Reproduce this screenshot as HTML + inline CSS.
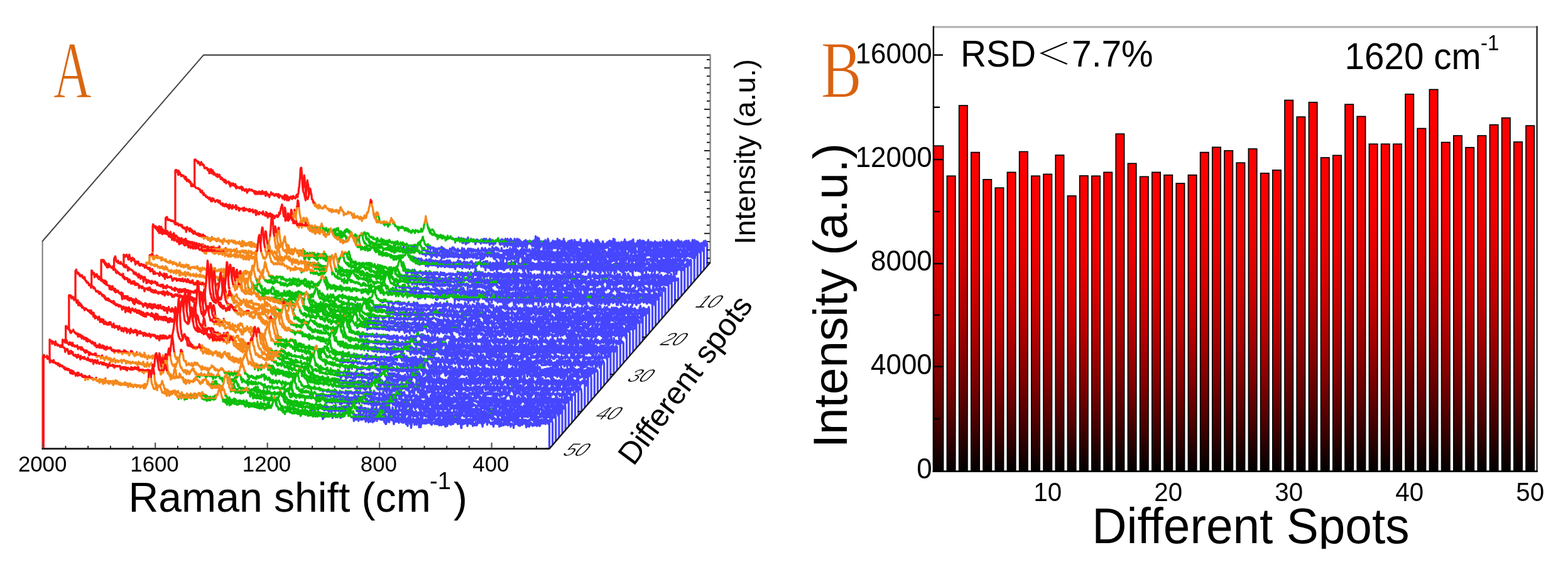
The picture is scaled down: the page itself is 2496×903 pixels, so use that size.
<!DOCTYPE html>
<html><head><meta charset="utf-8"><title>SERS waterfall and bar chart</title>
<style>html,body{margin:0;padding:0;background:#fff;overflow:hidden}svg{display:block}text{font-family:"Liberation Sans",Arial,sans-serif;fill:#000}</style>
</head><body>
<svg width="2496" height="903" viewBox="0 0 2496 903">
<rect width="2496" height="903" fill="#fff"/>
<line x1="67.6" y1="383.8" x2="67.6" y2="714.5" stroke="#7a7a7a" stroke-width="2"/><line x1="67.3" y1="384.5" x2="324" y2="87.6" stroke="#444" stroke-width="2"/><line x1="323.4" y1="87.6" x2="1131" y2="87.6" stroke="#444" stroke-width="2.2"/><line x1="1130.6" y1="86.6" x2="1130.6" y2="418" stroke="#8a8a8a" stroke-width="2.4"/>
<defs><linearGradient id="zg" gradientUnits="userSpaceOnUse" x1="0" y1="0" x2="0" y2="-330.0"><stop offset="0.0000" stop-color="#4646ff"/><stop offset="0.1515" stop-color="#4646ff"/><stop offset="0.1515" stop-color="#0cbf0c"/><stop offset="0.2424" stop-color="#0cbf0c"/><stop offset="0.2424" stop-color="#f5891c"/><stop offset="0.3394" stop-color="#f5891c"/><stop offset="0.3394" stop-color="#ff1414"/><stop offset="1.0000" stop-color="#ff1414"/></linearGradient></defs><g fill="#fff" stroke="url(#zg)" stroke-width="3.3" stroke-linejoin="round" vector-effect="non-scaling-stroke"><path transform="translate(319.97,424.22) scale(0.6692,1.0)" vector-effect="non-scaling-stroke" d="M0 0V-137l1 1 1-3 1 2 1-3 1 4 1 0 1 0 1 1 1 2 1-1 1 2 1-1 1 2 1-5 1 5 1-2 1 2 1-2 1 2 1 2 1-3 1-1 1 2 1 2 1 2 1 0 1-4 1 3 1 2 1-3 1 1 1 1 1 1 1 0 1 1 1 3 1-5 1 3 1 0 1 0 1-1 1 5 1-3 1 4 1-1 1-5 1 3 1 2 1 0 1-2 1 3 1-1 1 1 1 1 1-1 1 0 1-1 1 4 1-4 1 8 1-5 1 0 1 4 1-2 1-1 1 6 1-4 1-1 1 2 1-1 1 3 1 0 1 0 1 1 1 0 1-3 1 2 1 2 1 0 1-4 1 3 1-4 1 4 1 0 1-2 1 2 1 0 1 1 1-2 1 3 1-3 1 6 1-3 1 0 1-2 1 4 1-2 1 1 1 0 1 1 1-3 1 4 1 0 1 2 1 2 1-1 1-4 1 1 1 4 1-2 1 0 1 0 1-1 1 2 1-5 1 4 1 0 1 0 1 2 1 2 1-3 1 0 1-1 1 1 1 3 1-4 1 0 1 0 1 2 1-2 1 5 1 1 1 1 1-3 1-1 1 1 1-1 1 3 1-4 1 2 1-2 1 4 1-3 1-3 1 3 1-1 1 1 1 0 1 1 1-1 1 4 1-5 1-2 1 2 1 4 1-2 1 1 1 1 1-2 1 0 1 2 1-2 1 0 1 3 1-3 1-1 1 3 1-1 1 0 1 0 1 2 1-2 1 0 1 0 1 0 1 2 1-1 1-1 1 0 1 3 1 2 1-4 1 2 1-1 1-3 1 3 1 1 1-1 1-1 1 3 1-1 1 1 1-2 1 0 1 2 1 0 1 0 1 1 1 0 1 0 1 0 1 2 1-4 1 1 1 1 1 1 1-3 1 3 1 0 1 0 1 0 1-4 1 3 1 0 1-2 1 2 1 1 1 0 1-3 1 2 1 0 1 3 1-4 1 0 1 0 1 1 1 1 1 2 1-2 1-1 1 2 1 0 1-1 1-1 1-1 1 4 1-1 1-3 1 1 1-1 1-3 1 0 1 0 1-1 1 0 1-2 1 0 1-6 1-5 1-6 1-7 1-8 1-5 1 5 1 2 1 10 1 8 1 5 1 4 1 4 1 1 1 0 1 4 1 3 1-3 1-2 1 6 1-2 1-1 1 0 1 3 1 0 1-6 1 4 1-1 1-1 1 2 1 1 1 4 1-3 1 4 1-1 1 4 1-2 1 3 1-2 1 0 1-1 1 1 1 3 1-6 1 2 1 0 1 3 1 0 1 0 1 2 1 2 1-4 1 2 1 0 1-3 1 2 1 1 1-2 1 2 1-1 1 0 1-1 1 0 1 1 1 1 1-1 1 0 1 3 1 1 1 0 1-5 1 1 1 4 1-5 1 5 1-1 1 0 1-2 1 6 1-3 1 0 1 3 1-2 1 0 1-2 1 1 1-1 1 1 1 1 1-1 1 1 1-1 1 2 1 0 1-2 1 1 1-4 1 1 1 0 1-4 1 4 1-1 1 3 1-5 1 5 1 0 1 3 1-1 1 1 1 1 1-3 1 4 1 0 1-1 1-1 1 2 1-1 1 1 1-2 1-1 1 3 1-4 1 5 1-8 1 4 1 2 1 0 1 1 1 1 1 3 1-2 1 1 1-2 1 6 1-3 1-1 1 0 1 3 1-3 1 2 1 0 1-3 1 4 1-1 1-1 1 0 1 1 1-1 1 1 1 0 1-1 1 1 1 0 1 1 1-1 1 0 1-1 1 1 1-1 1-2 1 1 1 0 1-2 1 0 1-3 1-1 1 0 1-3 1 2 1-6 1-4 1 0 1 0 1 2 1 3 1 3 1 3 1 4 1 1 1 2 1 1 1-3 1 5 1 0 1 1 1 0 1-2 1 1 1 3 1 1 1-2 1 2 1 0 1 3 1-3 1 2 1 0 1 1 1-1 1-1 1 0 1 2 1-1 1 1 1 0 1 0 1 1 1 0 1-2 1 0 1 4 1-4 1-1 1 2 1 2 1-4 1 1 1-2 1 1 1-2 1 1 1-1 1 0 1 1 1 2 1-3 1 4 1 1 1 1 1 2 1-2 1 0 1 0 1 2 1 1 1-1 1-1 1 1 1-2 1 2 1 0 1-1 1 1 1 1 1 1 1-1 1 0 1 2 1-2 1 0 1 2 1 0 1 0 1-1 1-3 1 7 1-3 1 0 1-1 1 4 1-4 1 2 1 0 1-2 1 2 1-2 1 1 1 1 1-2 1 3 1-4 1 0 1 2 1 3 1-3 1 0 1 0 1 2 1-4 1 1 1 4 1-1 1 3 1-5 1-1 1-1 1 3 1 0 1-1 1 1 1-3 1 2 1 1 1-1 1 4 1-6 1-1 1 0 1-3 1-1 1 0 1 0 1-1 1 1 1 0 1 2 1 0 1 5 1-2 1 3 1-1 1 3 1 5 1-6 1 2 1 1 1-3 1 1 1 2 1 0 1-3 1 3 1-1 1 3 1-3 1 3 1-2 1 4 1-4 1-1 1 4 1-1 1-2 1 1 1 1 1-1 1 1 1-1 1 2 1-1 1 0 1 0 1 1 1-1 1 0 1 1 1 4 1-7 1 3 1 2 1-2 1 1 1-1 1-1 1 1 1 1 1 0 1 1 1-1 1-1 1 1 1 1 1-2 1 1 1-2 1-2 1 4 1-1 1 0 1 2 1 0 1-4 1 2 1-1 1 4 1-3 1-1 1 0 1 7 1-5 1 0 1-1 1 4 1-2 1-2 1 1 1 0 1-4 1 4 1 3 1-2 1 1 1 1 1-2 1-3 1 3 1 0 1 1 1-1 1-1 1 1 1-1 1 0 1 2 1-1 1 0 1 1 1-2 1-1 1 4 1-2 1-1 1 2 1 0 1 0 1-1 1 0 1 1 1 2 1-4 1-1 1 4 1-1 1 0 1-3 1-1 1 6 1-3 1 1 1-1 1-3 1 5 1 0 1-2 1 0 1-1 1 1 1 2 1-1 1-4 1 3 1 3 1-4 1 3 1-2 1 6 1-7 1 4 1-2 1 0 1 0 1 2 1 0 1-1 1 3 1-2 1 0 1-2 1 1 1-1 1 1 1 4 1-4 1-2 1 2 1-1 1-1 1 1 1-2 1-1 1 3 1-2 1 2 1 1 1-2 1 0 1-3 1 5 1-2 1 1 1 3 1-7 1 4 1 3 1-5 1 5 1 1 1-3 1-5 1 9 1-8 1 3 1 4 1-4 1 0 1 0 1-1 1 1 1-4 1 6 1-4 1 2 1-1 1-1 1-2 1 6 1 0 1-5 1 0 1 5 1-4 1 4 1 0 1-2 1 2 1 0 1 0 1 0 1 2 1 2 1-6 1 2 1-1 1-1 1 3 1 0 1 0 1-1 1-2 1 2 1 0 1-2 1 3 1 1 1-4 1 0 1 2 1-2 1 6 1-5 1 0 1 1 1 0 1-2 1 0 1 2 1-4 1 4 1-10 1 8 1 0 1 1 1-7 1 7 1-1 1-5 1 1 1 11 1-6 1 0 1-1 1 2 1 0 1 7 1-2 1-6 1 5 1-2 1-1 1 3 1 2 1-10 1 4 1 2 1-3 1 9 1-7 1-7 1 2 1 3 1 4 1-2 1 5 1-4 1 5 1-4 1-3 1 4 1-1 1-6 1 4 1 0 1 3 1-6 1 1 1 1 1-1 1 4 1-2 1-2 1-5 1 3 1 1 1 1 1 8 1-11 1 8 1-1 1-4 1-1 1 0 1 2 1 2 1 4 1-8 1-4 1 8 1-4 1 3 1 1 1-1 1 8 1-8 1 2 1-3 1 1 1-3 1 0 1 4 1 0 1-5 1 4 1 4 1 1 1-10 1 5 1 6 1-5 1-1 1 1 1-6 1 0 1 8 1 0 1-3 1-2 1 1 1 0 1 1 1 2 1-4 1 10 1-9 1 3 1-1 1-7 1 6 1 5 1-4 1-1 1 5 1-3 1 5 1-7 1 0 1 0 1 1 1-2 1 3 1-6 1-1 1 6 1 0 1-3 1 4 1-2 1 2 1-2 1 2 1-1 1-4 1 9 1-7 1 2 1 1 1 0 1 4 1-3 1-2 1 4 1-5 1-5 1 0 1 3 1 1 1 4 1-8 1 8 1-5 1 0 1 3 1 0 1 2 1-2 1 1 1 2 1 0 1-5 1-2 1 7 1 5 1-6 1 1 1-1 1-2 1 0 1 0 1 2 1-4 1 3 1-1 1 0 1-4 1 5 1-3 1 2 1-4 1 3 1 0 1-3 1 1 1 5 1-2 1-8 1 12 1-5 1-6 1 13 1-5 1 0 1 3 1-4 1 0 1 1 1 3 1-6 1 0 1 2 1 3 1-3 1-1 1 1 1-3 1 3 1-1 1 4 1-4 1-2 1 1 1 3 1-8 1 5 1 2 1-1 1-2 1 4 1-2 1-1 1 2 1-3 1 3 1 1 1 0 1-5 1 5 1-2 1 1 1-5 1 0 1 11 1-13 1 6 1 5 1-4 1 5 1-5 1 2 1-1 1 0 1-2 1-1 1-3 1 5 1-1 1 8 1-7 1-6 1 8 1-6 1 2 1 2 1-3 1 2 1-4 1 7 1-2 1-4 1 2 1 3 1-3 1 2 1-1 1-1 1-1 1 7 1-5 1-5 1 6 1-1 1 5 1-6 1 2 1-3 1 2 1-1 1 7 1-6 1 4 1-1 1-1 1-2 1 0 1-3 1 12 1-6 1-1 1-3 1 2 1 0 1-2 1 1 1 2 1 3 1-4 1-3 1 2 1 5 1-4 1 0 1-1 1 0 1-5 1 6 1 0 1-1 1-2 1 2 1 1 1-1 1 2 1-6 1 7 1 1 1-5 1 3 1-4 1 3 1 0 1 4 1-6 1 6 1-10 1 3 1 5 1 1 1-6 1 3 1 3 1-3 1 1 1-1 1-1 1-3 1 2 1 4 1-2 1 0 1-6 1 10 1-4 1-4 1 5 1 0 1-1 1 1 1-5 1 8 1-2 1 2 1-5 1 3 1-5 1 0 1-1 1 6 1 7 1-8 1-6 1 4 1 6 1-5 1-3 1-2 1 4 1-1 1 0 1 3 1 3 1-5 1 4 1-2 1-7 1 6 1 0 1-5 1 6 1-7 1 2 1 5 1 0 1 2 1-7 1 6 1 6 1-11 1 3 1 0 1-1 1 7 1-2 1-4 1 5 1-5 1-1 1 0 1 0 1 5 1-3 1-5 1 6 1-3 1 5 1-9 1 7 1-2 1 0 1 0V0"/><path transform="translate(314.85,430.15) scale(0.6692,1.0)" vector-effect="non-scaling-stroke" d="M0 0V-149l1-2 1-2 1 3 1-1 1 5 1-5 1 1 1 1 1 2 1-1 1 2 1-1 1 1 1 1 1 1 1 5 1-3 1-2 1 3 1 1 1-1 1 0 1 0 1-2 1 1 1-2 1 3 1 2 1 2 1-4 1 4 1-1 1 2 1-2 1 3 1-1 1 1 1-2 1 2 1 0 1 1 1 1 1-2 1 1 1 0 1-2 1 4 1 1 1-1 1 1 1 0 1 0 1 1 1-2 1 1 1 2 1-1 1 0 1 2 1 1 1-1 1 2 1 3 1-1 1-1 1 1 1 1 1 0 1 2 1 1 1 1 1-3 1 2 1-1 1-2 1 3 1-1 1 1 1-2 1 5 1-2 1-3 1 3 1-2 1 4 1 2 1-5 1 2 1 1 1-3 1 5 1-5 1 4 1 1 1 0 1-1 1 1 1-2 1 5 1 0 1-2 1-1 1-1 1 2 1 0 1-1 1 5 1-2 1-5 1 4 1-3 1 4 1 1 1 3 1-3 1 0 1 0 1 0 1 0 1 1 1 3 1-3 1-4 1 8 1-5 1 1 1-1 1 2 1-1 1 0 1-2 1 3 1 2 1 0 1-5 1 3 1 1 1-2 1-1 1 2 1 1 1-1 1 1 1 3 1-7 1 4 1 1 1-3 1-2 1 2 1 3 1 0 1-1 1 0 1-1 1-2 1 2 1 3 1-1 1 2 1-1 1 2 1 0 1 0 1-1 1-1 1-1 1 3 1-1 1-2 1 0 1 0 1 1 1 0 1 0 1-1 1 4 1-2 1-1 1 2 1-1 1 1 1-1 1-1 1 1 1 1 1 1 1-1 1 0 1 1 1-2 1 1 1-3 1 3 1-2 1 2 1 0 1-1 1 4 1-2 1 0 1 3 1-4 1 1 1-2 1 3 1 0 1-3 1 3 1-2 1 2 1 0 1 1 1 0 1-1 1 2 1-3 1-2 1 6 1 1 1 2 1-8 1 6 1-3 1 1 1 1 1-1 1-1 1 5 1-6 1 2 1 1 1 0 1-2 1 1 1 0 1 0 1-1 1-2 1 2 1-2 1 0 1 0 1-1 1-2 1-1 1-3 1-2 1-5 1-10 1-6 1-11 1-7 1 4 1 10 1 6 1 9 1 7 1 2 1 6 1 5 1 1 1 0 1 0 1 0 1 3 1 3 1-4 1 0 1-1 1-3 1-3 1-4 1 0 1 4 1-3 1 1 1 0 1 9 1 0 1 2 1 2 1 1 1 1 1 1 1 2 1-2 1 0 1 0 1 0 1-2 1 4 1-2 1 3 1-1 1 0 1 2 1 0 1 0 1 2 1-2 1 2 1-1 1-2 1-4 1-1 1 4 1 0 1-3 1 0 1 1 1 0 1 1 1 2 1 1 1 1 1 0 1-1 1-1 1 0 1 3 1 3 1-1 1-1 1 2 1 0 1 3 1-2 1 0 1 2 1-2 1 1 1-3 1 2 1 0 1-2 1 2 1 3 1-2 1-1 1 2 1 0 1-2 1 1 1 0 1-1 1 0 1 3 1-2 1 0 1-2 1 6 1-2 1 1 1-1 1 0 1 4 1-4 1 0 1 2 1-3 1 2 1-1 1 3 1-3 1 0 1-3 1 0 1 1 1 3 1-3 1 1 1-3 1 4 1 1 1 1 1 0 1 3 1-3 1 1 1 1 1 0 1 1 1 2 1-1 1 2 1 0 1-2 1-2 1 3 1-1 1-4 1 3 1-1 1 2 1 0 1 0 1 0 1 1 1 0 1 0 1 2 1-2 1-2 1 1 1 2 1-3 1 4 1-7 1 2 1 0 1-1 1-3 1 5 1-2 1-7 1-2 1-2 1-2 1 4 1-5 1 5 1 5 1 0 1 3 1 1 1 1 1-2 1 7 1-5 1 5 1 2 1 0 1 0 1-2 1 2 1 4 1-3 1 1 1-2 1 5 1-4 1-1 1 7 1-4 1 1 1-1 1 2 1-4 1 4 1-2 1 1 1 1 1 0 1-3 1 6 1-3 1 0 1 0 1 0 1 2 1-3 1 0 1 0 1 0 1 0 1 4 1-5 1 0 1 1 1-3 1 5 1-2 1 1 1 0 1 0 1 4 1-4 1 3 1 0 1-3 1 3 1 0 1 4 1-3 1 1 1 0 1 0 1-4 1 3 1 0 1 3 1 0 1-2 1 3 1-5 1 4 1 0 1 0 1 1 1 0 1-1 1 0 1 1 1 1 1-2 1 3 1-2 1 0 1-2 1 3 1-1 1-2 1 2 1-2 1 1 1 4 1-3 1-1 1 1 1 0 1-4 1 4 1 0 1-1 1 2 1 4 1-4 1 0 1-3 1 3 1 2 1-5 1 4 1 1 1-1 1 0 1 2 1-4 1 0 1-3 1 5 1-5 1 0 1 0 1-2 1-2 1-1 1 0 1-4 1 4 1 0 1 3 1-1 1 4 1 2 1-3 1 5 1-1 1 3 1-2 1 1 1 0 1 2 1 1 1-1 1-2 1 4 1 3 1-2 1-3 1 7 1-2 1 0 1-4 1 2 1-1 1 0 1 1 1-1 1 1 1 0 1 1 1 4 1-5 1 2 1 0 1-3 1 2 1 2 1-3 1 1 1 3 1-2 1-1 1 0 1-4 1 3 1 1 1-2 1 5 1-2 1-3 1 2 1 1 1-1 1-1 1 1 1 4 1 0 1-3 1 4 1-2 1-3 1 1 1 2 1-4 1 3 1-3 1 2 1 0 1 1 1-1 1 2 1 0 1-3 1 3 1-1 1-1 1 2 1 0 1-3 1 3 1 0 1-3 1 3 1-1 1-2 1 2 1-4 1 2 1 0 1 3 1 0 1-2 1-1 1 3 1 0 1 0 1 1 1-2 1 0 1 0 1 3 1-1 1 0 1-1 1 0 1-4 1 4 1 1 1-3 1-2 1 2 1 1 1 1 1 0 1 0 1-2 1 0 1 2 1-2 1 2 1 0 1 1 1 0 1 0 1-3 1 2 1-1 1 0 1 0 1 2 1-2 1 3 1-2 1 4 1-7 1 1 1 4 1-3 1-1 1 5 1-3 1 0 1-1 1-1 1 1 1 2 1-1 1 0 1 5 1-3 1-1 1 1 1 0 1-2 1-3 1 4 1 0 1-1 1 0 1 0 1 6 1-8 1 4 1-1 1-2 1 0 1-2 1 2 1-5 1 3 1-1 1 2 1 3 1 4 1-6 1 1 1 0 1 1 1 1 1-1 1 1 1-4 1 5 1-7 1 3 1 3 1-2 1 1 1 0 1-1 1-1 1 4 1-5 1 8 1 2 1-7 1 1 1 0 1 0 1 0 1-3 1 0 1 4 1 0 1-2 1 3 1-2 1-1 1 8 1-9 1 1 1 1 1 1 1-2 1 1 1-3 1 2 1 1 1-3 1 2 1 3 1-2 1-1 1-4 1 5 1 0 1-7 1 7 1-3 1 5 1-2 1 1 1-5 1 3 1 2 1 1 1-3 1 3 1-4 1-1 1 1 1 1 1-2 1 2 1-5 1 7 1-5 1 3 1-1 1-1 1 5 1-4 1-3 1 5 1-1 1 3 1 1 1-3 1-1 1 4 1 2 1-3 1-1 1 1 1-6 1 3 1-2 1 3 1-1 1-4 1 10 1-6 1 2 1-4 1 4 1-3 1 3 1-1 1 0 1-3 1 1 1 3 1-1 1 3 1 2 1-5 1-2 1 2 1 1 1 0 1 0 1 0 1 1 1-4 1 3 1-4 1 1 1 1 1-1 1-3 1 0 1 6 1 1 1-2 1-4 1 5 1 7 1-1 1-5 1-2 1-1 1 4 1-1 1 0 1 4 1 4 1-8 1 0 1-3 1 6 1-5 1 4 1-2 1 0 1 3 1-7 1 0 1-1 1 14 1-9 1 0 1-3 1 5 1 1 1-5 1 4 1 3 1-1 1-4 1 0 1-1 1 0 1 9 1-12 1 2 1-2 1 3 1 2 1 1 1-6 1 4 1 0 1-1 1 0 1 0 1 1 1 0 1-1 1 2 1 1 1-5 1 2 1 1 1 3 1 3 1-9 1-1 1 6 1-2 1 8 1-7 1-1 1 2 1-3 1-2 1 7 1-3 1 2 1 1 1-1 1-1 1-4 1 2 1 9 1-3 1-10 1 5 1-1 1 2 1-3 1 2 1-1 1 2 1-3 1 3 1 1 1-3 1-2 1 4 1 0 1 1 1-3 1-1 1 4 1-3 1 1 1 3 1-4 1 2 1 1 1-8 1 10 1-3 1-1 1 1 1 6 1-10 1 5 1-2 1-4 1-2 1 2 1 4 1-2 1-2 1 3 1-8 1 9 1-4 1 3 1 0 1 2 1-8 1 8 1-6 1 7 1-2 1 1 1-8 1 9 1-6 1 4 1-6 1 4 1 3 1-2 1 3 1-2 1 6 1-7 1 1 1 2 1 6 1-12 1 7 1-2 1 5 1-5 1 0 1-1 1 1 1 1 1-4 1 3 1 0 1-1 1 1 1-3 1 6 1-4 1 0 1 1 1-4 1 4 1-1 1 0 1-3 1 4 1-4 1-3 1 7 1 1 1-4 1 3 1 1 1 3 1-5 1-4 1 2 1 2 1 1 1-7 1 5 1-4 1 4 1-1 1-1 1 4 1-2 1 3 1-8 1-2 1 6 1 3 1 1 1-2 1 0 1 2 1 2 1-4 1-1 1 6 1-3 1 0 1-1 1-1 1 1 1-3 1 4 1 0 1-3 1-1 1 0 1 5 1-1 1-2 1-6 1 6 1-1 1 2 1-7 1 9 1-3 1 0 1-2 1 0 1 3 1 1 1-8 1 6 1 1 1 2 1-5 1-1 1 2 1 1 1-1 1-5 1 6 1-2 1-1 1 2 1 1 1 2 1-3 1-1 1-3 1 8 1 0 1-3 1-2 1 6 1-4 1 2 1-8 1 7 1 3 1-6 1 3 1-1 1 3 1-3 1 3 1-2 1-1 1 1 1-1 1-3 1 2 1 7 1-12 1 8 1-2 1-1 1 0 1 1 1 0 1-1 1 1 1 1 1-1 1 1 1 1 1-2 1 1 1 0 1-2 1-1 1 2 1 2 1-6 1 8 1-6 1 3 1 0 1-3 1 2 1-5 1 3 1 6 1-3 1-2 1 6 1-5 1-6 1 8 1 1 1-1 1-1 1 1 1-1 1-2 1 2 1 0 1 3 1 1 1-9 1 6 1-6 1 6 1-2 1-1 1 5 1 0 1-4 1 2 1-2 1 1 1 0 1 0 1 1 1-1 1 0 1-1 1 6 1-11 1 6 1-5 1 12 1-3 1-2V0"/><path transform="translate(309.72,436.07) scale(0.6692,1.0)" vector-effect="non-scaling-stroke" d="M0 0V-182l1 2 1-2 1 1 1 0 1 1 1 1 1 0 1 3 1-3 1 1 1 1 1 1 1 3 1-4 1 1 1-2 1 4 1-1 1 0 1 2 1-1 1 1 1 4 1 1 1-1 1 0 1 0 1 1 1-1 1 1 1 3 1-1 1-1 1 1 1 6 1-5 1 3 1-2 1-3 1 7 1-3 1 1 1-3 1 2 1 5 1-2 1-1 1 3 1-1 1 2 1 1 1 0 1 1 1-4 1 5 1-1 1 0 1 0 1-3 1 3 1 0 1 4 1-2 1 2 1-2 1 2 1 2 1-2 1 2 1 0 1 3 1-4 1 2 1-1 1 5 1-3 1 1 1 0 1 0 1 0 1-1 1 4 1-3 1 4 1 3 1-3 1 0 1-2 1 1 1 2 1-1 1-2 1 3 1 0 1-1 1 3 1-4 1 5 1 2 1-4 1 3 1-1 1 0 1 1 1-1 1 0 1 2 1-2 1 0 1 2 1-3 1 2 1 4 1-5 1 2 1 2 1-1 1 1 1 2 1-2 1 1 1 0 1-2 1 3 1 3 1-3 1-1 1 1 1-2 1-1 1 1 1 1 1-1 1 0 1 1 1-1 1 2 1-1 1 1 1 0 1 0 1 3 1-3 1 5 1-3 1 0 1-1 1 4 1-3 1 0 1 3 1-3 1-1 1 3 1-3 1 4 1-2 1 0 1 2 1-4 1-1 1 1 1 4 1-3 1 1 1 1 1-2 1 3 1 3 1-7 1 3 1-1 1 1 1 3 1-2 1 2 1 1 1 2 1-4 1 0 1 0 1-4 1 2 1 1 1 1 1-2 1 0 1 2 1 1 1 1 1-1 1 0 1-2 1 2 1 0 1-2 1 2 1 2 1-1 1-3 1 6 1-2 1-1 1-1 1 1 1 0 1 1 1 0 1 3 1-3 1 3 1-4 1 4 1 2 1-8 1 6 1-2 1 3 1-6 1 8 1-5 1-1 1 2 1 4 1-1 1-1 1-3 1 1 1-2 1 2 1 0 1 2 1-1 1-4 1 0 1 3 1-1 1 0 1 2 1 0 1-2 1-3 1-1 1 3 1 1 1-5 1-1 1-9 1-1 1-9 1-6 1-14 1-2 1 0 1 9 1 9 1 12 1 6 1 3 1 1 1 2 1 4 1 2 1 4 1-5 1 2 1 0 1-1 1 2 1-2 1-2 1-3 1-1 1-6 1-3 1 3 1 5 1 1 1 8 1 1 1 0 1 3 1 3 1-1 1 1 1 4 1-1 1-2 1 1 1 4 1-2 1-1 1 2 1 3 1-3 1-3 1 2 1 3 1-3 1 2 1 1 1 0 1 1 1-1 1 0 1 1 1-3 1 0 1 1 1-3 1 3 1-2 1 2 1 1 1 1 1 0 1 1 1-1 1 3 1 0 1 1 1-3 1 0 1 3 1 0 1 2 1-5 1 3 1-2 1 3 1 0 1-1 1-1 1 0 1 2 1 0 1-3 1 3 1-2 1 1 1-1 1 4 1 1 1-2 1-3 1-1 1-4 1 0 1 5 1-2 1 2 1 0 1 2 1 0 1 6 1-4 1 1 1 1 1-1 1 0 1 1 1 0 1-1 1-1 1-2 1 2 1 1 1-2 1 0 1 0 1 0 1 1 1 0 1 4 1-2 1 1 1 5 1-3 1-4 1 4 1 3 1-3 1 0 1 2 1-1 1 1 1-1 1-1 1 2 1 1 1 1 1-2 1 3 1-3 1-1 1 1 1 0 1 6 1-5 1 1 1-1 1 1 1 0 1-5 1 1 1 3 1-4 1 4 1-3 1-5 1-1 1 1 1-2 1-2 1-5 1-1 1-4 1-2 1-5 1 2 1 0 1 8 1 1 1 3 1 5 1 5 1 2 1 3 1 0 1 0 1 3 1 0 1 4 1-4 1 4 1-3 1 1 1 2 1-1 1 1 1-1 1 1 1 1 1 0 1-1 1-1 1 0 1 2 1-1 1 3 1-5 1 7 1-5 1 1 1 2 1-2 1-2 1 5 1-2 1 5 1-6 1 3 1-3 1 3 1-4 1-3 1 1 1-5 1 3 1 2 1-2 1 6 1-1 1-2 1 1 1 4 1 2 1-1 1 1 1 1 1 0 1 1 1 2 1-3 1 6 1-5 1 1 1-1 1 0 1 1 1-1 1 1 1-2 1 2 1-2 1 1 1 1 1 1 1 0 1 3 1-4 1 0 1 0 1 4 1 0 1-3 1 0 1 4 1 1 1-3 1 1 1 2 1 0 1-1 1 3 1-3 1 2 1-3 1-1 1 1 1 0 1 1 1 1 1 2 1-1 1-4 1 1 1 1 1 0 1 0 1-1 1 3 1-2 1 0 1 1 1 0 1 0 1-1 1-4 1 3 1 2 1-1 1-3 1 0 1-2 1-5 1-2 1-4 1-2 1-6 1 5 1 5 1 0 1 5 1 2 1 3 1 1 1 2 1 2 1 2 1-4 1 5 1 0 1 0 1 2 1 0 1 0 1 0 1 0 1 0 1-1 1 0 1 2 1 1 1-1 1 1 1-2 1 7 1-5 1 1 1 1 1-3 1 3 1-2 1 0 1-2 1 5 1 0 1 1 1-2 1-3 1 2 1 2 1 0 1-2 1 1 1 5 1-5 1 2 1-1 1 2 1-6 1 4 1 0 1 1 1-1 1-1 1-1 1-1 1 4 1 0 1 0 1 1 1-2 1 2 1 0 1 0 1 0 1 1 1 4 1-6 1 3 1-3 1 3 1 0 1-1 1-2 1 3 1 0 1 0 1 2 1-2 1-3 1 0 1 4 1-4 1 7 1-5 1 5 1-4 1 1 1 0 1-3 1 3 1 5 1-3 1-3 1 3 1 1 1-1 1-5 1 4 1 1 1-2 1 0 1 0 1-3 1 3 1 0 1-3 1 3 1 1 1-2 1-2 1 3 1 1 1 0 1 4 1-3 1-3 1 2 1-2 1 1 1 1 1-1 1 1 1-1 1 1 1 1 1-2 1 4 1-7 1 1 1 2 1 2 1 0 1 0 1 0 1 1 1-2 1-1 1 2 1-1 1 2 1-2 1-2 1 3 1-3 1 3 1 0 1 1 1 3 1-1 1-4 1 3 1-3 1 3 1-3 1-3 1 3 1 5 1-5 1 1 1-2 1 4 1-1 1-5 1 1 1-1 1 2 1-1 1-4 1 2 1 4 1-1 1 5 1-3 1 4 1-4 1-1 1-1 1 3 1 2 1-5 1 0 1-1 1 10 1-5 1 0 1 0 1 2 1-5 1 3 1 5 1-4 1-1 1 2 1-3 1 3 1-1 1 1 1 1 1-5 1 4 1-2 1-2 1 4 1 6 1-7 1 2 1-4 1 5 1-3 1 7 1-5 1 1 1-5 1 3 1-1 1 4 1-2 1-4 1 3 1-2 1 2 1 2 1-5 1 5 1 1 1-3 1 4 1-5 1 0 1 2 1 0 1-1 1 4 1 0 1-4 1 7 1-6 1-2 1-2 1 0 1 1 1-4 1-1 1 2 1 1 1 3 1-3 1 3 1 3 1-3 1 1 1 1 1 1 1-1 1 0 1 1 1 5 1-2 1-8 1 6 1-1 1 4 1-4 1 0 1-1 1-4 1 6 1 0 1 1 1-2 1-1 1-7 1 5 1 0 1 0 1 10 1-6 1-1 1 5 1-2 1-4 1 1 1 4 1 1 1-5 1 2 1 1 1-2 1 0 1-6 1 10 1-6 1 2 1 0 1-2 1 7 1-4 1 1 1-4 1 1 1 3 1 0 1-3 1 3 1 0 1-5 1 5 1 0 1 0 1 5 1-5 1-2 1 1 1-2 1 4 1-1 1 1 1 1 1 1 1-1 1 0 1-2 1 1 1-2 1 0 1 2 1-1 1 1 1 1 1-2 1 0 1-5 1 3 1 7 1-5 1 4 1-5 1-2 1 2 1 5 1-3 1 2 1-3 1-1 1 0 1 2 1-1 1 3 1-7 1 0 1 11 1-7 1 0 1 3 1 4 1 2 1-9 1 10 1-7 1-3 1 7 1-6 1 2 1 0 1-1 1 1 1-4 1 2 1 1 1 3 1-3 1-7 1 3 1 7 1-3 1-1 1 0 1 3 1-1 1-2 1-1 1 0 1 0 1 1 1 8 1-6 1-1 1 1 1-1 1 0 1 0 1 7 1-11 1-2 1 5 1 2 1-1 1-4 1 3 1 0 1 0 1-5 1 6 1 4 1-4 1-4 1 7 1 1 1 1 1-1 1-2 1-4 1 1 1-1 1 1 1 1 1-3 1 4 1-1 1-1 1-1 1-1 1 1 1-1 1 1 1-2 1-2 1 3 1-1 1 2 1 0 1 1 1 3 1-1 1 1 1-2 1-1 1-1 1 3 1-1 1 2 1-4 1 1 1 1 1 1 1-7 1 6 1-6 1 7 1 1 1-3 1-3 1 6 1-5 1 3 1-4 1-1 1 5 1-5 1 7 1-2 1 0 1 1 1-1 1-2 1 5 1-3 1 0 1 2 1-3 1 2 1-2 1 1 1-1 1-3 1 0 1 4 1 2 1 0 1-4 1 1 1 0 1-1 1 2 1-3 1 2 1 0 1-2 1 2 1-1 1-3 1 4 1-2 1 2 1-1 1-4 1-3 1 1 1 3 1 0 1 0 1 3 1 2 1 7 1-9 1 0 1 0 1 2 1-1 1 0 1 1 1-1 1 3 1-2 1 0 1 0 1 2 1 1 1-3 1 4 1-6 1 5 1-4 1 2 1-4 1 5 1 1 1-3 1-1 1 3 1-1 1-1 1 2 1 0 1-1 1 1 1 2 1-7 1 7 1-9 1 4 1 2 1-3 1 7 1-5 1 2 1 0 1-4 1 9 1-9 1 7 1-5 1 3 1-1 1-4 1 2 1 5 1-2 1-1 1-2 1 9 1-10 1 0 1-3 1 7 1 0 1-4 1 2 1 2 1 5 1-5 1-3 1-1 1 3 1-5 1 4 1 0 1 0 1 0 1 1 1-3 1 2 1 2 1-2 1-4 1 3 1 5 1-3 1 0 1 7 1-13 1 2 1 7 1-4 1 1 1 1 1-1 1 4 1-6 1 2 1-2 1-1 1 2 1 1 1 2 1-3 1 0 1-1 1 4 1 3 1-9 1 3 1 5 1-5 1 5 1-5 1 1 1-1 1 4 1-7 1-1 1-2 1 4 1 3 1-7 1 5 1-1 1 1 1 2 1-4 1 2 1 3 1-1 1 2 1-2 1-6 1 6 1 1 1-3 1 6 1-1 1-5 1 4 1-4 1-1 1 2 1 4 1-2 1-2 1-5V0"/><path transform="translate(304.60,442.00) scale(0.6692,1.0)" vector-effect="non-scaling-stroke" d="M0 0V-127l1 2 1 1 1-1 1-1 1 0 1-3 1 2 1 1 1 2 1 1 1-1 1 2 1-2 1 1 1 3 1-3 1 4 1-1 1-4 1 3 1-1 1 0 1 3 1-1 1 2 1 2 1 0 1 0 1-2 1 0 1 0 1 2 1-1 1 2 1 0 1-1 1 2 1-4 1 5 1 1 1-3 1 0 1 4 1-1 1 0 1 2 1-2 1-1 1 0 1 2 1-1 1 1 1-1 1 2 1-5 1 6 1-2 1 0 1-1 1 3 1-1 1 2 1 2 1-1 1 0 1 1 1-1 1 2 1 0 1 1 1 0 1 5 1-4 1-1 1 0 1 1 1-1 1 1 1 1 1 1 1-2 1-1 1 2 1 2 1-2 1 1 1-2 1 6 1-5 1 1 1-2 1 1 1 5 1-5 1 1 1 2 1 1 1-1 1 0 1 0 1 4 1-2 1-2 1 0 1 0 1 0 1 1 1-2 1 2 1 2 1-2 1 0 1 1 1-4 1 5 1 1 1-3 1 3 1-1 1 0 1 1 1-1 1 2 1-2 1 3 1-2 1-3 1 3 1-2 1 2 1 2 1-1 1-2 1 3 1-3 1 1 1-3 1 3 1 0 1 0 1 0 1-3 1 3 1-1 1 1 1 3 1-2 1 0 1 0 1 1 1 0 1 0 1 3 1-2 1-1 1 0 1-2 1 2 1 0 1 0 1 1 1 3 1-4 1 0 1 1 1-1 1 0 1 0 1 5 1-7 1 3 1 1 1-1 1 2 1-1 1-2 1 1 1-3 1 5 1-1 1 0 1 4 1-4 1 1 1 0 1 1 1-1 1 0 1-2 1 0 1-2 1 0 1 3 1 1 1-1 1 3 1-3 1 1 1-1 1 0 1 3 1-4 1 5 1-3 1 2 1 2 1-3 1 1 1 1 1-3 1 2 1-4 1 3 1 1 1 2 1-4 1 4 1-3 1 1 1 0 1 3 1-2 1 4 1-5 1 0 1 2 1-2 1 1 1-2 1 3 1-1 1-1 1-4 1 2 1 2 1-2 1 2 1 1 1-4 1 5 1-4 1-3 1 6 1-5 1 0 1 3 1-5 1-2 1-4 1-5 1-7 1-3 1-8 1 1 1 4 1 7 1 5 1 6 1 2 1 4 1 3 1 5 1-3 1 1 1 3 1-1 1-2 1 2 1 1 1-2 1 0 1 3 1-3 1-8 1 5 1-3 1 7 1-2 1 3 1 1 1 3 1-1 1-1 1 1 1 2 1-2 1-1 1 2 1 1 1 4 1-2 1-2 1 2 1-5 1 4 1 1 1-1 1 2 1-4 1 3 1-1 1 2 1-1 1-2 1 1 1 2 1-4 1-1 1 0 1-4 1 4 1 0 1 6 1-3 1 2 1 0 1-1 1 4 1-2 1 1 1-4 1 3 1 2 1 0 1 3 1-2 1-4 1 1 1 1 1 2 1 0 1-1 1 0 1 6 1-3 1-2 1 2 1-5 1 6 1-7 1 5 1 0 1-2 1-1 1-3 1 3 1-2 1-1 1-1 1 4 1 1 1 4 1-3 1 1 1 1 1-3 1 3 1 1 1 0 1 3 1-5 1 1 1 0 1 0 1-4 1 3 1 0 1-2 1-3 1 1 1-1 1 4 1-3 1 2 1 3 1-1 1-2 1 3 1 1 1 0 1 0 1 1 1 4 1-1 1 1 1-1 1 2 1-2 1-2 1-1 1 7 1-4 1 2 1-3 1 5 1-1 1-1 1 4 1-5 1 2 1-2 1-2 1 3 1 0 1-4 1 4 1-3 1 1 1 5 1-4 1-1 1 3 1-5 1-1 1 1 1-2 1 0 1-1 1 1 1 0 1 0 1 2 1 2 1 1 1 0 1 1 1-1 1 0 1 0 1 1 1 2 1 0 1-2 1 3 1-1 1 1 1 0 1 0 1 0 1 1 1 4 1-7 1 1 1 3 1-1 1 3 1-2 1 0 1 0 1 2 1 0 1-5 1 2 1 3 1-3 1 0 1 3 1-3 1 2 1 0 1 1 1-1 1 0 1 0 1 2 1-3 1 2 1 0 1-1 1 2 1-4 1 2 1 0 1 2 1 0 1 1 1 0 1-1 1-1 1 2 1-1 1 3 1-1 1 3 1-6 1 5 1-2 1-1 1 2 1-5 1 1 1 4 1 1 1-2 1 0 1 0 1 0 1-2 1 2 1 2 1-2 1 2 1-4 1 4 1 5 1-7 1 3 1-2 1 1 1 0 1 0 1-2 1 1 1 1 1 1 1 0 1 1 1-1 1 0 1 0 1 0 1 0 1 1 1 0 1-1 1 2 1-1 1 0 1-2 1 2 1 2 1-4 1 2 1-2 1 2 1 0 1-1 1 2 1-6 1 5 1-4 1 1 1-1 1 1 1-5 1 1 1-2 1 0 1-2 1-3 1-1 1 6 1 0 1 2 1 3 1 1 1 1 1 1 1-1 1 2 1 0 1 2 1-5 1 7 1-4 1 1 1 1 1-3 1 7 1-3 1 0 1-1 1 1 1-1 1 0 1 6 1-5 1 1 1-1 1 1 1 1 1 4 1-4 1-1 1 1 1 0 1-1 1 1 1-2 1 2 1 0 1 0 1-2 1 2 1-4 1 9 1-8 1 4 1-3 1 6 1-5 1 2 1-1 1 1 1 1 1 1 1 0 1-2 1 1 1 3 1-2 1 0 1 0 1-2 1-2 1 1 1 0 1 2 1-3 1 0 1-2 1 3 1 0 1-3 1 5 1-3 1 1 1 0 1 2 1 2 1-1 1-2 1 1 1-3 1 5 1-3 1 1 1 1 1 0 1-1 1 0 1 1 1 0 1-5 1 4 1-1 1 0 1 1 1-3 1 3 1 1 1 2 1-2 1 2 1-3 1 0 1 4 1-7 1 2 1 1 1-3 1 3 1 1 1-2 1-2 1 6 1-3 1 1 1-3 1 4 1-4 1 3 1-2 1 0 1 0 1 3 1-3 1 2 1 0 1 0 1 0 1-4 1 2 1 2 1-1 1 3 1-2 1-1 1 0 1 0 1-4 1 0 1 3 1 1 1-1 1 2 1-3 1 3 1-5 1 10 1-7 1 2 1-2 1 1 1-1 1 1 1 0 1-3 1 6 1-6 1 3 1-1 1 0 1 1 1-1 1-5 1 5 1-3 1 8 1-6 1-1 1 0 1 2 1-4 1 0 1 3 1 2 1-4 1 1 1 0 1 1 1 3 1-1 1 1 1 0 1 0 1-1 1-4 1 5 1 0 1-1 1 0 1 1 1-1 1 0 1 0 1 3 1-3 1 2 1-3 1 2 1-2 1 0 1 4 1 1 1-5 1 6 1-9 1 3 1 1 1-1 1 4 1-4 1-2 1 10 1-10 1 5 1-1 1-4 1 3 1 3 1-7 1 11 1-6 1 1 1-3 1 10 1-6 1-1 1 4 1-4 1-2 1-1 1 6 1-3 1-5 1 9 1-5 1 2 1-5 1 3 1-3 1 7 1-6 1 1 1 3 1-3 1-2 1 1 1 1 1 2 1-1 1 1 1-4 1 1 1 3 1 0 1 2 1-2 1 3 1-8 1 6 1 7 1-6 1-6 1 6 1-1 1-7 1 4 1 3 1 2 1-2 1 0 1-4 1 3 1-4 1-2 1 3 1 4 1 1 1-1 1-1 1-1 1 0 1 3 1-2 1 2 1-3 1 10 1-11 1 1 1 4 1-1 1 0 1-1 1-4 1-2 1 5 1 4 1-9 1 0 1 9 1-5 1 1 1 0 1-1 1 9 1-6 1 0 1-2 1 4 1-1 1 1 1 2 1-5 1 2 1-1 1 1 1-3 1 4 1-5 1 1 1 3 1-1 1 0 1-1 1-1 1 8 1-5 1-4 1 5 1-6 1 4 1 5 1-7 1 3 1-7 1 2 1 1 1 0 1 7 1 2 1-6 1 0 1 0 1-1 1-1 1-1 1-2 1 3 1-2 1 7 1 3 1-6 1-4 1 4 1 3 1 0 1-1 1-5 1 4 1-4 1-2 1 4 1-3 1 6 1 0 1 0 1 6 1-12 1 7 1-3 1 2 1-2 1 0 1-1 1 3 1-1 1 2 1-2 1-4 1-3 1 13 1-10 1 1 1 6 1-2 1-5 1 5 1-5 1 3 1-6 1 6 1 4 1-4 1 1 1 4 1-7 1-1 1-3 1 5 1 0 1 3 1-8 1 4 1 0 1 0 1-1 1 4 1 2 1-9 1 12 1-5 1-1 1 6 1-4 1-4 1 2 1 0 1 7 1-6 1 2 1-3 1 0 1 0 1 0 1-3 1 2 1-4 1 4 1 2 1-2 1-3 1 4 1-3 1 2 1 2 1 1 1 1 1-3 1-2 1 2 1-6 1 13 1-10 1 5 1-8 1 9 1-7 1 4 1 1 1 4 1-3 1-1 1-5 1-2 1 10 1-4 1 6 1-3 1-4 1 0 1-3 1 0 1 6 1-3 1-1 1 0 1 2 1 0 1 0 1 1 1-1 1-3 1 4 1 0 1 0 1-3 1 4 1-1 1-2 1 1 1-3 1 3 1 3 1-3 1 2 1-2 1 0 1 0 1-3 1-1 1 1 1 0 1-2 1 0 1 6 1-6 1 5 1-2 1-3 1 4 1-9 1 2 1 13 1-8 1-3 1 4 1 0 1 0 1 1 1 0 1 0 1-5 1 9 1-2 1 6 1-3 1-2 1-5 1 4 1-2 1 1 1-6 1 8 1-1 1 0 1 1 1 2 1-3 1 1 1 5 1-9 1 4 1 7 1-9 1 1 1-1 1 1 1 2 1-3 1 1 1-4 1 4 1 1 1 0 1-1 1 0 1-1 1 1 1-7 1 8 1-6 1 5 1-1 1-5 1 4 1-3 1 4 1 2 1-2 1 0 1 6 1-2 1-8 1 3 1-1 1 5 1-9 1 7 1 1 1-2 1 0 1 4 1-7 1 0 1 5 1-3 1-2 1 3 1 0 1 2 1-2 1 1 1-3 1 5 1 3 1-9 1 6 1-3 1-1 1 2 1-5 1 5 1 1 1 2 1-8 1 6 1-5 1 4 1-5 1 8 1-6 1-4 1 5 1 4 1-9 1 5 1 4 1-8 1 10 1-1 1 5 1-8 1 1 1 3 1-4 1-3 1 6 1-4 1 2 1-2 1 1 1 0 1 7 1-8 1 1 1-2 1 4 1-8 1 13 1-5 1-3 1 4 1-2 1-1 1-2 1-2 1 4 1-1 1 7 1-10 1 3 1-3 1 6 1-2 1-1 1 8 1-9 1 1 1-1 1 4 1-4 1 2V0"/><path transform="translate(299.47,447.92) scale(0.6692,1.0)" vector-effect="non-scaling-stroke" d="M0 0V-128l1-1 1 0 1 2 1-3 1 1 1 3 1-1 1 0 1-2 1 3 1 1 1 3 1-3 1 0 1 0 1 1 1-1 1 1 1 1 1 1 1 4 1-4 1 2 1-3 1 3 1 0 1-2 1 2 1-3 1 3 1-2 1 5 1 1 1 3 1-6 1 2 1-1 1 1 1-3 1 2 1 2 1 1 1 0 1 0 1 0 1-1 1 0 1 0 1 3 1 0 1-1 1 0 1 0 1 0 1 3 1 2 1-2 1 1 1 2 1-3 1 1 1 0 1-1 1 2 1-2 1 2 1 1 1 0 1 1 1 1 1-1 1 1 1 1 1-1 1 1 1 2 1-3 1 2 1-2 1 0 1 4 1-1 1-1 1 2 1-2 1 1 1-2 1 4 1-2 1 1 1 0 1-3 1 4 1 0 1-2 1 3 1-2 1-2 1 1 1 2 1 5 1-8 1 4 1 1 1 2 1-1 1 2 1-3 1 0 1 1 1-2 1 4 1-2 1-1 1 0 1 1 1 1 1 2 1-1 1-2 1 0 1 1 1-2 1 2 1-1 1-1 1 4 1 0 1-6 1 5 1-1 1 1 1-2 1 7 1-4 1-1 1 2 1-1 1-2 1 5 1-2 1-2 1 1 1-1 1 1 1 1 1-1 1-2 1 2 1 0 1-1 1 1 1 1 1-1 1-2 1 6 1-5 1 2 1-1 1 2 1-2 1-1 1 5 1-6 1 6 1 3 1-6 1 1 1 4 1-4 1 1 1-4 1 0 1 2 1 2 1-2 1 1 1 2 1-2 1 2 1-1 1 2 1-1 1-1 1-1 1 0 1 3 1-2 1 1 1 0 1 0 1-1 1-2 1 5 1-1 1-2 1 1 1 1 1-2 1 6 1-7 1 3 1-2 1 0 1 0 1 1 1 0 1 4 1-3 1-1 1 1 1-1 1 1 1 0 1-1 1 2 1 0 1 3 1-3 1 0 1 1 1 0 1 0 1 1 1-2 1 3 1-2 1 2 1-3 1 1 1-1 1 2 1-1 1-1 1 1 1-1 1 3 1-2 1 2 1-3 1 1 1-2 1 0 1 3 1-4 1-2 1-2 1 3 1-2 1-6 1-5 1-1 1-8 1 4 1 8 1-1 1 5 1 4 1 1 1 2 1 1 1 2 1 1 1 2 1 0 1-2 1 0 1 1 1-4 1 1 1 0 1-4 1-4 1-4 1 0 1 0 1 6 1 0 1 0 1 4 1 2 1 1 1 4 1 0 1 1 1 1 1-1 1 1 1 0 1 1 1-3 1 3 1 0 1 0 1-1 1 3 1-1 1-4 1 3 1-1 1 2 1-4 1 4 1-2 1-1 1 2 1-1 1-1 1 1 1 0 1-4 1 3 1 3 1-1 1 2 1-2 1 3 1 4 1-4 1-3 1 3 1-2 1 6 1-1 1-2 1 2 1 2 1-1 1 0 1-1 1 0 1 0 1 0 1 0 1-2 1 4 1-1 1-4 1 2 1 2 1-1 1 1 1 0 1-1 1 1 1 1 1-3 1-2 1 3 1 2 1-2 1-1 1 1 1 3 1-4 1 3 1 0 1 0 1 2 1-2 1 0 1 1 1 1 1-4 1 3 1 1 1 1 1-2 1-1 1-1 1 0 1 2 1-2 1 3 1-1 1 5 1 0 1-3 1 0 1 3 1 1 1 1 1-1 1-3 1 4 1 0 1-3 1 3 1-1 1-2 1 0 1-2 1 6 1-3 1 0 1 1 1-1 1 2 1-1 1 2 1 0 1-3 1 1 1 0 1 1 1-1 1-3 1 3 1 3 1-3 1-3 1 1 1-2 1 1 1-3 1-1 1-3 1-1 1-1 1 0 1 2 1 2 1 6 1-3 1 5 1-1 1 0 1-1 1 3 1 3 1-4 1 7 1 1 1-4 1-1 1 2 1-2 1 2 1 3 1-2 1-1 1 1 1 0 1 1 1 1 1-3 1 3 1 0 1 1 1-1 1-1 1 1 1 1 1-2 1 5 1-5 1 2 1 0 1 0 1-3 1 0 1-2 1 2 1 1 1 1 1-1 1 0 1-4 1 5 1-3 1 0 1 0 1 3 1 1 1-4 1 4 1-1 1 4 1-1 1-1 1-1 1 3 1-2 1 1 1 2 1 2 1-2 1-2 1-2 1 2 1 2 1-2 1 3 1-1 1-1 1 1 1 0 1 0 1-2 1 2 1 2 1-2 1 0 1 0 1-3 1 4 1-1 1 0 1 1 1 1 1 0 1 2 1 0 1-1 1 0 1 1 1-2 1 2 1-6 1 4 1 4 1-5 1 0 1-2 1 4 1 0 1-1 1 0 1 0 1-3 1 0 1 8 1-4 1-3 1 7 1-4 1-2 1 4 1-3 1-2 1 1 1 5 1-3 1-3 1 3 1-7 1 0 1-2 1-3 1 0 1 0 1 4 1 1 1 1 1 2 1 1 1 2 1-2 1 4 1-1 1-1 1-2 1 4 1-1 1 1 1 0 1 2 1-2 1 4 1-6 1 4 1 0 1 2 1-2 1 2 1-2 1 1 1 2 1-2 1 1 1 0 1-1 1 0 1 0 1 0 1-1 1-1 1 1 1 4 1-4 1-1 1 3 1-3 1 4 1 2 1-3 1 1 1 0 1-2 1-4 1 3 1-3 1 4 1 0 1 4 1-2 1-3 1 1 1 1 1-2 1 2 1 1 1-2 1 1 1 3 1-3 1 2 1-2 1 0 1-1 1 4 1-2 1 1 1-3 1 4 1-4 1-2 1 4 1 0 1-1 1-1 1 4 1-3 1 2 1 0 1-2 1 3 1 0 1-2 1 0 1 2 1-2 1 1 1 3 1-2 1 0 1 0 1 0 1 0 1-3 1 2 1 1 1-4 1 2 1-2 1 3 1 0 1 0 1-4 1 5 1-4 1 4 1-2 1 1 1-1 1 2 1-4 1 4 1 2 1-3 1 3 1-3 1 0 1 2 1 1 1-1 1-2 1 0 1-1 1 3 1 1 1-3 1-1 1 1 1 1 1 0 1-1 1-2 1 3 1-2 1 0 1-3 1 5 1 0 1 3 1-2 1-3 1 2 1-4 1 4 1-2 1 2 1-2 1 2 1 1 1 0 1-1 1 2 1-5 1 0 1 1 1 7 1-9 1 1 1-1 1 2 1 1 1 0 1-1 1 1 1 3 1-10 1 4 1-1 1 4 1-4 1 1 1 6 1-3 1-2 1 5 1 1 1-2 1 0 1-4 1 0 1 2 1 1 1-2 1 2 1 4 1-2 1-2 1 0 1 1 1-1 1 1 1-1 1 3 1-8 1 3 1 3 1-6 1 5 1 0 1 0 1-1 1-4 1 3 1 3 1 3 1-8 1 3 1 1 1 0 1-4 1 9 1-2 1-2 1-6 1 5 1 1 1 1 1 1 1 5 1-5 1 0 1-2 1 1 1-7 1 2 1 3 1 3 1-2 1 5 1-7 1 1 1-5 1 5 1-4 1 3 1-2 1 1 1-3 1 4 1 0 1 2 1-4 1-1 1 2 1-2 1 2 1 1 1 0 1 5 1-5 1 2 1 2 1 0 1-1 1-3 1 2 1 0 1-1 1-5 1 7 1-1 1 1 1-1 1 0 1-3 1-4 1 6 1-4 1 6 1-3 1-3 1 6 1-9 1 7 1 0 1-5 1 1 1 7 1-2 1-1 1 2 1-5 1 7 1-8 1 6 1-1 1 0 1 2 1-1 1 1 1-3 1 3 1 2 1-6 1 4 1-6 1 5 1-1 1-1 1 2 1-5 1 2 1-1 1 3 1 3 1-1 1 1 1-3 1-5 1 5 1 1 1 3 1-3 1 1 1-1 1 0 1-5 1 5 1-3 1 8 1-5 1-2 1 2 1 4 1-3 1-2 1-4 1 6 1 2 1-5 1 1 1 2 1-1 1 0 1-2 1-1 1 3 1-5 1 5 1-1 1 1 1 2 1-1 1 0 1-2 1 0 1-3 1 4 1-3 1 4 1-2 1 4 1-7 1 3 1-1 1 1 1 1 1 1 1-4 1 3 1 3 1 0 1-3 1 0 1 1 1 0 1-4 1 1 1 4 1-5 1 7 1-7 1 0 1 6 1-9 1 3 1 5 1-3 1 1 1 2 1-1 1 0 1-2 1 0 1-5 1 7 1-1 1 1 1 0 1-2 1-1 1 1 1 4 1-2 1-2 1-1 1-1 1 3 1-1 1 6 1-5 1 1 1-1 1 0 1 3 1 1 1-5 1 0 1-5 1 6 1 4 1-1 1-10 1 5 1 3 1-1 1 1 1-3 1 0 1-3 1 3 1 1 1-4 1 4 1-2 1 4 1-1 1-1 1 1 1-3 1 3 1-4 1 4 1 0 1 1 1 1 1-1 1-4 1 2 1-1 1 2 1 2 1-4 1 2 1-3 1 7 1-4 1-1 1-4 1 6 1-8 1 6 1 3 1 5 1-12 1 4 1-1 1 2 1 3 1-4 1-1 1 2 1-6 1 3 1 9 1-6 1-5 1 2 1 0 1 4 1-5 1 2 1 1 1-2 1 3 1-5 1 7 1-2 1-3 1 2 1-3 1 1 1 2 1 1 1 0 1 0 1 1 1 6 1-7 1-2 1 0 1 1 1 0 1 1 1 2 1-1 1-3 1-4 1 4 1 2 1-1 1 3 1 1 1 0 1-4 1-1 1 3 1-7 1 8 1-3 1-1 1 7 1-5 1-1 1-1 1 0 1 0 1 5 1 0 1-7 1 6 1-2 1-3 1 8 1-8 1 2 1 2 1 1 1-2 1-2 1 4 1-1 1-1 1-3 1 2 1 0 1-6 1 6 1-3 1 2 1 0 1 1 1-1 1-2 1 5 1-1 1 0 1-4 1 4 1-1 1 0 1-5 1 13 1-6 1-5 1 3 1 1 1-6 1 8 1 4 1-11 1 2 1 2 1 2 1-3 1 4 1-3 1 3 1-2 1 7 1-8 1 0 1-6 1 7 1-2 1 3 1-1 1 0 1-7 1 9 1-3 1-2 1-3 1 4 1 4 1-7 1 4 1 1 1-4 1 11 1-9 1 0 1 0 1 3 1-5 1 5 1-1 1-4 1-1 1 5 1-1 1-3 1 3 1 1 1 0 1-1 1-1 1 3 1 1 1-4 1 3 1 0 1 0 1 0 1 1 1-3 1 2 1-3 1 4 1-2 1-6 1 5 1-3 1 5 1-4 1 6 1-9 1 0 1 4 1 3 1-3 1-1 1 2 1-2 1 3 1-3 1 4 1-2 1 0 1 2 1-1 1-4 1 7 1-4 1 0 1 4 1 1 1-4V0"/><path transform="translate(294.34,453.84) scale(0.6692,1.0)" vector-effect="non-scaling-stroke" d="M0 0V-122l1-3 1 3 1-2 1 2 1-1 1 2 1 1 1-1 1 2 1-2 1 0 1-1 1 6 1-3 1-4 1 4 1 3 1-4 1 4 1-3 1 2 1-2 1 2 1 0 1 2 1-4 1 5 1-2 1 1 1 2 1 0 1 2 1-3 1 3 1-3 1 0 1 3 1 0 1-1 1 0 1 4 1-5 1 1 1 1 1-1 1-1 1 5 1-4 1 2 1 1 1 3 1-5 1 3 1 1 1 1 1-3 1 4 1-2 1 1 1 0 1 0 1 3 1-1 1 2 1-2 1 2 1-4 1 2 1 2 1 1 1 0 1-1 1-2 1 0 1 0 1 4 1-2 1 1 1 0 1 0 1 2 1 0 1 0 1 0 1-2 1 3 1 3 1-4 1-3 1 4 1 1 1-3 1 2 1 1 1 0 1-1 1 1 1 0 1 1 1-2 1-1 1 4 1 2 1-2 1-4 1 1 1 1 1-4 1 1 1 4 1 0 1 0 1 0 1-1 1 0 1 3 1-2 1 4 1-1 1-1 1 2 1-2 1 3 1-4 1 1 1 1 1-1 1 1 1-2 1 2 1 0 1-2 1 0 1 0 1 4 1 1 1-6 1-1 1 5 1-1 1 0 1 1 1 2 1-1 1-5 1 3 1 1 1 1 1-2 1-1 1 3 1-2 1 5 1-2 1-2 1 3 1-2 1 0 1 4 1-5 1 0 1 0 1 1 1 1 1-1 1 0 1 0 1 0 1 1 1-2 1 2 1 0 1 0 1-4 1 3 1 3 1-1 1-2 1-2 1 3 1 0 1 5 1-3 1-3 1 3 1-1 1 0 1 0 1-1 1 1 1 1 1-1 1 0 1 3 1-6 1 3 1-3 1 2 1 5 1-1 1-4 1 2 1-3 1-1 1 3 1 0 1 1 1-2 1 1 1 3 1-3 1 2 1 2 1-2 1-1 1 1 1 1 1-1 1 1 1 1 1 2 1-3 1 1 1 0 1 0 1-1 1 3 1-2 1-2 1-1 1 1 1 1 1 0 1 0 1-3 1 4 1-2 1 3 1-4 1 4 1-2 1-1 1-1 1 0 1-3 1-3 1 1 1 2 1-5 1-8 1-4 1-7 1-5 1 2 1 6 1 7 1 8 1 3 1 4 1 0 1-2 1 6 1-1 1 0 1-2 1-1 1 3 1 0 1-1 1-1 1-3 1-3 1 0 1-5 1-1 1 2 1 2 1 3 1 3 1 3 1 2 1 1 1 5 1-3 1 0 1 2 1 0 1 1 1-1 1 2 1 0 1 0 1 1 1 1 1-4 1 2 1 2 1 0 1-2 1 1 1 1 1-2 1 2 1-2 1 3 1-5 1 3 1-2 1 3 1-1 1 1 1 0 1 1 1-1 1 1 1 0 1 2 1 0 1 1 1-1 1 0 1 1 1 0 1 1 1-1 1 0 1-1 1-1 1 5 1-4 1 2 1-1 1-1 1 0 1 0 1 0 1 2 1 0 1 1 1-1 1-1 1 0 1 0 1 1 1 2 1-3 1-2 1 0 1 6 1-4 1 0 1 0 1 0 1 5 1-6 1 3 1-4 1 3 1 2 1-4 1 4 1 2 1-1 1-1 1-1 1 1 1-4 1 3 1-5 1 3 1-1 1 2 1 0 1 1 1 0 1 0 1 0 1 1 1 2 1 1 1-1 1-2 1 2 1 2 1-2 1-1 1 1 1 0 1 1 1 0 1 0 1-1 1 1 1 2 1-4 1 0 1 4 1-3 1 1 1 1 1 0 1 1 1-2 1 1 1-1 1-3 1 4 1 0 1-2 1 1 1-1 1-1 1-4 1 0 1-3 1-3 1 0 1-1 1 0 1-3 1 3 1 1 1 3 1 4 1 1 1 2 1 2 1 1 1-1 1 1 1 1 1 2 1 0 1 0 1 0 1 1 1-1 1 1 1 0 1 0 1 1 1 0 1 3 1-1 1-3 1 3 1 0 1-1 1-2 1-2 1 3 1 1 1 2 1-2 1 3 1-2 1-1 1 0 1-3 1 4 1 0 1-1 1 1 1 0 1-4 1 4 1-3 1 2 1-1 1 1 1 2 1 3 1-3 1 1 1 0 1-1 1 1 1 1 1-3 1 1 1 0 1 2 1-4 1 4 1 0 1 1 1-2 1 0 1-2 1 5 1 1 1-4 1 3 1 0 1 1 1-2 1 2 1 2 1-6 1 5 1-2 1 1 1-3 1 1 1-2 1 3 1-1 1-1 1 0 1 3 1-1 1 0 1 1 1-2 1 1 1-1 1 1 1 1 1 2 1-1 1-2 1-2 1 4 1-3 1 2 1 0 1-2 1 2 1 1 1 0 1-1 1 0 1 0 1 2 1-2 1-1 1 2 1 1 1-2 1 0 1 1 1-1 1-1 1-2 1 5 1-4 1 3 1-2 1-2 1 2 1-1 1-1 1 2 1 0 1 1 1 1 1-3 1 4 1 1 1-1 1 0 1 0 1-3 1 4 1 1 1-1 1 1 1-1 1 1 1 0 1-1 1 0 1 4 1-4 1 0 1 1 1 0 1 0 1-1 1 0 1 0 1 2 1 0 1-1 1 2 1 3 1-2 1 1 1-3 1 1 1-4 1 2 1 0 1 1 1 2 1 0 1-3 1 0 1 5 1-3 1 0 1-1 1 1 1 0 1 0 1-1 1 0 1 2 1 0 1-2 1 6 1-5 1 4 1-2 1-3 1 3 1 2 1-1 1-5 1 4 1-1 1-2 1 0 1 3 1 1 1-4 1 3 1-1 1 1 1-1 1-2 1-1 1 4 1-2 1 2 1-1 1-1 1 2 1-1 1 2 1-1 1-1 1 0 1 1 1 0 1-2 1 2 1-1 1 1 1-1 1 3 1 0 1-1 1-3 1 2 1-1 1-4 1 5 1 1 1 0 1-1 1-2 1 5 1-3 1 4 1-7 1 4 1-1 1 1 1-1 1-1 1 3 1-1 1-1 1-1 1-1 1 1 1 2 1-1 1-1 1 1 1 0 1-4 1 5 1-2 1 3 1-4 1 3 1-3 1 2 1-1 1 1 1 3 1-2 1-4 1 6 1-2 1 0 1 0 1 1 1 0 1 0 1 0 1 3 1-5 1-2 1 4 1 2 1-3 1 2 1-3 1 2 1-2 1-1 1-1 1 0 1-1 1-2 1 4 1 1 1-1 1-3 1-2 1-1 1 4 1-1 1 4 1-3 1-2 1 4 1-1 1 1 1 0 1 3 1-2 1 4 1-3 1 3 1-8 1 5 1 0 1-3 1 3 1 0 1-3 1 3 1 1 1-2 1 2 1 2 1-3 1 1 1-5 1 5 1-3 1 7 1 2 1-5 1-3 1 2 1-1 1 1 1 1 1 0 1 0 1 4 1-6 1 2 1-5 1 4 1 3 1-2 1 1 1-3 1 3 1-2 1 1 1 0 1-3 1 2 1 1 1 1 1-1 1 1 1-3 1 0 1 1 1-1 1 0 1 1 1 2 1-3 1 7 1-7 1 1 1-4 1 0 1 2 1 0 1-1 1 2 1 2 1 2 1-6 1 7 1-1 1-4 1 6 1-2 1-2 1 2 1 3 1-7 1 4 1-6 1 8 1-3 1-2 1 4 1-3 1 0 1-1 1-4 1 4 1-4 1 5 1-2 1 1 1-2 1 2 1-3 1 6 1-1 1-1 1 0 1 1 1-3 1 3 1-5 1 0 1 10 1-6 1-2 1 7 1-6 1 1 1 0 1 1 1-3 1 3 1 1 1-1 1-6 1 6 1 2 1-2 1-2 1 1 1 0 1-1 1 4 1-1 1-4 1 4 1-1 1-2 1 2 1-3 1 12 1-9 1 1 1 0 1 1 1-1 1-3 1 2 1 2 1-3 1-1 1 3 1 2 1-4 1 1 1-1 1 9 1-4 1-9 1 6 1 1 1 4 1-5 1 1 1 2 1-3 1 3 1-7 1 6 1-5 1 4 1 1 1-3 1 1 1 3 1-5 1 1 1 0 1 1 1-3 1 1 1 5 1-7 1 2 1 2 1 4 1 0 1-2 1-1 1-2 1 2 1-3 1 1 1 1 1 0 1 1 1-1 1 1 1-1 1-1 1 0 1 1 1-2 1 2 1-5 1 7 1-3 1 1 1-1 1 4 1-3 1 2 1-3 1-1 1 0 1-2 1 5 1-2 1-4 1 6 1 0 1-1 1 7 1-9 1 3 1-2 1 4 1-2 1-1 1-1 1 1 1-1 1-3 1 5 1-1 1-3 1 4 1-1 1 0 1-6 1 6 1-1 1 7 1-5 1-2 1 3 1-4 1-3 1 3 1 0 1 3 1 1 1-7 1 4 1-4 1 3 1-3 1 11 1-9 1 0 1 1 1 3 1 0 1-6 1 5 1-2 1-5 1 8 1 3 1 2 1-6 1-3 1 1 1 1 1 9 1-7 1 1 1 0 1 1 1 3 1-6 1 1 1 0 1 0 1-3 1 3 1 2 1-2 1 1 1-1 1-1 1 1 1-2 1 3 1-6 1 1 1 3 1-2 1 4 1-1 1-5 1 4 1-2 1-1 1 1 1 2 1 0 1 4 1-7 1 2 1 5 1-7 1 4 1-4 1 5 1 4 1-10 1 0 1 3 1-4 1 7 1-2 1-9 1 2 1 3 1 2 1-1 1 9 1-7 1-3 1 5 1 1 1-2 1-2 1 2 1-3 1-1 1 6 1-1 1-3 1 3 1-2 1 3 1-3 1 0 1 1 1-2 1 3 1-1 1-2 1 1 1 1 1 6 1-4 1-1 1-2 1-2 1-2 1 6 1-6 1 7 1 1 1-6 1 7 1-3 1-2 1 1 1-2 1 3 1 0 1 0 1-2 1 1 1 0 1-1 1 1 1-1 1 1 1-2 1 4 1 0 1 0 1-4 1 3 1-5 1 5 1-5 1 3 1-1 1 4 1-7 1 7 1-2 1 1 1 1 1 3 1 2 1 2 1-8 1 0 1 4 1 2 1 1 1-7 1-2 1-2 1 4 1-2 1 3 1 4 1-6 1 2 1-1 1 3 1-4 1-2 1 2 1 4 1-2 1 1 1-9 1 7 1 3 1-5 1 4 1 2 1-4 1 5 1-6 1 0 1 1 1-2 1-1 1 3 1 1 1-2 1 1 1 1 1-6 1 7 1-1 1 0 1-3 1 1 1-3 1 5 1-4 1 2 1 4 1-2 1-4 1 3 1 2 1 1 1-2 1-1 1 3 1 0 1-6 1 4 1-2 1-2 1 2 1 0 1 1 1-1 1 2 1-3 1 1 1 4 1 5 1-8 1 0 1 0 1-1 1 1V0"/><path transform="translate(289.22,459.77) scale(0.6692,1.0)" vector-effect="non-scaling-stroke" d="M0 0V-132l1-3 1 0 1 4 1 2 1-1 1 0 1-1 1 1 1 0 1 0 1 1 1 3 1-3 1 1 1 0 1 3 1-1 1 1 1 0 1-4 1 3 1 0 1 0 1 5 1-3 1 0 1 0 1 3 1-1 1 0 1 1 1 0 1 1 1 2 1 1 1-2 1 0 1-3 1 2 1 2 1-2 1 0 1-1 1 2 1 1 1 0 1 4 1-3 1 4 1-3 1 1 1 1 1 1 1-1 1 2 1-1 1-1 1 5 1-6 1 1 1 3 1-2 1 1 1 1 1 1 1 0 1 2 1-2 1 1 1-3 1 3 1 6 1-4 1 3 1-2 1-1 1 1 1-1 1 1 1-2 1 3 1 1 1 0 1 0 1 1 1-1 1 0 1 4 1-4 1 2 1-1 1 1 1 1 1-2 1 3 1 0 1-3 1 2 1-2 1 2 1-1 1-1 1 4 1 2 1-4 1-3 1 4 1 0 1-1 1 5 1-4 1 0 1-1 1 2 1 0 1 3 1-2 1 2 1-1 1 2 1-2 1 1 1 0 1 3 1-8 1 4 1 1 1-2 1 0 1 1 1 1 1-1 1 1 1-2 1 2 1-3 1 3 1 1 1-3 1 5 1-7 1 0 1 4 1 0 1 1 1-1 1-1 1 2 1-1 1 1 1-1 1-1 1 1 1 0 1 1 1-1 1 0 1-1 1-1 1 3 1 2 1 2 1-2 1-2 1 2 1-3 1 4 1-4 1 2 1 1 1-1 1-2 1 5 1-3 1 2 1-5 1 4 1 0 1 0 1-1 1-2 1 4 1-1 1-1 1 0 1 1 1-1 1-1 1 5 1-3 1 1 1-3 1 7 1-4 1 0 1 2 1-1 1 0 1 1 1-3 1 2 1 0 1-2 1 0 1 3 1-2 1 2 1-4 1 1 1 3 1 2 1-3 1 1 1-1 1 1 1-3 1 4 1-2 1 4 1-5 1 3 1 1 1-2 1 2 1-2 1 0 1 2 1 1 1-3 1 1 1 0 1-3 1 5 1-2 1 3 1-4 1-1 1 2 1 0 1-2 1 1 1-1 1 1 1-2 1-1 1 0 1-2 1-2 1-4 1-6 1 0 1-10 1-3 1 1 1 6 1 5 1 5 1 7 1 1 1 2 1 4 1-1 1 1 1 4 1-3 1 5 1-5 1 2 1 4 1-3 1-1 1-3 1-1 1 0 1-2 1 1 1 0 1 4 1 3 1-1 1 0 1 2 1-1 1 4 1-4 1 2 1-1 1 2 1 0 1 0 1 2 1 3 1-3 1 1 1 0 1 0 1 1 1-4 1 2 1 1 1-3 1 6 1-7 1 1 1 1 1-3 1 3 1 0 1 0 1-3 1 2 1 1 1-1 1 0 1 3 1 1 1 0 1 1 1-2 1 2 1 1 1 4 1-7 1 3 1-3 1 1 1 2 1 1 1-1 1 3 1 0 1 1 1-4 1 0 1 1 1-3 1 5 1-3 1 0 1 1 1 0 1 2 1-1 1 0 1-5 1 2 1-2 1 2 1 3 1-3 1 1 1 0 1 1 1 0 1 3 1-4 1 3 1-2 1 0 1 2 1 1 1-2 1 0 1 1 1 1 1-6 1 2 1-1 1 1 1-2 1-1 1 4 1-3 1 5 1 1 1-2 1 4 1-3 1 4 1 1 1-2 1 5 1-2 1-2 1 0 1 2 1-2 1 4 1-3 1 2 1-2 1 4 1-2 1 2 1 0 1-1 1-1 1 0 1 1 1-1 1-4 1 7 1-3 1-2 1 1 1 0 1 1 1-1 1-5 1 3 1 0 1-3 1 0 1-1 1 0 1-2 1-4 1 0 1-5 1 4 1 1 1 1 1 5 1 0 1 3 1 3 1 1 1 3 1-2 1 0 1 3 1-1 1 2 1-3 1 5 1 2 1-5 1 2 1-2 1 3 1-2 1 2 1-1 1 1 1-1 1 4 1-5 1 1 1 0 1 3 1-3 1 1 1 0 1 0 1-1 1 0 1 2 1-4 1 4 1 0 1-2 1 3 1-3 1 1 1-4 1 6 1-3 1-3 1 2 1 2 1-1 1 1 1 1 1 2 1 3 1-6 1 2 1-3 1 4 1 1 1 2 1-3 1-1 1-1 1 3 1 0 1 1 1-4 1 3 1 1 1-2 1 2 1 1 1-1 1 0 1 1 1 1 1-1 1 3 1 1 1-3 1-1 1 3 1-3 1 2 1-1 1-1 1 0 1 1 1 1 1 1 1-2 1 0 1 0 1 0 1 2 1-4 1 2 1 0 1 5 1-4 1 0 1 3 1-1 1 0 1-2 1-1 1 2 1 1 1-2 1 1 1-1 1 1 1 2 1-1 1 1 1-1 1 3 1-4 1 1 1 1 1-2 1 1 1 2 1-5 1 0 1 1 1-1 1 0 1 0 1 3 1-3 1 2 1 0 1 2 1 0 1-2 1 4 1-1 1-1 1 0 1-1 1 3 1 3 1-6 1 3 1 0 1 1 1-1 1-3 1 3 1-1 1 2 1-1 1 2 1 0 1-1 1 0 1-1 1 3 1-1 1-4 1 4 1 3 1-5 1 6 1-4 1-1 1-3 1 1 1 0 1 2 1-3 1 4 1-1 1 0 1 0 1-1 1 3 1-2 1 0 1 3 1-2 1-2 1 6 1-5 1 0 1 1 1 1 1-2 1 1 1 0 1 2 1-3 1-1 1 0 1-1 1 6 1-4 1 3 1 1 1-3 1-1 1 4 1-1 1-1 1-2 1 2 1 3 1-4 1-2 1 4 1-2 1-2 1 3 1-1 1 1 1-3 1 3 1 1 1-1 1 1 1 1 1 4 1-3 1-1 1-2 1 1 1 0 1 0 1 0 1 0 1-1 1 0 1 0 1 0 1-3 1 0 1 1 1 3 1-1 1 3 1-5 1 3 1 3 1-1 1-2 1 0 1 0 1 0 1-2 1 0 1 0 1 2 1 0 1-1 1 3 1-3 1 0 1 0 1 2 1-1 1 1 1-1 1 0 1 0 1-2 1 2 1-1 1-2 1 2 1 3 1-1 1 3 1-3 1 0 1 0 1 0 1 1 1-3 1 1 1 5 1-5 1 0 1 1 1-2 1 2 1-2 1 1 1-3 1 4 1 4 1-2 1-3 1 2 1-1 1 2 1-5 1 3 1 0 1-3 1 1 1 0 1-2 1 1 1 8 1-9 1 5 1-2 1 2 1 0 1-1 1 6 1-8 1 3 1-1 1 2 1 1 1 3 1-6 1 0 1-1 1 1 1 0 1 0 1 2 1-1 1-2 1-4 1 6 1 0 1-3 1 3 1 4 1-3 1-2 1 3 1-3 1-5 1 5 1 1 1-2 1 1 1-2 1 10 1-9 1 4 1-1 1-2 1 0 1 3 1-4 1 2 1-2 1 2 1 0 1-1 1-1 1 0 1 2 1-2 1 2 1-3 1 2 1-4 1 3 1 5 1-5 1 1 1 0 1 1 1-3 1-2 1 2 1-1 1 0 1-3 1-3 1 6 1 1 1 3 1-1 1 0 1 0 1 3 1-2 1 4 1-3 1-2 1-3 1 6 1-3 1 3 1-6 1 6 1 4 1-11 1 6 1 1 1-2 1-3 1 3 1-1 1-1 1 7 1-11 1 3 1 1 1 1 1-6 1 11 1 4 1-8 1-1 1 4 1-5 1 2 1 1 1-2 1 1 1 2 1-2 1 5 1-4 1-2 1 4 1-3 1-1 1 5 1-4 1 4 1-5 1-1 1 9 1-8 1-2 1 8 1-5 1 1 1 2 1-5 1 4 1-4 1-1 1 5 1-5 1 0 1 11 1-11 1 3 1 8 1-8 1-3 1 0 1 0 1 3 1 4 1-3 1 1 1-2 1 2 1-2 1 2 1-1 1 0 1-2 1 8 1-6 1 1 1-2 1-1 1 0 1 4 1 0 1-5 1 4 1-3 1 9 1-8 1 2 1-2 1 5 1-7 1 2 1 0 1 1 1-2 1 2 1-1 1 1 1 7 1-7 1-3 1 2 1 4 1 3 1-4 1-3 1 2 1 0 1-4 1 11 1-10 1 3 1-3 1 3 1-1 1 3 1-2 1-2 1 1 1 3 1-3 1-6 1 6 1 2 1-2 1 0 1 0 1-2 1-2 1 6 1-1 1 2 1-9 1 0 1 4 1 1 1 3 1-1 1 1 1-2 1 2 1 4 1-2 1-4 1 2 1 2 1-5 1-1 1-3 1 4 1-3 1 4 1 0 1 1 1 1 1 6 1-9 1 2 1-2 1-4 1 3 1 1 1 0 1-4 1 5 1-2 1-1 1 0 1 1 1-2 1 1 1-2 1-3 1 11 1-7 1 2 1 0 1 1 1-2 1 3 1 0 1 0 1-6 1 6 1 0 1 0 1-6 1 9 1-3 1 0 1-3 1 4 1-2 1 2 1-1 1 4 1-3 1-1 1 1 1-1 1 0 1 1 1-1 1-2 1 1 1-5 1 8 1-5 1 6 1-2 1 6 1-7 1 8 1-4 1-5 1 0 1 5 1-4 1 1 1-4 1 2 1 1 1-6 1 7 1-1 1-2 1 0 1 7 1 2 1-6 1-8 1 11 1 2 1-11 1 6 1-2 1-4 1 3 1 4 1-5 1-1 1 4 1-1 1 0 1 7 1-9 1 5 1-1 1-2 1-1 1 5 1-10 1 6 1 3 1 0 1-2 1 3 1-1 1-8 1 2 1 3 1-1 1 5 1-2 1 6 1-8 1 8 1-4 1-9 1 10 1-10 1 6 1 0 1 3 1-3 1 0 1-2 1-5 1 7 1 5 1-12 1 6 1 1 1-3 1 1 1 1 1 3 1-6 1 4 1-2 1 3 1-1 1-2 1 0 1-5 1 6 1 0 1 1 1 1 1-5 1 4 1 5 1-5 1 1 1 1 1-3 1-2 1-1 1 0 1-3 1 8 1-3 1 1 1-1 1 0 1 6 1-3 1 0 1 3 1-3 1-1 1 1 1 1 1-4 1 6 1-3 1-3 1 2 1-1 1 4 1-8 1 5 1-3 1 3 1-3 1 8 1-4 1-7 1 10 1-7 1 3 1 0 1 1 1 0 1-7 1 6 1 3 1-5 1 3 1-2 1-2 1 3 1 3 1-5 1-3 1 3 1-3 1 5 1 2 1-1 1-3 1-3 1 6 1-4 1 1 1 3 1-4 1 2 1 3 1-3 1 2 1-2 1-5 1 7 1-2 1 0 1 3 1-3 1 2 1-5 1 1 1 3 1 2 1 1 1-1 1-2 1-1 1 4 1-5 1 2 1-6 1 6V0"/><path transform="translate(284.09,465.69) scale(0.6692,1.0)" vector-effect="non-scaling-stroke" d="M0 0V-144l1 2 1 0 1 1 1-1 1 2 1 3 1 0 1-3 1 2 1-2 1 2 1-1 1 2 1 2 1-4 1 3 1 0 1-1 1 3 1-3 1 6 1-4 1 0 1 1 1 2 1 1 1-2 1 0 1 0 1-2 1 3 1-2 1-1 1 4 1 0 1 3 1-5 1 4 1 0 1 0 1-1 1 3 1-1 1 0 1 1 1 1 1-2 1 3 1-2 1 0 1 3 1 1 1 1 1 0 1-2 1 2 1 1 1-1 1 2 1 0 1-3 1-1 1 3 1 1 1 2 1 0 1-1 1 1 1 2 1-1 1-1 1 2 1-1 1 2 1 4 1-3 1 1 1-1 1-4 1 4 1 0 1 2 1-3 1 1 1 2 1-1 1-1 1-2 1 1 1 2 1 1 1 1 1 5 1-4 1-2 1 2 1-1 1-3 1 3 1 1 1 1 1-4 1 4 1-1 1 0 1 1 1 1 1-4 1 3 1 1 1 2 1-2 1 3 1-1 1 0 1 0 1-2 1 3 1 0 1 1 1-4 1 4 1-5 1 0 1 3 1-2 1 6 1-5 1 1 1 0 1-4 1 5 1 0 1-1 1 2 1-4 1 4 1-1 1-1 1-1 1 1 1 0 1 2 1 0 1-1 1 2 1-1 1 0 1 0 1 2 1 0 1-1 1-1 1-3 1 5 1 3 1-4 1 0 1 0 1 1 1-3 1 3 1 0 1 0 1-4 1 4 1 0 1 3 1-2 1-2 1 0 1-2 1 5 1 2 1-2 1 2 1-5 1 3 1-2 1 2 1 1 1-1 1-1 1-3 1 3 1-1 1 2 1-2 1 1 1-2 1 1 1 1 1 0 1-1 1 2 1 3 1-2 1-4 1 3 1 1 1-2 1 3 1 0 1 0 1-1 1 1 1 0 1 0 1 1 1-1 1 0 1 2 1-2 1-2 1 2 1 3 1-2 1 1 1-1 1 1 1-3 1 1 1 1 1 1 1 1 1-2 1 1 1-3 1 1 1 3 1-5 1 1 1 5 1-2 1 1 1-1 1-2 1 2 1 2 1-3 1 1 1-3 1 1 1-2 1 1 1-2 1-4 1-3 1-3 1-5 1-4 1-10 1-5 1 3 1 4 1 10 1 5 1 7 1 0 1 4 1-1 1 5 1-1 1 2 1 4 1-2 1-1 1-1 1 3 1-4 1-2 1 0 1-3 1-3 1-3 1 2 1 0 1 4 1 5 1-1 1 6 1 6 1-5 1 1 1-1 1 4 1 3 1-4 1 1 1 1 1-1 1 1 1 0 1-2 1 1 1 4 1 1 1-3 1 6 1-4 1-3 1 2 1-1 1-1 1 3 1-3 1-1 1 4 1-8 1 4 1-1 1 1 1 1 1-2 1 5 1-2 1 0 1 4 1 4 1-3 1 2 1 0 1-4 1 5 1-2 1 1 1 0 1-2 1-2 1 1 1 4 1-4 1 0 1 3 1 0 1 0 1-1 1-3 1 4 1 0 1 0 1 0 1 1 1-2 1 1 1 0 1-2 1 0 1 3 1-1 1 0 1 0 1 3 1 0 1-2 1 0 1 3 1-1 1-1 1 1 1-1 1 2 1-1 1 0 1-3 1 2 1-3 1 0 1 1 1-2 1 2 1 0 1-2 1 1 1 3 1 1 1 1 1 1 1 0 1 2 1-2 1 3 1-3 1 0 1 3 1-1 1-1 1 2 1-4 1 4 1 0 1 0 1 1 1 1 1-4 1 1 1 1 1-3 1 2 1 1 1 4 1-7 1 2 1 1 1 0 1 0 1-1 1 0 1 1 1 1 1-3 1 1 1-3 1-3 1-1 1-1 1-3 1-1 1-1 1-2 1 1 1 6 1 1 1 4 1 2 1 2 1 2 1 1 1-3 1 3 1 2 1-4 1 3 1 0 1 1 1 1 1 2 1 0 1-1 1 0 1 1 1-2 1 3 1 0 1 2 1-6 1 3 1 0 1 0 1 3 1-4 1-1 1 4 1 0 1-2 1 1 1 1 1-5 1 2 1 1 1 0 1-1 1 1 1-1 1 0 1-2 1 2 1-2 1 3 1-2 1 4 1-1 1-1 1 2 1 1 1 0 1 2 1-1 1-3 1 4 1-2 1 1 1 1 1-1 1 3 1-1 1 0 1 1 1 0 1 0 1-4 1 4 1-2 1 1 1 0 1 1 1 0 1 2 1-3 1 2 1-1 1-1 1 2 1 1 1-2 1 4 1-4 1 2 1-1 1 1 1-3 1 2 1 3 1-3 1 1 1 2 1-3 1 4 1-1 1 0 1-1 1-3 1 6 1-6 1 5 1-1 1-1 1-1 1 4 1-2 1 1 1 2 1-6 1 4 1-1 1 0 1 2 1-1 1 0 1-2 1 0 1 0 1 1 1 0 1-1 1-1 1-1 1-1 1-1 1-2 1 0 1 1 1 5 1-1 1 3 1-3 1 2 1 5 1-5 1 1 1 3 1-4 1 5 1-4 1-2 1 5 1-1 1 1 1 0 1-1 1 0 1 2 1-2 1 3 1-2 1 2 1-2 1 2 1-1 1 2 1 1 1-2 1 2 1-1 1-1 1-1 1 2 1 3 1-3 1 0 1 0 1 0 1-1 1 0 1 0 1-2 1 0 1 2 1 1 1 4 1-4 1 0 1-1 1 2 1-2 1 1 1 1 1 1 1-2 1 2 1 0 1 0 1 0 1 3 1-2 1-3 1 1 1 0 1 0 1 0 1-1 1-1 1 4 1-2 1 4 1-4 1-2 1 1 1-1 1 1 1 3 1 0 1-3 1-2 1 4 1-4 1 2 1 2 1-1 1-2 1 0 1 1 1-3 1 3 1-2 1 3 1 0 1 1 1 0 1 0 1 1 1-4 1 2 1-3 1 5 1-2 1 1 1-3 1 7 1-5 1 0 1 3 1-3 1 1 1 0 1 3 1-5 1 2 1-3 1 4 1-4 1-1 1 4 1-2 1 2 1 1 1-3 1 1 1-2 1 2 1-4 1 4 1 0 1-1 1-3 1 5 1 0 1-2 1 2 1 1 1-2 1 1 1 2 1-2 1 0 1 2 1-1 1 0 1 1 1-2 1 4 1-4 1 0 1-3 1 5 1 0 1-2 1-4 1 3 1-2 1 7 1-6 1 1 1-4 1 6 1 1 1-7 1 1 1 3 1-3 1 0 1 1 1 1 1 4 1-5 1 0 1 1 1-1 1 2 1 2 1-5 1 7 1-2 1 1 1-2 1 0 1 0 1 1 1-1 1 3 1-2 1-1 1 0 1 1 1 3 1-5 1 1 1-4 1 6 1-2 1 6 1-6 1 5 1-5 1 1 1-1 1 1 1 0 1 3 1-2 1-3 1-3 1 6 1-1 1 1 1 0 1-3 1 0 1 2 1-2 1 9 1-10 1 7 1 3 1-3 1-2 1-2 1 5 1-8 1 4 1-6 1 5 1 2 1 0 1-4 1 2 1 4 1-3 1 2 1-4 1-2 1 3 1 6 1-11 1 2 1 8 1-5 1 0 1-7 1 13 1-11 1 5 1 1 1 1 1-2 1 2 1 0 1-3 1 3 1-3 1 3 1-2 1 9 1-8 1 0 1-2 1 2 1-1 1 3 1-4 1 0 1 2 1-1 1 2 1 0 1-1 1 0 1 3 1-6 1 2 1 4 1-7 1 4 1 0 1-3 1 7 1 0 1-10 1 9 1-3 1-6 1 7 1-5 1 7 1-6 1 11 1-8 1-4 1 2 1 1 1 2 1-2 1 0 1 3 1-3 1-1 1 1 1 3 1-1 1 1 1-1 1 0 1-3 1 1 1 3 1-4 1 1 1 2 1-1 1 3 1-1 1 0 1-3 1 4 1-1 1-2 1 1 1 2 1-2 1-6 1 7 1-3 1 0 1 5 1-3 1 1 1-3 1 1 1 1 1-3 1 7 1-1 1-2 1-2 1 0 1-2 1 5 1 2 1-3 1-2 1 2 1-2 1 1 1 1 1-1 1 1 1-3 1 0 1 4 1 1 1-5 1 0 1 0 1 4 1 2 1-4 1-5 1 5 1-1 1 7 1-5 1 1 1 1 1-2 1 0 1-2 1 0 1 1 1 0 1 2 1-2 1-4 1 0 1 0 1 1 1 3 1 0 1 2 1-3 1 1 1 1 1 4 1-2 1-3 1 0 1-1 1 4 1-4 1-2 1 10 1-13 1 11 1-6 1 1 1 1 1-1 1 5 1-7 1 8 1-12 1-1 1 4 1 5 1-4 1-1 1 3 1 0 1-3 1 9 1-6 1-3 1 1 1-3 1 2 1 5 1-7 1 6 1-3 1 0 1-1 1 0 1 3 1-5 1 6 1-4 1 10 1-11 1 1 1 4 1-2 1 1 1-4 1 5 1 3 1-3 1 1 1 0 1-3 1 3 1 2 1-1 1-5 1 3 1 1 1-1 1 3 1-3 1 1 1 0 1-6 1 5 1-1 1 2 1 1 1-1 1 1 1-2 1-1 1 2 1-2 1 1 1-2 1 1 1-3 1 3 1 6 1-4 1-1 1-3 1 0 1 4 1-5 1 4 1-2 1 0 1 1 1 0 1 0 1-1 1-1 1 2 1-2 1 3 1 5 1-6 1 2 1-3 1 3 1-3 1 3 1-3 1 0 1-1 1 7 1-5 1-2 1 2 1 0 1-2 1 0 1 2 1-3 1 2 1-5 1 5 1-5 1 5 1 2 1 8 1-10 1 2 1-3 1 0 1 1 1 2 1-1 1 0 1 1 1 0 1-6 1 14 1-11 1 5 1 0 1-4 1 9 1-8 1 2 1-4 1 2 1 2 1-2 1-1 1-1 1 10 1-12 1 2 1 4 1-2 1 0 1 0 1 3 1-7 1 3 1 1 1-4 1 5 1 0 1-1 1 1 1 1 1-1 1 1 1-2 1 2 1-1 1 0 1 2 1-2 1-3 1 2 1 1 1 3 1-3 1 0 1 0 1-1 1-5 1 5 1 3 1-4 1 2 1-3 1 1 1 3 1-3 1 2 1-1 1 6 1-3 1-4 1 9 1-8 1-3 1 1 1 5 1 0 1-2 1 4 1-5 1 0 1 0 1-2 1 3 1 7 1-5 1-5 1 5 1 1 1-4 1 0 1-3 1 2 1-1 1-1 1 12 1-13 1 6 1 2 1-7 1 5 1 2 1-4 1-2 1 4 1-4 1-3 1 6 1 1 1 0 1 1 1-2 1 1 1 0 1-1 1 1 1-4 1-2 1 5 1 2 1-2 1-2 1-5 1 5 1 6 1-4 1 4 1-4 1 0 1 0 1 1 1 3 1-6 1 2V0"/><path transform="translate(278.97,471.62) scale(0.6692,1.0)" vector-effect="non-scaling-stroke" d="M0 0V-200l1-1 1 3 1-3 1 3 1-1 1 1 1 5 1-7 1 6 1-2 1-1 1 3 1 0 1 3 1-1 1-1 1 1 1 1 1-1 1 0 1 2 1 2 1 1 1 1 1-4 1 2 1 4 1 1 1-3 1 2 1 1 1-2 1 3 1 1 1-2 1 1 1 2 1 5 1-3 1-1 1 2 1 2 1-1 1-1 1 2 1 0 1 0 1 2 1 0 1 1 1 0 1 0 1 0 1 1 1-1 1 1 1 1 1 1 1-1 1 4 1-1 1 2 1 0 1-3 1 4 1 0 1 3 1-3 1 3 1 0 1 1 1-1 1 3 1-1 1 1 1 1 1-1 1 2 1 0 1 0 1 2 1-3 1 2 1-1 1 5 1-3 1 1 1 2 1-5 1 3 1-2 1 2 1 1 1 0 1 2 1-2 1 0 1 0 1-1 1 2 1-2 1 2 1 2 1-1 1 0 1-2 1 4 1 1 1 1 1-1 1 0 1-1 1 4 1-1 1-2 1 2 1 2 1-1 1-2 1 1 1-2 1 4 1-2 1 3 1-3 1 2 1 3 1 1 1-7 1 3 1-2 1 4 1-1 1 0 1 3 1-3 1-3 1 4 1 0 1 0 1-1 1 1 1-1 1-3 1 7 1-5 1 2 1 0 1 1 1-1 1 3 1 2 1-4 1 2 1-1 1 0 1 0 1 0 1-1 1 0 1 2 1 2 1-2 1-3 1 5 1-3 1 1 1-1 1 0 1 2 1-1 1 0 1 0 1 0 1 3 1-1 1-3 1 4 1 0 1-2 1 1 1 0 1 0 1-2 1 5 1-1 1 0 1 0 1-1 1-2 1 3 1 5 1-4 1-3 1 3 1 2 1 0 1 0 1 1 1-4 1 1 1 0 1 0 1 1 1-1 1 0 1 1 1 2 1-5 1 4 1 0 1 1 1 1 1 1 1 0 1-6 1 6 1-1 1-3 1 7 1-6 1 1 1-1 1 2 1 2 1-5 1 3 1 2 1 0 1-1 1 0 1-1 1 2 1 1 1-2 1 4 1-2 1-1 1 0 1 0 1-2 1 1 1 2 1 0 1-2 1 0 1-5 1 3 1-1 1-4 1-4 1-3 1-1 1-3 1 3 1 5 1 6 1 5 1-1 1 1 1 0 1 7 1-2 1-3 1-1 1 5 1-2 1 0 1 3 1-3 1 1 1-1 1-2 1-1 1-3 1 3 1 2 1 3 1-2 1 3 1 4 1-5 1 5 1 0 1-1 1-2 1 0 1 0 1 5 1 0 1 3 1-4 1 0 1 6 1-4 1-2 1 3 1-1 1 1 1-3 1 6 1-3 1-2 1 1 1 0 1 1 1-1 1-1 1 3 1-6 1 5 1 0 1 1 1-2 1 2 1 3 1 1 1 1 1 0 1 2 1-5 1 4 1 1 1 1 1-1 1 2 1-3 1-1 1 0 1 3 1 2 1-2 1 4 1-5 1 3 1 0 1-3 1 0 1 0 1 2 1 1 1 1 1-5 1 6 1-5 1 0 1 0 1-1 1 3 1-2 1 3 1-3 1 7 1-5 1 3 1-1 1 5 1 1 1-2 1-2 1 0 1-1 1 1 1-1 1 0 1 1 1-4 1-1 1-3 1-2 1 3 1 2 1 2 1 0 1 3 1 0 1 2 1 1 1 1 1 0 1 1 1-1 1 2 1-1 1 1 1 2 1 0 1-4 1 4 1 0 1-1 1 2 1 3 1-1 1 0 1-3 1 1 1 3 1 2 1-3 1 1 1-1 1 1 1 0 1-1 1 1 1-3 1 1 1-1 1 2 1-6 1 4 1-2 1-2 1-1 1-3 1 2 1-4 1-3 1 2 1 2 1 5 1 1 1-2 1 6 1 1 1 1 1-2 1 5 1 2 1-1 1 0 1 2 1 2 1-1 1-2 1 3 1-2 1-3 1 2 1 3 1 4 1-1 1-4 1 1 1 3 1-2 1 2 1 0 1-1 1-3 1 6 1-3 1-2 1 2 1-2 1 3 1 3 1-3 1 0 1-1 1 3 1 0 1-1 1-1 1-1 1-2 1 1 1-2 1 1 1 1 1 1 1-1 1 4 1 1 1 0 1 2 1 0 1-4 1 3 1-2 1 1 1 1 1 1 1 4 1-3 1-3 1 6 1-2 1 2 1-2 1 0 1 4 1-2 1-3 1 4 1-1 1 0 1 1 1 0 1 1 1-1 1 1 1-3 1 3 1-2 1 1 1-1 1-1 1 2 1 2 1-1 1 3 1-5 1 2 1 2 1-1 1 2 1 3 1-2 1 2 1-3 1-2 1 4 1 0 1 1 1-2 1-4 1 0 1 3 1 1 1-3 1 6 1-4 1 0 1-4 1 4 1-4 1 4 1-4 1 3 1 0 1-2 1-1 1 0 1 0 1 0 1-6 1-5 1 5 1-1 1 2 1 3 1 2 1 0 1 3 1 0 1 0 1 1 1 3 1 0 1 1 1-1 1 1 1 0 1 2 1 0 1-3 1 1 1 2 1-1 1 4 1-2 1 0 1 0 1 0 1 3 1-2 1 1 1-5 1 7 1-2 1 0 1 1 1-1 1 1 1-2 1 1 1-1 1-2 1 4 1-2 1 1 1 0 1 0 1 4 1-5 1 2 1-3 1 1 1 6 1-2 1-1 1-2 1 3 1-2 1 1 1 0 1 0 1 1 1-3 1 1 1-2 1 4 1-1 1 0 1-2 1 3 1 0 1 0 1-4 1 5 1-1 1 1 1 2 1-4 1 2 1 0 1-2 1 1 1-2 1 4 1-3 1 3 1-3 1 2 1-3 1 3 1-2 1 2 1 2 1-3 1 2 1-2 1 0 1 1 1 1 1-2 1-1 1 0 1 2 1 2 1-3 1 2 1 0 1 1 1-2 1-3 1 4 1 1 1-1 1 1 1 0 1-1 1 0 1 4 1-8 1 0 1 2 1 2 1-1 1-2 1 2 1-3 1 3 1 2 1 0 1 0 1-5 1 4 1-1 1 0 1 4 1-3 1-3 1 3 1 0 1-1 1 2 1-2 1 1 1-2 1 4 1 0 1-2 1 0 1-3 1 0 1 0 1 7 1-5 1 0 1 0 1 2 1-1 1 0 1 2 1-3 1 2 1 0 1-2 1 1 1-2 1 7 1-10 1 3 1 1 1-1 1-3 1-2 1 3 1-2 1 0 1-1 1 0 1 3 1 2 1 2 1-4 1 3 1-2 1 0 1 1 1 3 1-6 1 5 1-5 1 11 1-7 1-1 1 0 1 2 1-5 1 7 1-2 1 2 1-3 1 1 1 0 1 5 1 1 1-1 1-6 1 2 1 4 1 1 1-5 1 3 1-3 1 3 1-5 1 4 1-2 1 2 1 6 1-5 1-3 1 2 1-2 1 3 1-2 1 1 1-2 1-2 1 5 1 0 1 0 1-2 1 0 1 2 1 1 1 1 1-1 1-4 1 0 1 2 1-2 1 1 1 0 1-3 1 3 1-1 1-6 1-1 1 4 1 0 1 7 1-7 1 2 1-1 1 2 1-7 1 8 1-2 1 7 1-5 1-6 1 6 1 3 1-4 1-2 1 8 1-6 1 5 1-5 1 1 1-1 1-3 1 4 1-1 1 2 1 0 1-5 1 5 1-5 1 3 1 6 1-7 1-1 1 9 1-12 1 7 1 0 1-2 1 2 1 0 1-6 1 10 1-4 1 9 1-10 1 1 1 2 1 0 1-1 1-4 1 6 1-2 1-1 1 1 1 1 1-2 1 1 1-1 1 1 1-2 1 0 1 2 1-3 1 3 1 1 1-1 1-2 1 2 1-2 1 3 1-1 1 0 1 0 1 0 1 3 1 4 1-3 1 0 1-4 1 0 1-1 1-4 1 5 1 1 1-1 1 0 1 5 1-6 1 3 1-1 1-1 1-3 1 5 1-2 1-2 1-2 1 4 1-1 1 8 1-7 1 2 1-2 1 0 1 2 1-4 1 1 1 6 1-8 1 2 1-1 1 4 1-1 1-1 1-2 1 4 1-2 1 2 1-1 1 0 1 0 1-3 1 0 1 8 1-1 1 0 1-2 1-1 1 0 1 0 1-1 1-1 1 1 1 3 1-4 1 1 1 8 1-10 1 4 1-2 1 0 1 4 1-1 1-1 1-6 1 0 1 1 1 4 1-1 1 0 1 5 1-2 1-3 1 3 1-3 1 0 1 6 1-8 1 2 1 0 1-1 1-2 1 5 1 0 1-3 1-2 1 5 1-2 1 5 1 3 1-13 1 3 1 1 1 5 1-6 1 0 1 2 1-3 1-4 1 7 1 4 1-5 1-2 1-3 1 0 1 2 1 2 1 2 1 0 1 1 1-2 1 5 1-6 1 1 1-1 1 1 1 0 1 2 1-5 1 2 1 4 1-1 1 2 1-5 1 2 1 1 1-3 1 4 1-8 1 1 1 9 1-5 1 1 1 1 1 0 1-6 1 10 1-8 1 4 1-1 1 0 1-2 1 4 1-1 1 2 1-3 1 5 1-12 1 6 1 1 1-5 1 2 1 5 1 2 1-5 1 2 1-3 1 2 1 1 1-1 1 5 1-3 1 0 1-4 1 3 1-4 1-2 1 4 1 2 1 6 1-14 1 8 1-5 1 8 1-11 1 3 1-2 1 1 1 3 1 2 1-5 1 2 1 1 1 4 1-8 1 4 1 2 1 4 1-5 1-5 1 4 1 8 1-8 1-1 1 4 1-4 1-4 1 6 1 3 1-2 1-5 1 4 1 1 1-1 1-2 1 2 1 4 1-2 1 0 1-3 1 2 1 4 1 3 1-7 1-1 1 0 1 1 1 0 1 1 1 1 1-2 1-1 1 2 1-5 1 3 1 3 1-3 1 2 1 1 1 1 1-1 1 0 1-8 1 11 1-4 1-1 1 5 1-3 1-1 1 0 1-2 1 1 1 0 1 1 1 4 1-6 1 1 1 0 1 0 1-4 1 3 1 1 1 2 1 0 1-3 1-1 1 1 1-1 1 6 1-1 1-4 1-1 1 3 1-7 1 6 1 5 1-6 1-5 1 0 1 0 1 6 1-3 1 4 1-4 1 3 1 0 1 5 1-5 1-1 1 3 1-2 1 1 1 1 1-1 1 1 1-3 1 0 1 1 1 3 1-3 1 2 1-3 1-2 1 7 1-4 1 0 1 5 1-10 1 8 1 0 1 2 1-4 1-2 1 1 1 0 1 2 1-4 1 4 1-1 1-2 1 7 1-4 1-2 1 1 1 1 1-9 1 14 1-7 1 1 1 0 1-6 1 5 1-1 1 0 1-3 1 0 1 5 1-2 1 4V0"/><path transform="translate(273.84,477.54) scale(0.6692,1.0)" vector-effect="non-scaling-stroke" d="M0 0V-120l1 3 1-2 1 1 1 3 1-4 1 1 1 5 1-4 1-2 1 3 1 0 1 1 1 2 1 0 1-2 1 1 1-3 1 1 1 2 1 1 1-1 1 6 1-7 1-1 1 4 1 0 1 0 1 5 1-5 1 2 1 4 1-4 1-3 1 3 1 1 1 0 1-1 1 3 1-4 1 5 1 1 1 2 1-5 1 1 1 1 1 1 1 2 1-1 1 0 1-1 1 0 1 1 1 0 1 1 1-1 1 2 1-3 1 2 1 0 1-1 1 4 1-4 1 1 1 2 1 1 1-2 1 4 1-3 1 1 1 3 1 3 1-3 1-3 1 2 1-3 1 5 1-5 1 0 1 4 1 2 1-4 1 2 1-1 1 3 1 2 1-2 1-3 1 7 1-6 1 3 1-1 1 0 1-1 1 1 1 0 1-1 1 1 1-1 1 2 1-3 1 0 1 2 1 4 1-3 1-1 1 3 1-2 1 1 1 1 1-2 1 1 1-1 1 4 1-5 1 3 1-1 1 2 1 1 1 1 1-2 1 0 1-1 1 0 1-2 1 2 1 1 1 1 1 3 1-4 1 2 1-5 1 3 1 4 1-3 1 2 1 2 1-4 1-3 1 5 1-6 1 4 1 1 1-4 1 4 1 1 1-4 1 0 1 2 1 0 1 1 1-1 1 2 1 0 1 1 1-1 1-1 1 2 1 1 1 0 1-2 1 2 1-2 1-1 1 3 1-3 1 3 1 0 1-2 1-2 1 4 1-2 1 1 1 1 1-1 1 0 1 0 1-2 1 2 1-1 1 4 1-6 1 4 1-1 1 2 1-1 1-1 1-1 1 0 1 1 1 1 1-1 1 1 1 2 1-3 1 0 1 3 1 2 1-4 1-1 1 4 1-2 1-1 1 1 1-1 1 4 1-4 1 2 1-2 1 6 1-6 1 1 1 0 1 3 1-4 1 1 1 4 1-5 1 4 1-1 1 0 1-2 1 0 1 3 1-3 1 3 1-2 1 3 1-2 1 2 1-3 1 1 1 0 1-3 1 2 1 2 1-1 1-1 1 1 1 2 1-2 1 0 1 0 1 0 1 0 1-4 1 0 1-2 1-3 1-4 1-3 1-8 1-3 1-4 1-1 1 6 1 7 1 5 1 4 1 1 1 4 1 0 1 4 1-2 1 2 1 3 1-2 1 0 1 0 1-1 1 2 1-1 1 1 1-2 1-4 1 1 1 0 1 0 1 3 1 2 1 2 1 0 1 1 1 4 1 2 1-8 1 7 1-4 1 1 1-1 1 2 1 0 1 1 1-1 1-2 1 3 1-3 1 3 1-1 1-2 1 1 1 2 1 0 1-2 1-2 1 2 1-2 1 2 1-1 1 1 1-1 1 1 1-4 1 2 1 1 1 4 1-3 1 3 1 2 1 0 1 2 1-2 1-3 1 3 1 0 1 2 1-2 1-1 1-2 1 4 1 0 1-4 1 5 1-2 1 0 1-3 1 3 1-1 1-1 1 1 1 1 1 2 1-2 1 0 1 1 1 1 1-1 1-3 1 1 1 1 1 2 1-3 1 8 1-3 1-3 1 3 1 1 1 0 1 0 1 0 1 0 1 4 1-2 1-1 1-1 1 0 1-2 1 2 1 1 1-3 1 1 1 0 1 3 1-1 1-2 1 2 1 5 1-4 1 0 1-1 1 3 1-1 1-2 1 1 1 1 1 1 1 0 1 2 1-1 1-1 1 0 1-1 1 1 1 0 1 2 1-1 1-3 1 4 1 1 1 1 1 2 1-3 1 0 1 0 1-2 1 0 1-1 1 0 1 2 1-4 1 0 1-1 1 0 1 1 1-6 1 1 1-1 1-3 1-1 1 2 1-2 1-2 1 5 1 0 1 6 1 0 1 3 1-2 1 5 1 3 1-4 1 1 1 2 1-3 1 4 1 0 1-1 1-3 1 4 1-1 1 4 1-4 1 1 1 0 1 0 1 5 1-4 1 1 1 0 1-3 1 3 1-2 1 0 1 1 1 1 1 2 1-4 1 5 1-3 1-3 1 1 1 0 1 0 1-2 1 1 1 1 1-1 1 2 1-3 1 0 1 1 1-1 1 7 1-1 1-2 1-3 1 2 1 2 1 2 1-2 1 0 1 0 1-3 1 3 1 1 1-1 1 2 1 0 1 0 1 0 1-4 1 4 1-1 1 2 1-4 1 5 1-1 1-2 1 3 1 0 1 3 1-2 1 0 1-1 1 1 1 1 1-1 1 0 1-2 1 2 1 0 1-1 1 1 1 0 1 2 1-2 1-2 1-1 1 2 1 4 1-4 1 2 1-1 1 1 1 0 1 2 1-1 1 0 1-1 1 2 1 1 1-4 1 1 1 1 1 2 1 0 1-3 1 2 1-4 1 3 1-2 1 1 1-1 1 0 1 2 1-5 1-3 1 0 1 0 1-2 1-3 1 3 1 2 1 1 1 5 1-1 1 1 1 2 1 0 1-1 1 2 1-2 1 2 1-2 1 3 1 0 1 0 1 5 1-7 1 2 1 0 1 2 1 0 1-2 1-1 1 2 1-2 1-2 1 5 1 1 1-3 1 3 1-1 1 2 1-3 1 1 1 1 1-2 1 1 1 0 1 0 1-2 1 3 1-1 1 1 1-1 1 0 1-1 1 1 1 0 1 2 1 1 1-5 1 2 1-3 1 4 1 1 1-2 1 2 1-1 1 4 1-5 1 3 1-1 1 0 1 0 1-3 1 1 1 2 1 0 1-1 1 1 1 0 1-3 1 2 1 1 1 1 1-1 1 0 1 0 1 0 1 1 1 0 1-1 1 0 1 1 1-1 1 3 1-3 1-3 1 1 1 1 1 5 1-3 1 2 1 0 1-1 1 1 1-5 1 3 1 0 1 1 1 3 1-1 1-4 1 0 1 1 1-1 1 1 1-1 1 0 1 1 1 5 1-5 1-2 1 3 1 0 1-1 1 2 1-2 1 1 1-1 1-1 1 0 1 3 1-3 1 1 1 0 1 3 1-4 1 1 1-1 1 1 1 2 1-2 1 3 1 0 1-3 1-2 1 2 1-2 1 5 1 0 1-2 1 0 1 0 1 0 1 0 1-2 1 2 1 0 1 2 1-3 1 0 1 2 1-1 1 2 1 1 1-1 1 4 1-9 1-2 1 6 1-4 1 1 1-1 1 1 1 0 1 0 1-1 1-3 1 3 1 0 1-7 1 6 1 2 1-1 1-2 1 0 1 0 1 0 1-1 1 5 1 1 1-5 1 1 1 3 1 2 1 0 1-6 1 4 1 0 1 3 1 0 1-2 1-3 1 1 1 3 1 3 1-4 1 0 1-3 1 3 1 2 1-2 1 0 1 2 1-5 1 6 1 4 1-6 1-3 1 2 1 1 1 0 1 0 1-2 1-3 1 4 1 4 1-5 1 1 1 1 1-1 1 8 1-7 1 0 1-5 1 1 1 4 1-2 1 1 1 0 1 2 1-2 1 7 1 1 1-4 1 0 1 6 1-11 1 2 1 0 1-1 1-2 1 6 1-3 1 0 1 0 1-1 1 1 1-5 1 8 1-1 1-5 1 5 1-1 1 0 1-2 1-2 1 3 1 2 1-4 1 4 1 3 1 1 1-8 1 3 1 1 1 3 1-10 1 4 1 0 1 2 1 1 1-1 1-1 1 0 1 4 1-6 1 3 1 0 1 0 1 0 1-5 1 7 1-3 1 0 1-5 1 5 1 2 1-1 1-4 1 8 1-6 1 2 1 5 1-8 1 4 1-1 1-1 1 1 1-3 1-3 1 2 1 4 1-1 1 2 1-1 1 0 1 0 1 2 1-6 1 3 1 1 1 1 1 2 1-3 1 1 1-4 1 7 1-1 1-3 1 2 1 0 1-6 1 7 1 1 1-2 1-1 1 0 1-1 1 4 1 0 1-6 1 3 1 4 1-4 1-2 1 4 1-1 1-3 1 4 1-3 1 2 1-1 1 0 1 4 1-5 1-1 1 4 1 2 1-4 1 0 1 0 1-3 1 8 1-5 1-2 1 0 1 1 1 3 1 0 1-1 1-1 1 5 1 1 1-8 1 4 1-2 1-3 1 8 1-3 1-4 1 5 1-6 1 3 1 1 1-2 1 3 1-4 1-3 1 5 1 0 1 2 1 1 1-2 1 1 1-1 1 1 1-3 1 1 1 2 1 2 1-4 1-6 1 0 1-1 1 7 1-4 1 7 1 5 1-4 1 4 1-4 1-3 1-2 1 1 1 1 1 5 1-5 1 0 1-1 1 1 1 1 1 0 1-1 1 2 1-8 1 10 1-5 1 2 1 0 1-1 1 1 1-3 1 1 1 0 1 1 1-1 1-1 1 3 1 0 1 0 1-1 1 0 1 0 1-2 1 1 1 0 1 1 1-6 1 12 1-6 1 0 1-7 1 7 1 0 1-2 1 2 1 2 1-1 1-1 1 0 1 0 1 2 1-8 1 7 1 0 1-1 1-2 1 0 1 2 1-2 1 2 1 1 1-1 1 1 1-3 1 2 1 0 1 1 1-2 1 2 1 0 1 7 1-5 1-2 1 0 1-1 1-1 1 2 1 1 1-3 1-1 1-2 1 4 1 5 1-4 1-2 1 1 1 3 1-8 1 2 1 4 1 2 1-4 1 2 1-2 1-1 1 2 1 0 1-2 1 0 1 8 1-7 1 2 1-5 1 3 1-3 1 4 1 3 1-7 1 0 1 3 1 3 1 2 1-5 1 0 1 2 1-1 1 5 1-3 1-8 1 6 1 1 1-7 1 6 1 5 1-6 1 1 1 1 1-2 1 2 1-3 1-5 1 11 1-6 1-1 1 1 1 1 1 2 1-1 1 3 1 2 1-6 1 4 1 2 1-3 1 6 1-8 1 0 1 0 1 4 1-4 1-1 1 2 1 0 1 0 1 1 1-1 1-1 1 5 1-4 1 2 1-2 1-3 1 3 1-1 1 1 1-6 1 2 1 7 1-3 1-1 1-2 1 3 1 1 1 1 1-5 1 3 1 0 1 0 1-7 1 5 1 3 1 0 1 1 1-7 1 4 1-1 1-2 1 8 1-2 1-2 1-2 1 2 1 1 1 3 1-4 1 2 1-8 1 2 1 4 1 3 1-3 1-7 1 6 1 1 1 0 1 2 1 0 1-2 1-6 1 1 1 2 1 3 1-2 1 3 1-1 1 1 1-1 1 4 1-8 1-1 1 6 1-1 1 2 1-3 1-5 1 2 1 9 1-9 1 5 1 2 1-2 1-1 1 1 1-2 1 5 1-5 1 1 1-3 1 2 1 5 1-11 1 8 1-2 1 1 1 0 1 3 1-1 1-1 1-1 1 0V0"/><path transform="translate(268.71,483.46) scale(0.6692,1.0)" vector-effect="non-scaling-stroke" d="M0 0V-128l1 0 1 0 1-1 1 1 1 1 1 1 1 0 1-2 1 3 1 0 1 0 1 0 1-4 1 4 1-1 1-1 1 2 1 0 1 3 1-1 1 2 1 1 1-2 1-1 1 4 1 2 1-5 1 2 1 2 1-4 1 2 1-1 1-1 1 5 1 0 1-4 1 4 1-1 1 0 1 2 1 0 1 3 1-2 1 0 1 5 1-6 1 3 1-1 1 3 1-2 1 2 1-2 1 1 1-3 1 4 1-1 1-3 1 4 1-2 1-2 1 6 1-2 1 1 1 0 1-1 1 0 1 2 1 0 1-3 1 5 1 0 1-1 1 1 1 0 1-1 1-2 1 4 1 1 1-1 1-1 1-1 1-1 1 3 1 0 1 0 1 5 1-5 1 0 1 2 1-1 1 1 1-2 1 2 1 0 1 2 1-2 1 1 1 1 1-1 1 1 1-1 1 1 1-1 1 1 1-1 1 1 1-2 1 1 1 5 1-3 1 2 1-4 1 5 1-3 1 0 1 2 1-5 1 4 1 1 1 0 1-1 1 0 1 0 1 3 1-1 1-1 1 2 1 0 1-2 1 1 1-2 1-3 1 6 1-3 1 5 1-2 1 1 1 0 1-1 1-2 1 0 1-1 1-1 1 3 1-2 1 1 1 0 1 1 1 1 1-4 1 4 1 2 1-2 1-1 1 0 1 1 1-3 1 3 1-1 1 1 1 0 1 0 1-1 1 3 1-2 1 2 1-1 1-3 1 4 1-2 1 1 1 1 1 0 1-3 1-2 1 3 1 2 1-4 1 4 1 0 1-1 1 6 1-5 1 1 1-1 1 1 1 1 1-2 1 0 1 1 1 0 1-4 1 5 1-2 1 1 1-4 1 0 1 3 1 1 1 0 1 2 1-2 1-1 1 0 1 2 1 1 1-1 1 3 1-3 1 0 1 5 1-6 1 2 1-1 1 0 1-2 1-2 1 3 1 1 1-1 1 0 1 2 1-3 1 5 1 2 1-3 1-2 1-3 1 4 1 2 1-3 1-2 1 6 1-3 1 1 1 0 1 1 1 0 1-2 1 3 1-3 1 0 1-1 1-3 1 0 1-1 1-1 1-3 1-2 1-5 1-7 1-4 1-4 1 2 1 5 1 5 1 7 1 2 1 4 1 3 1 0 1 0 1 3 1 0 1 0 1 1 1-1 1-1 1 1 1 2 1-4 1-3 1-2 1-3 1-3 1-2 1 6 1 4 1 2 1 4 1 2 1 0 1 2 1-1 1 3 1 0 1 1 1 1 1 0 1-2 1 2 1-2 1 1 1 1 1-2 1 3 1-4 1 3 1-1 1-2 1 3 1 0 1 3 1-3 1 3 1-2 1-2 1 0 1 1 1 1 1 0 1-2 1 2 1 1 1 4 1-4 1 0 1-2 1-1 1 5 1 2 1-2 1 1 1 1 1-3 1 3 1-2 1 2 1 0 1 0 1-1 1 0 1-1 1 1 1-1 1 2 1-2 1 1 1-3 1 3 1 1 1-1 1 1 1-1 1 1 1-4 1 2 1 3 1 0 1-1 1 0 1 1 1-2 1 4 1-2 1 1 1-3 1 2 1-2 1 1 1 3 1-1 1 0 1 1 1-4 1 0 1-1 1 4 1-8 1 1 1 3 1 0 1 0 1 2 1 2 1 0 1 0 1 3 1-1 1-1 1 4 1 0 1-2 1-3 1 4 1 4 1 1 1-5 1-3 1 4 1-2 1 0 1 2 1-1 1 0 1 0 1 1 1-2 1 1 1 0 1 1 1 1 1 2 1-4 1 0 1 0 1 0 1 1 1-1 1 3 1-2 1-1 1-1 1-4 1 0 1-2 1-2 1-1 1-1 1 2 1-1 1 0 1 2 1 3 1 3 1-2 1 4 1 1 1-3 1 3 1-1 1 3 1 5 1-3 1 0 1 1 1 0 1-1 1 1 1 0 1 2 1-1 1 0 1 4 1-4 1 3 1-3 1 1 1-1 1 0 1 1 1 1 1-3 1 5 1-3 1 0 1 2 1-1 1-2 1 0 1 4 1-5 1 3 1-1 1 2 1-2 1 0 1 0 1 0 1-1 1 3 1-1 1 0 1-2 1 3 1 1 1-3 1 4 1-1 1 1 1 0 1-2 1 3 1-3 1 1 1-1 1 1 1 2 1-1 1 1 1-1 1 0 1 4 1-3 1 0 1 0 1 0 1 4 1-4 1-1 1 2 1-2 1-2 1 7 1-6 1 4 1-1 1-3 1 6 1 3 1-5 1 0 1-3 1 1 1 1 1 0 1-1 1 2 1 0 1 0 1 2 1-1 1 2 1-2 1 0 1 2 1-1 1 1 1-5 1 6 1 1 1-3 1-1 1-1 1 2 1 1 1-2 1-2 1 1 1 0 1-1 1-2 1 5 1-5 1-2 1-2 1-3 1-1 1-4 1 1 1-1 1 2 1 4 1 5 1-4 1 6 1 0 1 6 1 0 1-4 1-2 1 5 1 0 1 4 1 1 1-2 1-4 1 4 1 1 1-2 1 1 1-3 1 1 1 0 1 2 1-1 1 0 1 4 1-4 1-3 1 4 1-2 1 3 1 2 1-3 1 0 1 1 1 1 1 2 1-3 1 3 1-2 1-2 1 0 1 0 1 1 1 0 1-3 1 2 1 2 1-2 1 2 1-1 1 4 1-3 1 0 1 0 1 0 1 1 1-3 1 2 1 2 1-3 1-1 1 4 1-1 1 3 1-5 1 0 1-3 1 5 1 1 1-4 1 4 1-2 1 3 1-3 1 3 1 0 1-1 1-3 1 2 1-1 1 2 1-4 1 0 1 3 1-1 1-2 1 3 1 1 1-1 1 4 1-2 1-1 1 0 1 1 1-2 1 0 1 0 1-2 1 4 1-4 1 2 1 2 1-1 1-1 1 1 1 2 1-2 1 0 1-1 1 1 1-1 1 0 1-1 1 1 1 1 1-2 1 3 1-1 1 1 1 1 1-2 1 0 1-2 1 2 1-1 1 2 1 0 1-1 1-1 1 2 1 1 1-1 1-1 1-5 1 4 1-1 1-2 1 1 1 4 1 0 1-2 1-2 1 4 1-5 1 6 1 2 1-7 1 4 1 2 1-5 1 3 1-2 1-2 1 4 1 0 1-2 1 2 1-4 1-1 1 8 1-6 1 3 1-1 1 1 1-3 1 2 1 0 1-1 1 1 1-2 1 6 1-4 1 0 1 0 1 0 1 0 1 1 1-1 1 1 1-6 1 3 1 8 1-2 1-3 1-1 1-4 1 2 1 9 1-4 1-7 1 5 1 0 1 0 1 0 1 3 1-5 1 2 1 0 1 1 1 1 1-1 1-1 1 2 1-3 1 3 1-5 1 1 1-2 1 4 1 0 1 1 1 5 1-6 1 1 1 1 1-2 1-2 1 5 1 1 1-3 1 2 1-6 1 2 1 5 1-1 1-2 1 0 1-4 1 0 1 11 1-12 1 8 1-1 1-4 1 1 1 3 1-7 1 5 1 0 1 3 1-6 1 0 1 3 1 0 1 4 1-7 1 5 1-5 1 5 1-2 1-4 1 7 1-1 1-2 1-1 1 7 1-6 1 1 1 1 1-1 1-2 1 0 1 3 1 0 1-3 1-4 1 6 1-5 1 4 1 2 1-7 1 7 1-5 1-1 1 4 1 6 1-10 1 3 1 2 1-2 1-3 1 3 1 1 1-2 1 2 1 1 1-3 1 3 1-1 1 2 1-3 1-2 1 4 1-3 1-3 1 5 1 1 1 0 1 4 1-4 1 0 1 1 1-1 1 1 1-3 1 2 1-2 1 5 1-6 1 5 1 0 1-3 1-1 1 2 1 1 1 1 1 2 1-2 1 1 1-2 1-2 1 1 1 2 1-2 1-3 1 3 1 2 1-3 1 3 1-5 1 2 1 4 1 1 1-2 1-6 1-1 1 6 1 2 1-2 1-2 1 2 1 5 1-4 1-6 1 10 1-3 1-4 1 1 1-3 1 7 1-3 1 0 1 0 1 3 1-3 1-4 1 5 1-5 1 4 1-1 1 0 1-1 1-1 1 3 1 2 1-1 1 1 1 4 1-12 1 5 1 3 1-1 1 2 1-7 1 0 1 6 1-5 1 7 1-4 1 2 1-5 1 7 1-3 1-2 1 4 1-4 1 0 1-2 1-3 1 9 1-1 1-1 1-1 1-1 1-1 1-1 1 6 1-1 1-6 1 5 1-1 1-1 1 4 1-3 1 1 1-1 1-6 1 7 1-4 1 3 1 8 1-5 1-3 1-1 1-2 1 4 1-1 1-5 1 8 1-4 1-1 1 2 1-4 1 2 1 2 1-3 1 0 1 5 1-2 1 2 1 0 1-4 1 2 1 2 1-3 1 4 1-1 1-3 1 2 1 3 1-2 1-2 1 1 1-2 1 0 1 2 1-7 1 7 1 0 1 3 1-4 1 0 1-1 1 0 1 0 1-3 1 4 1-6 1 5 1 4 1-2 1-2 1 3 1-5 1 1 1 2 1 2 1-2 1-2 1 1 1 3 1-8 1 6 1-3 1 1 1-1 1 4 1 4 1-8 1 2 1 2 1 0 1-1 1-5 1 7 1-7 1 5 1-3 1 4 1-3 1 1 1-3 1-3 1 5 1-2 1 3 1 1 1-4 1 3 1-1 1-1 1 4 1 0 1-3 1 1 1 4 1-4 1-1 1 2 1 4 1-2 1-3 1 4 1-8 1 2 1 6 1 0 1-7 1 3 1-4 1 5 1 1 1 1 1 1 1-3 1-1 1 0 1 2 1-2 1 0 1 2 1 3 1-10 1 6 1 0 1 5 1-5 1 1 1 1 1-2 1-3 1 0 1 7 1 0 1-2 1-2 1 4 1-1 1-1 1-2 1-4 1 4 1 0 1 1 1-1 1 0 1 2 1-1 1-1 1 2 1 0 1 3 1-2 1-2 1-2 1 3 1-1 1-1 1 1 1-2 1 4 1 0 1-9 1 6 1 7 1-7 1-3 1 1 1-2 1 5 1 3 1-7 1-2 1 9 1-2 1-1 1 0 1-4 1 4 1 5 1-8 1 2 1-2 1 2 1-5 1 6 1 0 1-5 1 7 1-2 1-6 1 0 1 4 1 1 1-1 1-1 1 3 1 0 1 0 1 2 1-1 1-2 1 7 1-9 1 4 1-1 1 2 1-4 1 0 1 4 1-2 1 0 1 0 1 6 1-8 1 1 1 0 1 2 1-1 1 0 1 2 1-1 1-6 1 6 1-1 1 1 1-1 1 1 1-4 1 6 1-2 1-7 1 6 1-1 1 2 1 4 1 0 1-7 1-5 1 7 1-1V0"/><path transform="translate(263.59,489.39) scale(0.6692,1.0)" vector-effect="non-scaling-stroke" d="M0 0V-142l1-1 1 2 1-3 1 1 1 4 1 0 1-1 1 1 1-1 1 1 1 1 1-1 1 1 1 1 1-1 1 1 1-1 1 1 1 0 1 0 1 3 1 0 1 2 1-3 1 1 1 2 1-1 1-1 1 2 1-1 1 3 1-1 1 0 1 0 1-1 1 2 1 1 1-2 1 0 1 4 1 0 1 1 1-1 1 1 1 1 1-2 1 1 1 2 1 4 1-5 1-3 1 1 1 2 1 1 1-1 1 1 1 3 1-5 1 1 1 1 1 0 1 4 1-3 1 4 1-2 1 4 1-2 1 0 1-2 1 1 1 3 1-1 1 2 1 0 1 0 1 1 1 0 1-2 1 2 1 2 1-4 1 3 1-2 1 1 1 3 1 0 1-2 1 1 1-3 1 3 1 4 1-2 1-3 1 1 1 2 1 0 1 1 1-1 1 2 1-2 1 4 1-1 1-1 1-1 1 1 1 4 1-1 1-4 1 3 1-5 1 3 1-1 1 2 1-1 1-1 1 1 1 1 1 1 1-1 1 0 1 3 1 0 1-1 1-1 1 0 1-3 1 4 1 0 1 1 1-1 1-1 1 1 1 2 1-2 1 1 1 4 1-7 1 1 1-2 1 3 1 1 1-1 1 0 1 1 1 0 1 1 1-1 1 0 1 2 1 2 1-4 1 0 1 0 1 0 1 0 1 0 1 0 1 0 1 1 1-1 1 2 1-3 1 1 1 1 1 2 1 0 1 1 1-1 1 0 1 0 1 0 1 0 1-1 1 2 1 0 1 0 1 0 1-1 1 3 1 2 1-6 1 1 1 3 1 2 1-5 1-1 1 4 1-4 1 1 1 1 1 3 1-2 1-2 1 0 1 3 1-2 1-2 1 3 1 0 1 2 1-2 1 3 1-4 1 2 1 3 1-2 1-2 1-1 1-1 1 2 1 4 1-3 1 0 1 0 1 1 1 3 1-5 1 1 1 0 1 0 1 2 1-2 1-2 1 3 1-1 1 1 1-1 1-1 1 2 1-1 1 1 1-2 1 3 1 0 1-1 1 1 1 1 1-2 1 0 1-1 1-2 1 3 1 2 1-6 1 1 1-4 1-2 1-4 1-6 1-7 1-11 1-8 1-5 1 2 1 8 1 9 1 12 1 0 1 6 1 6 1 3 1 7 1 1 1-2 1-1 1 3 1-6 1 2 1 2 1 2 1-5 1 4 1-2 1-4 1 3 1 0 1-3 1 5 1 3 1 2 1 1 1 0 1 0 1-1 1 3 1-1 1-3 1 8 1-7 1 3 1-1 1 2 1-2 1 1 1 2 1-2 1 1 1 2 1-2 1 0 1 2 1 1 1-6 1 5 1-2 1-2 1-1 1-4 1 2 1 1 1 1 1 1 1 3 1-5 1 3 1 1 1 6 1-5 1 3 1 0 1-4 1 4 1-1 1 2 1 0 1-2 1-1 1 3 1 0 1 6 1 0 1-5 1 3 1-5 1 1 1 0 1-1 1 2 1 1 1 3 1-5 1 6 1-8 1 4 1 0 1 0 1-2 1-2 1 0 1 3 1 1 1-1 1 2 1-1 1 2 1-2 1 1 1 2 1 1 1-1 1 2 1-2 1-1 1-3 1 1 1 0 1-1 1-3 1 6 1-7 1 1 1 1 1 2 1 0 1 4 1-3 1 2 1-3 1 4 1 2 1 1 1-4 1 3 1 1 1-2 1 3 1 0 1 1 1-1 1-2 1 3 1 1 1-4 1 1 1 2 1 0 1 2 1-1 1 0 1 0 1-2 1 3 1-4 1 2 1-3 1 1 1 0 1 4 1-6 1 1 1 2 1 1 1-3 1-3 1 0 1-2 1-2 1-2 1-1 1-4 1 6 1 3 1 1 1-1 1 6 1 1 1 1 1 0 1 2 1-1 1 1 1 2 1 0 1-3 1 5 1 1 1-3 1 0 1 3 1 0 1-2 1 5 1-3 1 1 1-3 1 3 1 0 1 0 1 0 1-2 1 5 1-2 1-1 1 2 1-1 1 1 1 0 1 1 1-3 1 3 1-3 1 2 1-1 1 1 1-1 1-2 1 1 1-2 1 0 1-2 1 4 1-3 1 2 1 3 1 1 1 1 1-2 1-2 1 2 1 1 1 0 1-2 1 2 1 1 1 2 1-4 1 1 1 5 1-5 1 2 1 1 1 1 1 0 1 0 1-1 1 3 1-2 1 1 1 1 1-1 1 3 1-3 1-2 1 4 1 0 1-2 1-4 1 3 1 1 1 2 1 2 1-7 1 3 1 2 1-2 1 1 1 1 1-2 1 0 1 0 1-2 1 6 1-2 1-1 1 1 1-1 1 1 1 0 1 3 1-5 1-1 1 3 1 0 1-3 1 2 1 0 1-1 1 1 1 0 1-2 1 0 1 0 1-1 1 1 1 1 1-4 1 4 1-8 1 6 1-4 1 2 1 0 1 0 1 3 1 3 1-2 1 4 1 4 1-2 1-2 1 0 1 1 1 3 1-2 1 1 1-1 1-1 1 1 1 3 1-4 1 2 1-2 1 2 1-2 1-1 1 2 1 2 1 1 1-2 1 0 1-1 1 2 1-1 1 1 1-2 1-2 1 7 1-5 1 2 1 4 1-3 1-3 1 1 1 3 1-5 1 0 1 2 1 1 1 1 1 0 1 5 1-5 1-4 1 3 1 1 1 3 1-5 1 4 1-2 1 1 1 0 1 1 1-1 1 0 1-1 1 0 1 0 1 5 1-6 1 1 1 2 1-5 1 5 1-3 1 4 1-1 1-3 1 2 1-2 1 1 1 0 1-1 1-1 1 1 1 2 1 0 1-2 1 2 1-1 1-2 1 3 1 0 1 1 1-2 1 1 1 3 1-2 1 0 1-2 1 2 1 2 1-5 1 4 1-2 1 1 1 0 1 1 1-2 1 0 1 0 1 1 1 2 1-1 1 0 1-1 1-4 1 5 1-2 1 2 1-1 1-1 1 0 1 0 1-2 1 3 1 2 1-5 1 4 1 0 1-3 1 2 1 0 1-1 1 1 1 0 1-1 1 1 1 0 1 0 1 2 1-6 1 6 1-6 1 3 1 2 1 2 1-3 1-1 1-2 1 4 1 0 1 2 1-2 1-2 1 1 1-2 1-2 1 4 1 6 1-5 1 0 1 0 1 0 1 1 1-2 1 2 1-2 1 0 1-2 1 1 1 1 1-3 1-4 1 1 1-3 1 5 1 2 1 1 1 3 1-5 1 3 1 0 1 1 1 1 1-2 1 2 1 2 1-5 1 2 1 3 1-2 1 4 1-8 1 3 1-1 1 1 1 2 1-2 1 1 1-5 1 8 1-3 1-1 1 0 1 0 1-1 1 4 1-6 1 4 1 1 1 3 1-4 1 0 1 0 1-2 1 1 1 2 1 0 1 3 1-3 1 1 1 0 1 1 1-1 1 4 1-4 1-3 1 1 1 0 1-1 1 0 1 0 1-3 1 4 1 0 1-3 1 6 1-9 1 1 1 4 1-1 1 0 1 1 1 4 1-4 1 1 1-1 1 4 1-3 1-4 1 2 1 2 1 6 1-5 1 3 1-5 1 0 1 0 1 3 1 2 1-6 1 6 1-5 1 3 1 3 1-5 1-1 1-2 1 2 1-1 1 1 1 2 1-4 1 2 1 3 1-3 1 6 1-6 1-5 1 7 1-3 1 3 1 3 1-3 1 0 1-4 1 5 1-1 1 0 1-4 1 6 1-4 1 4 1 1 1-2 1-3 1 2 1-1 1 5 1-1 1-9 1 4 1 2 1 0 1-4 1 3 1 5 1-5 1 1 1 1 1 0 1 0 1 5 1-7 1-2 1 4 1 0 1-5 1 6 1 7 1-6 1 0 1-2 1 1 1-4 1 9 1-11 1 6 1-1 1 0 1 4 1-4 1 2 1 1 1 0 1-1 1-4 1 1 1 1 1 2 1-2 1 0 1 1 1 0 1 0 1-4 1 1 1 2 1-3 1 2 1-3 1 5 1-1 1-3 1 5 1-1 1-3 1 3 1 3 1-4 1 1 1 3 1-2 1-2 1-3 1 4 1 4 1-2 1 0 1-1 1-4 1 0 1 3 1-7 1 5 1-1 1-4 1 1 1 7 1-3 1-2 1 3 1 0 1-1 1 4 1-4 1 2 1 6 1-7 1-2 1 3 1 1 1 4 1-4 1 1 1 3 1-7 1 2 1 0 1 0 1 2 1 1 1-7 1 4 1 4 1-6 1 2 1-2 1 1 1 0 1 1 1 1 1 2 1 0 1-4 1-4 1 3 1 2 1-1 1 5 1-7 1 8 1-5 1-7 1 6 1 0 1-3 1 1 1 2 1-2 1 1 1-1 1 6 1-6 1 4 1-1 1 0 1-3 1-3 1 4 1-1 1 1 1 1 1-4 1 2 1 3 1-3 1 6 1-4 1 3 1-1 1-1 1 3 1-3 1 4 1-6 1 2 1 1 1 2 1-4 1 1 1 4 1-8 1 6 1 4 1-5 1-2 1-3 1 0 1 4 1 1 1 5 1-6 1-2 1 1 1 0 1 3 1 0 1-1 1-1 1 1 1-6 1 6 1 2 1-4 1 8 1-2 1-5 1-2 1 1 1 2 1-1 1 1 1 3 1-4 1-1 1 1 1 0 1-2 1 5 1 2 1-7 1 0 1-4 1 2 1 4 1-4 1 2 1 0 1 3 1-1 1-4 1 6 1 3 1-2 1-4 1 1 1-1 1 2 1 2 1-1 1-8 1 4 1 1 1-5 1 5 1 4 1-3 1-2 1-1 1 1 1-1 1 3 1 2 1-2 1-1 1-1 1 6 1-2 1-6 1 2 1 3 1 3 1-5 1 0 1 4 1-9 1 7 1-2 1 1 1 4 1-2 1-3 1-2 1-1 1 4 1 0 1 1 1 6 1-10 1 5 1-2 1-1 1-1 1-4 1 7 1 0 1 0 1-3 1 1 1-3 1 6 1-3 1 1 1 6 1-4 1-2 1 4 1-5 1 2 1 6 1-12 1-1 1 7 1-1 1-1 1-2 1 5 1-3 1 1 1 0 1 1 1-1 1 2 1-4 1 1 1 0 1-1 1 1 1 1 1 1 1 0 1 0 1-1 1-1 1-3 1 3 1-4 1 1 1 2 1-2 1 4 1 0 1-1 1-4 1 9 1-4 1 0 1 6 1-7 1 4 1-4 1 5 1-3 1-5 1 3 1 2 1 1 1 0 1-6 1 3 1 3 1-3 1 3 1-1 1-3 1-2 1-2 1 1 1 4 1 0 1-2 1 1 1 6 1-5 1 0 1 0 1 1 1 2 1-6 1 2 1 4 1-7 1 5V0"/><path transform="translate(258.46,495.31) scale(0.6692,1.0)" vector-effect="non-scaling-stroke" d="M0 0V-122l1 4 1-4 1 0 1 3 1-1 1 0 1 1 1-2 1 5 1-4 1 1 1 0 1-2 1 2 1 1 1-2 1 2 1 2 1-1 1 2 1 0 1-2 1 2 1-1 1 4 1-3 1 3 1-1 1-1 1 5 1-4 1 4 1-4 1 6 1-4 1-1 1 1 1 0 1-1 1 0 1 1 1 3 1-3 1 2 1-3 1 4 1-3 1 3 1-2 1 1 1 0 1 5 1-4 1 2 1 0 1 0 1-3 1 0 1 7 1-4 1 0 1 0 1 6 1-4 1 0 1 2 1 2 1-2 1 3 1-2 1 2 1-2 1 3 1-5 1 3 1-1 1 2 1 3 1-5 1 1 1-3 1 4 1-2 1 3 1-1 1 2 1-4 1 3 1 0 1 0 1-1 1 1 1 1 1-1 1 3 1-2 1 0 1 1 1-3 1 2 1-3 1 4 1 0 1-3 1 0 1 2 1 1 1-1 1-1 1 1 1 0 1 0 1 2 1 1 1 2 1-6 1 6 1-4 1 2 1-3 1 4 1-4 1 5 1 0 1-2 1 1 1 0 1-1 1-1 1 1 1-2 1 7 1-6 1 3 1-1 1 1 1-1 1-1 1 4 1-3 1 1 1 1 1-3 1 1 1 3 1-2 1 1 1-1 1 3 1-6 1 2 1 2 1 0 1-2 1 3 1-3 1 1 1 1 1 5 1-8 1 4 1 1 1-1 1 3 1-3 1-1 1 2 1-1 1-1 1 0 1 1 1-1 1 2 1 0 1 0 1 0 1 0 1 2 1-3 1 1 1 3 1-5 1 2 1 2 1-2 1 0 1-1 1-1 1 2 1-1 1-2 1 0 1 3 1-2 1 1 1 1 1 1 1 0 1 1 1 0 1 2 1-1 1-2 1 2 1-3 1 0 1-1 1 0 1 2 1 2 1-2 1 0 1-1 1 0 1-2 1 6 1-6 1 5 1 1 1 0 1-3 1 1 1 3 1-2 1-4 1 4 1 1 1 0 1 0 1-1 1-1 1 0 1 2 1-2 1 0 1 2 1-1 1 0 1-2 1 5 1-3 1-1 1-3 1 0 1 2 1-2 1 1 1 0 1-4 1-2 1-4 1-5 1-1 1-1 1 3 1 4 1 5 1 1 1 3 1 0 1 2 1 0 1 4 1-3 1 1 1 1 1-3 1 0 1 0 1-4 1 1 1 0 1-4 1-6 1-2 1 2 1 4 1 2 1 4 1 3 1 1 1 1 1 3 1-1 1-2 1 9 1-8 1 5 1-1 1-1 1 3 1-2 1 2 1-1 1-1 1-1 1 4 1 1 1-2 1 1 1 1 1-2 1-2 1 1 1-2 1 2 1 0 1 1 1-3 1 0 1-1 1 3 1 1 1 0 1 6 1-5 1 1 1 2 1-2 1 4 1-5 1 4 1 0 1 0 1 3 1-3 1 1 1-2 1 4 1 0 1-3 1-2 1 4 1 2 1-4 1 0 1-3 1 3 1-1 1 1 1 0 1-1 1 1 1 0 1-1 1 0 1-3 1 2 1 1 1 0 1-1 1-1 1 5 1-4 1 3 1 2 1-3 1-2 1 5 1-4 1 3 1 0 1 0 1-1 1 1 1 1 1-4 1 1 1-1 1 2 1-4 1 3 1 1 1 1 1-2 1 4 1-3 1 4 1 0 1-1 1-1 1-1 1 4 1-2 1 0 1 2 1-4 1 7 1-5 1 1 1 1 1-4 1 7 1-1 1-2 1 0 1 1 1-3 1 4 1-2 1 1 1 0 1 0 1 1 1 1 1-1 1 5 1-6 1 1 1 1 1 1 1-6 1 4 1-1 1-2 1-1 1-1 1 4 1-4 1 0 1 4 1-1 1-1 1 1 1 1 1-1 1 3 1 1 1-2 1 5 1-5 1 2 1 4 1-5 1 1 1 1 1 4 1-7 1 1 1 2 1 2 1-4 1 2 1-1 1 3 1-3 1 2 1 0 1-2 1 4 1-2 1-1 1 3 1-5 1 2 1-2 1 2 1 1 1 1 1 0 1 2 1-1 1 0 1-1 1 0 1-1 1 0 1 3 1-6 1 5 1-2 1 0 1-1 1 2 1-3 1 4 1 0 1-3 1 3 1-1 1 5 1-2 1 0 1 1 1-2 1-2 1 2 1-2 1 3 1-1 1 0 1 0 1 1 1 0 1 1 1 2 1-3 1 2 1-2 1 2 1 1 1-1 1 0 1 1 1-2 1 1 1 0 1 0 1 1 1-1 1-2 1 3 1-2 1 6 1-6 1 1 1 0 1 1 1-2 1 2 1 0 1 0 1 2 1-3 1 0 1 0 1-2 1 4 1-2 1 1 1 3 1-4 1 3 1-3 1-1 1 0 1 2 1-3 1 7 1-7 1 2 1-2 1 1 1-2 1 1 1-1 1-3 1-3 1-3 1-1 1 3 1 0 1 0 1 7 1-2 1 3 1 0 1 0 1 3 1 0 1 0 1-2 1 3 1 0 1 2 1 4 1-5 1 0 1-1 1 1 1 1 1 0 1 0 1 4 1-6 1 3 1 2 1-1 1-4 1 3 1 0 1 1 1 0 1-3 1 1 1 2 1-1 1 0 1 5 1-5 1 1 1-3 1 3 1 0 1-1 1-1 1-1 1 6 1-6 1 5 1-3 1 2 1-2 1 1 1-1 1 0 1 6 1-3 1 0 1-2 1 0 1-4 1 1 1 3 1-1 1 0 1 2 1 1 1-2 1 1 1-1 1 0 1-1 1 5 1-2 1-2 1 3 1 0 1-1 1 1 1-2 1 4 1-2 1 0 1-3 1 2 1-1 1 0 1 2 1 1 1 0 1-4 1 2 1-1 1 2 1 3 1-5 1 0 1 0 1 3 1-3 1 1 1 1 1-1 1-1 1 3 1 2 1-7 1 2 1-1 1 2 1 2 1-5 1 1 1 4 1-2 1 0 1 5 1-4 1 0 1 2 1-2 1 0 1 1 1 0 1-2 1 0 1 3 1-1 1-5 1 2 1 3 1-2 1 2 1 0 1-1 1 1 1-2 1 1 1 0 1 1 1 0 1-1 1-1 1 2 1-1 1 0 1-2 1-2 1 3 1 5 1-7 1 4 1-2 1 2 1 1 1-1 1 5 1-5 1 0 1 1 1-3 1 1 1-1 1 0 1 0 1-1 1-4 1 5 1-4 1 3 1-2 1 1 1-3 1 3 1 1 1 0 1 0 1 2 1 1 1-1 1 0 1-3 1 3 1 1 1-2 1 2 1 3 1-1 1-5 1 5 1 1 1 0 1-3 1-1 1 4 1-2 1-2 1 0 1 7 1-7 1 1 1-1 1 1 1 0 1-1 1-1 1 2 1 1 1-4 1 2 1-1 1 2 1-5 1 7 1-2 1 3 1-3 1 1 1-1 1 2 1-1 1-2 1 3 1-3 1 8 1-10 1 4 1-6 1 6 1 1 1-3 1 2 1 1 1-1 1-3 1 5 1 1 1 3 1-7 1 2 1 0 1-3 1 7 1-9 1 3 1-2 1-1 1 4 1-2 1 1 1 2 1-3 1 2 1 3 1-2 1 1 1-2 1-1 1-1 1-3 1 4 1 5 1-2 1-3 1 4 1-6 1 5 1-4 1 2 1 0 1 3 1-4 1 1 1-1 1 2 1-1 1-2 1 0 1 1 1 5 1-10 1 6 1 1 1 0 1-1 1-2 1 9 1-7 1 1 1 1 1 0 1 4 1-9 1 3 1-1 1 5 1-6 1 2 1-4 1 1 1-1 1 5 1-3 1 4 1-6 1 5 1 1 1-2 1-1 1 0 1 0 1 1 1 2 1-2 1 2 1-1 1 2 1-5 1-1 1 3 1 2 1-3 1-4 1 5 1-1 1-1 1 6 1-4 1 5 1-4 1-4 1 5 1-1 1 3 1 1 1 0 1 3 1-4 1-4 1 6 1-5 1 0 1 3 1-2 1-4 1 4 1-2 1 0 1 0 1 2 1 1 1 1 1-1 1 2 1-3 1-4 1 3 1-4 1 4 1 6 1-5 1-4 1 2 1 3 1-8 1 6 1 1 1 1 1 2 1-6 1 3 1-1 1 1 1 5 1-7 1 1 1 0 1-4 1 6 1 0 1 2 1-7 1 7 1-7 1 0 1 5 1-3 1 0 1 5 1-6 1 4 1 6 1-9 1 6 1-4 1-2 1 2 1 7 1-6 1-4 1 2 1-2 1 3 1-7 1 6 1 0 1 0 1-1 1 0 1 2 1 2 1-5 1 4 1 0 1 5 1 0 1-3 1-2 1 1 1-5 1 2 1-6 1 10 1-5 1-6 1 3 1 3 1-4 1-2 1 8 1-3 1 7 1-4 1-2 1 7 1-8 1 0 1 2 1 3 1-4 1-2 1 3 1 5 1-1 1-5 1 0 1 2 1-1 1-1 1-5 1 4 1 0 1 1 1 0 1 1 1-5 1 8 1-4 1 1 1 7 1-10 1 3 1-2 1 1 1 4 1-2 1-4 1-1 1 5 1 2 1-3 1 0 1-2 1 2 1 6 1-5 1-3 1 5 1 1 1-5 1 4 1-1 1-4 1 6 1-6 1 4 1-6 1 1 1 4 1-3 1 2 1 2 1-5 1 2 1 7 1-4 1-1 1-8 1 3 1 2 1-4 1 3 1-1 1-4 1 4 1 4 1-2 1 0 1 8 1-5 1 1 1-2 1 8 1-5 1-3 1 0 1 2 1-2 1 2 1 0 1-2 1 5 1-3 1 1 1-1 1 1 1-3 1 8 1-7 1 1 1 1 1-3 1-4 1 0 1 5 1-3 1 1 1-1 1 3 1-6 1 4 1-2 1 3 1 0 1 0 1 2 1 2 1-6 1 6 1-2 1 6 1-8 1 0 1 3 1-2 1 0 1-2 1 4 1-5 1 2 1-2 1 10 1-13 1 8 1-5 1 3 1-2 1-2 1 3 1-5 1 3 1 0 1 0 1 9 1-6 1-6 1 4 1 1 1 1 1 4 1-4 1-3 1 3 1 3 1-7 1 12 1-5 1-5 1 1 1 3 1-2 1 1 1 4 1-8 1 0 1 2 1 1 1 0 1 0 1 0 1-6 1 3 1 3 1-3 1 5 1-2 1 2 1-3 1 2 1-3 1-2 1-1 1 5 1-3 1 4 1 0 1-6 1 2 1 4 1-2 1 4 1-4 1 2 1 4 1-4 1-1 1 2 1-8 1 9 1-7 1 10 1 2 1-7 1 1 1-5 1 1 1 4 1-3 1 2 1-4 1 4 1-2 1-3 1 4 1 2 1-3 1 0 1 1 1 2 1-3 1-4 1-1 1 8V0"/><path transform="translate(253.34,501.24) scale(0.6692,1.0)" vector-effect="non-scaling-stroke" d="M0 0V-141l1 3 1 1 1 0 1 1 1-4 1 3 1 2 1-1 1 0 1 3 1-1 1 0 1 1 1 0 1-1 1 3 1-3 1 6 1 0 1-5 1 4 1 1 1-2 1 0 1 3 1 2 1-7 1 4 1 0 1 0 1 1 1 0 1 2 1-1 1-4 1 6 1-1 1 0 1 2 1-2 1-1 1 7 1-1 1-1 1-2 1 3 1-2 1 0 1 1 1 1 1 1 1 1 1-1 1 0 1-1 1 3 1-2 1 0 1 1 1-2 1 1 1 3 1-1 1-1 1 2 1-1 1 3 1-2 1-1 1 0 1 2 1 1 1-1 1 0 1 2 1 2 1-1 1-1 1-3 1 3 1 1 1-1 1-1 1 2 1 0 1 0 1 1 1-3 1 2 1 2 1 0 1-1 1-1 1 5 1-3 1-1 1 0 1 2 1 0 1-2 1 4 1 2 1-4 1 0 1-3 1 3 1 0 1 1 1 0 1 0 1 0 1 0 1 2 1 0 1-1 1 2 1-2 1-1 1 4 1-4 1 3 1 0 1 2 1-5 1 3 1 0 1 0 1 1 1-1 1-4 1 4 1 1 1-1 1 1 1 0 1 0 1 3 1-5 1 1 1 0 1 2 1-4 1 3 1 1 1 3 1-3 1 0 1 1 1 1 1 0 1-1 1 0 1 0 1 1 1-4 1 4 1-2 1 0 1 2 1 0 1-3 1 2 1 3 1-1 1-3 1 3 1-1 1-2 1 4 1 1 1-3 1 0 1-1 1 6 1-4 1-2 1 1 1-3 1 0 1 1 1 2 1 3 1-1 1-3 1 2 1-1 1 1 1 0 1 0 1 0 1-1 1 3 1-3 1 1 1 0 1-2 1 2 1 5 1-5 1 1 1-2 1 1 1 0 1 0 1 2 1-1 1-3 1 3 1 0 1 5 1-4 1 0 1-4 1 7 1-3 1 1 1-1 1 1 1 0 1-1 1 0 1 3 1 1 1-2 1-1 1-1 1 1 1 1 1-1 1 5 1-4 1-2 1 0 1 0 1 0 1 1 1 0 1 0 1 0 1-2 1 3 1-2 1 3 1-4 1 2 1-6 1-2 1-3 1-6 1-6 1-6 1-3 1-4 1 1 1 5 1 7 1 4 1 7 1 5 1 0 1 4 1 4 1-2 1 0 1 3 1 1 1-1 1 5 1-5 1-4 1 2 1 0 1-2 1 0 1-2 1 2 1 1 1 2 1 0 1 4 1-2 1 6 1-3 1-1 1 6 1-5 1 3 1-1 1 2 1-1 1 0 1-1 1-1 1 3 1-1 1 0 1 2 1-2 1-1 1 1 1 2 1-2 1-1 1 0 1-1 1 0 1-3 1 2 1-2 1 1 1 1 1 2 1 0 1 2 1 0 1 0 1 2 1-2 1-2 1 5 1-3 1 2 1 0 1 0 1-3 1 5 1-1 1-3 1 0 1 4 1-1 1 0 1 0 1 1 1 1 1 2 1-2 1-2 1 2 1-2 1 2 1-2 1 1 1-1 1 0 1 1 1-2 1 0 1 0 1 2 1 2 1-2 1 1 1 2 1-4 1 5 1-1 1 1 1 1 1-2 1-1 1 0 1 3 1-5 1 0 1 3 1 0 1-3 1 0 1 0 1 4 1-3 1 1 1 5 1-2 1 0 1 0 1-1 1-1 1 4 1 0 1-1 1-1 1 1 1 1 1 0 1-1 1 0 1 1 1 0 1 2 1 0 1 0 1-1 1 2 1-2 1 1 1 0 1 0 1-2 1 3 1-2 1-1 1 1 1-1 1-1 1 0 1 0 1 0 1-3 1 1 1-1 1-1 1-1 1-5 1-1 1-4 1-2 1-3 1 0 1 4 1 1 1 4 1 1 1 4 1 3 1 5 1 1 1-3 1 3 1 1 1 5 1-3 1-4 1 1 1 5 1-3 1 2 1 1 1 2 1-2 1-1 1 1 1 1 1-1 1 2 1-2 1 2 1-1 1 0 1 0 1-1 1 2 1 1 1-5 1 4 1 2 1 0 1-3 1-1 1 3 1-3 1 1 1-2 1 1 1-5 1 2 1 4 1-5 1 1 1 1 1 4 1-4 1 2 1 2 1 0 1 2 1-1 1-1 1 5 1-2 1 1 1-2 1 1 1-1 1 2 1 1 1-2 1-1 1 1 1 1 1 0 1 1 1 5 1 0 1-8 1 4 1-1 1 2 1-1 1 0 1 0 1 2 1-2 1-1 1 1 1 0 1 0 1 0 1-2 1 2 1 1 1-2 1-1 1 2 1 2 1 3 1-3 1 0 1 0 1 1 1-2 1 2 1-1 1-1 1 2 1 3 1-4 1 0 1 1 1 2 1-5 1 5 1-2 1 2 1-2 1 1 1-3 1 3 1 0 1-1 1 1 1 0 1-1 1-1 1-4 1 2 1-2 1-2 1 6 1-3 1 1 1 1 1-1 1 4 1-3 1 4 1-1 1 5 1-5 1 0 1 1 1 0 1 4 1-5 1 3 1 1 1 4 1-6 1 3 1-1 1 0 1 1 1-3 1 1 1 0 1 1 1-1 1 1 1-1 1 1 1 0 1 0 1 1 1-3 1 3 1 0 1-2 1 3 1-4 1 2 1 4 1-2 1-2 1 2 1-1 1 0 1 0 1 0 1 1 1 0 1 3 1-3 1 1 1-2 1-1 1 3 1 1 1 0 1-2 1 1 1 0 1-1 1 4 1-7 1 1 1 0 1 0 1 2 1 3 1-2 1 1 1-4 1 2 1 1 1 2 1-1 1 2 1-3 1-1 1 1 1-3 1 3 1 3 1-5 1 5 1-3 1 0 1 0 1 1 1-1 1 2 1-1 1 0 1-1 1-1 1 3 1-2 1-1 1 0 1 4 1 3 1-3 1-1 1 4 1-5 1 2 1 0 1-3 1 4 1 0 1-2 1 2 1-2 1 1 1 0 1-2 1 4 1-2 1 0 1 0 1-3 1 4 1-1 1-2 1 3 1-1 1-4 1 3 1 2 1-1 1 0 1-1 1-1 1 1 1 1 1 1 1-3 1 0 1 3 1 2 1-6 1 3 1-1 1 2 1-1 1 1 1 2 1 2 1-1 1-3 1-1 1-2 1 2 1 2 1 1 1-1 1 4 1-6 1 1 1 1 1-6 1 6 1-2 1 2 1-4 1-1 1 2 1 2 1-1 1-2 1 2 1-4 1-2 1 5 1 0 1-1 1 3 1-2 1-1 1 0 1-1 1 1 1 9 1-8 1 0 1 4 1-3 1 3 1-2 1 2 1-1 1-3 1 1 1 2 1 0 1-5 1 11 1-6 1-2 1 6 1 0 1-9 1-1 1 0 1 8 1-2 1 0 1-1 1-5 1 7 1-1 1-1 1-1 1 3 1-6 1 1 1 3 1 3 1-2 1-2 1 3 1 2 1 0 1-3 1-1 1 6 1-3 1 0 1 0 1-3 1 1 1 5 1 0 1-5 1-1 1-1 1 4 1-5 1-4 1 6 1 0 1-2 1 2 1-7 1 6 1-6 1 2 1-2 1 4 1 2 1-6 1 7 1 2 1-3 1 4 1 0 1-1 1 2 1-2 1-1 1 3 1 0 1-3 1 6 1-7 1 6 1-8 1 5 1-4 1 2 1 3 1 0 1-4 1 3 1-1 1 2 1-6 1 4 1 5 1-1 1 4 1-5 1-7 1 7 1 0 1 2 1-3 1 0 1 1 1-1 1 3 1-6 1 4 1-4 1-1 1 2 1 9 1-10 1 1 1 0 1 4 1-5 1 4 1 3 1-1 1-1 1-3 1 10 1-6 1 0 1-7 1 7 1-2 1-1 1 1 1-6 1 5 1 4 1-5 1 0 1 3 1-1 1-7 1 10 1-4 1 1 1-7 1 5 1 4 1-2 1-4 1 4 1 2 1-4 1 1 1 4 1-2 1-3 1 2 1-6 1 4 1 4 1-2 1 3 1-1 1-1 1-5 1 8 1-5 1 1 1 6 1-7 1 5 1-6 1 3 1 2 1-3 1 2 1 0 1-1 1 2 1-1 1-7 1 8 1-2 1-1 1 3 1-1 1-1 1-1 1 0 1 0 1 5 1-9 1 5 1 0 1-5 1 3 1 5 1-3 1-7 1 6 1-1 1 3 1-3 1-1 1 0 1 3 1 0 1-1 1-2 1 3 1-6 1 1 1 5 1 2 1 5 1-7 1-4 1 5 1 2 1 5 1-8 1 1 1 2 1-4 1 1 1 0 1-6 1 4 1 3 1-2 1 3 1-5 1 9 1-1 1-3 1-6 1-1 1 5 1 0 1-1 1 1 1-1 1 0 1 0 1 2 1-8 1 6 1 1 1 0 1 0 1-7 1 8 1-2 1 0 1 0 1 5 1-4 1 0 1 7 1-8 1 1 1 0 1 4 1-9 1 2 1 3 1-1 1 0 1 0 1 6 1-9 1 4 1-1 1-4 1 5 1-2 1-4 1 9 1-4 1-3 1 4 1 0 1 1 1-7 1 7 1 4 1-4 1-7 1 6 1-2 1 1 1 2 1-1 1 0 1-1 1-1 1 1 1 1 1-2 1 1 1 8 1-5 1-2 1-6 1 6 1 1 1 0 1 4 1-5 1-1 1 0 1 5 1-4 1 1 1-1 1 0 1-2 1 3 1 1 1-3 1 6 1-8 1 2 1-4 1 7 1-3 1 1 1-2 1 0 1 3 1-3 1-3 1-2 1 5 1-5 1 0 1 5 1 0 1-4 1 4 1 2 1-1 1 4 1-4 1 2 1 2 1-5 1 2 1-1 1-1 1 0 1 0 1 3 1-2 1 0 1 5 1-6 1 1 1 5 1-4 1 1 1-2 1-2 1 3 1 0 1-3 1 2 1 2 1-1 1-1 1 2 1-3 1 3 1-2 1-3 1 6 1-4 1 3 1 1 1-6 1 6 1-3 1 5 1-5 1 0 1-2 1-3 1 9 1-4 1 3 1 2 1-5 1 1 1-2 1-1 1 7 1-4 1 1 1 0 1 1 1 3 1-1 1-1 1-1 1 0 1 1 1-1 1-4 1 2 1 0 1 0 1 1 1-2 1-1 1 5 1-3 1 0 1 1 1 7 1-5 1-2 1-5 1 4 1-1 1 0 1-1 1 2 1-2 1 4 1-1 1 2 1 4 1-13 1 5 1 1 1 4 1-3 1 0 1 1 1 0 1-1 1-6 1 0 1 12 1 0 1-7 1 1 1-1 1-1 1-4 1 3 1 3 1 0 1-2 1 1 1 8 1-3 1-7 1 3 1-4 1 4 1 0 1-2 1 0 1 1 1 2 1-6 1 4 1 2 1 1 1-5V0"/><path transform="translate(248.21,507.16) scale(0.6692,1.0)" vector-effect="non-scaling-stroke" d="M0 0V-145l1-1 1 2 1-1 1 0 1 1 1 0 1-1 1 4 1-1 1-3 1 1 1 4 1 1 1-3 1 1 1 2 1 0 1 0 1 1 1-1 1 0 1 0 1-2 1 6 1 1 1-4 1 2 1 1 1 0 1 1 1 2 1-1 1 0 1 0 1 0 1 0 1 5 1-4 1-2 1 0 1 4 1-4 1 3 1-2 1 5 1-4 1 1 1 1 1 0 1 0 1 1 1 1 1 3 1-2 1 2 1-2 1 2 1-2 1 5 1-4 1-2 1 2 1 3 1-1 1 0 1 0 1 2 1-4 1 3 1 2 1-6 1 5 1-2 1 1 1 4 1-1 1-1 1-1 1 3 1-3 1 3 1-2 1-1 1 1 1 2 1-1 1 5 1-2 1-3 1 5 1-6 1 5 1-2 1 0 1 2 1 0 1-4 1 4 1 2 1-2 1-1 1 2 1-4 1 3 1 0 1 0 1 0 1-2 1 3 1 4 1-3 1 0 1 0 1 0 1 0 1 2 1-4 1 3 1 1 1 0 1 1 1-3 1-1 1 2 1 0 1 1 1 0 1 1 1 2 1-3 1-1 1 0 1-1 1 2 1 1 1-2 1 2 1-1 1 1 1-1 1 0 1 1 1-1 1 1 1-1 1 0 1 3 1-3 1-1 1 3 1-5 1 5 1 0 1 1 1-1 1 1 1 0 1-1 1 1 1 0 1-1 1 3 1-2 1-1 1 5 1-7 1 1 1 2 1 0 1 3 1 0 1-4 1 2 1 0 1-2 1 2 1 0 1 5 1-7 1 2 1 1 1 0 1-1 1-1 1 1 1 1 1 0 1 1 1-1 1 0 1 0 1-4 1 5 1-1 1 2 1-1 1 0 1 0 1-1 1 3 1-2 1 1 1-1 1-1 1-1 1 1 1-1 1 3 1-3 1 3 1-3 1 4 1-1 1 1 1 1 1-1 1-1 1 2 1 2 1-3 1-1 1 0 1-1 1-1 1 3 1-2 1-1 1 4 1-1 1 1 1-2 1 1 1 0 1 1 1-2 1 2 1-3 1-2 1 3 1-1 1 1 1-3 1 1 1 3 1-3 1-4 1-2 1-2 1-5 1-5 1-10 1-7 1-3 1 1 1 9 1 2 1 12 1 3 1 4 1 3 1 4 1 1 1 2 1 4 1-3 1 1 1 0 1 1 1-2 1 2 1-1 1-2 1 0 1-1 1 0 1-3 1 5 1 2 1 1 1 1 1 0 1 3 1-1 1 3 1-1 1 0 1-1 1 2 1-1 1 5 1-4 1-4 1 2 1 1 1 1 1 3 1-3 1 0 1 1 1 1 1-5 1 2 1 3 1 0 1-2 1 0 1-5 1 0 1 2 1-2 1 3 1 1 1 0 1-2 1 2 1-1 1 4 1 0 1-2 1 1 1 2 1 1 1-1 1 5 1-4 1-2 1 0 1 3 1 0 1 0 1 0 1-2 1 3 1-4 1 2 1 1 1 0 1 0 1 3 1-3 1 2 1-1 1-1 1 0 1-3 1 1 1 4 1-3 1 0 1 2 1-1 1 0 1-3 1 6 1 4 1 0 1-3 1 2 1 2 1 0 1-3 1 2 1 1 1-2 1-1 1 0 1 0 1-1 1 1 1-4 1 4 1 1 1 1 1-1 1 1 1 1 1 0 1 2 1-1 1-2 1-1 1 4 1 0 1-4 1 4 1-2 1 2 1 0 1 3 1 0 1-2 1 0 1 0 1 1 1-3 1 3 1 0 1 0 1 2 1 1 1-2 1-5 1 0 1 7 1-3 1-4 1 2 1 3 1-3 1 0 1-3 1-2 1-3 1-1 1-2 1-3 1-3 1-3 1-2 1 5 1-1 1 1 1 7 1 2 1 3 1 4 1-2 1 7 1-4 1 4 1 0 1-1 1 6 1-4 1-3 1 0 1 3 1 3 1 2 1-2 1 4 1-3 1-1 1 3 1-3 1 0 1 2 1 1 1-1 1 0 1 0 1-1 1 2 1 1 1-3 1 2 1 3 1 0 1-3 1-3 1 5 1-3 1-3 1 1 1 0 1-3 1-1 1 1 1 1 1 0 1 1 1 2 1 0 1 2 1 1 1-3 1 1 1 5 1 0 1-1 1-3 1 6 1-1 1-2 1 1 1 0 1 0 1 1 1-1 1 1 1-1 1 0 1 2 1-1 1-3 1 4 1 0 1 1 1-3 1 3 1 1 1-1 1 2 1-1 1 4 1-3 1-3 1-1 1 4 1 1 1-1 1-3 1 2 1 1 1 0 1 2 1-1 1 0 1 4 1-4 1 0 1 1 1-1 1 2 1-1 1 0 1-2 1 1 1 1 1 0 1 0 1 0 1 0 1-1 1 2 1-1 1 3 1-3 1 2 1-2 1-4 1 1 1 3 1-5 1-1 1-4 1 0 1-3 1-5 1 2 1 1 1 1 1 3 1 3 1 2 1-1 1 5 1 1 1 2 1-1 1 1 1 1 1 0 1-1 1 1 1 2 1-4 1 3 1 1 1 0 1 5 1-4 1-2 1 1 1 1 1 0 1 0 1 0 1 3 1-1 1 0 1-1 1 1 1-1 1 1 1 3 1-6 1-1 1 1 1 7 1-5 1-3 1 9 1-5 1 0 1 1 1 0 1-1 1 0 1 1 1-4 1 3 1 2 1-3 1 4 1-1 1 4 1-4 1 1 1 0 1 2 1-3 1 1 1-4 1 2 1 2 1 1 1-1 1 2 1-6 1 4 1-1 1 1 1-2 1 2 1 0 1 0 1 0 1 1 1-1 1 3 1-3 1 1 1 0 1 0 1-1 1-1 1 1 1 1 1 0 1-2 1 2 1-3 1 3 1 0 1-3 1 3 1-4 1 4 1 1 1-2 1 2 1 1 1-2 1 0 1-1 1 1 1 0 1 1 1-1 1 0 1 1 1 0 1 1 1-5 1 4 1-1 1 5 1-6 1 2 1 4 1 0 1-4 1 1 1 2 1-2 1 0 1 0 1-4 1 0 1 3 1 4 1-5 1 1 1 3 1 0 1-2 1-1 1 2 1-1 1 0 1 5 1-9 1 4 1 0 1 0 1-1 1-2 1 0 1 4 1-1 1 0 1-3 1 1 1-1 1 3 1-5 1 7 1-3 1 2 1-1 1-3 1-2 1 5 1 0 1 0 1-2 1 3 1-2 1-1 1 1 1 1 1-2 1-1 1 2 1-5 1 4 1 5 1-4 1-1 1-3 1 3 1 0 1 5 1-1 1-1 1 0 1 3 1-3 1 0 1 2 1-2 1 0 1 2 1-2 1 2 1-5 1 1 1 7 1-6 1 0 1 5 1-4 1 1 1-6 1 12 1-7 1 1 1 1 1-4 1 6 1-2 1 1 1-5 1 5 1-3 1 0 1-1 1 2 1-3 1 4 1 4 1-2 1-2 1-1 1 7 1-9 1 2 1 0 1 0 1 0 1 4 1-3 1 2 1 0 1-1 1-3 1-1 1 3 1 1 1-6 1 3 1 0 1 0 1-2 1 1 1-2 1-3 1 7 1-2 1 0 1-1 1 4 1-1 1 1 1-2 1 2 1-1 1 0 1-1 1 1 1 1 1 0 1 0 1 2 1-6 1 6 1-2 1 1 1 3 1-6 1 2 1 0 1-3 1 9 1-6 1-2 1 3 1-1 1-5 1 6 1-3 1 8 1-11 1 5 1 1 1 0 1 1 1 5 1-5 1-2 1 1 1 0 1 0 1 1 1-1 1 1 1-2 1 1 1 7 1-8 1 1 1 0 1 5 1-4 1 3 1 0 1 1 1 4 1-11 1 3 1-3 1 3 1-1 1 4 1-3 1 1 1-3 1-1 1-1 1 8 1-5 1 0 1 7 1-9 1 4 1-7 1 8 1-2 1-1 1 2 1 0 1-2 1 1 1-3 1 1 1 5 1-4 1-1 1-1 1 2 1 3 1 2 1-7 1 1 1 2 1-3 1 7 1-8 1 4 1 0 1-5 1 2 1 6 1-5 1 4 1-3 1 1 1 0 1 0 1-2 1 3 1-4 1 8 1-2 1-4 1 1 1-3 1 3 1 3 1-2 1 7 1-13 1 1 1 11 1-6 1 1 1-1 1 1 1-4 1 4 1 1 1-8 1 8 1-3 1 1 1-1 1 1 1-2 1 5 1-8 1 6 1-5 1 11 1-7 1 0 1 3 1-5 1 0 1 0 1 1 1 0 1 0 1 1 1-1 1-2 1 0 1 7 1-6 1 2 1-1 1 1 1 1 1-7 1 0 1 5 1 3 1 3 1-6 1 0 1 4 1-3 1-2 1-5 1 3 1 1 1 5 1-7 1 3 1 0 1 0 1-1 1-1 1 10 1-2 1-5 1-2 1 6 1-4 1 1 1-5 1 4 1 4 1-8 1 2 1 6 1-4 1 1 1 0 1 0 1 0 1-1 1-5 1 2 1 5 1 0 1-3 1 3 1 0 1-1 1 5 1-6 1 4 1-2 1 1 1-1 1 1 1-1 1-1 1-3 1 5 1-5 1-3 1 3 1 4 1-1 1 0 1-1 1 1 1 2 1-1 1 1 1-2 1-2 1 1 1 4 1-2 1-2 1 1 1 0 1-1 1 0 1 3 1-3 1 3 1-1 1 0 1 0 1-1 1 2 1-9 1 4 1-6 1 7 1-1 1-4 1 7 1-1 1 0 1 3 1-3 1 1 1 0 1-1 1 6 1-9 1 5 1-2 1 1 1 0 1 0 1 0 1 0 1 3 1-4 1 5 1 0 1-1 1-1 1-5 1 8 1-9 1 9 1-3 1 0 1-1 1 0 1 2 1-2 1 1 1 1 1 0 1 0 1 3 1-3 1 1 1-2 1 1 1-4 1 0 1-4 1 3 1 2 1-4 1 2 1 0 1 9 1-8 1 3 1 0 1-4 1 3 1 0 1-3 1 4 1-2 1 6 1 1 1-3 1-1 1 7 1-11 1 2 1 0 1 3 1-4 1 0 1 2 1 2 1-9 1 3 1 6 1-3 1 0 1-1 1 0 1-1 1 3 1-1 1 2 1-2 1-2 1 4 1-2 1 4 1-2 1-2 1 5 1-5 1 2 1 0 1-3 1 2 1 0 1-3 1 1 1 8 1-7 1 1 1-1 1 3 1-1 1 1 1-5 1 3 1-1 1 1 1-1 1 2 1-3 1 4 1-2 1 0 1 1 1-1 1 5 1-7 1 0 1 8 1-6 1 1 1 4 1-7 1 6 1-4 1-6 1 5 1-1 1 1 1-3 1 1 1 2 1-1 1 0 1 4 1-3 1-4 1 1 1 4 1-5 1 3 1-1 1 2 1-5V0"/><path transform="translate(243.08,513.08) scale(0.6692,1.0)" vector-effect="non-scaling-stroke" d="M0 0V-153l1-3 1 1 1 2 1 1 1 1 1 1 1-3 1 4 1 1 1-1 1 1 1 3 1-2 1-1 1 6 1-4 1 0 1 4 1-6 1 3 1 2 1 2 1 1 1-7 1 4 1-1 1-1 1 4 1 0 1 0 1 0 1-3 1 3 1 1 1 0 1 0 1 1 1 2 1 1 1-1 1 0 1 1 1 1 1-4 1 0 1 8 1-2 1-1 1 0 1-1 1 5 1-1 1-1 1 0 1 0 1 2 1 1 1 1 1-2 1-2 1 3 1 2 1 3 1-4 1 0 1 3 1-2 1 1 1 0 1 0 1-2 1 2 1 1 1 1 1 1 1 1 1-2 1-1 1 2 1 0 1-4 1 4 1 1 1 0 1 3 1-3 1 2 1 0 1-2 1 4 1-2 1 1 1-2 1 2 1-2 1 4 1-2 1-2 1 1 1-2 1 5 1 0 1-1 1-1 1-1 1 2 1-1 1 1 1-2 1 4 1 0 1 1 1 0 1-1 1 0 1-3 1 4 1 2 1-2 1 0 1 0 1 3 1 2 1-1 1-4 1 3 1 3 1-4 1-3 1 3 1-2 1-2 1 3 1 1 1-2 1 2 1-1 1 1 1-3 1 0 1 4 1 1 1-3 1 4 1 0 1 1 1-6 1 1 1 5 1-2 1 0 1-2 1 0 1 3 1 0 1-1 1 3 1-5 1 4 1-1 1 1 1-3 1 2 1-2 1 3 1 2 1-3 1-3 1 3 1-1 1 1 1 5 1-4 1 0 1 0 1 2 1 1 1-2 1 2 1 2 1-4 1 2 1 0 1-3 1 5 1-3 1 0 1 2 1-2 1 0 1 0 1 1 1 1 1-3 1-1 1 3 1 3 1-3 1 0 1-4 1 5 1-1 1 3 1-2 1-1 1-1 1 0 1-2 1 6 1-1 1-2 1 3 1-1 1-3 1 0 1 7 1-4 1 0 1-1 1 3 1 2 1-5 1-1 1 6 1-4 1-1 1-2 1 3 1 5 1-4 1-3 1 2 1 2 1-2 1-3 1 5 1 1 1-3 1 0 1 0 1 0 1 4 1-5 1-1 1-2 1 3 1-5 1-3 1-2 1-7 1-8 1-5 1-3 1-1 1 11 1 2 1 8 1 6 1 2 1 1 1 3 1 1 1 3 1-2 1 3 1 0 1 0 1 0 1-2 1 0 1-5 1 1 1-1 1-4 1 0 1-2 1 3 1 3 1 5 1 1 1 2 1 4 1-1 1 2 1-1 1 1 1 2 1 1 1-1 1 0 1-1 1 0 1 2 1-2 1 1 1 0 1 1 1-1 1 0 1 0 1-1 1 2 1 0 1-1 1 0 1 1 1 1 1-4 1 2 1 1 1-1 1 1 1 1 1 2 1-1 1 0 1 0 1 0 1 1 1 2 1 2 1-3 1 2 1-2 1 2 1-1 1 1 1 4 1-2 1-2 1 1 1 0 1 0 1 2 1-2 1-1 1 0 1 3 1-6 1 5 1-3 1 3 1-1 1-1 1 1 1 0 1-1 1 1 1 0 1 2 1-2 1-1 1 1 1 6 1-6 1 4 1 0 1-1 1-1 1 2 1-2 1-3 1 0 1 3 1-4 1 2 1 3 1-2 1-1 1 0 1 1 1-1 1 1 1 0 1 1 1 5 1-3 1-1 1-2 1 5 1 0 1 2 1-5 1 4 1 0 1 1 1 0 1-2 1 2 1-4 1 3 1 0 1 1 1 2 1-2 1 0 1 2 1-3 1 2 1-4 1 3 1 1 1-2 1 1 1-4 1 4 1-1 1 1 1-2 1 0 1-2 1-2 1 2 1-6 1-2 1-1 1-7 1-1 1-6 1 3 1 0 1 6 1 4 1 4 1 0 1 5 1 6 1-5 1 3 1 1 1 0 1 0 1 4 1-1 1 2 1 0 1 1 1-1 1-2 1 2 1 3 1-1 1 0 1-1 1 2 1 0 1 0 1 0 1 0 1 4 1-2 1 0 1 0 1-1 1 6 1-8 1 4 1 1 1 0 1 2 1-3 1-1 1 5 1-8 1 2 1 1 1-1 1 1 1-1 1 1 1 3 1 0 1-3 1 3 1-2 1 2 1 0 1-1 1 2 1-1 1 0 1 2 1-2 1 0 1 1 1-1 1 2 1 0 1 1 1-2 1 2 1-1 1 2 1 0 1 2 1-2 1 0 1 2 1-1 1-3 1 2 1-3 1 4 1-1 1 2 1-3 1 3 1-1 1 1 1 0 1-1 1 0 1 1 1-1 1 6 1-4 1-2 1-1 1 7 1-7 1 5 1-3 1 1 1 0 1 0 1 0 1 0 1 1 1 1 1-1 1 0 1 0 1 0 1 0 1-1 1 1 1 4 1-4 1-2 1 1 1 1 1-1 1-2 1 3 1 0 1-3 1 1 1-1 1 0 1 0 1 0 1 1 1-3 1 3 1 3 1 2 1-2 1-3 1 1 1 4 1 1 1 2 1 1 1 1 1-3 1-2 1 1 1 1 1 0 1-2 1-2 1 6 1-5 1 2 1 2 1-1 1 0 1-1 1 2 1 2 1-3 1-1 1 1 1 1 1 0 1 0 1 4 1-5 1 2 1-1 1 2 1 1 1-3 1 1 1-2 1 4 1-3 1 1 1 0 1-4 1 4 1 1 1-2 1 1 1 0 1 1 1-1 1 0 1 0 1 2 1-1 1-1 1-1 1 0 1 6 1-4 1 0 1 1 1 3 1-4 1 2 1-1 1-2 1-2 1 8 1-3 1-2 1 1 1 0 1 0 1 0 1 0 1 4 1-4 1-3 1 6 1-4 1 4 1 0 1-1 1-1 1-3 1 2 1 2 1-1 1 0 1 0 1 0 1 5 1-5 1 2 1 0 1-2 1 0 1 0 1 1 1-1 1 0 1 0 1 4 1-4 1 0 1-1 1 2 1-1 1 1 1-1 1 1 1 1 1-1 1-1 1 0 1 1 1-2 1 0 1 0 1 1 1 1 1 1 1-1 1 0 1-2 1 6 1-3 1 0 1-6 1 3 1 7 1-4 1-2 1 1 1-1 1 1 1-1 1 4 1-2 1-1 1 0 1-2 1 1 1 3 1-2 1-2 1 1 1 6 1 0 1-5 1-2 1 3 1 1 1-2 1-1 1-1 1 3 1 1 1-6 1-1 1 3 1 2 1-2 1-2 1 5 1-4 1-2 1-2 1 2 1 2 1-2 1 4 1-1 1 0 1 0 1 4 1-1 1-4 1 3 1 0 1-4 1 4 1-2 1 3 1-1 1 2 1 0 1-1 1-4 1 3 1 1 1 1 1-3 1 4 1-2 1-2 1 4 1-4 1 2 1 1 1 2 1-1 1-7 1 10 1-6 1 1 1 2 1 0 1 0 1-1 1-2 1 1 1 1 1 1 1-3 1 1 1 1 1 1 1 1 1 2 1-4 1 1 1-5 1 7 1 5 1-9 1 0 1 2 1-3 1 5 1-5 1 4 1 2 1-5 1-2 1 1 1 1 1-5 1 6 1 1 1-2 1-6 1 1 1 6 1 1 1-1 1 2 1 0 1-5 1 9 1-7 1 3 1 0 1-1 1 0 1-2 1 2 1-2 1 7 1-10 1 7 1-7 1 5 1-1 1 2 1 2 1-4 1-1 1 6 1-11 1 14 1-9 1 0 1-3 1 7 1 7 1-6 1 1 1-4 1 0 1 6 1-6 1-1 1 6 1-5 1 1 1-1 1-3 1-3 1 7 1 2 1-2 1 3 1-3 1 7 1-10 1 4 1 2 1-3 1 1 1-1 1 0 1 0 1-1 1 0 1 2 1-5 1 9 1-7 1 4 1-2 1-2 1 2 1 0 1 3 1-1 1-6 1 10 1-8 1-1 1 7 1-8 1 13 1-3 1-5 1 0 1-2 1-3 1 9 1-5 1 1 1-2 1 1 1 2 1-3 1 4 1-1 1-5 1 6 1-2 1 5 1-8 1 3 1 0 1 7 1-6 1 1 1-3 1 3 1-1 1 4 1-3 1 0 1 0 1-4 1 9 1-8 1 2 1-3 1-2 1 3 1 0 1-3 1 12 1-5 1 2 1-4 1-2 1 3 1-1 1-3 1 2 1 0 1 2 1-5 1 8 1 1 1-7 1-2 1 4 1-6 1 3 1-1 1 1 1 1 1 5 1-2 1 0 1-1 1 0 1-4 1 7 1-9 1 6 1-6 1 7 1-2 1 0 1 1 1-2 1 0 1 2 1 4 1-3 1-3 1 5 1-4 1 0 1 0 1 0 1 0 1 0 1-1 1-5 1 2 1 11 1-4 1-7 1 2 1 5 1-3 1-2 1 1 1-2 1 0 1-4 1 5 1 2 1 0 1-3 1 1 1-5 1 6 1 5 1-6 1 4 1-3 1-1 1 7 1 0 1-11 1 4 1 0 1 2 1 0 1-2 1 5 1-5 1 1 1 2 1 5 1-7 1 4 1-8 1 8 1-2 1-6 1 11 1-9 1-1 1 8 1-4 1-2 1 1 1 6 1-4 1-1 1-4 1 8 1-9 1 9 1 4 1-6 1 1 1-3 1-2 1 4 1-3 1 7 1 2 1-8 1 4 1-3 1 1 1 0 1 1 1-8 1 6 1 0 1-2 1 0 1 0 1 2 1 0 1 0 1 3 1-8 1 7 1-9 1 4 1 0 1 2 1 3 1-5 1 3 1-4 1 4 1 0 1 1 1 1 1-8 1 8 1 1 1-3 1-2 1-3 1-1 1 7 1-2 1 0 1-2 1 2 1-1 1-1 1 2 1 1 1-4 1 3 1-5 1 0 1 7 1-4 1 12 1-9 1-6 1 6 1 2 1 0 1-2 1 4 1 4 1-8 1 0 1-1 1 1 1 1 1-6 1 8 1-2 1 2 1-10 1 6 1 0 1 2 1-1 1-3 1 1 1 4 1-4 1 6 1 1 1 3 1-8 1-3 1-1 1 7 1-3 1-4 1 6 1 0 1-6 1 3 1-1 1-2 1 7 1-4 1 4 1-3 1-1 1 3 1-1 1-1 1 2 1 0 1-5 1 0 1 3 1-4 1 6 1-7 1 6 1-2 1-5 1 8 1 4 1-8 1-6 1 4 1 4 1-2 1-5 1 4 1 2 1-2 1 2 1-2 1 2 1 3 1 1 1 4 1-6 1-3 1 3 1-2 1 3 1 0 1-3 1-5 1 4 1 0 1 4 1-1 1-7 1 7 1-7 1 9 1-2 1-1 1 2 1 2 1-5 1 3 1-1 1 3 1-5 1 7 1-4 1-2 1-1 1 1 1-2 1 1 1 4 1-3 1-3 1 2 1 1V0"/><path transform="translate(237.96,519.01) scale(0.6692,1.0)" vector-effect="non-scaling-stroke" d="M0 0V-112l1-1 1 1 1 0 1 1 1 0 1-4 1 2 1 3 1 4 1-3 1 3 1-5 1 2 1 0 1 0 1-1 1-2 1 4 1-1 1-2 1 3 1 0 1-1 1 0 1 1 1 0 1-1 1 5 1-3 1-2 1 4 1 0 1 0 1-1 1 0 1 2 1 0 1 1 1-3 1 4 1 0 1 0 1 0 1 1 1-1 1 0 1 1 1 1 1-4 1 1 1 2 1-1 1 0 1 1 1 3 1-1 1 0 1-3 1 3 1 0 1 0 1 1 1-2 1 1 1 1 1 3 1-2 1 0 1-1 1 1 1 1 1-5 1 3 1 1 1 3 1-1 1-2 1 0 1 2 1-1 1 3 1-4 1 3 1 0 1-1 1 1 1-3 1-1 1 3 1-1 1 2 1 3 1-6 1 4 1 1 1 0 1 2 1-3 1 0 1 0 1-1 1 1 1 0 1 0 1-1 1 2 1-2 1 2 1 0 1-1 1 0 1 1 1-3 1 0 1 5 1-1 1 0 1-1 1 2 1 3 1-5 1 6 1-4 1 2 1-3 1-2 1 3 1-2 1 2 1-1 1-1 1 2 1-1 1 2 1 0 1-1 1 2 1-2 1-2 1 2 1 0 1 5 1-2 1 0 1-3 1 0 1 0 1 2 1-2 1 4 1-3 1-3 1 8 1-5 1-3 1 0 1 3 1 1 1 1 1 0 1 0 1-1 1-1 1 1 1 0 1-2 1 3 1-1 1 0 1-1 1-2 1 2 1 2 1-2 1 4 1 0 1-6 1 1 1 2 1 6 1-6 1 1 1 1 1-1 1 0 1-1 1 0 1-1 1 3 1-2 1 3 1 1 1-1 1 1 1-1 1 0 1 2 1 1 1-4 1 0 1 1 1-1 1 2 1 0 1-2 1 4 1-4 1 2 1-1 1 0 1 0 1 1 1 0 1 1 1 0 1-1 1 1 1-4 1 5 1-1 1 0 1 0 1-1 1 3 1-6 1 3 1-1 1 1 1-4 1 6 1-2 1-3 1 3 1-1 1-1 1 1 1 1 1 3 1-2 1-2 1-2 1 1 1 0 1 0 1-2 1-2 1 1 1-5 1 0 1-4 1-8 1 3 1-7 1-1 1 6 1 5 1 6 1 6 1-2 1 0 1 3 1 1 1 0 1 2 1-1 1 1 1 0 1 3 1-8 1 6 1-4 1-4 1-2 1-6 1-3 1 4 1-1 1 6 1 1 1 5 1-1 1 2 1 1 1 5 1-1 1 2 1 0 1 1 1-2 1 5 1-1 1-4 1 3 1-2 1 2 1 3 1-1 1-2 1 4 1-3 1 0 1-3 1 0 1 2 1 1 1-2 1 0 1 0 1 0 1 0 1-1 1 2 1 2 1 1 1-2 1-2 1 0 1 2 1 2 1-1 1 0 1 2 1 0 1 1 1 0 1-2 1 3 1-2 1 0 1 0 1-1 1 2 1-1 1-2 1 1 1 1 1 1 1 0 1 2 1-4 1 2 1-4 1 1 1 3 1 2 1-3 1-2 1 2 1 0 1-1 1 1 1 3 1-4 1 3 1-4 1 3 1 1 1-1 1 1 1 2 1-3 1 0 1 3 1-2 1 4 1-3 1-3 1 0 1 1 1-3 1 3 1-2 1 4 1-1 1 1 1 2 1-2 1 1 1-2 1 4 1 0 1-1 1 1 1-1 1-3 1 2 1 1 1-2 1 1 1 2 1 2 1 0 1 0 1 1 1-2 1 2 1-1 1 0 1-2 1-1 1 4 1-2 1-3 1 4 1-4 1 2 1 1 1-1 1-1 1-1 1 1 1-2 1 1 1 0 1-2 1-3 1 0 1-2 1-2 1 1 1 2 1 2 1 5 1-2 1 3 1 0 1 1 1 0 1 1 1 3 1-3 1 1 1 1 1 3 1-1 1 0 1-4 1 5 1-2 1-3 1 4 1-1 1 2 1-1 1 3 1-1 1 0 1-2 1 3 1-2 1 0 1 3 1-7 1 8 1-8 1 3 1 2 1-1 1-2 1 4 1-1 1 0 1-1 1 1 1 2 1-3 1-1 1 0 1 2 1-1 1 0 1-1 1 4 1-3 1 0 1-1 1 3 1-1 1 3 1-1 1 1 1 0 1-1 1 0 1-2 1 1 1 1 1 2 1-5 1 4 1 0 1 1 1-4 1 4 1 0 1 1 1-1 1 0 1 1 1-3 1 2 1 0 1 2 1-2 1 5 1-5 1 1 1 2 1-3 1 3 1-2 1 0 1 0 1 0 1 1 1-1 1 2 1-5 1 0 1 0 1 6 1 1 1-4 1-1 1 2 1-1 1 0 1 2 1-1 1 1 1-2 1 1 1 2 1-3 1 5 1-4 1 0 1-2 1 2 1-1 1 1 1 0 1-3 1 0 1 4 1-5 1-1 1-1 1-2 1-1 1 2 1 0 1 1 1 3 1 1 1 2 1-1 1 0 1 3 1-1 1 1 1 0 1 1 1 0 1 2 1-2 1-1 1 1 1 1 1 0 1 1 1-3 1 0 1 3 1-2 1 1 1 6 1-3 1-1 1 1 1 2 1-3 1 3 1-3 1-2 1 2 1-1 1 2 1-1 1 1 1 0 1-2 1 5 1-6 1 2 1 0 1-1 1 2 1 4 1-4 1 0 1 0 1-2 1 2 1 3 1-2 1 3 1-4 1 0 1 0 1 0 1-3 1 1 1 2 1-1 1 2 1 0 1-1 1 1 1 0 1-2 1 2 1 1 1-2 1 0 1 2 1-1 1 1 1-2 1 2 1-1 1 1 1 2 1-2 1-1 1 6 1-5 1 1 1-1 1-2 1 2 1 0 1 0 1-1 1 1 1-2 1 1 1-2 1 2 1 6 1-5 1-1 1 0 1 1 1-1 1 3 1 0 1-2 1-1 1 2 1 0 1-1 1 1 1 1 1-2 1 0 1 2 1 1 1-3 1 2 1-5 1 3 1 1 1 0 1 4 1-5 1 1 1 2 1-5 1 3 1 0 1 0 1 0 1-2 1-1 1 5 1-3 1 2 1-3 1 2 1 1 1-1 1 1 1-3 1 5 1-3 1 0 1 1 1-1 1 0 1 0 1 2 1-6 1 1 1 2 1-1 1 1 1 2 1 0 1-2 1 1 1-4 1 5 1-1 1-2 1 2 1-1 1-1 1 5 1-3 1-3 1-1 1 1 1-4 1 4 1-3 1 4 1-2 1 2 1-2 1 5 1-1 1 1 1 4 1-7 1-2 1 5 1 2 1-7 1 7 1 2 1-3 1 0 1-5 1 0 1 1 1 1 1 2 1-1 1 1 1 3 1-5 1 2 1 1 1 1 1-4 1 2 1 1 1-1 1 2 1-3 1 6 1-3 1-1 1 0 1-2 1 3 1-1 1 3 1-2 1-1 1 0 1 2 1-6 1 5 1 0 1-5 1 2 1 1 1 1 1 3 1-5 1-2 1 1 1 0 1 0 1-1 1 1 1-4 1 3 1 5 1-5 1 3 1-7 1 6 1 1 1-8 1 6 1 0 1-1 1 1 1 5 1-7 1 8 1-1 1 1 1-5 1 1 1 1 1 1 1-1 1 0 1 2 1-3 1 2 1-1 1 1 1-2 1-4 1 6 1-2 1-2 1 0 1 4 1 2 1 5 1-8 1-2 1 2 1 0 1-1 1-1 1 5 1-1 1-1 1 1 1 0 1 6 1-8 1 3 1-3 1 3 1 1 1 1 1-1 1-4 1 0 1 0 1-1 1 0 1 0 1 1 1-2 1 1 1 0 1-1 1 3 1-2 1 1 1 6 1-4 1-2 1-4 1 8 1-1 1-4 1 3 1 2 1-5 1 2 1 1 1-1 1 1 1 0 1 1 1-1 1-1 1-5 1 6 1-3 1 11 1-13 1 7 1-3 1 1 1 2 1 2 1-1 1-3 1 1 1-1 1-3 1-1 1 4 1-2 1 10 1-7 1 2 1-1 1-1 1 0 1 0 1 2 1-9 1 5 1 0 1-3 1 5 1 4 1-5 1 1 1-3 1 2 1-4 1 3 1-1 1 2 1-2 1 2 1 2 1-4 1 0 1 2 1-1 1 4 1-8 1 7 1-2 1 1 1-3 1 8 1-5 1-3 1-1 1 7 1-5 1 3 1-2 1-2 1-3 1 6 1 0 1-1 1 5 1-4 1 2 1 4 1-9 1 3 1-6 1 3 1 7 1-5 1 0 1 2 1-2 1-2 1 3 1-5 1 3 1 1 1 4 1-4 1-2 1 0 1 3 1-1 1 1 1 0 1-7 1 2 1 8 1-4 1-2 1-3 1 8 1-5 1 7 1-10 1 10 1-6 1-2 1 3 1-3 1 3 1-7 1 7 1 0 1-1 1 2 1-3 1 0 1-4 1 6 1 0 1 2 1 4 1-5 1 0 1-3 1 3 1-2 1-2 1 3 1-3 1 9 1-5 1 0 1-2 1 3 1-6 1 5 1-3 1 5 1-3 1-1 1 0 1 1 1 1 1 6 1-3 1-3 1-2 1 3 1-4 1 1 1 1 1-3 1 9 1-10 1 4 1 2 1-1 1 0 1-1 1 1 1-1 1 0 1 1 1-2 1 2 1-3 1 10 1-8 1 1 1-3 1 0 1-3 1-1 1 1 1 5 1-2 1 1 1 0 1-4 1 4 1 3 1-2 1 1 1 2 1-2 1 3 1-2 1 0 1 6 1-4 1-4 1 3 1-3 1 0 1 2 1-7 1 5 1-1 1 1 1-6 1 8 1 1 1-5 1 1 1-1 1-3 1 6 1 2 1-2 1 1 1-5 1-2 1 0 1 4 1 1 1-5 1 0 1 5 1 1 1 0 1 0 1 5 1-5 1 0 1-1 1-4 1 6 1-2 1 1 1 8 1-7 1 0 1 3 1-2 1-1 1 1 1 1 1 2 1-6 1 1 1-1 1 4 1-1 1-2 1 3 1 1 1 0 1-4 1-1 1 3 1-8 1 4 1 0 1-2 1 1 1 7 1-5 1 1 1 1 1-1 1 8 1-6 1-2 1 1 1-1 1-5 1 6 1 0 1 0 1 1 1-1 1-1 1 1 1-1 1 1 1-3 1 7 1-6 1-2 1 0 1-2 1 5 1-1 1 0 1 0 1 3 1-2 1-4 1 6 1-4 1 3 1-2 1-1 1 3 1-1 1 5 1-3 1-1 1-1 1 1 1 7 1-9 1 4 1 2 1-5 1 8 1-9 1-5 1 2 1 1 1 4 1-6 1 5 1 1 1 1 1-3 1 0 1 3 1-2 1 7 1-6 1 1 1-8 1 9 1-1 1 3 1-9 1 1V0"/><path transform="translate(232.83,524.93) scale(0.6692,1.0)" vector-effect="non-scaling-stroke" d="M0 0V-107l1 1 1 1 1 0 1-2 1 2 1 0 1-1 1 1 1 1 1 0 1 1 1-3 1 3 1-1 1 1 1 0 1 0 1 0 1 2 1 0 1-3 1 3 1-2 1 1 1-1 1 0 1 2 1 2 1-1 1 0 1 0 1 2 1-2 1 1 1 1 1-2 1 1 1 1 1-3 1 4 1-1 1 2 1-3 1 3 1-2 1-3 1 5 1-1 1-2 1 1 1 2 1 2 1 1 1-1 1 1 1-1 1 1 1 2 1-1 1-3 1 2 1 0 1 1 1-1 1 3 1-2 1-2 1 1 1 1 1 1 1 2 1-6 1 2 1 1 1 1 1-2 1-1 1 2 1 6 1-8 1 8 1-4 1 0 1-1 1 1 1 0 1 3 1-1 1 0 1-1 1-2 1-1 1 7 1 0 1-5 1 1 1-2 1 2 1-2 1 4 1-3 1 3 1-2 1 0 1 4 1-3 1 1 1 0 1 0 1 0 1 1 1-3 1 4 1-1 1-1 1 1 1 1 1 1 1-5 1 4 1 0 1-1 1 0 1 0 1-1 1 3 1-2 1-2 1 4 1-3 1 1 1 2 1-2 1 0 1 2 1-2 1 1 1 0 1 3 1-2 1-1 1 2 1 1 1-2 1 0 1 0 1-1 1 0 1-2 1 2 1 2 1-2 1 1 1 1 1 1 1-2 1 0 1 1 1-1 1 0 1-2 1 3 1 0 1-2 1 1 1 1 1-1 1 1 1-1 1 1 1 4 1-4 1 0 1 2 1-1 1 0 1 0 1 0 1-2 1 1 1-1 1 2 1 0 1-5 1 3 1-1 1 7 1-8 1 5 1 0 1-1 1 1 1-1 1 0 1-1 1 0 1 1 1 0 1 1 1 1 1-2 1 1 1 0 1-1 1 3 1-5 1 1 1 2 1 0 1 2 1-4 1 4 1-1 1-4 1 3 1 0 1 0 1 0 1 1 1 0 1 0 1 4 1-4 1-1 1-3 1 4 1 0 1 0 1-2 1 6 1-5 1 2 1 0 1 2 1-4 1 4 1-2 1 0 1-2 1 0 1 1 1 0 1 1 1 0 1-4 1 2 1-6 1 1 1-4 1 3 1-8 1-6 1-1 1 0 1 5 1 3 1 3 1 2 1 4 1 2 1 1 1 3 1-2 1 5 1-2 1-1 1 0 1 1 1-3 1-4 1 4 1-4 1-1 1-3 1-3 1 4 1 1 1 5 1-2 1 3 1 1 1 0 1 2 1-1 1 2 1-2 1 2 1-1 1 3 1-1 1 0 1-3 1 4 1-4 1 4 1 0 1 0 1-3 1 2 1 2 1 1 1 0 1-4 1 3 1 0 1-1 1-4 1 1 1 0 1 2 1-3 1 2 1 2 1 0 1 0 1 0 1 1 1-1 1-1 1 5 1 0 1 0 1-3 1 2 1 1 1-3 1 2 1 2 1 0 1-1 1-3 1 1 1 1 1 1 1 2 1-2 1 1 1-2 1 0 1-2 1 3 1-4 1 3 1 0 1 1 1-1 1-4 1 4 1-4 1 2 1 1 1 0 1 1 1 0 1-1 1 1 1-3 1 3 1 3 1-2 1-1 1 0 1 0 1 2 1-6 1 3 1 1 1-4 1 3 1-3 1 1 1 0 1 2 1 0 1-2 1 3 1 2 1-1 1 1 1-3 1 4 1 1 1-2 1 1 1-4 1 5 1-2 1 1 1 4 1-6 1 3 1 0 1-1 1 1 1-1 1 1 1 1 1-3 1 0 1 1 1 0 1-4 1 1 1 3 1-3 1 2 1-1 1 1 1-4 1 3 1-5 1 2 1-1 1-2 1-3 1 1 1-6 1 0 1 0 1-1 1 2 1 1 1 3 1 4 1 1 1-2 1 6 1 0 1-2 1 7 1 2 1-4 1 0 1-2 1 3 1-2 1 1 1 1 1 2 1-1 1 0 1 1 1-2 1 1 1 0 1 0 1 0 1 1 1-2 1 6 1-8 1 3 1-3 1 5 1-3 1-1 1 3 1 1 1-2 1-1 1 3 1-2 1-1 1 2 1 4 1-5 1 1 1 1 1-2 1 2 1-2 1 0 1 2 1-2 1 1 1 3 1-2 1 1 1-1 1 0 1 1 1-1 1 0 1-1 1 2 1 2 1-2 1 1 1 1 1 0 1-5 1 1 1 1 1-1 1 0 1 2 1 0 1-1 1 0 1 3 1-1 1 0 1 0 1-2 1 1 1 1 1-1 1 0 1 0 1 0 1 1 1 4 1-2 1-4 1 3 1 2 1-5 1 1 1 2 1 1 1-1 1-4 1 3 1 1 1 3 1-1 1-4 1 7 1-7 1 1 1 3 1-1 1-1 1 1 1-5 1 5 1 0 1-2 1 1 1 0 1 2 1-2 1-1 1-3 1 3 1-3 1-2 1 0 1 1 1 1 1-2 1-1 1 5 1 1 1 0 1 0 1 4 1-2 1-2 1-1 1 5 1-2 1-3 1 3 1 5 1-4 1 1 1 0 1 0 1 0 1-1 1-2 1 4 1 0 1 2 1-4 1 4 1-2 1 0 1 1 1 0 1-3 1-1 1 5 1-3 1 2 1-2 1 1 1 0 1-1 1 1 1-2 1 2 1 4 1-4 1 0 1-2 1 1 1 2 1 3 1-5 1 2 1-1 1-1 1 1 1 1 1-3 1 5 1-2 1 1 1 3 1-3 1 1 1-1 1 0 1-1 1-3 1 2 1-2 1 3 1 5 1-5 1 0 1 0 1-1 1 4 1 0 1-1 1 0 1-1 1 0 1-1 1 2 1-1 1 1 1 0 1 0 1 2 1-2 1 0 1 2 1-1 1-1 1-1 1 4 1-3 1 5 1-4 1-2 1 5 1-3 1 3 1-5 1 3 1 1 1 0 1-1 1-1 1-2 1 3 1-3 1 0 1 6 1-3 1 1 1-3 1-1 1 1 1 1 1 1 1-1 1 1 1 0 1 0 1-4 1 4 1 1 1 0 1-1 1-2 1 1 1 3 1-1 1-1 1 0 1 0 1 0 1 1 1 3 1-6 1 7 1-5 1-1 1 4 1-2 1 0 1 0 1-1 1 1 1 0 1 1 1-2 1 2 1 0 1-5 1 3 1-3 1 6 1-7 1 7 1-3 1 2 1 0 1-2 1 2 1-2 1-2 1-1 1 2 1 2 1-3 1 1 1-2 1 0 1 1 1 1 1 0 1 1 1-1 1-3 1 5 1-1 1 1 1 7 1-6 1 0 1-5 1 6 1-3 1 2 1 3 1-8 1 1 1 8 1-2 1-4 1 2 1 1 1-3 1 4 1-1 1-2 1 3 1-6 1 0 1 3 1 4 1-2 1 2 1-5 1-1 1 6 1-1 1-1 1-3 1 10 1-8 1-1 1 0 1 2 1 3 1-1 1-2 1-3 1 1 1 4 1 0 1-5 1 4 1 4 1-5 1-2 1 3 1 0 1-3 1 3 1 1 1-1 1-1 1 3 1-6 1-3 1 6 1-7 1 2 1 1 1 1 1-3 1 1 1 5 1-4 1 4 1-4 1 4 1-1 1 2 1-1 1-1 1 5 1-3 1 1 1-1 1 0 1 5 1-5 1 0 1-2 1 2 1 1 1-2 1 1 1 5 1-9 1 0 1 4 1-8 1 3 1 3 1 1 1 3 1 0 1 0 1-1 1-1 1 3 1 2 1-1 1-8 1 7 1 0 1-1 1 2 1-4 1 0 1-3 1 7 1-4 1 5 1 2 1-6 1-3 1 0 1 11 1 0 1-4 1-5 1 6 1-1 1-6 1 6 1 1 1-9 1 5 1 1 1 1 1-5 1 4 1-1 1-3 1 3 1-1 1 0 1 1 1 3 1 5 1-7 1 1 1 5 1-6 1 0 1-1 1 3 1 0 1-1 1 0 1 3 1-10 1 5 1-1 1 3 1 1 1-2 1 1 1-5 1 6 1-1 1 0 1 1 1 5 1-10 1-2 1 10 1-7 1 1 1-1 1 6 1-11 1 7 1-4 1 6 1-2 1 4 1-3 1-1 1 1 1-4 1 5 1 2 1-5 1 6 1-3 1-2 1 0 1-2 1-3 1 0 1 5 1-2 1 2 1-2 1-3 1 2 1 10 1-8 1 1 1-1 1 1 1-2 1 0 1 0 1 3 1 6 1-4 1-1 1-1 1 1 1 3 1-4 1-7 1 0 1 3 1 3 1 0 1 2 1-2 1 1 1-3 1 2 1 1 1-1 1 4 1-6 1 3 1-2 1-1 1 1 1 2 1-1 1 1 1-5 1 12 1-14 1 0 1 7 1-2 1-1 1 3 1 0 1-4 1 0 1 1 1 1 1-1 1 4 1-4 1-1 1 3 1 1 1 7 1-11 1 2 1 6 1-7 1-4 1 4 1 5 1-4 1-4 1 6 1 2 1-9 1 7 1-3 1-1 1 7 1-4 1 1 1-3 1 2 1-2 1 3 1-1 1 3 1 5 1-3 1-4 1 2 1 3 1-6 1 1 1 0 1 0 1-1 1 3 1-5 1 1 1 2 1-3 1 0 1 6 1-3 1 1 1-3 1 0 1 6 1-3 1-2 1 6 1-4 1-4 1 0 1 2 1 4 1-7 1 3 1-2 1 7 1-8 1 0 1-5 1 4 1-3 1 7 1-5 1 4 1-7 1 11 1-3 1-3 1 2 1 5 1 0 1 0 1-4 1 5 1 1 1-2 1-6 1 4 1-4 1 2 1-1 1 9 1-10 1 2 1 3 1-1 1-1 1-5 1 7 1 1 1-1 1 1 1-3 1-4 1-3 1 7 1-4 1 2 1 5 1-3 1 4 1-5 1-1 1 3 1 1 1-7 1 6 1 4 1-6 1 6 1-4 1-5 1 5 1-1 1-1 1-6 1 5 1-1 1 5 1-3 1 2 1-1 1-5 1 5 1-1 1-1 1 1 1 6 1-6 1 0 1 6 1-5 1-6 1 2 1 3 1 2 1-5 1 9 1-5 1-1 1 1 1-2 1-2 1 2 1 2 1 1 1 1 1-2 1-3 1 3 1 1 1-2 1 2 1 2 1-4 1 0 1 1 1 1 1-3 1 1 1 2 1-2 1-4 1 0 1 11 1-6 1 2 1 0 1-3 1 0 1 2 1-2 1 0 1 5 1 1 1-6 1-2 1 4 1 1 1-4 1 3 1 1 1 0 1-5 1-2 1 5 1-7 1 3 1 2 1 0 1 1 1 2 1-2 1 1 1-2 1 2 1-3 1 2 1 3 1 1 1-3 1 1 1-4 1 1 1 2 1 1 1-1 1 0 1 2 1-4 1-2 1 3 1 8V0"/><path transform="translate(227.71,530.86) scale(0.6692,1.0)" vector-effect="non-scaling-stroke" d="M0 0V-101l1-3 1 5 1-3 1 5 1-5 1 0 1 5 1-3 1 3 1-2 1 0 1 2 1-3 1 3 1 1 1-3 1-1 1 4 1 1 1 0 1 0 1-3 1 2 1 1 1-1 1 2 1 1 1-2 1 1 1-1 1 2 1 0 1-1 1 2 1-1 1 1 1-1 1 2 1-2 1 1 1 0 1 2 1-2 1 1 1 2 1 3 1-7 1 3 1 1 1-1 1 1 1 0 1-1 1 2 1-1 1-1 1 3 1 0 1-1 1-2 1 4 1 0 1-4 1 2 1 3 1-5 1 2 1 0 1 6 1-5 1 3 1-1 1 1 1-4 1 5 1-4 1 2 1 3 1-1 1-1 1-1 1-1 1 1 1 2 1-4 1 4 1-3 1 4 1-4 1 0 1 4 1-2 1 3 1-1 1-1 1 0 1 3 1-1 1 0 1 2 1-4 1 3 1-1 1 0 1 1 1 2 1-2 1 0 1 0 1 1 1-1 1 0 1-3 1 3 1 0 1 3 1-5 1 5 1-3 1 0 1 3 1-2 1-2 1 0 1 2 1 1 1 0 1-3 1 3 1-1 1-4 1 4 1 0 1 0 1 0 1-3 1 3 1 0 1-1 1 0 1 1 1 1 1-3 1 1 1 4 1-1 1 1 1-2 1-2 1 3 1 0 1 1 1 1 1 3 1-5 1 1 1 1 1-2 1 0 1 5 1-3 1-1 1 0 1 1 1-3 1 2 1 1 1-3 1 2 1-1 1-2 1 2 1 1 1-1 1 0 1 2 1-3 1-2 1 3 1 0 1 1 1 2 1-6 1 2 1 3 1-1 1-1 1 0 1-2 1 0 1 3 1 0 1-2 1 3 1 0 1 0 1 0 1 3 1 0 1-2 1-1 1 3 1-1 1-1 1 1 1 0 1-1 1 1 1 0 1 0 1 0 1-2 1 2 1 3 1-6 1 2 1-1 1 3 1-2 1 0 1 0 1 0 1 1 1-2 1 0 1 5 1-1 1-3 1 1 1-3 1 3 1-1 1 2 1 0 1 0 1-1 1 0 1 0 1-1 1 0 1 1 1 2 1-3 1-5 1 4 1-6 1 2 1 3 1-4 1-6 1-2 1-5 1 1 1-1 1 1 1 4 1 6 1 0 1 3 1-2 1 5 1-3 1 7 1-4 1 5 1-4 1-1 1 4 1-1 1-1 1 0 1-5 1 1 1-6 1 2 1 0 1 0 1 5 1 2 1 1 1 2 1-4 1 8 1-3 1 3 1-1 1 1 1-2 1 1 1-3 1 4 1 1 1-2 1 4 1-1 1-2 1 0 1 3 1-4 1 2 1-1 1 0 1 0 1-2 1 3 1-5 1-1 1-1 1 1 1 0 1 2 1 2 1 5 1-1 1-2 1 3 1-4 1 2 1 1 1 1 1-2 1-1 1 4 1 0 1 0 1 1 1 3 1-5 1 1 1 3 1-4 1 2 1-2 1 0 1 1 1-5 1 2 1 1 1 5 1-4 1 2 1-2 1-3 1 3 1 1 1 1 1-3 1-3 1 5 1-4 1 1 1 1 1 3 1-3 1 1 1-1 1 3 1-1 1 0 1 1 1 1 1-4 1 0 1 2 1 1 1-1 1-3 1 4 1-4 1-1 1 2 1 0 1 0 1-1 1 3 1 3 1-5 1 2 1 1 1-1 1 1 1 0 1-2 1 2 1 1 1 0 1-1 1 1 1-2 1 3 1 1 1-2 1-1 1 0 1 1 1 2 1 2 1-2 1-1 1-2 1 3 1-1 1-1 1-1 1 4 1-3 1 0 1-1 1 2 1 0 1-2 1 0 1 0 1 0 1 3 1-1 1-4 1-2 1 0 1-2 1 5 1 0 1 1 1 1 1-2 1-1 1 1 1 3 1-2 1 2 1 1 1 1 1-1 1 1 1-1 1 0 1 2 1-1 1-4 1 4 1 4 1-5 1 1 1 1 1-2 1-3 1 6 1-1 1-4 1 2 1 2 1-5 1 1 1 3 1 2 1 2 1-3 1 0 1 2 1 1 1-4 1 1 1-1 1-2 1 3 1-3 1-1 1 2 1-1 1 2 1-2 1 2 1-3 1 6 1-7 1 5 1 0 1-2 1 2 1-3 1 3 1 1 1-3 1 3 1-2 1 3 1-2 1 2 1 4 1-8 1 2 1 3 1-2 1 1 1 0 1-3 1 4 1-1 1-2 1 3 1 1 1-1 1-1 1-2 1 7 1-6 1 2 1-4 1 4 1-1 1 2 1-2 1 1 1 0 1 1 1 0 1-1 1 0 1 0 1 1 1-1 1 0 1-3 1 4 1 0 1 4 1-3 1-3 1 0 1 2 1 4 1-2 1-2 1-1 1 2 1-3 1 1 1 0 1-3 1 1 1 0 1-1 1 0 1-1 1-1 1-2 1-3 1-1 1-2 1-2 1 0 1 0 1 8 1 0 1 1 1 4 1 0 1 1 1 1 1-1 1 2 1 0 1 0 1 2 1-2 1 0 1 0 1 0 1 4 1-1 1-1 1 1 1-4 1 1 1 2 1 0 1-3 1 3 1 0 1 1 1 0 1-1 1 1 1 5 1-5 1 0 1-1 1 1 1 1 1 0 1-2 1 1 1 1 1 3 1-2 1 1 1 0 1 0 1-2 1-1 1 1 1-1 1 1 1-1 1 3 1-3 1-1 1 1 1 1 1 4 1 0 1-5 1 3 1-1 1 1 1 2 1-3 1-1 1 1 1 1 1-1 1-1 1 2 1 0 1 0 1 0 1 3 1 1 1-4 1-1 1-1 1-1 1 4 1 1 1-1 1 1 1 1 1-3 1 2 1-1 1 2 1-3 1 0 1-3 1 8 1-4 1-2 1 1 1-1 1 3 1 1 1-5 1 1 1 5 1-3 1 1 1 2 1-1 1 2 1-3 1 0 1 1 1-1 1 0 1 3 1-1 1-2 1 1 1 1 1-2 1 1 1 2 1-4 1 1 1 2 1-2 1 0 1 1 1 0 1 1 1 3 1-2 1-2 1 0 1 1 1-2 1-1 1 1 1 1 1-1 1 4 1-4 1 0 1 1 1-5 1 4 1 3 1-5 1-1 1 3 1 2 1-1 1 1 1-4 1 2 1 1 1-5 1 6 1-2 1 0 1 1 1 1 1-3 1 2 1-2 1-2 1 4 1 2 1-5 1 4 1-4 1 4 1-8 1 3 1 1 1 0 1 2 1-1 1 1 1 3 1-5 1 2 1 0 1-1 1 4 1-2 1 4 1-2 1-2 1 0 1-4 1 4 1 5 1-4 1-2 1 2 1 1 1 0 1-4 1-1 1 6 1-2 1-3 1 1 1 0 1 5 1-6 1 2 1 1 1-1 1 1 1 3 1-1 1-1 1-3 1-4 1 7 1-5 1 5 1-4 1 3 1 5 1-5 1 2 1-1 1-2 1-1 1 2 1 1 1 7 1-5 1-3 1 0 1-3 1 2 1 2 1-3 1 1 1 5 1-4 1 4 1 2 1-4 1-8 1 2 1 1 1-3 1 3 1 5 1-6 1 5 1 0 1 3 1-3 1 1 1-6 1 6 1 2 1-5 1-3 1 6 1 0 1-1 1 4 1-6 1 1 1 1 1 1 1 1 1-2 1 0 1-2 1-2 1 2 1-4 1 4 1 3 1-1 1 1 1-4 1 3 1 0 1-3 1 11 1-6 1 2 1-1 1-1 1 1 1 2 1-6 1 2 1 3 1 3 1-6 1 0 1 0 1 1 1-3 1 1 1 6 1-6 1-1 1 2 1 0 1-2 1 3 1-5 1 5 1-1 1 1 1 2 1-5 1 4 1-3 1-3 1 5 1 4 1-3 1 2 1-4 1 2 1 0 1 1 1-1 1-1 1 1 1 0 1-3 1 3 1-1 1 0 1 2 1-2 1 2 1-1 1-5 1 5 1-4 1 5 1-1 1 0 1 7 1-8 1 1 1 2 1-4 1 2 1 4 1-4 1 0 1 1 1-1 1-1 1 4 1-3 1-2 1 5 1-3 1-1 1-3 1 5 1 4 1 3 1-5 1-5 1 1 1 5 1-2 1-2 1-1 1 4 1-2 1-2 1 0 1 1 1-1 1 2 1-6 1 6 1-4 1 5 1-4 1-2 1 0 1 1 1 5 1 0 1-1 1 0 1 4 1-6 1 2 1-2 1 4 1-6 1 2 1 1 1 4 1-4 1 0 1-1 1 5 1-5 1 2 1-4 1 5 1-5 1 5 1 0 1-2 1 1 1 1 1-1 1 0 1-5 1 0 1 1 1-3 1 7 1-1 1-1 1 5 1-4 1 3 1 4 1-7 1-5 1 5 1 4 1-5 1-3 1 4 1-1 1 0 1 3 1-5 1 2 1 0 1 3 1 0 1-1 1-2 1 2 1-3 1 2 1 2 1-3 1 1 1 1 1-1 1-2 1-1 1-1 1 4 1 0 1 1 1 4 1 1 1-8 1 6 1-3 1-1 1-3 1 9 1-8 1 2 1 3 1-3 1 0 1 1 1 0 1 0 1-1 1 1 1-1 1 1 1 2 1-1 1-2 1 2 1-3 1 4 1-6 1 7 1-2 1-1 1-1 1-1 1 1 1 0 1-1 1 3 1-5 1 5 1 0 1-1 1-1 1-1 1 0 1-3 1 3 1-3 1 1 1 3 1 0 1-5 1 3 1 1 1-1 1 2 1-2 1 1 1 3 1 0 1 1 1-5 1-1 1 1 1 6 1-4 1-3 1 1 1 3 1 1 1-3 1-4 1 13 1-7 1-1 1 5 1-6 1 3 1 0 1-2 1-5 1 6 1-5 1 5 1 4 1-4 1 5 1-5 1-1 1 0 1 1 1 2 1-6 1 5 1 4 1-5 1-3 1 2 1-3 1 5 1 0 1 0 1-2 1 3 1 0 1-2 1 8 1 0 1-6 1-5 1 2 1 1 1-2 1 4 1-5 1 6 1-4 1 0 1 2 1-4 1 4 1 1 1-4 1 3 1-1 1 0 1 0 1 1 1 4 1-5 1-2 1 3 1-3 1 0 1 1 1-5 1 6 1 2 1-1 1-3 1-2 1 3 1 2 1-3 1 6 1-10 1 2 1 3 1 3 1-4 1 4 1 0 1-3 1 1 1-5 1 8 1-6 1 6 1-2 1-2 1 3 1-3 1 2 1 2 1-5 1 2 1 2 1-1 1 0 1 1 1-1 1 0 1 1 1 2 1-2 1-5 1 6 1-9 1 4 1 3 1 0 1-1 1 1 1-3 1 7 1-8 1 4 1 4 1-5 1-1 1 2 1 1 1-2 1 6 1-7 1 2 1 5 1-10 1 4V0"/><path transform="translate(222.58,536.78) scale(0.6692,1.0)" vector-effect="non-scaling-stroke" d="M0 0V-103l1 3 1 1 1-1 1 1 1 0 1-1 1 2 1-3 1 3 1 0 1-1 1 2 1-1 1 0 1 1 1 1 1-1 1 1 1-1 1-1 1 3 1-1 1 1 1 1 1-1 1 1 1 2 1-2 1 3 1-4 1 2 1 4 1-6 1 1 1 6 1-3 1-1 1-1 1 0 1 0 1 1 1 1 1-1 1 1 1 1 1-1 1-4 1 6 1 1 1-3 1-1 1-1 1 8 1-3 1-1 1 1 1 0 1-1 1 0 1 3 1-6 1 4 1-3 1 1 1 4 1-2 1 0 1-1 1 1 1 2 1-2 1 0 1 2 1 0 1-3 1 3 1-2 1 3 1 1 1 0 1-1 1-4 1 2 1 2 1 0 1 0 1 1 1-1 1-3 1 4 1 2 1-1 1 0 1 0 1 0 1-1 1-2 1 2 1 0 1 2 1-1 1 0 1-1 1 1 1-1 1 0 1 2 1 0 1-1 1 4 1-3 1-1 1 1 1-2 1 3 1 1 1-1 1 0 1 0 1-1 1 1 1-2 1 4 1-4 1 0 1 1 1 1 1-1 1 4 1-3 1-3 1 1 1 1 1 2 1 0 1-2 1 2 1-2 1 1 1 0 1 0 1-2 1 3 1-1 1 4 1-1 1-5 1 5 1-2 1 0 1 2 1 1 1 0 1-1 1-2 1-1 1 1 1 1 1 0 1 1 1-1 1 1 1 5 1-5 1 1 1 0 1-3 1 3 1-1 1 1 1-2 1 1 1 3 1-4 1 1 1-3 1 3 1 1 1-1 1 0 1 1 1-1 1-1 1 1 1 3 1-2 1-1 1 2 1-1 1-2 1-1 1 4 1 0 1 1 1 0 1-4 1 3 1-1 1 0 1-1 1 0 1-1 1 4 1 0 1-1 1 2 1-2 1-4 1 3 1 1 1 0 1 0 1 0 1 2 1-1 1-2 1 1 1-1 1-1 1 2 1-3 1 6 1-1 1-2 1 1 1-2 1 3 1-1 1 1 1 0 1-4 1 1 1-2 1 2 1 4 1-2 1-1 1 1 1 1 1-1 1 0 1-2 1-2 1 2 1 0 1 2 1-1 1-2 1-2 1-2 1-5 1-2 1-4 1 0 1 4 1 3 1 3 1 4 1 1 1 3 1-1 1 0 1 2 1-1 1 0 1 2 1-1 1 0 1-1 1 1 1-1 1-1 1 0 1-3 1-1 1 3 1-3 1 2 1 4 1 0 1 1 1 1 1-2 1 1 1 2 1 0 1 0 1 0 1 2 1 0 1-2 1 1 1 1 1 2 1-3 1-1 1 1 1-2 1 1 1 2 1-1 1 1 1-1 1-3 1 2 1 2 1-3 1 0 1 0 1-1 1 0 1 2 1 2 1-1 1 1 1 0 1 1 1-1 1 1 1 0 1-1 1 0 1 3 1-1 1 0 1 0 1 1 1 1 1 0 1 0 1-1 1-1 1 1 1 0 1 0 1 0 1 1 1 2 1-4 1 1 1 0 1 0 1 0 1 0 1-1 1 0 1-2 1 4 1-5 1 2 1 2 1-1 1-3 1 3 1 2 1 0 1 1 1-2 1 1 1 1 1 1 1-1 1 0 1-3 1 4 1-6 1 6 1-3 1 3 1-1 1-3 1 0 1 2 1-1 1 3 1-3 1 3 1-4 1 4 1-4 1 5 1-1 1 2 1-1 1 5 1-5 1 0 1 2 1 0 1 0 1-1 1-1 1 1 1-2 1 2 1 0 1 0 1 3 1-4 1 0 1-3 1 6 1-4 1 2 1-5 1 3 1-1 1 1 1-3 1-2 1 3 1 1 1-5 1 1 1-4 1 2 1-4 1-4 1-2 1 3 1 0 1 0 1 3 1 6 1 1 1 1 1 3 1 0 1 2 1-1 1-2 1 2 1-2 1 4 1 0 1 1 1-3 1 5 1-5 1 5 1-2 1 0 1-1 1 2 1-2 1-1 1 3 1 0 1 2 1-3 1 1 1 2 1-1 1-1 1-1 1 0 1 2 1 0 1 3 1-2 1-1 1 4 1-1 1-4 1-1 1-4 1 4 1-5 1 2 1 2 1 1 1-3 1 5 1-1 1 1 1 1 1-1 1 0 1 2 1-2 1 3 1-1 1 3 1-3 1-1 1 4 1-1 1 0 1-1 1 0 1 1 1-1 1 4 1-2 1-2 1-3 1 3 1 0 1 4 1-3 1 0 1 0 1-1 1 2 1 1 1-2 1 1 1-1 1 2 1-1 1 0 1 1 1 2 1-2 1-1 1 0 1 0 1-2 1 5 1-3 1 4 1-4 1 1 1-2 1 2 1 0 1 3 1-1 1 1 1-3 1 1 1 0 1-1 1 3 1-3 1 2 1-2 1 2 1-4 1 1 1 0 1 2 1-2 1-3 1-1 1 1 1-1 1 0 1-3 1 0 1 1 1 4 1-3 1-1 1 6 1 0 1 2 1-1 1 0 1 5 1-4 1-1 1 0 1 4 1-2 1 0 1-2 1 3 1 2 1-2 1 0 1-4 1 4 1-1 1 1 1 1 1-3 1 1 1 1 1-3 1 3 1-1 1 1 1-3 1 4 1 0 1-1 1 2 1 1 1-1 1 0 1-4 1 5 1 0 1 2 1-3 1 0 1 1 1-3 1 4 1-5 1 2 1-2 1 4 1-2 1 1 1 0 1 3 1-3 1 2 1-1 1-1 1 1 1 2 1 0 1-3 1-1 1 1 1 2 1-1 1 0 1 2 1 0 1-4 1 4 1-4 1 3 1-1 1-1 1-2 1 5 1 3 1 0 1-4 1-1 1 1 1 1 1-2 1 2 1-2 1 0 1 1 1 1 1-2 1 1 1-2 1 3 1-1 1 1 1 0 1-1 1 0 1-1 1 1 1 0 1-3 1 0 1 3 1 3 1-6 1 5 1-4 1 3 1 2 1-3 1 6 1-4 1-2 1-3 1 3 1-1 1 4 1 0 1-2 1-2 1 1 1-1 1 2 1 0 1 0 1 1 1-1 1 0 1-4 1 0 1 3 1-2 1 0 1 2 1 1 1 2 1-2 1 4 1-3 1 0 1 0 1-3 1-1 1 3 1 0 1 1 1 0 1 0 1-4 1 3 1 0 1 0 1 4 1 3 1-5 1 2 1-3 1-2 1 2 1-1 1-1 1 1 1 1 1-2 1 1 1-4 1 4 1-1 1-3 1 3 1 3 1-3 1 1 1-2 1 2 1 0 1 2 1 0 1 1 1 0 1-6 1 3 1 1 1 5 1 0 1-5 1 0 1-3 1 3 1-2 1 3 1 3 1-4 1 1 1 1 1 2 1-2 1-1 1-1 1 3 1 1 1-2 1 0 1 0 1 0 1-1 1-1 1 2 1-5 1 3 1-5 1 8 1-3 1 3 1-3 1 1 1 1 1 3 1-3 1 0 1-3 1 3 1 0 1-1 1 0 1 0 1 1 1-6 1 6 1 0 1-1 1 2 1-3 1 7 1-6 1-1 1 1 1 2 1-4 1 2 1-3 1 2 1 0 1 1 1 5 1-6 1-5 1 7 1 6 1-6 1-4 1 3 1 4 1-2 1-3 1 2 1 2 1-1 1-3 1 5 1-5 1 2 1 0 1 2 1 0 1-2 1 3 1-5 1-1 1 2 1-1 1-1 1-6 1 4 1 6 1-5 1 4 1-2 1 0 1 5 1-3 1 1 1 1 1 4 1-6 1-1 1 0 1-1 1 3 1-1 1 1 1-1 1-4 1 2 1 2 1 0 1-2 1 8 1-4 1-6 1 1 1 6 1 4 1-5 1-1 1 4 1-6 1 1 1 3 1 0 1-2 1 3 1-2 1 0 1 0 1-1 1-1 1 0 1 2 1-2 1 4 1 3 1-5 1-1 1 1 1 0 1 0 1 0 1 1 1-7 1 6 1 0 1 0 1-1 1 1 1 3 1-2 1 2 1-2 1-1 1 0 1 0 1 0 1-5 1 6 1-8 1 8 1-5 1 3 1-1 1 4 1-5 1 2 1 0 1-2 1 2 1 3 1 1 1-2 1 1 1 0 1-3 1 1 1-1 1 0 1 2 1 5 1-3 1-4 1-1 1 2 1 8 1-10 1-1 1 4 1-1 1 2 1-3 1-3 1 3 1-4 1 0 1 5 1 1 1-4 1 6 1 2 1-2 1-2 1-4 1 1 1 3 1 0 1-2 1 1 1 2 1 0 1-6 1 5 1 1 1-1 1-6 1 5 1 2 1-4 1 2 1 1 1 4 1-7 1 1 1-1 1 3 1-7 1 6 1-2 1-2 1 3 1 4 1-4 1 1 1-2 1 2 1-3 1 2 1-1 1-5 1 5 1-3 1 4 1-1 1-1 1 3 1-1 1 1 1 6 1-6 1-4 1 3 1-1 1-2 1 4 1-4 1 2 1 0 1 2 1-2 1 7 1-5 1-1 1 3 1-2 1 0 1-1 1 5 1-3 1 1 1 0 1-2 1-4 1 5 1 0 1-1 1 0 1-4 1 4 1 5 1-8 1 3 1 0 1-2 1 1 1-2 1 3 1-4 1 8 1-3 1-1 1 1 1 3 1-2 1-2 1 1 1 2 1-3 1-3 1 1 1 7 1-5 1 2 1 2 1-3 1-4 1 1 1 1 1 1 1-6 1 6 1-1 1-2 1-2 1-1 1 3 1 0 1 4 1-4 1-4 1 6 1 7 1-5 1-1 1 5 1-8 1 3 1-1 1 0 1 5 1-6 1 3 1-1 1 3 1-3 1 1 1-3 1 2 1 0 1 1 1-2 1-1 1 0 1 0 1 3 1-2 1 1 1 0 1-1 1-1 1 0 1 0 1 2 1 3 1-3 1 1 1-1 1-1 1 3 1-1 1 7 1-3 1 3 1-7 1-6 1 1 1 7 1-3 1 2 1 0 1-3 1 1 1-1 1 9 1-9 1 0 1-1 1 0 1 4 1-4 1 1 1 1 1 1 1 0 1-4 1 6 1-3 1 1 1-2 1 2 1-4 1 3 1 0 1-1 1 3 1-2 1-2 1 7 1-5 1-2 1 1 1-5 1 10 1-3 1-4 1 3 1-6 1 5 1 1 1 2 1-3 1-1 1 4 1-5 1 2 1-1 1 2 1-2 1 3 1 2 1 1 1-5 1-2 1 5 1-2 1-5 1 3 1 2 1 1 1 3 1-4 1 6 1-5 1-1 1 0 1-1 1 2 1 0 1-6 1 7 1 0 1-2 1 4 1-2 1-1 1 0 1-2 1 1 1 0 1 1 1 7 1-8 1-4 1-2 1 12 1-1 1-6 1 0 1 4 1-4 1 2 1 0 1-1V0"/><path transform="translate(217.45,542.70) scale(0.6692,1.0)" vector-effect="non-scaling-stroke" d="M0 0V-100l1 4 1-7 1 5 1 0 1-3 1 5 1-2 1-1 1 3 1-2 1 2 1-2 1 2 1-1 1-2 1 3 1-2 1 2 1 4 1-4 1 0 1 0 1 0 1 1 1 0 1-2 1 0 1 2 1 0 1 2 1 2 1-2 1-1 1 0 1 2 1-1 1-2 1 2 1 0 1 0 1 5 1-2 1-2 1-1 1-2 1 6 1-3 1 5 1 0 1-4 1 1 1 4 1-5 1 4 1 0 1-2 1 1 1-5 1 2 1 2 1-1 1 4 1-2 1 0 1 1 1-1 1 1 1 0 1 0 1 1 1-2 1 5 1-1 1-4 1 3 1-1 1 1 1-2 1 1 1 1 1 0 1 0 1-1 1 2 1-1 1 3 1-5 1 3 1-1 1 1 1 2 1-1 1 1 1-1 1-1 1 0 1-2 1 3 1 0 1-1 1 0 1 0 1 1 1-2 1 2 1 0 1 1 1-2 1 1 1 2 1 3 1-2 1 0 1-2 1 2 1-2 1 3 1-2 1 0 1 0 1 2 1-2 1-2 1 1 1 2 1-2 1 0 1 2 1 0 1-3 1 1 1 3 1-4 1 2 1 1 1 0 1 1 1 0 1 0 1-4 1 5 1-2 1-1 1 2 1 2 1 0 1-4 1-2 1 5 1-2 1-1 1 2 1 1 1 0 1-1 1 0 1 1 1-1 1 1 1-2 1 5 1-4 1 1 1 0 1 4 1-4 1-1 1 0 1 0 1 5 1-3 1-2 1 0 1-1 1 4 1 1 1-2 1-1 1 0 1 1 1-2 1 3 1 3 1-5 1 2 1-1 1 0 1-2 1 5 1-3 1 3 1-1 1-5 1 5 1-2 1 4 1-4 1 5 1-3 1 0 1 0 1-1 1 1 1-2 1 2 1-1 1 1 1 2 1-2 1-1 1-2 1 3 1-3 1 3 1-2 1 1 1-3 1 3 1-1 1 2 1-2 1 2 1-4 1 2 1 4 1-2 1 0 1-4 1 8 1-4 1 4 1-7 1 5 1-3 1-2 1 1 1 0 1 0 1 0 1 1 1 0 1-4 1 2 1 0 1-2 1 0 1-2 1-1 1-3 1-7 1-3 1-5 1-6 1-1 1 9 1 4 1 4 1 3 1 9 1-5 1 5 1 1 1 2 1-1 1-1 1 1 1-2 1 4 1-2 1 1 1-1 1-4 1-1 1-3 1-5 1 4 1 2 1 2 1 3 1 2 1 2 1 3 1-1 1 0 1 1 1 1 1 1 1 0 1 2 1 0 1 2 1-2 1 0 1-1 1 1 1 1 1 1 1-5 1 3 1-3 1-2 1 5 1 0 1-5 1 4 1-1 1 2 1-2 1 4 1-2 1-1 1 4 1-3 1 2 1 1 1-2 1 3 1 2 1-5 1 0 1 2 1-4 1 4 1-1 1 0 1 1 1-4 1 3 1 4 1-7 1-1 1 2 1 3 1-1 1 0 1-1 1 1 1 0 1 0 1-1 1 2 1-2 1 1 1 3 1-4 1-1 1 3 1-2 1 3 1-2 1 1 1-1 1 1 1 1 1 1 1-2 1 1 1 0 1 0 1 1 1 4 1-8 1 1 1 1 1 3 1-4 1-2 1 0 1 3 1-6 1 1 1 1 1 3 1-2 1 2 1 0 1 2 1-3 1 1 1 4 1 0 1-1 1 1 1-1 1 4 1-2 1-2 1 3 1 4 1-5 1 1 1-3 1 1 1 1 1-3 1 2 1 4 1-2 1-1 1 0 1-1 1 4 1-6 1 7 1-3 1 0 1 0 1 0 1 0 1 0 1-1 1-1 1 2 1-1 1-4 1 4 1-3 1 0 1 1 1-2 1 1 1 2 1 0 1 2 1 0 1-1 1 2 1 0 1 1 1 0 1 4 1 0 1-5 1 1 1 0 1 2 1-2 1-4 1 6 1-2 1 1 1 1 1-2 1-3 1 4 1 2 1-2 1 2 1 0 1-4 1 1 1 1 1 0 1 1 1-1 1 3 1-1 1-1 1 0 1-5 1 4 1 0 1 1 1-1 1-2 1-1 1 3 1-3 1-2 1 2 1 1 1 6 1-6 1 1 1 0 1 7 1-4 1 0 1 2 1-2 1 2 1-2 1 3 1-3 1 3 1-5 1 0 1 3 1-1 1 2 1 1 1-1 1 3 1-3 1 0 1 1 1-1 1 2 1-1 1-1 1 1 1-1 1 1 1-1 1 0 1 1 1 0 1 0 1 1 1 0 1-1 1-1 1 2 1-3 1 3 1-1 1 1 1-2 1 1 1 1 1 3 1-1 1-5 1 1 1 2 1 0 1 1 1 0 1-4 1 3 1-2 1 4 1 1 1-3 1 1 1-3 1 1 1 0 1 4 1-3 1-3 1 1 1 1 1-2 1-2 1-1 1 0 1-4 1 3 1-5 1 0 1 1 1 10 1-5 1 3 1 1 1 0 1 1 1 2 1-3 1 4 1-4 1 0 1 5 1 0 1 0 1 0 1-1 1 4 1-4 1 4 1-3 1-2 1 2 1 1 1 1 1-2 1 0 1 0 1 0 1-1 1 2 1 0 1-2 1 1 1-1 1 1 1 5 1-4 1 2 1 1 1-1 1 0 1-3 1 5 1-1 1-5 1 3 1 3 1-3 1 0 1-2 1 1 1 1 1-3 1 6 1-6 1 3 1 2 1-4 1 0 1 2 1 2 1 0 1-1 1 0 1 0 1 3 1-2 1 0 1 0 1 0 1 1 1-4 1 3 1-1 1 0 1-1 1 3 1-1 1 0 1 1 1-1 1 0 1 0 1 1 1-1 1-1 1 0 1 2 1 0 1 0 1-4 1 5 1 1 1-3 1 1 1 1 1-2 1-2 1 3 1 1 1-1 1 0 1-2 1 1 1-1 1-1 1-2 1 3 1 1 1 0 1-1 1 2 1-1 1-1 1 0 1 3 1-1 1 0 1 0 1-3 1 4 1 4 1-4 1-1 1 0 1 1 1-3 1 0 1-1 1 0 1 4 1-1 1 0 1-1 1 5 1 0 1-1 1-2 1-1 1 0 1-1 1 0 1 2 1 0 1-2 1 3 1-3 1 3 1-3 1-3 1 3 1 0 1-3 1 4 1-2 1 2 1-2 1 2 1 1 1 0 1-3 1 1 1-1 1 3 1 1 1-1 1-2 1 1 1-3 1 5 1-7 1 2 1 0 1 0 1 2 1-2 1 4 1-2 1-2 1 6 1-1 1 0 1 0 1-1 1-1 1 2 1-5 1 5 1-1 1 3 1-2 1 2 1-3 1 1 1 3 1-5 1 4 1 3 1-5 1 0 1 1 1 0 1-2 1-1 1 3 1 5 1-1 1-5 1-2 1-1 1 1 1 2 1 0 1-1 1 1 1 1 1 1 1 0 1 0 1 1 1 1 1-5 1-2 1 7 1-3 1 2 1-2 1-5 1 5 1-1 1-1 1-3 1 4 1 6 1-6 1 2 1 0 1 2 1-6 1-4 1 6 1-4 1-3 1 1 1 1 1-2 1 2 1 1 1 2 1-1 1-2 1 5 1-1 1 1 1 4 1-5 1 2 1-2 1 0 1 3 1 4 1 1 1-6 1 0 1 5 1-4 1-4 1 4 1 0 1-1 1 0 1 4 1-8 1 1 1 1 1 2 1-1 1-5 1 7 1 0 1-1 1 2 1 0 1 3 1-6 1 2 1 5 1-6 1 0 1 1 1-3 1 3 1 8 1-9 1 3 1-3 1-1 1 1 1-1 1-5 1 9 1-4 1 1 1 0 1 0 1 2 1 1 1 7 1-10 1 2 1-1 1 0 1-1 1 3 1 1 1 2 1-2 1-7 1 3 1 4 1 0 1 6 1-8 1 0 1 0 1-1 1 0 1-3 1 1 1 0 1 0 1 3 1 5 1-5 1 1 1 4 1-1 1-1 1 1 1-2 1-6 1 7 1 4 1-5 1 3 1-1 1 0 1-8 1 6 1 0 1-4 1 8 1-6 1 1 1-6 1 6 1 3 1-3 1 0 1-1 1 2 1 0 1-7 1 1 1 2 1 0 1 4 1-6 1 9 1-4 1 0 1 4 1-7 1 3 1 1 1 0 1-2 1 1 1-6 1 5 1-3 1 4 1 0 1 6 1-2 1-2 1-1 1-1 1-1 1 3 1-3 1 1 1 1 1 0 1 4 1-4 1 0 1 0 1 1 1 2 1-2 1 0 1-2 1 0 1 6 1-2 1 0 1-5 1 3 1 2 1-5 1 4 1-2 1-2 1-1 1-4 1 12 1-9 1 3 1 2 1-4 1-2 1 3 1 2 1-3 1 1 1 2 1-9 1 4 1 2 1-1 1-1 1-2 1 6 1-2 1 6 1-7 1 3 1 4 1-4 1 0 1 0 1 2 1-2 1 0 1 3 1-5 1 0 1 6 1-8 1 6 1-6 1 4 1 1 1-7 1 7 1-6 1 5 1 0 1-5 1 4 1 1 1-3 1 4 1 2 1 3 1-11 1 1 1 7 1-6 1 5 1-3 1 0 1 0 1 2 1-1 1-1 1 2 1-2 1 0 1 2 1 3 1-1 1 0 1-9 1 8 1-4 1 2 1 2 1-3 1 1 1-1 1 0 1 0 1 0 1 5 1-4 1 2 1-1 1-2 1 6 1-6 1-6 1 6 1 1 1-1 1 0 1 1 1-4 1 7 1-2 1-4 1 2 1 1 1 0 1-3 1 4 1 1 1-1 1-1 1-1 1 5 1-4 1-3 1 7 1-4 1-4 1 6 1-2 1 4 1-2 1-5 1 3 1 1 1 2 1 2 1 0 1-3 1 0 1-1 1 4 1-2 1 1 1-2 1-7 1 3 1-1 1 3 1 2 1 0 1 0 1-1 1 0 1-2 1 4 1-4 1 1 1-4 1 7 1-3 1 7 1-12 1 6 1-3 1 4 1-3 1 1 1-4 1 1 1-2 1 6 1 1 1 6 1-4 1-8 1 3 1 9 1-11 1 3 1 0 1 1 1-1 1 3 1-1 1 2 1-6 1 2 1 2 1-1 1-6 1 7 1-7 1 5 1-3 1 7 1-4 1 1 1 0 1 0 1-1 1 1 1 0 1 0 1-5 1-1 1 5 1-1 1 1 1 2 1-2 1 3 1-2 1 2 1-4 1 2 1 1 1-4 1 3 1 0 1 2 1-4 1-1 1 6 1-3 1 1 1-3 1 8 1-7 1 0 1 0 1 0 1 0 1-4 1 2 1 2 1 0 1 3 1-4 1 6 1-1 1-2 1-1 1-2 1 1 1 0 1 1 1 1 1-3 1 9 1-10 1-2 1 6V0"/><path transform="translate(212.33,548.63) scale(0.6692,1.0)" vector-effect="non-scaling-stroke" d="M0 0V-105l1-3 1 5 1 2 1-8 1 5 1-1 1 1 1 0 1 1 1-1 1 0 1 1 1-1 1 1 1 2 1-1 1-3 1 6 1-3 1-1 1-1 1 4 1-2 1 0 1 1 1 0 1 2 1 0 1 0 1-3 1 2 1 2 1-1 1 5 1-4 1 1 1 0 1-1 1 1 1-2 1-1 1 0 1 1 1 3 1-1 1 3 1-2 1-1 1 1 1 0 1 4 1-7 1 3 1 0 1 2 1-1 1 2 1 2 1-1 1-1 1 4 1-5 1 1 1 1 1 0 1 1 1-1 1-2 1 5 1-4 1 0 1 0 1 4 1 0 1-2 1 3 1-1 1 0 1 1 1-1 1 1 1-2 1 3 1-3 1-2 1 3 1 2 1-2 1 0 1 0 1 0 1-2 1 5 1-1 1-1 1-2 1 3 1-2 1 2 1 5 1-2 1 0 1-2 1-1 1 3 1-4 1 1 1 0 1 0 1 6 1 0 1-3 1-5 1 3 1 1 1-1 1 3 1 0 1 3 1-6 1 2 1-1 1 2 1-2 1 2 1 0 1 0 1 0 1 2 1-2 1-1 1 0 1-1 1-1 1-1 1 3 1 2 1-1 1 0 1-1 1 1 1 2 1-3 1 1 1 2 1-4 1 3 1 1 1-2 1 0 1 1 1 0 1 0 1-1 1 2 1-2 1 1 1 1 1-4 1 4 1-1 1 0 1 3 1-2 1 0 1 0 1-1 1 2 1 1 1-3 1 2 1-2 1 2 1-1 1-4 1 6 1 0 1-2 1-2 1 0 1 2 1 0 1 1 1-1 1 1 1 1 1 0 1-2 1-2 1 2 1 0 1 1 1 2 1-3 1 1 1-1 1 2 1-2 1 2 1 0 1-1 1-1 1 4 1-5 1 5 1-1 1-1 1 1 1 2 1-4 1 1 1 0 1 0 1 0 1 4 1-3 1-1 1 1 1 1 1 2 1-2 1-1 1-1 1 1 1-3 1 2 1-2 1 4 1-2 1 0 1 0 1 0 1 0 1 3 1-2 1-1 1 0 1 1 1-1 1-4 1 4 1-1 1-1 1-1 1-1 1-2 1-2 1-2 1-4 1-6 1-5 1-7 1-4 1-2 1 9 1 5 1 10 1-1 1 7 1 1 1 1 1 4 1-3 1 3 1 2 1-3 1 2 1 0 1 1 1-1 1-1 1-1 1-1 1-6 1 0 1 1 1 3 1 1 1 4 1 2 1 3 1 1 1-5 1 5 1 2 1 0 1 1 1 3 1-7 1 2 1 5 1 1 1-4 1-1 1-4 1 5 1-3 1 3 1 1 1-3 1 1 1 0 1-1 1 4 1-6 1 2 1 0 1-1 1 4 1-8 1 4 1 1 1-1 1 2 1 1 1 0 1 2 1 0 1 1 1-2 1 1 1 0 1 3 1-4 1 1 1 0 1 0 1 3 1-6 1 3 1 0 1 5 1-4 1-1 1-1 1 2 1 0 1 0 1-2 1 3 1-1 1 0 1 4 1-5 1 3 1-3 1-1 1 0 1 2 1-3 1-2 1 2 1 4 1-2 1 2 1 0 1 0 1 0 1 0 1 0 1 6 1-8 1 3 1 0 1-2 1 4 1-3 1-1 1 1 1 0 1-1 1 4 1-5 1 5 1-2 1-2 1 3 1 0 1-2 1 2 1-1 1 1 1 3 1 0 1-3 1 1 1 0 1 0 1-2 1 3 1 0 1-1 1 0 1 0 1 1 1 0 1-2 1 0 1 1 1 2 1-3 1 1 1 4 1-7 1 1 1 0 1 2 1 1 1 1 1-6 1 3 1 0 1-2 1 0 1 0 1-1 1 3 1-3 1-3 1-1 1 4 1 0 1 0 1 0 1 1 1 3 1 3 1 1 1-1 1-1 1-1 1 1 1 1 1 1 1 0 1-5 1 5 1-2 1 0 1 0 1-1 1 3 1 1 1-2 1-3 1 3 1 3 1-2 1 1 1-4 1 1 1-1 1 2 1 1 1-1 1 2 1-6 1 3 1 1 1 2 1-1 1-3 1 6 1-4 1-2 1 0 1 3 1-4 1 0 1 2 1-1 1 0 1 2 1 0 1 1 1-4 1 4 1-3 1 3 1-3 1 3 1 1 1 0 1 0 1-1 1 1 1 0 1-1 1-2 1 0 1 3 1-3 1 3 1 3 1-6 1 1 1 2 1 2 1 0 1-1 1 1 1-2 1 0 1 3 1-2 1 5 1-3 1-1 1-4 1 3 1 3 1 0 1-2 1 1 1 0 1 3 1-4 1 2 1-2 1 1 1-1 1 1 1 1 1-1 1-3 1 3 1 1 1 0 1-1 1 0 1-1 1 2 1 0 1-2 1 2 1 0 1-3 1 7 1-9 1 3 1 4 1-5 1 2 1-5 1-1 1-2 1-2 1-1 1 2 1-7 1 4 1 0 1 2 1 4 1 5 1-4 1 1 1 1 1 2 1 0 1 3 1-2 1-1 1 3 1-2 1 5 1-4 1 0 1 0 1 1 1-1 1 1 1 0 1 0 1 1 1 0 1 1 1-1 1 0 1 1 1 1 1-4 1 3 1 0 1-4 1 4 1-1 1 1 1-4 1 5 1-4 1 3 1 1 1-1 1-2 1 0 1-1 1 1 1 2 1 1 1 1 1-1 1 1 1-1 1 0 1-1 1 3 1 0 1-2 1 0 1 3 1-2 1-1 1 2 1-2 1-1 1 3 1-2 1 3 1-1 1 0 1 1 1 1 1 0 1 0 1-1 1 3 1-3 1 2 1-3 1 3 1-1 1 0 1-4 1 5 1-1 1-2 1 0 1 1 1-2 1 0 1-2 1 6 1-3 1 1 1-2 1 2 1 1 1-1 1 2 1-3 1 1 1-2 1 3 1 0 1-1 1 0 1 2 1 2 1-3 1 1 1-1 1 0 1 0 1 0 1-2 1 1 1-3 1 2 1 3 1-4 1 3 1 1 1-1 1 2 1 2 1-1 1-3 1 3 1-2 1-4 1 2 1 6 1-4 1-2 1 2 1-1 1 0 1-3 1 4 1 0 1-1 1 0 1-1 1 0 1 6 1-5 1-1 1 2 1-1 1 4 1-5 1 1 1 0 1-1 1 1 1 0 1 0 1-2 1 2 1-1 1 1 1 1 1-4 1-2 1 0 1 3 1-3 1 4 1-3 1 5 1-8 1 3 1 3 1-2 1 5 1-5 1 6 1-5 1 1 1 0 1 1 1-3 1 2 1 2 1-2 1 2 1 1 1-1 1 1 1-1 1-2 1 3 1 1 1-2 1-2 1 4 1-1 1 0 1 0 1 0 1 0 1-2 1 2 1-1 1-1 1 1 1 2 1-1 1 7 1-6 1-1 1-3 1 5 1-3 1 2 1 0 1 0 1-2 1-3 1 5 1 0 1-2 1 3 1-1 1 1 1 0 1 0 1-2 1 3 1-8 1 7 1-3 1 7 1-9 1 1 1 4 1-2 1 0 1 0 1-1 1 0 1 0 1 0 1-1 1-2 1 3 1-2 1 1 1 0 1-1 1 3 1 5 1-8 1 11 1-7 1-2 1 5 1 0 1-5 1 0 1-1 1 7 1-3 1 4 1-3 1 0 1-1 1 1 1-1 1-2 1 1 1-5 1 5 1-4 1 3 1 0 1-6 1 5 1 2 1 1 1 1 1 0 1 0 1 2 1-4 1 3 1 3 1-3 1 1 1-6 1 2 1 1 1 4 1-4 1 2 1-3 1 3 1 0 1-4 1 0 1-1 1 3 1-5 1 5 1 0 1 1 1 5 1-9 1 3 1 1 1 1 1 2 1-1 1-2 1 5 1-4 1 1 1-1 1 2 1-2 1 4 1-3 1 0 1 1 1-4 1 4 1-2 1 2 1-5 1 10 1-3 1-11 1 1 1 3 1 2 1 2 1-1 1-6 1 8 1 2 1-2 1-3 1 1 1-3 1 3 1 0 1 0 1-1 1-1 1 5 1-3 1 0 1 3 1-2 1-2 1 1 1 0 1 0 1-6 1 6 1 2 1-1 1-2 1 0 1 2 1-1 1-2 1 5 1-6 1-1 1 1 1 4 1-4 1 2 1 1 1-2 1 9 1-8 1 1 1 0 1 1 1 1 1-2 1 3 1-2 1-1 1 1 1 3 1-2 1 2 1-9 1 7 1-2 1 0 1 0 1 1 1-2 1 0 1-1 1 8 1-10 1 5 1 0 1-1 1 2 1-3 1 2 1 5 1-3 1-1 1-2 1 1 1 0 1-5 1 7 1 5 1-2 1 0 1-4 1-1 1 5 1 3 1-9 1-1 1 4 1-4 1-4 1 6 1-5 1-4 1 4 1 9 1-10 1 5 1-1 1 2 1 3 1-3 1 7 1-4 1-4 1 1 1-3 1 3 1 0 1 0 1 2 1-3 1 2 1-2 1 1 1 1 1-2 1-1 1 2 1-5 1 6 1 2 1-9 1 6 1-4 1 3 1 4 1-6 1-2 1 4 1 3 1-5 1 6 1-4 1 3 1-4 1 5 1-5 1 2 1 5 1-6 1 2 1-3 1-3 1 8 1-1 1-4 1 2 1 4 1-3 1-2 1-5 1 6 1-6 1 5 1-4 1 2 1 1 1 0 1 0 1-5 1 6 1 2 1-4 1 0 1 4 1-7 1 6 1-5 1 7 1 0 1-2 1-2 1 4 1 2 1-6 1 2 1 4 1-1 1-1 1-4 1 5 1-2 1-2 1 1 1-3 1 4 1 0 1 1 1-2 1 0 1 0 1-5 1 6 1 7 1-5 1-3 1 3 1 1 1-3 1 2 1-5 1 6 1 1 1-7 1-2 1 3 1 4 1-2 1-1 1 4 1-5 1-2 1 3 1-5 1 4 1 5 1-4 1-1 1 2 1 2 1-7 1 1 1 3 1 1 1 0 1 6 1-5 1 1 1-1 1 4 1-5 1 0 1-6 1 4 1 1 1 6 1-8 1 5 1 1 1-1 1-1 1-3 1 1 1 4 1 1 1-4 1-1 1 1 1-2 1 0 1 3 1-2 1 1 1 2 1-6 1 0 1-1 1 4 1-1 1 3 1 0 1-3 1 1 1 0 1 0 1-6 1 9 1-2 1 3 1-6 1 3 1 1 1 1 1-5 1 2 1 6 1-4 1-3 1 2 1 1 1-7 1 5 1 3 1-3 1 5 1-3 1-3 1 4 1 0 1-2 1-2 1 0 1 3 1-2 1-4 1 7 1 3 1-6 1 1 1-5 1 0 1 5 1 3 1-3 1-4 1 7 1 2 1-1 1-5 1 0 1 0 1 3 1 3 1-4 1 0 1 2V0"/><path transform="translate(207.20,554.55) scale(0.6692,1.0)" vector-effect="non-scaling-stroke" d="M0 0V-120l1 2 1 0 1 1 1 2 1-4 1 1 1 2 1 1 1 0 1 1 1-2 1 2 1-2 1 1 1 1 1 1 1 1 1 0 1-4 1 2 1 1 1 2 1 0 1-1 1 2 1-3 1-1 1 1 1 2 1 3 1-3 1-2 1 3 1 1 1 0 1 0 1 1 1-1 1 0 1 1 1-3 1 2 1 2 1-1 1 1 1 3 1-3 1 2 1-1 1 3 1-2 1 2 1-3 1 5 1-2 1 1 1-2 1 1 1 2 1-2 1 1 1 1 1-2 1 2 1-1 1-1 1 0 1-2 1 5 1-1 1 0 1 0 1 3 1-1 1 2 1-2 1 1 1-2 1 0 1 6 1-2 1-4 1 7 1 1 1-5 1-3 1 3 1 2 1-1 1-3 1 2 1-1 1 5 1-6 1 3 1 0 1-2 1 1 1 5 1-3 1-1 1 0 1 6 1-1 1-5 1 2 1-1 1 2 1 1 1-1 1 2 1-2 1 1 1-4 1 5 1-1 1 0 1 0 1 1 1 2 1-2 1-2 1 4 1-2 1 0 1 0 1-1 1-1 1 1 1 2 1-4 1 4 1-2 1 2 1 1 1-1 1 0 1 2 1-2 1 0 1 2 1 2 1-4 1-1 1-1 1 2 1 0 1 3 1-1 1-2 1 0 1 0 1 1 1-2 1 0 1 1 1 1 1-2 1 1 1 2 1 4 1-6 1 0 1 1 1 0 1 2 1-1 1 1 1 1 1-3 1 3 1-3 1 0 1 4 1-4 1 1 1 0 1-4 1 5 1 0 1-1 1 1 1 0 1 1 1 3 1-5 1 4 1-4 1-3 1 5 1-1 1 4 1-3 1 0 1-3 1 6 1-3 1 2 1-1 1 0 1-2 1 1 1 1 1-1 1 1 1-1 1 3 1-3 1-2 1 0 1 2 1 2 1 1 1-3 1-1 1 2 1 0 1 4 1-2 1-2 1-2 1 4 1-1 1-1 1 0 1 5 1-6 1 1 1 1 1 1 1-1 1 0 1 0 1-3 1 3 1 0 1-2 1-1 1 1 1 0 1 1 1-4 1 2 1-2 1 2 1-1 1-5 1-3 1-4 1-3 1-8 1-9 1-4 1-1 1 6 1 9 1 7 1 8 1 1 1 0 1 6 1 2 1 3 1-2 1 1 1-3 1 3 1-1 1 3 1-4 1 0 1 1 1-3 1-3 1 2 1-2 1 2 1 2 1 1 1 3 1-2 1 4 1-1 1 1 1 5 1-3 1-2 1 3 1 1 1-2 1 0 1-2 1 4 1-2 1 2 1 3 1-2 1 0 1 0 1 1 1-4 1 2 1-1 1 2 1 1 1 0 1-1 1 0 1-1 1 0 1 0 1 2 1-1 1 1 1 4 1-5 1 0 1 3 1-1 1 1 1 0 1-1 1 1 1 1 1-1 1 1 1-4 1 3 1 6 1-7 1 2 1 0 1-1 1 1 1-1 1 1 1 2 1-1 1-1 1 0 1 1 1-2 1-2 1-2 1 4 1-1 1-2 1 4 1-4 1 2 1 0 1 1 1 0 1 1 1 0 1 1 1 0 1 1 1-4 1 2 1 1 1-1 1 1 1 0 1 2 1-3 1-1 1 3 1-4 1 2 1-2 1 1 1-2 1 3 1-1 1 2 1 1 1 1 1 0 1 1 1 2 1-4 1 2 1 1 1-2 1 3 1-1 1 0 1-1 1 2 1-1 1 0 1-1 1-1 1 2 1 1 1-5 1 4 1 3 1-1 1-5 1 0 1 5 1-3 1 0 1-1 1 2 1-5 1 2 1-5 1 3 1-2 1-1 1-3 1-3 1-4 1-1 1-2 1-2 1 2 1 0 1 3 1 4 1 3 1-1 1 5 1 2 1 1 1 1 1 2 1-1 1 7 1-4 1-2 1 2 1 1 1 0 1-1 1-1 1 1 1 2 1-1 1 0 1 1 1 2 1 3 1-5 1 3 1-1 1 0 1-1 1-1 1 1 1 1 1-4 1 2 1 4 1-2 1-4 1 3 1 0 1 0 1-2 1 6 1-6 1-1 1 0 1 0 1-4 1 3 1-2 1 4 1 3 1 0 1-1 1 6 1-6 1 3 1-4 1 3 1 4 1-4 1 0 1-1 1 2 1-3 1 5 1-3 1 2 1-1 1 2 1-2 1 1 1-3 1 3 1-3 1 3 1 2 1 0 1 2 1 0 1-5 1 1 1-1 1 2 1-3 1 3 1 2 1-4 1 2 1-1 1 4 1 1 1-5 1-1 1 1 1 3 1-1 1 0 1 1 1 4 1-4 1-3 1 2 1 1 1-1 1 0 1 0 1-1 1 2 1-4 1 2 1 2 1 0 1 1 1 1 1-1 1 0 1-1 1 0 1 2 1-3 1-2 1 3 1-1 1-4 1 0 1 1 1-1 1-1 1 3 1 0 1 1 1 2 1-1 1 0 1 1 1 1 1 1 1-1 1 1 1-1 1 1 1 2 1 0 1-4 1 3 1 4 1-1 1-3 1-4 1 8 1-3 1 3 1-4 1-1 1 0 1 3 1-3 1 5 1 0 1-4 1 2 1 4 1-3 1 1 1-3 1 1 1 1 1 1 1 2 1-4 1-1 1 1 1-1 1 1 1 1 1-1 1 0 1 3 1-3 1 3 1-3 1 3 1 0 1-2 1-1 1 2 1-1 1 0 1-1 1-2 1 1 1 1 1 1 1 5 1-8 1 5 1-1 1 1 1-1 1 1 1-2 1 0 1-1 1 3 1 0 1 1 1-1 1 3 1 0 1 0 1-3 1 0 1 2 1-2 1 2 1 0 1 0 1-2 1 3 1-1 1-2 1-2 1 3 1 1 1-1 1 0 1 0 1-1 1 5 1-6 1-2 1 5 1-4 1 4 1-1 1 0 1 1 1 1 1-2 1-3 1 3 1 0 1 1 1 0 1 0 1-1 1 0 1 1 1 1 1-2 1 0 1 0 1 1 1-2 1 7 1-4 1-2 1-3 1 5 1-1 1-3 1 2 1-1 1 0 1 2 1 2 1-2 1-3 1 2 1 2 1 0 1-2 1-2 1 2 1 2 1-3 1 1 1 0 1 2 1-1 1 1 1 0 1 1 1 0 1 0 1 0 1-4 1-1 1 7 1-2 1-1 1 4 1-6 1 1 1-1 1 1 1-2 1 1 1-2 1 0 1 0 1 1 1 0 1 1 1 1 1 1 1 0 1-2 1 1 1 1 1 0 1-1 1 3 1 2 1-3 1-1 1 1 1-1 1 4 1 3 1-6 1 4 1-4 1-4 1 4 1-1 1-1 1 3 1-2 1 0 1 5 1-3 1 3 1-8 1 5 1-1 1-1 1 1 1 3 1 1 1-2 1-1 1 6 1-5 1-4 1 3 1 0 1 1 1-2 1 4 1-1 1 0 1-3 1 1 1-1 1-4 1 9 1-7 1 4 1 0 1 0 1 0 1-3 1 3 1 1 1-1 1-1 1-5 1 6 1-1 1-4 1 3 1-3 1 1 1-4 1 2 1 3 1-4 1 7 1-2 1 1 1 4 1-5 1-4 1 8 1-8 1 3 1-1 1 7 1-4 1 5 1 0 1-1 1 4 1-2 1-4 1 7 1-7 1-1 1-2 1 2 1 0 1-4 1-1 1 3 1-1 1 0 1 2 1-3 1 6 1-1 1 2 1-3 1 4 1 0 1 3 1-5 1 1 1 0 1-7 1 5 1 1 1-5 1 5 1-7 1 9 1-4 1 1 1 7 1-7 1-6 1 8 1-2 1 0 1 1 1-3 1 4 1-5 1 5 1 7 1-5 1-2 1-2 1 4 1-2 1 0 1-1 1 0 1 0 1 0 1 0 1-5 1 2 1 4 1 0 1 2 1-3 1 1 1 2 1 0 1-2 1-3 1 1 1 0 1 2 1 3 1-6 1 3 1-1 1 5 1-3 1-3 1 4 1-2 1 2 1-3 1 3 1-3 1 0 1-2 1-1 1 6 1 1 1-6 1 2 1 3 1 5 1-6 1 1 1-1 1-2 1 2 1 0 1-3 1-4 1 6 1-4 1 4 1 3 1-2 1 1 1-2 1-2 1 3 1-2 1 2 1-1 1-1 1 8 1-9 1 1 1 3 1-4 1 3 1-1 1 5 1-1 1-4 1-4 1 7 1-3 1-1 1 1 1 2 1 1 1-4 1-5 1 9 1-5 1 2 1 3 1 1 1-1 1-2 1 8 1-6 1-1 1 0 1 2 1-4 1 0 1-1 1 3 1-4 1 7 1 1 1 2 1-7 1-7 1 6 1-1 1 5 1 4 1-8 1 1 1 0 1-4 1 2 1-2 1 0 1 0 1 5 1-5 1 5 1 1 1-5 1-1 1 1 1-2 1 4 1-2 1 0 1-3 1 7 1-2 1 7 1-4 1-3 1 0 1 0 1 4 1-4 1-2 1-2 1 9 1-5 1 0 1 0 1-2 1 6 1-5 1 1 1 2 1-4 1 3 1-3 1 4 1-4 1 2 1 4 1-2 1-3 1 8 1-1 1-7 1 5 1-3 1 0 1-5 1 6 1-7 1 12 1-9 1 9 1-3 1-3 1 2 1-3 1 1 1-2 1 1 1-4 1 4 1-5 1 5 1-5 1 6 1-6 1 5 1 6 1-8 1 1 1-4 1 10 1-6 1-1 1-2 1 4 1-2 1 1 1-4 1 7 1-4 1-1 1 2 1 2 1-1 1 1 1-2 1 2 1-2 1 0 1 1 1 2 1 0 1 1 1-4 1 4 1-1 1-4 1 7 1-4 1 1 1-1 1-1 1 4 1-4 1 1 1-1 1 3 1-3 1 2 1-5 1-1 1 2 1-1 1 4 1 3 1-5 1-4 1 3 1 0 1 0 1 6 1-3 1 1 1 6 1-8 1 0 1 3 1 1 1-2 1-2 1 1 1 0 1 0 1 0 1-1 1-3 1 0 1 7 1-2 1-4 1-2 1 0 1 9 1-3 1-1 1 3 1-4 1-2 1 2 1 2 1-4 1 11 1-7 1-7 1 4 1 1 1 1 1 3 1 1 1 2 1-7 1 0 1 3 1-2 1-1 1 1 1-1 1 2 1-5 1 3 1 1 1-2 1 5 1-2 1-3 1-4 1 5 1-1 1 2 1-6 1 8 1-4 1 7 1 3 1-10 1 2 1 0 1-2 1 2 1-2 1 0 1-1 1 3 1 2 1 2 1 2 1-1 1 4 1-10 1-2 1 4 1-7 1 6 1-1 1 3 1-1 1-1 1 1 1-5 1-2 1 9 1-4 1 0 1-3 1 11 1-9 1 3 1-1 1-2V0"/><path transform="translate(202.08,560.48) scale(0.6692,1.0)" vector-effect="non-scaling-stroke" d="M0 0V-138l1-3 1 1 1 1 1 1 1 0 1 0 1 1 1-1 1 1 1-1 1 1 1-2 1 2 1 3 1-1 1 0 1-2 1 1 1 2 1-1 1 2 1 0 1-1 1-3 1 9 1-4 1 2 1-1 1-1 1 1 1 0 1 1 1 0 1-1 1 3 1-2 1 1 1 2 1 0 1-1 1 3 1-1 1 1 1 0 1 4 1-4 1 0 1 0 1 2 1 2 1-4 1 3 1-1 1 0 1 0 1 0 1-2 1 3 1 3 1-3 1 2 1-3 1 1 1-2 1 1 1 1 1 2 1-1 1 2 1 1 1 0 1 2 1 1 1-1 1 2 1 0 1-4 1 2 1 3 1 1 1-3 1 1 1-3 1 3 1-1 1 2 1 1 1 0 1 1 1-2 1 0 1 1 1-2 1 2 1 1 1-4 1 4 1-2 1 7 1-5 1 5 1-2 1-6 1 4 1-3 1 2 1 1 1 0 1 0 1 1 1-4 1 3 1 1 1 1 1-1 1 1 1-3 1 4 1-2 1-2 1 3 1 3 1 1 1-4 1 1 1-3 1 3 1 5 1-5 1 0 1 5 1-5 1-1 1 2 1 1 1 0 1-1 1 3 1-1 1-1 1-3 1 4 1-1 1 1 1-1 1 2 1-1 1 1 1-2 1 1 1-2 1 3 1-3 1 1 1 0 1 2 1-1 1-2 1 1 1 1 1-1 1 0 1 1 1-4 1 4 1 0 1-3 1 4 1-3 1 3 1-4 1 8 1-2 1-3 1 0 1-2 1 4 1-1 1-2 1 4 1 1 1-3 1-2 1 3 1 0 1 2 1 0 1 0 1-1 1 0 1-2 1 0 1 3 1-3 1 5 1-1 1-3 1 2 1 1 1-2 1 0 1 5 1-7 1 2 1 2 1 0 1-3 1 2 1-1 1 2 1 1 1-1 1-1 1 0 1 3 1 2 1-4 1 1 1 0 1-2 1 2 1-1 1 1 1 1 1-2 1 1 1-1 1 1 1-2 1 3 1-4 1 2 1 2 1 0 1-1 1-2 1 2 1-2 1 1 1 0 1-1 1 0 1 1 1-2 1 0 1-3 1-3 1-3 1-3 1-4 1-6 1-11 1 1 1-1 1 6 1 8 1 6 1 5 1 4 1 2 1 5 1-1 1 2 1-4 1 5 1-2 1 0 1 3 1 0 1-1 1 5 1-5 1 1 1-6 1 2 1 1 1 1 1-1 1 4 1 1 1 1 1 3 1-1 1 0 1-1 1 2 1-1 1 0 1 1 1-1 1 1 1 0 1 4 1-1 1-1 1 0 1 0 1-2 1 1 1 0 1 3 1-3 1 0 1 0 1 2 1-2 1-2 1 3 1-4 1 1 1 0 1-3 1 5 1 1 1-2 1 3 1 2 1-3 1 1 1 2 1-3 1 3 1 0 1 1 1 2 1-1 1-1 1-1 1 1 1 1 1-2 1-3 1 4 1 2 1-1 1 1 1-5 1 4 1-1 1-1 1 0 1 2 1 0 1-1 1 2 1-2 1 1 1-2 1 0 1 0 1 3 1 1 1-1 1-1 1 3 1 0 1-1 1 1 1-4 1 6 1-2 1-2 1 2 1 1 1-1 1 0 1 2 1-4 1-4 1 4 1-1 1 2 1 1 1 0 1 6 1-4 1-3 1 4 1-3 1 4 1 0 1 0 1 1 1 0 1-1 1-1 1 2 1-1 1 0 1 1 1-4 1 5 1-2 1 4 1 1 1-3 1 0 1 5 1-7 1 4 1 5 1-7 1 2 1-2 1 3 1-2 1 0 1 1 1 2 1-2 1-2 1 2 1-1 1-2 1 0 1 2 1 1 1-6 1-2 1-1 1 6 1 1 1 0 1 3 1 0 1 0 1-1 1-1 1 4 1-1 1-1 1 2 1 2 1-1 1-4 1 5 1-5 1 4 1 0 1-1 1 4 1-2 1 0 1-1 1 2 1-1 1 0 1-1 1 5 1-4 1-3 1 5 1 0 1 3 1-3 1 2 1-5 1 0 1 2 1-2 1 1 1 1 1 2 1-5 1 2 1-2 1 0 1 0 1 1 1-3 1 4 1 1 1-1 1 2 1-1 1 2 1 0 1 0 1 3 1-1 1 0 1 0 1-1 1 0 1 0 1-2 1 0 1 0 1 4 1-1 1-1 1 2 1-1 1 0 1-1 1 4 1 0 1 0 1-1 1 1 1-1 1 0 1 3 1-2 1 1 1-1 1-1 1-3 1 5 1 0 1 0 1 1 1 1 1-4 1 1 1 1 1 0 1-2 1 2 1-2 1 2 1 0 1 2 1-2 1 0 1-1 1-2 1 5 1-4 1 2 1 1 1-4 1 4 1 1 1-1 1 0 1 1 1-2 1 2 1-4 1 4 1-2 1-2 1 0 1-2 1-3 1-2 1-2 1 2 1-2 1-1 1 5 1-4 1 9 1 2 1-2 1 3 1-1 1-1 1 5 1-2 1-1 1 4 1-1 1 0 1 1 1 0 1-1 1-1 1 4 1 1 1-3 1 3 1-3 1 3 1 3 1-6 1 0 1 0 1 0 1 2 1 1 1 0 1 0 1 3 1-4 1 0 1 1 1-1 1 0 1 1 1 1 1-1 1 3 1-2 1-3 1 3 1 0 1-2 1 1 1 0 1 1 1 2 1-2 1 0 1 0 1 0 1 0 1-3 1 5 1 0 1-2 1 2 1-4 1 0 1 2 1 1 1-1 1 4 1-4 1 3 1-2 1-2 1 1 1 1 1 1 1 0 1 1 1-5 1 4 1-1 1 2 1-4 1 4 1-4 1 4 1-4 1 3 1-1 1 2 1-1 1 4 1-2 1-2 1-2 1 4 1-1 1-1 1 0 1 1 1 0 1-3 1 7 1-5 1 2 1-3 1 1 1-2 1 3 1-2 1-1 1 5 1-3 1 0 1 1 1 2 1-2 1-2 1 3 1-1 1 0 1-1 1 1 1 0 1 0 1 2 1 0 1-3 1 2 1-2 1 2 1-3 1-1 1 1 1 2 1-2 1 5 1 0 1-4 1 0 1 3 1 4 1-5 1 0 1-3 1 3 1 4 1-3 1 0 1 0 1-1 1-2 1 5 1-3 1-4 1 3 1 2 1-1 1 0 1 0 1 4 1-4 1-1 1 2 1-4 1 2 1 0 1 0 1-1 1 1 1-3 1 2 1 0 1 1 1-3 1 1 1 2 1 2 1-4 1 5 1 2 1-6 1 3 1 0 1 0 1 1 1 0 1-4 1-3 1 3 1 1 1 1 1 2 1-4 1 0 1 1 1-1 1 4 1-3 1 2 1 7 1-6 1-4 1 6 1-2 1 3 1-4 1 1 1-2 1 7 1-8 1 1 1 0 1 4 1-8 1 11 1-6 1-1 1 1 1 2 1-2 1-2 1-1 1 6 1-2 1-3 1 4 1-5 1 4 1-1 1 3 1 4 1-7 1 1 1-1 1 3 1-2 1 1 1-1 1-5 1 3 1 2 1-2 1 0 1 0 1-1 1-5 1 5 1 0 1 2 1-2 1 2 1 1 1-1 1 0 1 5 1-7 1 1 1 4 1 2 1-1 1 0 1-4 1-2 1 4 1-1 1-4 1 4 1-1 1 6 1-11 1 3 1-1 1 1 1 1 1 2 1-3 1-3 1 5 1 2 1 1 1-2 1 6 1-6 1-5 1 8 1-7 1 5 1-1 1 1 1 7 1-3 1-4 1 0 1 2 1-2 1 3 1-2 1-1 1 1 1 0 1 2 1-1 1 1 1-2 1 3 1-2 1 5 1-7 1-1 1 5 1-2 1 0 1 4 1-2 1-1 1-1 1 6 1-5 1 0 1-5 1 4 1-2 1 2 1 2 1 3 1-3 1-4 1-1 1 3 1 2 1-1 1 0 1 0 1-2 1-1 1 1 1 0 1 2 1-1 1-1 1 2 1 0 1-7 1 13 1-3 1-5 1-3 1 7 1-2 1 2 1 5 1-7 1 7 1-7 1-4 1 4 1 3 1-2 1 5 1-11 1 8 1-4 1 4 1 5 1-6 1-8 1 8 1-1 1 1 1-3 1 2 1-8 1 7 1-1 1 0 1 1 1-3 1 2 1 0 1 2 1 1 1-4 1 2 1 7 1-11 1 8 1-4 1 2 1-2 1-6 1 7 1 3 1-5 1 0 1-4 1 3 1-5 1 11 1-11 1 4 1 1 1-1 1 1 1 6 1-6 1-3 1 5 1-1 1-6 1 9 1-4 1-2 1 10 1-5 1-3 1 1 1 1 1 5 1-6 1-6 1 3 1 4 1-3 1 5 1 0 1-4 1-3 1-5 1 2 1 6 1-8 1 13 1-4 1-2 1 3 1 1 1-5 1 5 1-5 1 5 1 0 1-1 1-3 1-1 1 7 1-1 1-3 1 0 1-1 1-1 1 4 1-1 1 5 1-8 1 1 1 4 1-2 1 0 1-3 1 1 1 1 1 5 1-1 1-3 1-1 1 3 1 1 1-3 1-1 1-2 1 5 1-1 1-1 1-5 1 7 1-9 1 6 1 0 1-1 1-5 1 5 1-1 1 5 1-2 1-2 1 1 1-3 1 3 1-5 1 6 1 1 1-3 1 1 1-2 1 0 1 2 1-2 1-4 1 6 1-4 1 1 1-6 1 0 1 6 1 0 1 1 1 4 1-1 1-6 1 2 1 2 1 4 1-1 1 2 1-1 1-3 1-1 1 1 1-4 1 6 1 1 1-1 1-7 1 8 1-1 1 0 1-3 1 7 1-6 1 0 1 4 1-4 1-1 1 1 1 1 1 1 1-2 1 1 1-1 1 1 1-3 1 2 1 2 1-1 1 3 1-6 1 4 1 2 1 3 1-3 1-2 1 1 1-2 1 1 1-2 1 6 1-6 1 9 1-8 1 1 1 4 1-4 1-6 1 7 1-7 1 8 1-2 1 1 1-2 1 4 1-1 1-2 1 2 1 3 1-5 1-4 1 2 1 0 1 1 1 5 1-3 1-1 1-2 1 0 1 1 1 4 1-4 1 7 1-8 1 1 1-2 1 3 1-1 1-1 1 0 1 4 1-4 1 2 1 1 1-1 1-5 1 4 1 3 1-2 1-1 1-3 1 1 1 2 1-3 1 1 1 4 1 1 1-3 1-5 1 6 1 1 1-4 1 2 1 1 1 2 1-8 1 6 1 3 1-9 1 10 1-7 1 2 1 8 1-9 1 9 1 0 1-6 1 6 1-7 1-1 1 0 1-1 1 9 1-6 1-2 1 2 1-6 1 9 1-1 1-3 1-2 1 3 1-3 1 3 1-2 1-2 1 5 1-2V0"/><path transform="translate(196.95,566.40) scale(0.6692,1.0)" vector-effect="non-scaling-stroke" d="M0 0V-161l1 1 1 0 1 3 1-1 1-2 1 1 1-2 1 3 1 0 1 2 1 3 1 0 1-8 1 2 1 4 1 1 1-1 1 5 1-4 1 1 1-3 1 2 1 2 1 0 1-2 1 4 1 1 1 4 1-3 1-2 1 1 1 0 1 2 1-3 1 1 1 3 1 2 1-2 1 3 1-3 1 1 1 0 1-1 1 1 1 2 1 0 1-1 1-1 1 3 1 2 1-2 1 1 1-2 1 2 1 1 1 1 1-1 1 2 1-2 1 2 1 1 1-3 1 6 1-3 1 0 1 2 1 0 1-3 1 3 1 2 1 3 1-1 1-3 1 1 1 3 1-1 1 0 1 0 1 0 1 0 1 0 1 1 1 0 1 1 1 2 1-6 1 4 1-2 1 2 1-1 1 2 1 0 1 1 1 1 1-1 1-4 1 4 1 5 1-5 1-3 1 4 1-4 1 4 1 2 1 0 1-1 1 0 1 0 1 0 1-1 1 1 1-2 1 1 1 2 1 2 1 3 1-3 1 0 1 1 1-2 1 1 1-1 1 1 1 0 1-1 1 4 1-1 1-1 1 0 1 1 1-2 1 2 1 0 1-2 1 3 1-1 1 1 1-3 1 3 1-4 1 4 1 1 1-2 1 1 1-1 1-2 1 3 1 1 1 0 1 1 1-2 1-3 1 1 1 1 1 3 1-2 1 3 1 0 1-2 1 2 1-2 1 2 1-4 1 0 1 4 1 1 1 2 1 0 1 0 1-2 1-1 1 3 1-3 1 1 1-4 1 3 1 5 1-5 1 1 1 1 1 0 1-1 1 1 1 0 1 1 1 0 1-3 1 2 1 0 1 0 1 4 1-3 1 1 1-2 1 1 1 0 1-2 1 2 1-2 1 3 1 0 1-1 1-4 1 3 1 2 1 1 1-2 1 1 1 1 1 0 1-1 1-2 1 3 1-1 1 0 1 2 1-5 1 7 1-2 1-1 1 0 1-3 1 0 1 4 1 0 1 2 1 0 1 0 1-4 1 4 1 1 1-1 1-1 1-3 1 2 1 1 1 2 1-4 1 2 1-1 1 1 1-2 1-1 1 1 1 0 1-3 1-3 1-2 1-6 1-4 1-5 1-7 1-4 1 1 1 7 1 5 1 9 1 2 1 4 1 3 1 4 1-2 1 2 1 2 1 4 1-6 1 1 1-1 1 4 1-4 1 1 1-2 1-3 1-1 1 1 1 2 1 1 1 3 1 0 1 3 1 2 1 0 1 1 1 0 1 1 1 0 1 0 1 2 1-2 1 3 1-2 1 1 1-1 1 1 1-1 1 1 1 0 1 1 1 0 1 0 1-2 1 2 1-1 1 2 1-1 1-3 1 1 1 1 1-3 1 0 1 0 1 3 1-1 1 2 1 1 1 3 1-5 1 3 1 1 1-1 1 6 1-5 1 3 1 0 1 4 1-5 1 1 1 1 1 1 1 0 1 0 1-2 1 1 1 0 1 4 1-5 1-2 1 1 1 2 1 0 1 1 1-1 1 0 1 2 1-4 1 3 1-3 1 6 1 0 1-3 1-1 1 1 1-2 1 3 1 3 1-1 1-2 1 4 1 0 1-5 1 5 1-3 1 2 1 0 1-2 1 4 1 0 1-3 1-1 1 5 1-3 1 1 1 1 1 1 1-1 1 1 1 0 1 2 1 1 1-1 1 3 1-2 1-1 1-2 1 3 1-3 1 3 1 0 1-4 1 0 1 2 1 5 1-3 1 3 1-5 1 0 1 3 1-4 1 2 1 1 1-1 1 0 1-1 1 2 1-2 1 3 1-1 1-1 1-2 1 1 1 0 1-3 1-1 1-1 1-1 1-2 1-3 1-3 1-1 1 0 1 4 1 1 1 1 1 3 1 4 1-1 1 6 1 1 1-2 1 5 1-1 1 3 1-2 1 1 1 1 1 1 1 0 1 1 1-1 1 0 1 3 1-3 1-3 1 3 1 0 1 1 1 4 1-2 1-1 1 1 1 0 1-3 1 2 1 1 1-4 1 5 1-1 1 0 1 1 1-3 1 4 1-7 1 5 1-2 1-5 1 3 1 3 1-2 1 1 1-1 1 1 1-1 1 2 1 4 1-6 1 6 1 2 1-4 1 1 1 2 1-1 1 2 1-1 1 5 1-6 1 0 1 4 1-2 1-2 1 1 1 2 1 0 1 0 1-1 1 3 1-2 1 0 1 5 1-8 1 4 1 1 1 0 1 1 1-2 1-3 1 3 1 3 1-5 1 3 1 3 1-1 1-1 1 1 1 4 1-5 1 4 1-3 1 2 1-3 1 0 1 1 1 0 1-1 1 1 1-1 1-1 1 2 1 1 1-1 1 1 1 0 1 1 1 3 1-2 1-1 1-1 1 0 1 1 1 0 1-2 1-1 1 1 1-2 1 2 1-2 1-3 1-1 1-3 1-2 1 3 1 0 1 2 1 1 1-1 1 1 1 9 1-3 1 1 1 0 1-2 1 2 1 2 1 0 1 0 1 2 1 0 1-1 1 2 1-1 1 0 1-2 1 6 1-5 1 3 1-6 1 3 1 3 1 1 1 1 1-3 1-1 1 6 1-5 1 1 1-1 1 2 1-2 1-2 1 3 1 0 1 1 1 1 1-4 1 7 1-6 1 1 1 1 1-3 1 4 1 1 1-1 1-2 1 3 1-4 1 3 1-1 1 1 1 0 1-1 1-2 1 3 1-2 1 1 1 2 1 0 1 2 1-2 1 3 1-4 1 2 1 2 1 0 1-4 1 3 1-2 1 2 1 0 1 0 1 3 1-1 1-3 1-1 1 2 1 0 1 0 1-1 1 2 1-1 1 1 1-2 1 0 1 0 1 1 1-2 1-2 1 3 1 0 1 0 1 0 1 1 1-1 1 0 1 0 1 2 1 0 1-1 1-1 1 1 1 0 1 0 1 2 1-5 1-1 1 3 1-1 1 3 1 1 1-4 1 1 1 4 1-2 1-1 1-1 1 0 1 3 1-2 1-4 1 4 1 1 1-2 1 3 1 0 1 4 1-4 1-2 1 1 1 4 1-3 1-1 1-1 1 1 1-2 1-1 1 4 1-3 1 1 1 2 1-1 1-1 1 1 1-1 1 2 1 0 1-1 1 1 1-1 1 2 1-2 1 1 1 3 1-4 1 1 1 0 1 0 1 0 1 0 1 2 1 0 1-4 1-1 1 0 1-1 1-1 1 2 1 1 1-3 1 5 1-4 1 7 1-5 1-1 1-1 1 4 1-1 1 2 1 3 1 0 1-4 1-1 1-2 1 2 1 2 1 0 1-1 1-3 1-2 1 5 1 2 1 0 1-1 1 2 1-3 1 3 1-2 1 4 1-8 1 4 1 2 1-1 1-1 1 0 1 2 1-1 1 2 1-2 1 1 1-3 1 2 1-2 1 0 1-3 1 7 1-3 1-4 1 3 1 1 1 2 1-4 1 5 1-5 1 4 1-5 1 7 1-1 1-1 1-3 1-5 1 6 1-1 1 2 1 0 1-1 1 0 1-7 1 5 1-1 1 0 1-1 1 4 1-4 1 7 1-3 1 2 1-1 1 1 1 4 1-8 1 9 1-8 1 5 1-3 1-1 1 0 1 0 1 1 1 5 1-6 1 0 1 3 1-2 1 1 1 1 1 0 1-1 1-2 1-1 1 0 1 2 1 1 1 0 1 1 1-1 1-3 1 6 1-3 1-3 1 5 1-1 1 0 1 0 1-3 1 3 1 0 1-7 1 6 1-2 1 2 1 0 1-6 1 7 1-1 1 1 1 0 1 0 1-3 1 3 1 1 1-2 1 3 1-2 1 1 1 4 1-3 1-1 1-2 1 1 1 2 1-1 1-2 1 9 1-6 1-4 1 5 1-4 1 2 1-2 1 2 1 2 1-1 1 0 1-1 1-1 1-3 1 7 1 1 1-4 1 8 1-8 1 0 1 1 1-2 1 2 1-1 1 1 1 0 1-2 1 0 1 1 1-2 1-1 1 3 1-1 1 0 1 0 1 2 1-1 1-3 1 2 1 8 1-7 1 1 1 1 1-3 1 0 1 3 1-4 1 2 1 1 1 4 1-3 1-3 1 7 1-7 1 8 1-12 1-1 1 6 1 0 1-2 1 2 1 8 1-9 1 6 1-5 1 0 1-4 1-2 1 2 1 8 1-6 1 3 1-3 1 1 1 1 1 2 1-1 1-4 1 0 1 4 1 0 1-4 1-2 1 5 1-4 1 1 1 3 1 3 1-8 1 8 1-6 1 5 1-1 1-2 1 6 1-4 1 0 1-3 1 3 1-4 1 5 1-4 1-4 1 5 1 4 1-2 1-1 1 3 1-1 1-6 1 6 1-3 1 0 1 0 1 9 1-9 1 4 1-3 1 0 1 0 1 2 1-1 1 3 1 3 1-5 1-3 1-3 1 4 1 1 1-4 1 3 1 2 1-8 1 3 1 4 1-4 1 4 1 0 1-2 1 5 1-2 1 1 1 1 1-5 1 1 1-6 1 4 1 2 1-1 1-1 1 4 1-3 1 0 1 3 1-4 1 3 1-4 1 4 1 5 1-5 1 1 1 0 1-4 1 5 1-2 1 0 1 4 1-1 1-8 1-2 1 8 1-4 1 3 1-1 1-3 1 0 1 3 1-2 1 2 1 1 1-1 1 0 1-5 1 3 1 0 1 0 1 0 1 2 1-1 1 2 1-1 1 2 1 0 1-4 1 2 1 4 1-2 1 0 1-3 1 5 1-1 1-3 1 4 1-4 1-5 1 0 1 3 1 1 1-1 1 3 1-3 1-1 1 9 1-8 1 2 1-1 1 2 1-2 1 3 1 1 1 1 1-1 1 0 1-7 1 3 1 7 1-6 1 3 1-4 1 3 1 0 1 3 1 0 1 1 1-9 1 3 1 5 1-9 1 6 1-6 1 4 1 0 1 1 1 2 1 4 1-3 1-2 1-2 1 1 1-1 1 2 1-1 1 0 1 1 1 0 1-3 1 1 1 3 1-2 1 0 1 8 1-7 1-1 1 8 1-9 1 0 1 6 1-7 1 6 1 2 1-6 1 1 1 0 1-1 1 2 1-1 1-2 1 5 1-3 1-3 1 3 1 1 1-2 1 0 1-1 1 1 1 2 1-4 1 0 1 1 1 1 1 0 1 1 1-1 1 1 1 1 1-2 1 2 1-6 1 3 1 0 1 3 1-3 1 1 1-2 1 0 1-4 1 6 1 5 1-5 1 6 1-4 1-1 1 0 1 1 1-2 1-1 1 0 1 0 1 2 1-1 1-3 1 4 1-3 1 5 1-5 1 3 1-1 1-1 1-3 1 3 1 1 1-4 1 5 1 0V0"/><path transform="translate(191.82,572.32) scale(0.6692,1.0)" vector-effect="non-scaling-stroke" d="M0 0V-146l1 1 1-1 1-1 1-1 1 5 1-3 1 1 1-1 1 4 1-1 1 2 1-2 1 1 1-2 1 3 1 0 1 2 1-4 1 5 1-1 1 0 1 0 1 2 1-4 1 4 1 0 1 0 1 1 1 0 1 0 1 2 1 1 1-2 1 0 1 2 1 0 1 1 1 2 1-2 1 1 1-4 1 4 1-1 1 1 1-2 1 2 1 2 1 0 1 2 1-3 1 1 1 1 1 1 1-3 1 3 1-2 1-1 1 3 1 1 1 1 1-2 1 4 1-1 1 0 1 2 1-1 1-1 1 2 1-3 1 4 1 1 1 0 1-1 1 1 1 1 1-3 1 2 1 3 1-3 1 1 1-1 1 0 1 3 1-3 1 0 1 2 1 0 1 3 1-4 1 1 1 2 1 0 1 4 1-4 1 1 1 1 1-5 1 4 1 0 1-2 1 2 1 1 1-3 1 2 1 1 1-1 1 0 1 1 1 1 1 0 1 0 1 0 1 3 1-2 1 0 1 0 1 2 1-1 1 1 1-2 1 0 1 4 1-3 1 0 1-1 1 3 1-2 1-1 1-1 1-1 1 7 1-6 1 3 1 0 1-2 1 4 1 0 1-2 1-1 1 0 1-1 1 3 1 2 1-2 1 1 1 2 1 1 1-3 1 3 1-7 1 3 1 1 1-4 1 2 1-1 1 2 1 1 1-2 1 2 1-1 1 0 1 0 1 2 1 0 1-1 1 2 1 1 1-4 1 2 1 0 1 1 1-1 1 1 1-1 1 1 1 2 1-3 1 2 1-2 1 4 1-3 1 0 1 0 1 0 1 0 1-3 1 4 1-2 1-1 1 2 1 1 1-1 1 0 1 1 1-1 1 0 1 0 1 0 1 6 1-4 1 1 1 1 1-1 1 1 1 2 1-3 1 1 1-1 1-1 1 2 1-2 1 2 1 1 1 3 1-1 1-3 1 0 1 0 1 3 1-3 1-3 1 1 1 1 1 1 1-2 1 1 1 1 1 0 1-1 1 1 1 0 1-1 1 3 1-2 1-1 1 0 1 2 1-1 1-1 1 2 1-2 1-1 1-1 1 2 1-6 1 0 1-4 1-2 1-5 1-6 1-9 1-12 1-8 1 1 1 8 1 14 1 11 1 8 1-1 1 6 1 1 1 1 1 2 1 2 1-1 1 0 1 3 1-1 1 1 1 5 1-4 1-1 1-1 1-1 1-1 1-1 1 2 1 4 1 0 1 1 1 0 1 0 1 2 1 1 1 2 1-1 1-1 1 1 1 1 1 0 1 1 1-1 1-4 1 3 1 1 1 0 1 3 1-3 1-1 1-2 1 5 1 0 1-1 1-1 1 2 1-3 1 1 1 0 1-1 1 3 1-3 1-1 1 3 1 2 1-1 1 5 1-2 1-2 1 0 1 0 1 1 1 1 1-2 1 2 1-1 1 1 1-1 1 1 1 1 1-2 1 2 1 3 1-2 1 0 1 0 1 0 1-3 1 3 1-1 1 2 1-1 1 1 1-6 1 5 1-6 1 6 1-6 1 0 1 1 1 6 1-4 1 1 1-1 1 1 1 1 1 0 1 3 1 0 1 2 1-1 1 0 1 0 1 1 1-1 1 1 1 0 1 3 1-7 1 3 1-1 1 3 1 0 1-1 1 0 1 0 1 3 1-1 1 3 1-1 1 0 1-2 1 3 1 1 1 0 1 0 1-5 1 2 1 1 1 0 1 1 1 1 1 3 1 0 1-6 1 5 1-3 1 1 1-1 1 0 1 0 1 1 1-1 1-1 1 1 1-1 1 0 1 0 1-2 1 1 1 0 1 1 1-3 1-2 1-2 1 1 1-1 1-2 1-4 1-3 1 2 1 2 1 0 1 4 1 2 1 1 1-1 1 6 1 1 1-1 1 4 1-1 1 1 1 1 1 0 1 2 1-1 1-3 1 4 1-2 1 2 1-3 1 6 1-2 1-1 1 0 1 1 1-2 1-2 1 3 1 2 1 1 1 1 1-4 1 3 1-1 1-1 1 2 1-4 1 3 1 0 1 0 1 2 1-2 1 1 1 2 1-5 1-1 1 3 1-5 1 0 1 1 1 3 1 1 1 2 1 1 1 1 1-4 1 3 1 1 1-4 1 2 1 1 1 3 1-2 1-1 1 5 1-7 1 1 1 2 1-1 1 2 1 1 1-2 1 3 1 2 1-1 1 0 1-4 1 3 1 0 1 5 1-3 1 1 1-4 1 2 1-1 1 1 1 0 1-1 1 2 1-1 1 1 1 2 1-5 1 3 1-3 1 2 1 0 1 0 1-2 1 3 1-3 1 3 1 2 1-2 1 1 1 4 1-8 1 3 1 2 1 0 1-2 1 1 1-2 1 6 1-4 1 0 1 0 1 2 1 0 1-4 1 2 1-1 1 1 1-2 1 1 1-2 1 0 1 0 1-3 1 1 1 1 1 1 1 2 1 2 1 0 1 1 1 2 1-3 1-2 1 3 1 0 1 6 1-3 1-1 1 2 1-4 1 2 1-3 1 4 1-5 1 3 1 0 1 3 1-1 1 1 1-4 1 3 1 1 1 1 1 0 1-1 1-2 1 1 1-2 1 3 1 5 1-2 1-4 1 4 1-1 1 0 1 1 1-2 1 1 1 0 1 1 1-1 1 0 1-1 1-2 1 3 1 1 1-2 1 1 1 1 1 0 1-3 1 3 1 1 1-1 1-1 1-1 1 1 1 2 1-2 1 1 1-1 1 0 1 1 1-3 1 3 1 1 1-3 1 0 1 3 1-2 1 0 1-1 1 0 1 4 1-1 1 1 1 0 1-1 1 1 1-1 1 2 1-2 1 2 1-3 1 1 1 0 1 0 1-2 1 3 1-1 1-1 1 1 1 1 1-2 1 2 1-1 1 2 1-1 1 1 1-1 1-1 1-2 1 3 1 0 1 0 1 3 1-3 1-2 1 2 1 0 1 0 1-2 1 1 1 0 1 0 1 2 1 0 1-1 1 5 1-4 1 0 1 0 1 2 1-3 1 3 1-2 1 0 1 0 1 2 1-2 1 5 1-8 1 0 1 2 1 0 1 1 1-2 1 2 1 1 1 1 1-2 1 4 1-4 1 1 1-1 1-3 1 0 1 6 1-1 1-1 1-3 1 2 1-1 1 1 1-1 1 0 1 1 1 0 1-1 1 0 1 1 1-1 1-2 1 0 1-3 1 1 1-1 1 3 1-1 1-2 1 6 1 0 1 3 1-2 1-2 1 0 1 0 1 2 1-3 1 5 1-1 1 0 1-1 1 5 1-5 1-1 1 3 1-5 1 5 1-1 1 7 1-9 1 5 1-5 1 2 1-1 1 0 1-3 1 6 1 1 1 0 1-3 1-1 1-1 1-3 1 5 1-2 1 0 1 3 1 1 1 0 1-2 1 2 1-2 1 1 1-1 1-1 1 2 1 2 1-8 1 5 1-1 1-2 1 2 1 2 1-4 1 0 1-2 1 9 1-2 1-2 1-6 1 5 1-5 1 4 1 1 1-3 1-2 1 3 1-1 1 4 1-5 1-1 1 7 1-6 1 5 1-2 1 3 1 4 1-3 1 0 1 0 1 1 1 1 1-1 1 2 1-5 1 3 1 2 1-3 1-3 1 3 1 1 1 0 1-1 1 7 1-8 1 4 1-3 1 6 1-2 1-5 1 2 1 5 1-1 1-4 1-4 1 6 1-2 1 1 1-2 1 4 1 0 1-5 1-2 1 8 1-8 1 2 1 3 1-6 1 7 1-4 1 3 1-1 1-1 1 0 1-3 1 1 1 4 1-1 1 2 1-1 1-2 1 1 1 0 1 4 1-1 1 1 1 4 1-3 1-5 1 2 1-3 1 4 1-1 1-5 1 5 1-2 1 2 1 0 1 3 1-6 1 1 1 2 1 6 1-8 1-1 1 3 1-3 1 5 1 2 1 0 1-4 1 3 1-3 1 7 1-9 1 2 1-1 1-3 1 4 1-1 1-2 1 4 1-2 1 3 1-8 1 7 1-7 1 6 1-6 1 1 1 5 1 0 1 1 1 2 1-1 1 0 1 1 1-3 1-1 1 0 1 0 1 0 1 0 1 0 1 3 1-2 1 3 1-4 1-1 1 5 1-5 1 4 1-3 1-2 1 3 1-2 1 2 1 7 1-10 1 5 1 0 1 0 1-3 1 5 1 1 1-6 1 3 1-5 1 2 1 0 1 2 1-6 1 4 1 4 1-4 1 1 1-1 1 2 1-1 1-1 1 8 1-11 1 4 1-5 1 4 1 0 1 0 1 0 1-1 1 1 1 0 1 0 1 0 1 4 1-5 1 2 1-3 1 2 1 7 1-9 1 1 1-4 1 4 1 1 1-1 1 2 1-5 1-1 1 6 1 0 1-5 1 4 1 2 1-4 1-3 1 10 1-2 1-4 1-1 1 3 1-1 1-1 1 4 1 1 1 4 1-13 1 6 1-1 1 4 1-2 1-2 1-1 1 5 1-5 1 2 1 1 1-2 1-2 1 5 1-2 1-4 1 3 1 0 1 1 1-1 1 0 1 0 1 3 1 6 1-8 1 0 1 1 1 1 1-1 1 1 1-3 1-1 1 4 1-2 1 1 1 2 1-2 1-4 1 2 1-1 1-5 1 6 1 3 1-10 1 6 1-6 1 6 1 3 1-5 1 3 1-3 1 3 1 0 1-5 1 2 1-1 1 7 1 1 1 0 1-2 1-3 1 3 1-6 1 14 1-7 1-1 1 1 1-7 1 0 1 8 1 2 1-4 1 2 1-3 1-1 1 7 1-2 1 0 1-5 1 2 1 7 1-8 1 2 1-2 1-2 1-2 1 3 1 7 1-4 1 3 1-2 1-2 1-2 1-1 1-1 1 4 1 1 1-4 1 4 1-1 1-1 1 3 1-5 1 5 1-3 1-2 1 2 1 2 1-3 1 1 1 0 1 3 1-3 1-1 1 1 1 1 1 3 1-5 1 5 1-2 1-1 1-2 1 4 1-4 1 3 1-2 1 0 1 2 1 0 1-4 1-2 1 0 1 3 1 1 1-3 1 3 1-1 1 0 1 0 1 3 1 0 1 0 1 0 1 3 1-10 1 3 1 3 1 1 1 6 1-6 1-1 1-3 1 5 1-8 1 4 1 5 1-8 1 1 1 3 1 2 1 1 1-4 1 9 1-14 1 7 1-1 1 0 1-1 1-1 1 0 1 3 1-1 1 0 1 2 1-2 1 0 1-6 1 7 1 0 1-2 1 1 1 7 1-6 1-1 1-4 1 2 1 2 1 4 1-4 1 0 1-1 1 2 1-3 1 3 1 0 1 0 1-3 1 7 1-3 1-3V0"/><path transform="translate(186.70,578.25) scale(0.6692,1.0)" vector-effect="non-scaling-stroke" d="M0 0V-162l1 3 1-4 1 4 1 3 1-2 1 4 1-4 1 2 1-2 1 1 1 3 1-2 1 1 1 6 1-6 1 2 1 1 1 1 1 0 1 0 1 1 1 1 1 4 1-4 1-2 1 3 1 0 1 1 1-1 1-2 1 5 1 2 1-2 1 0 1 2 1-4 1 4 1-1 1 0 1 3 1 0 1 1 1 4 1-4 1 5 1-6 1 2 1-1 1 3 1-2 1 1 1 0 1 1 1 1 1 0 1 0 1-3 1 4 1 0 1 0 1 5 1-4 1 1 1 0 1-1 1 1 1 0 1 0 1 2 1-1 1 2 1 0 1-1 1-1 1 4 1 0 1 1 1-1 1 5 1-4 1 2 1-1 1 1 1 1 1-1 1-2 1 4 1-2 1 0 1 0 1 0 1 0 1 5 1-3 1-1 1 0 1-1 1 2 1 0 1 0 1 0 1-1 1 2 1 0 1-1 1 4 1-2 1 3 1-1 1-4 1 7 1-3 1 4 1-6 1 4 1 0 1-2 1-1 1 1 1 0 1 1 1 3 1-3 1 1 1-1 1 2 1 0 1-4 1 2 1 1 1 0 1 4 1-3 1 0 1 1 1-2 1-3 1 3 1 1 1 0 1 1 1-2 1 0 1 0 1 1 1-1 1 2 1 1 1-1 1 1 1-2 1 6 1-4 1 0 1-1 1 0 1 2 1-2 1 0 1 2 1 0 1-1 1 3 1-4 1 1 1 3 1-5 1 3 1 1 1 1 1 4 1-4 1-4 1 6 1-1 1-1 1 0 1 0 1-1 1 1 1 0 1 0 1 2 1 3 1-4 1 3 1-3 1 1 1 0 1 0 1 0 1-2 1 6 1-4 1 4 1-3 1 0 1 1 1-3 1 2 1 1 1-5 1 4 1 2 1-4 1 2 1 0 1 0 1 1 1 1 1 1 1 2 1-3 1-4 1 4 1-1 1 1 1-1 1 0 1 2 1 0 1 2 1-1 1-1 1 1 1-4 1 1 1 2 1-2 1 2 1 1 1 3 1-6 1 3 1-2 1 0 1 5 1-4 1-1 1-2 1 2 1-3 1 4 1-2 1 1 1-2 1-1 1-1 1-6 1-2 1-5 1-6 1-6 1 4 1 8 1 3 1 4 1 2 1 5 1 5 1-2 1 3 1 0 1 1 1 0 1 1 1 3 1-1 1-1 1 1 1-1 1-3 1 0 1-2 1-1 1 0 1 5 1-1 1 2 1 2 1-2 1 5 1 0 1 2 1-4 1 1 1 5 1-2 1 4 1-4 1 2 1 0 1-2 1 0 1 0 1 1 1-2 1-1 1 7 1-4 1 1 1 0 1 1 1-2 1 1 1 0 1 1 1-5 1 4 1-1 1 1 1 0 1-2 1 4 1-3 1 3 1 1 1 0 1 2 1 0 1 2 1-5 1 0 1 2 1 3 1-3 1 0 1 1 1-1 1 3 1-2 1-1 1 3 1-1 1 3 1-1 1-7 1 5 1-1 1 0 1 0 1 0 1-1 1 0 1-1 1 0 1-2 1 1 1-3 1 0 1 7 1-2 1 2 1 1 1-1 1 1 1-1 1 4 1-1 1 0 1-2 1 6 1-4 1 0 1-3 1-1 1 0 1 0 1-1 1-1 1-1 1 3 1 4 1-6 1 2 1 6 1-2 1 2 1 1 1 0 1 1 1 0 1 2 1 1 1-4 1 0 1 5 1 2 1 0 1-3 1 2 1 2 1 1 1-2 1 4 1-3 1-1 1 0 1-2 1 2 1 1 1-2 1-2 1 2 1-3 1 4 1 0 1-1 1 1 1-1 1 3 1-2 1-4 1-2 1 4 1-2 1-1 1-1 1-1 1-1 1 4 1 2 1-2 1 7 1-4 1 1 1 0 1 3 1 2 1-1 1-4 1 2 1 2 1-1 1 0 1 2 1 0 1-1 1 0 1 0 1 4 1-2 1 1 1-4 1 2 1 3 1-2 1 5 1-3 1-2 1 0 1 1 1 1 1 2 1-1 1-2 1 2 1-1 1 0 1 0 1-1 1 2 1-3 1 1 1 1 1 1 1-4 1 7 1-3 1-4 1 4 1 3 1-1 1-2 1 1 1 0 1 1 1 1 1 0 1-2 1 3 1-3 1 1 1 2 1 0 1 0 1 0 1 1 1-1 1-1 1 2 1 0 1 0 1 0 1-1 1-1 1 2 1 2 1-1 1 0 1-1 1 6 1-4 1 2 1-1 1 0 1-2 1 2 1 1 1-1 1 0 1 3 1-5 1 4 1-2 1-1 1 1 1 1 1-2 1-1 1 4 1-3 1 3 1-2 1 2 1 0 1 1 1-1 1 0 1 4 1-3 1-2 1 2 1 0 1-1 1-2 1 3 1-1 1-1 1 0 1 0 1 1 1-1 1-4 1 1 1-2 1-1 1-1 1-2 1 1 1-4 1 4 1 3 1 1 1 3 1 6 1-2 1-1 1 3 1-2 1 0 1 1 1 0 1 1 1 1 1 0 1 0 1 0 1 2 1-3 1 2 1 0 1 1 1-1 1 2 1-1 1 0 1-1 1 4 1 0 1-3 1 0 1-3 1 5 1-4 1 7 1-5 1 1 1 2 1-2 1-1 1-1 1 2 1-2 1 4 1-1 1 0 1-2 1 3 1 2 1-5 1 2 1-2 1 3 1-2 1 1 1 0 1 0 1 1 1 1 1-1 1-2 1 0 1 1 1 1 1 4 1-8 1 1 1 1 1 2 1 0 1-1 1-1 1 2 1-1 1 1 1 3 1-2 1 1 1-1 1 1 1-4 1 3 1-3 1 4 1-1 1 1 1-1 1 1 1 3 1-4 1 4 1-7 1 3 1 2 1-4 1 3 1-1 1 2 1-2 1 0 1 0 1 0 1 0 1 1 1-2 1-1 1 3 1-3 1 2 1 1 1 0 1 1 1-2 1-2 1 6 1-5 1 4 1-2 1 1 1 0 1 4 1-4 1 0 1 0 1 0 1 0 1-3 1 3 1 5 1-2 1-1 1-2 1 5 1-1 1-5 1 2 1-5 1 6 1 2 1-4 1 1 1-2 1 0 1 1 1 0 1-2 1 0 1-2 1 3 1 3 1-2 1-3 1 4 1-4 1 2 1 0 1 0 1 2 1-2 1 2 1 1 1-2 1-3 1 3 1-1 1 0 1 1 1-4 1 3 1-2 1-2 1 0 1-1 1 3 1 2 1-5 1 3 1-1 1 4 1-4 1 0 1 2 1-1 1 3 1-2 1 2 1-4 1 0 1 4 1-3 1 4 1-1 1 0 1 0 1 0 1 1 1 0 1-4 1 2 1 2 1 2 1-2 1-1 1-4 1 7 1 3 1-6 1 2 1 0 1-1 1-2 1 3 1 0 1 0 1 1 1 0 1-2 1 1 1 3 1-3 1 1 1 1 1 1 1 2 1-4 1-4 1 10 1-6 1-7 1 4 1 1 1 2 1-2 1 1 1 1 1-1 1-4 1 5 1 1 1-2 1-1 1-2 1-1 1-3 1-2 1 0 1 5 1 0 1-1 1 5 1-4 1 3 1 1 1 1 1-1 1 3 1-2 1-1 1 2 1 4 1-2 1-5 1 3 1-1 1-5 1 5 1 3 1 1 1-8 1 3 1 4 1-2 1-3 1 2 1 0 1 0 1-1 1-2 1 2 1 2 1 1 1-2 1 1 1-3 1 5 1-2 1 6 1-6 1-4 1-1 1 6 1-2 1 1 1 0 1-2 1 2 1-2 1 1 1-4 1-2 1 8 1 5 1-12 1 6 1 3 1-2 1-1 1 0 1 0 1 1 1 3 1 1 1-4 1-1 1 0 1-3 1 2 1-2 1 2 1 3 1-1 1 6 1-5 1 0 1-6 1 5 1 7 1-8 1-1 1-4 1 9 1-1 1-2 1 0 1-1 1 0 1 1 1 1 1-7 1 4 1 4 1-2 1 0 1 0 1-3 1 8 1-3 1-1 1-2 1 2 1-2 1-1 1 5 1-6 1 1 1-1 1 2 1 6 1-4 1 0 1-4 1 5 1-4 1-1 1 0 1 6 1-7 1 2 1 2 1 0 1 1 1-1 1 4 1 2 1-3 1-2 1-5 1 9 1-2 1-2 1 2 1-1 1 1 1-3 1 2 1 7 1-9 1 1 1-1 1 6 1-7 1 2 1-1 1 0 1 1 1-1 1 1 1-1 1-1 1 4 1-1 1 5 1-4 1-3 1 6 1-7 1 5 1-3 1 0 1 6 1-5 1 0 1-6 1 4 1-5 1 9 1-2 1-1 1-1 1 1 1-4 1 3 1-3 1 6 1-3 1 1 1-2 1 3 1-3 1-1 1 0 1 0 1 1 1-5 1 6 1 2 1 3 1 1 1-5 1 0 1 0 1 2 1-2 1 4 1-3 1-2 1 1 1 3 1-2 1 2 1 0 1 1 1-6 1-3 1 5 1-1 1 3 1-1 1-2 1 1 1 1 1-1 1-3 1 2 1 3 1-2 1 2 1-7 1 6 1-2 1 3 1-1 1 4 1-3 1-1 1 2 1-1 1-2 1 6 1-10 1 4 1 2 1-2 1 1 1-1 1 1 1-3 1 3 1 0 1 0 1-2 1 5 1-1 1-4 1 0 1 3 1-3 1 3 1-3 1 0 1-3 1 10 1-4 1-1 1-6 1 6 1 2 1 0 1 0 1-1 1-3 1 1 1 1 1 1 1-5 1 5 1 2 1-3 1 2 1-4 1 3 1-1 1 1 1-2 1 1 1 2 1-7 1 8 1-8 1 6 1-1 1-3 1 6 1-7 1 5 1 1 1-2 1 4 1-9 1 2 1 1 1 6 1-5 1 4 1-5 1 5 1-3 1 0 1-2 1 4 1-5 1 4 1-2 1 2 1 5 1-3 1-3 1 0 1 2 1-1 1 0 1-2 1 1 1 1 1 1 1-2 1-5 1 6 1 1 1-3 1 0 1 6 1-6 1 0 1 1 1-3 1 3 1 0 1-2 1 3 1-1 1 0 1 1 1-1 1-5 1 9 1 1 1-3 1 3 1-4 1 0 1 2 1-3 1 7 1-8 1 2 1-3 1 2 1 1 1-1 1-1 1 1 1-4 1 5 1-4 1 4 1-5 1 3 1 6 1-5 1 0 1 4 1 1 1-4 1-6 1 8 1 3 1-5 1 1 1-7 1 10 1-5 1 1 1 0 1 1 1 6 1-7 1 2 1 0 1 0 1 0 1 1 1-2 1-2 1-2 1-1 1 1 1 2 1-1 1 3 1 1 1-2 1 3 1-3 1 1 1 0 1-7 1 6 1-3 1 2 1-1 1 2 1 0V0"/><path transform="translate(181.57,584.17) scale(0.6692,1.0)" vector-effect="non-scaling-stroke" d="M0 0V-171l1-3 1 3 1-5 1 4 1 2 1 3 1 0 1-1 1 0 1 3 1-1 1 0 1 1 1-1 1 2 1-3 1 2 1 1 1 0 1 1 1 1 1 0 1 2 1 1 1 0 1-3 1 4 1-1 1-3 1 3 1 0 1 0 1 6 1-2 1-3 1 3 1-1 1 1 1 0 1 0 1 1 1 0 1 0 1 1 1 1 1 1 1 3 1-3 1 2 1 0 1 2 1-3 1 3 1 0 1 2 1 0 1 0 1 3 1-6 1 2 1 1 1 0 1 5 1-2 1-2 1 0 1 2 1-1 1 2 1 6 1-8 1 4 1-4 1 4 1 1 1 0 1 5 1-4 1-1 1 4 1-3 1 0 1 2 1 0 1 1 1-2 1 3 1-1 1 2 1-5 1 2 1 1 1 0 1-1 1 1 1 0 1-2 1 3 1-2 1 2 1 0 1 3 1-4 1 4 1 0 1 0 1 1 1 0 1 0 1-1 1 2 1-1 1-1 1 2 1-1 1-2 1 6 1-3 1 1 1 1 1-1 1-1 1 3 1 0 1-2 1-3 1 3 1-1 1 1 1 0 1 0 1 0 1 1 1-1 1 1 1-1 1 3 1-1 1 2 1-1 1 1 1-1 1 1 1 2 1 0 1-3 1 1 1 0 1-1 1 1 1 0 1 3 1-2 1 4 1-4 1-1 1 3 1 1 1-4 1 0 1 4 1-4 1 1 1 2 1-2 1 0 1 1 1-1 1-2 1 3 1 1 1 1 1 0 1-1 1 1 1-3 1 2 1 0 1 1 1 0 1 4 1-5 1 1 1 0 1 0 1-1 1 1 1 1 1-1 1-1 1 2 1-3 1 2 1-3 1 4 1 1 1-1 1 4 1-4 1 1 1 0 1-1 1 4 1-3 1 0 1-2 1 2 1 2 1 5 1-5 1-2 1 3 1 0 1-2 1 1 1 1 1 1 1 1 1-1 1-2 1 0 1 1 1 1 1-2 1 4 1-3 1-3 1 3 1 1 1 0 1 0 1-1 1 1 1 2 1-1 1 0 1 0 1-3 1 3 1 1 1-1 1-1 1 3 1-3 1-4 1-2 1-2 1-4 1-1 1-7 1-5 1-6 1-5 1-1 1 7 1 6 1 8 1 6 1 2 1 5 1 3 1-5 1 6 1 0 1 1 1 1 1-1 1 1 1-1 1 2 1-2 1-4 1 2 1-8 1 0 1 2 1 3 1 2 1 3 1 0 1 2 1 3 1 0 1 2 1 3 1-1 1-1 1-3 1 3 1 1 1-1 1-2 1 3 1 0 1 0 1 1 1 1 1-1 1 1 1-2 1 3 1 1 1-3 1-2 1 2 1-3 1 1 1-1 1 0 1-1 1 0 1 7 1-2 1 1 1 3 1-1 1-2 1 4 1-1 1 1 1-1 1 1 1 0 1 1 1-1 1-1 1 3 1 0 1 1 1 0 1-4 1 3 1 1 1-2 1 1 1 1 1 2 1-2 1 1 1-2 1 2 1-2 1 1 1 2 1-2 1-2 1 0 1-2 1-1 1 4 1 0 1 1 1 1 1 0 1-3 1 5 1-4 1 4 1 0 1 1 1 1 1 0 1 0 1-1 1-3 1 6 1 1 1-6 1 2 1 0 1-1 1 0 1-2 1 4 1 3 1-6 1 5 1 1 1 1 1-2 1 4 1-1 1 0 1 3 1-7 1 6 1-4 1 0 1 1 1 0 1 5 1-8 1 0 1 3 1 3 1 0 1-3 1 5 1 1 1-4 1-2 1 4 1-2 1 0 1-1 1 1 1-2 1 2 1-3 1 0 1-2 1-1 1-1 1-2 1 0 1-5 1-6 1 2 1-5 1 5 1-1 1 6 1 1 1 3 1 3 1 3 1 1 1 0 1 7 1-3 1 2 1-1 1 1 1-1 1-1 1 3 1 2 1-2 1 2 1 0 1 2 1 0 1 0 1-2 1 0 1 5 1-3 1-2 1 3 1-4 1 6 1-4 1 1 1 0 1 1 1 1 1-1 1 1 1-1 1 2 1-2 1 3 1-2 1-2 1-1 1 0 1-2 1 1 1 0 1 0 1 1 1 1 1 1 1 0 1 1 1 1 1 1 1-1 1 1 1 0 1 1 1-3 1 4 1 2 1-3 1 2 1-2 1 2 1 2 1-4 1 1 1 2 1-3 1 3 1 0 1 0 1 1 1 0 1 4 1-4 1 5 1-5 1 0 1 2 1-2 1 2 1-5 1 2 1 5 1-5 1 1 1 1 1 0 1 0 1 0 1 3 1-3 1 2 1 0 1 1 1-5 1 5 1-1 1 3 1-2 1-2 1 1 1 0 1 0 1 0 1-4 1 4 1 1 1-3 1 2 1 3 1-3 1 1 1-3 1 0 1-3 1 4 1-2 1 2 1-7 1-2 1-2 1-4 1-5 1 1 1 1 1 2 1 5 1 1 1 7 1 1 1 1 1-1 1 2 1 6 1-2 1 1 1-1 1 2 1 1 1-1 1 1 1 0 1-1 1 1 1-1 1 1 1 2 1 0 1-2 1 2 1-1 1-3 1 4 1 1 1-5 1 0 1 4 1-1 1 6 1-3 1-3 1 6 1-3 1 2 1-6 1 3 1-4 1 3 1-1 1 1 1 5 1-3 1 1 1 0 1-3 1 4 1 0 1 0 1-2 1 1 1 0 1-2 1-1 1 2 1 0 1 2 1-1 1-3 1-1 1 3 1 1 1 1 1 1 1-2 1 1 1-2 1 2 1 1 1 0 1-1 1 0 1-2 1 1 1 1 1-3 1 2 1 1 1 0 1 3 1-6 1 3 1 1 1-3 1 1 1 1 1-3 1 4 1-3 1 0 1-1 1 3 1 2 1 1 1-2 1 1 1 0 1 1 1 1 1-3 1 1 1 2 1-1 1-4 1 5 1 0 1-4 1 4 1-2 1-1 1 1 1-1 1 0 1 1 1 1 1-2 1 2 1 4 1-5 1 3 1-4 1 1 1 0 1 0 1-1 1 0 1-1 1 3 1-2 1-1 1 1 1 2 1 1 1-2 1 0 1 0 1 0 1 5 1-2 1-2 1-2 1 0 1 2 1 0 1 0 1 1 1-3 1 4 1-3 1 2 1-2 1 4 1-3 1-1 1 1 1 0 1-2 1 3 1-5 1 3 1 0 1-3 1 3 1-3 1 1 1-5 1 2 1-4 1 5 1 1 1-1 1 2 1 0 1-1 1 3 1 1 1 0 1 6 1-11 1 4 1 2 1-1 1-1 1 1 1 3 1 0 1-5 1 4 1-3 1 2 1 3 1 1 1-2 1-2 1 1 1 1 1-4 1 2 1 4 1-3 1 0 1-2 1 5 1-3 1-1 1-1 1 3 1 0 1-5 1 3 1 0 1 0 1 1 1-3 1 6 1-3 1 0 1 0 1 0 1-1 1 5 1-3 1 6 1-9 1 4 1-2 1-1 1 1 1-2 1 1 1 0 1 2 1-7 1 3 1 1 1-1 1-3 1 3 1 0 1-1 1-1 1 3 1 0 1 1 1 0 1 4 1-9 1 6 1 4 1-9 1 8 1-4 1 2 1-4 1 1 1 4 1 0 1-2 1 2 1-1 1-1 1 0 1 1 1-2 1 3 1-5 1 6 1-1 1-3 1 2 1-1 1-3 1 9 1-4 1-3 1 3 1 1 1-5 1 3 1 3 1-2 1-2 1 3 1-2 1 2 1-7 1 6 1 1 1 1 1-4 1 4 1-3 1-4 1 4 1 0 1-4 1 5 1-3 1-3 1 3 1 4 1 0 1-3 1 1 1 2 1-1 1-1 1-2 1 0 1 4 1-1 1 1 1 0 1-3 1-1 1 4 1-1 1 2 1-1 1-2 1 4 1-9 1 4 1 1 1 4 1 2 1-5 1 2 1-2 1 3 1 4 1-9 1 6 1 0 1-1 1-3 1 1 1-1 1 1 1-1 1 0 1-1 1 1 1 0 1-1 1 3 1 1 1-3 1 3 1 0 1 2 1 1 1-7 1 1 1 2 1-1 1-3 1-1 1 6 1-2 1 0 1 1 1 0 1 1 1-5 1 4 1-5 1 5 1 2 1-2 1 2 1-3 1-1 1-3 1 5 1-2 1 2 1-3 1 3 1-1 1 2 1-3 1 4 1-2 1-2 1 4 1 0 1 2 1-4 1-4 1 2 1 0 1 0 1 4 1-6 1 4 1 1 1-8 1 6 1 3 1-1 1 2 1-8 1 4 1-1 1 2 1 0 1-1 1-1 1 2 1 0 1-5 1 4 1-4 1 3 1-1 1 0 1 3 1-3 1 2 1-3 1 1 1-1 1 1 1 2 1-5 1 4 1-2 1 0 1-1 1 4 1 0 1 1 1 2 1-1 1-3 1 2 1 4 1-4 1-2 1 1 1-1 1 3 1-2 1-4 1 2 1 6 1-4 1-4 1 8 1-1 1-4 1 3 1 0 1-2 1 0 1 2 1-4 1 10 1-14 1 5 1 6 1-4 1 0 1-2 1 1 1 0 1 0 1 1 1 0 1-1 1-1 1-2 1 6 1 0 1-5 1 1 1 1 1 8 1-5 1-1 1-4 1 3 1 5 1-6 1 2 1-5 1 7 1-3 1-4 1 0 1 4 1-2 1 0 1 5 1-4 1-1 1 0 1 0 1-4 1 1 1 4 1-1 1 0 1 5 1-4 1 0 1 3 1-3 1-1 1 1 1-3 1 2 1 0 1 0 1 2 1 1 1-1 1 1 1-5 1 6 1-2 1-4 1-3 1 2 1 6 1-2 1 1 1-2 1 9 1-14 1 9 1-8 1 9 1-1 1 5 1-9 1 3 1 1 1-1 1-7 1 8 1-2 1 2 1 5 1-7 1-4 1 3 1 2 1 0 1 0 1-1 1-4 1-2 1 7 1-2 1 1 1 2 1-7 1 0 1 10 1-2 1-1 1-9 1 7 1 4 1-9 1 3 1 6 1 0 1-7 1 4 1-3 1 1 1 5 1-5 1-2 1-2 1 5 1 0 1-6 1 6 1-1 1-1 1 9 1-7 1-1 1 2 1-1 1-2 1-5 1 5 1 2 1 2 1-2 1-4 1 3 1 1 1-1 1 3 1-3 1 3 1-3 1 1 1-4 1 2 1 2 1-2 1 3 1-4 1 0 1 2 1-3 1 3 1 6 1-6 1 1 1-6 1 9 1-2 1 1 1 1 1-3 1 3 1-3 1 2 1-2 1-7 1 7 1 1 1-3 1 2 1 3 1-10 1 5 1 1 1-1 1 1 1 3 1 1 1-5 1 0 1 1 1 1 1 3 1-1 1-8 1 8 1-4V0"/><path transform="translate(176.45,590.10) scale(0.6692,1.0)" vector-effect="non-scaling-stroke" d="M0 0V-153l1 1 1 3 1 1 1-5 1 2 1 1 1-1 1 2 1 1 1 0 1 2 1-1 1 1 1 0 1-1 1 0 1 3 1-1 1 1 1 0 1 0 1 0 1 1 1 2 1 1 1-1 1-1 1 4 1-2 1 4 1-2 1-2 1 5 1-2 1 1 1 1 1 0 1-2 1 1 1 2 1 0 1 1 1-2 1 0 1 3 1 1 1-2 1 1 1 1 1 3 1-2 1-2 1 1 1 3 1-2 1-1 1 4 1-3 1 4 1 0 1-1 1 2 1-2 1 1 1 0 1 1 1-1 1 0 1 3 1-1 1-1 1 4 1-3 1 3 1-1 1-1 1 1 1-3 1 3 1 3 1 1 1-3 1 3 1-1 1-3 1 4 1 1 1-2 1-1 1 2 1 0 1 2 1-1 1 1 1 2 1-3 1 1 1 3 1-6 1 4 1 0 1 0 1-2 1 1 1 4 1-4 1 2 1 3 1-7 1 6 1 1 1-4 1 1 1 1 1 1 1-1 1 0 1 3 1-1 1 0 1 0 1 0 1 1 1-1 1-1 1 4 1-3 1 1 1 0 1 0 1 3 1-3 1 0 1 0 1 5 1-3 1 0 1 0 1-1 1 1 1-1 1-3 1 1 1 4 1-3 1 2 1-3 1 1 1 3 1-1 1 1 1-1 1-2 1 2 1 0 1 0 1-3 1 6 1-2 1 2 1-1 1-3 1 2 1 2 1-5 1 1 1 3 1 0 1-1 1 0 1-1 1 2 1 0 1 1 1-2 1 2 1-3 1 4 1-1 1 0 1 1 1-1 1 4 1-4 1-1 1-1 1 2 1 1 1 1 1-2 1 2 1 0 1-4 1 4 1-1 1 3 1-2 1 0 1 2 1-2 1 0 1-3 1 4 1 1 1-1 1 1 1 1 1-2 1-1 1 1 1-1 1 0 1-2 1 0 1 4 1-2 1 5 1-1 1-2 1 0 1-1 1 1 1 1 1-3 1 4 1 2 1-1 1-2 1-1 1-1 1 6 1-4 1 1 1-1 1 2 1-1 1 0 1 2 1 1 1-5 1 0 1 0 1 2 1-1 1-3 1 0 1 2 1-6 1-1 1-5 1-2 1-5 1-3 1-1 1 6 1 4 1 6 1 2 1 2 1 2 1 5 1-2 1 3 1 0 1-1 1 0 1 0 1 4 1 0 1-5 1 1 1-5 1 0 1-1 1-3 1 2 1 4 1 3 1-3 1 3 1 1 1 6 1-2 1-1 1 2 1 0 1 2 1-2 1 1 1 3 1-1 1-1 1-1 1 1 1 0 1-1 1 3 1-2 1 0 1 1 1 0 1 3 1-3 1 0 1-2 1 0 1 0 1 0 1-3 1 0 1-1 1 2 1 4 1 1 1 0 1 1 1 0 1 1 1-2 1 2 1-1 1 0 1 2 1 1 1-5 1 4 1 2 1-1 1-2 1 2 1 1 1-2 1 1 1 1 1 0 1 0 1 1 1-2 1 3 1-4 1 5 1-2 1 0 1-3 1 3 1 0 1 0 1 4 1-6 1 2 1 0 1 5 1-5 1 2 1-1 1 1 1-2 1 2 1-1 1 2 1 0 1 0 1-2 1 1 1 1 1-2 1-3 1 0 1 0 1-2 1 0 1 1 1 3 1-3 1 4 1 2 1-1 1 2 1 0 1 1 1 4 1-4 1 4 1-3 1 0 1-1 1 2 1-1 1 1 1 1 1 2 1-2 1-1 1 0 1 0 1 2 1-1 1-3 1 3 1 0 1 1 1-1 1 0 1 0 1-1 1-1 1 3 1-2 1 1 1-2 1-2 1 0 1-2 1-1 1-4 1-3 1 1 1-6 1 2 1 0 1 1 1 1 1 5 1 2 1 3 1 2 1 1 1-2 1 3 1 2 1-1 1 4 1-3 1 3 1 2 1-1 1 1 1-1 1 1 1-4 1 3 1 3 1 0 1-1 1-1 1-2 1 4 1-1 1 5 1-6 1 6 1-4 1-2 1 3 1 3 1-4 1 1 1-2 1 1 1 2 1-4 1 2 1 0 1 2 1-4 1 0 1-3 1-1 1 2 1 0 1 3 1 0 1 0 1 1 1 0 1 3 1 3 1-5 1 3 1-1 1 0 1 2 1-1 1-2 1 3 1-1 1 2 1-4 1 2 1-2 1 3 1-1 1 1 1-2 1 3 1-1 1 2 1-1 1 5 1-3 1-2 1 1 1-1 1-1 1 2 1 0 1 1 1-1 1 1 1-3 1 5 1-1 1 1 1-2 1-2 1 4 1-2 1 1 1-1 1 4 1-1 1-2 1 1 1-1 1 2 1-3 1 1 1 0 1 1 1 0 1 1 1 0 1-4 1 0 1 3 1-1 1 0 1-2 1 1 1 0 1 1 1-4 1-3 1 2 1-1 1-5 1 0 1-3 1-5 1 1 1 0 1 3 1 1 1 1 1 6 1 4 1-2 1 3 1 2 1 3 1-2 1 2 1 0 1 4 1-4 1 3 1 1 1-3 1 2 1-3 1 2 1 1 1-1 1 3 1-3 1 1 1 1 1 2 1-2 1 2 1-4 1-1 1 4 1-1 1 3 1-2 1 0 1-1 1 2 1-2 1 0 1 1 1-2 1 5 1-3 1-1 1 1 1 0 1 0 1-1 1 3 1-3 1 2 1 0 1 1 1-2 1-2 1 2 1 2 1-4 1 1 1 2 1 0 1 1 1-2 1 2 1 1 1-1 1 1 1 2 1-3 1 0 1 0 1 0 1 0 1 3 1-2 1-3 1 0 1-1 1 8 1-4 1-1 1 1 1-3 1 3 1 0 1 0 1 0 1-2 1 3 1-1 1 0 1 1 1 1 1-4 1 1 1 1 1 1 1 0 1 1 1-1 1-3 1 2 1 1 1 2 1-2 1 1 1 1 1-2 1-1 1-1 1 1 1 0 1 0 1 1 1 1 1 0 1-3 1 2 1 5 1-4 1-4 1 3 1 1 1 3 1-1 1-4 1-1 1 3 1-1 1 3 1-3 1-2 1 3 1-1 1 1 1-1 1 0 1 1 1 5 1-6 1-2 1 2 1 1 1 4 1-4 1 1 1 5 1-6 1 1 1 1 1-2 1 1 1-3 1 3 1-4 1 5 1-2 1-2 1 1 1 1 1 1 1-2 1 1 1 4 1-6 1-2 1 2 1-4 1 3 1-2 1-2 1 1 1 0 1 0 1 3 1 5 1-1 1-3 1 0 1-1 1 3 1 3 1 0 1-6 1-2 1 2 1 0 1 5 1-1 1 1 1-2 1 2 1 0 1 1 1-2 1 1 1-1 1 1 1-1 1 2 1 1 1-4 1 2 1-4 1 3 1 1 1 3 1-2 1 0 1-1 1 0 1 5 1-4 1 1 1-1 1-2 1 0 1 2 1-2 1 3 1-3 1 1 1 5 1-8 1 3 1 1 1 3 1-1 1-9 1 5 1-1 1 1 1-3 1 11 1-10 1 0 1-2 1 8 1 3 1-5 1-2 1-1 1 1 1 0 1 1 1 0 1 1 1 1 1 0 1 2 1 1 1-7 1-3 1 6 1 1 1-5 1 3 1 0 1 3 1-4 1 1 1-2 1 2 1 3 1-1 1-7 1 6 1-1 1 1 1 0 1 2 1-1 1-3 1-3 1 0 1 3 1 1 1 1 1 4 1 0 1-7 1 3 1 0 1 7 1-5 1 1 1 2 1-5 1 4 1-1 1 1 1-4 1 9 1-8 1-4 1 2 1 6 1-4 1 0 1-1 1 1 1 0 1-3 1 2 1 6 1-10 1 0 1 3 1 3 1 0 1 1 1-2 1 2 1-2 1 2 1-2 1-5 1 7 1-2 1 2 1-2 1 3 1-1 1-2 1 2 1 0 1 0 1-1 1-1 1-3 1 5 1-1 1 0 1 2 1 0 1-2 1 0 1-2 1 5 1 0 1 1 1-4 1-2 1 4 1-5 1 3 1 0 1 2 1-3 1-5 1 5 1 0 1-1 1 2 1 2 1 5 1 1 1-7 1 4 1-7 1 2 1 2 1 0 1-2 1 1 1-2 1-1 1 2 1 0 1 1 1 0 1-7 1 8 1-4 1 5 1 3 1-4 1-2 1 0 1-1 1 1 1 2 1-8 1 8 1-3 1 2 1-2 1 2 1-3 1 2 1-3 1 4 1-1 1 0 1 3 1-8 1 0 1 3 1 4 1 1 1-5 1 1 1 1 1 0 1 2 1 1 1 0 1-2 1-4 1 3 1 1 1 3 1-1 1-1 1-2 1 2 1-1 1-1 1 3 1-3 1-4 1 2 1 5 1-3 1-4 1-3 1 5 1-1 1 3 1-1 1 3 1-5 1 2 1 4 1 0 1-9 1 6 1-2 1 3 1-1 1 0 1-5 1 6 1 0 1 0 1 2 1 1 1-1 1 2 1-1 1-4 1-1 1 6 1-10 1 5 1 1 1 0 1 2 1-2 1-2 1 0 1 2 1 6 1-5 1 2 1-3 1-1 1 1 1 0 1 1 1 1 1-2 1-7 1 7 1-3 1 3 1-1 1 0 1 0 1-1 1 0 1 3 1 6 1-9 1 4 1 0 1-6 1 1 1 1 1 1 1-4 1 5 1 2 1-3 1 4 1-8 1 3 1 1 1-5 1 1 1-1 1 4 1 5 1-4 1-1 1 4 1-6 1 4 1 2 1-2 1 0 1-1 1 1 1-1 1 4 1-7 1 5 1-8 1 6 1 3 1-3 1 0 1 4 1-6 1 2 1 1 1-2 1-1 1-1 1 3 1 0 1 0 1-5 1 11 1-6 1 2 1 1 1-2 1 0 1-5 1 8 1-3 1 0 1-1 1 1 1 4 1-7 1 2 1 2 1 1 1 0 1-2 1-1 1-3 1 2 1-2 1 5 1-5 1 8 1-9 1 7 1 4 1-4 1 0 1 2 1-4 1 1 1 7 1-6 1 0 1-1 1-4 1 3 1-2 1 5 1-1 1-2 1-1 1-1 1 2 1 0 1 1 1-6 1 5 1-1 1 5 1-4 1-5 1-1 1 8 1-2 1-4 1 8 1-1 1-2 1 0 1-6 1 7 1 5 1-6 1-1 1-3 1 4 1-2 1 0 1 3 1-1 1-1 1 0 1 0 1-1 1 0 1 6 1-6 1-2 1 3 1 1 1-4 1 8 1-5 1-3 1 3 1 1 1 2 1-3 1 0 1 2 1 1 1-4 1-1 1-1 1 0 1 2 1 3 1-1 1 0 1-2 1 2 1-3 1 2 1-3 1 6 1-5 1 3 1 1 1 2 1 3 1-7 1-2 1 0 1 5 1-4V0"/><path transform="translate(171.32,596.02) scale(0.6692,1.0)" vector-effect="non-scaling-stroke" d="M0 0V-166l1 0 1 1 1 0 1 1 1 0 1 1 1 1 1-1 1 0 1 1 1 3 1-2 1 2 1-3 1 0 1 1 1 0 1 1 1 0 1 1 1 0 1 1 1 0 1 0 1-1 1-1 1 3 1 2 1 5 1-5 1 4 1-4 1 0 1 3 1 0 1 0 1-1 1 2 1-1 1 1 1 3 1-5 1 2 1 0 1 3 1 0 1 0 1 1 1 0 1 2 1-1 1 0 1 0 1 1 1-1 1 1 1 1 1-1 1 1 1 0 1 1 1 0 1 0 1 2 1-1 1 0 1 2 1 0 1 0 1 2 1-1 1 0 1-1 1 1 1 2 1-2 1 4 1-1 1-4 1 5 1-3 1 4 1 3 1-4 1 0 1-1 1 2 1 3 1-3 1 2 1-1 1 4 1-4 1 0 1 5 1-5 1 1 1 4 1-4 1-1 1-1 1 2 1-1 1 3 1 0 1-2 1 0 1 0 1 2 1-3 1 0 1 2 1 3 1-6 1 5 1-1 1 1 1 1 1-2 1 2 1-1 1-1 1 2 1 3 1 0 1-2 1-4 1 1 1 4 1-2 1 1 1 5 1-7 1 3 1 2 1-3 1-1 1 1 1 1 1-2 1 4 1-1 1 0 1 4 1 0 1-5 1-1 1 3 1 0 1-1 1-2 1 2 1 1 1 2 1-2 1 2 1-3 1 4 1-3 1-2 1 5 1-6 1 4 1 3 1-1 1-1 1-4 1 3 1 0 1 1 1-1 1 1 1-4 1 4 1 1 1-3 1 0 1 3 1-1 1-2 1 2 1 0 1 1 1 3 1-3 1-3 1 3 1 0 1 1 1-4 1 4 1 0 1 0 1 1 1 1 1-6 1 4 1 0 1-3 1 5 1-2 1 1 1 0 1-1 1 3 1-3 1 3 1-2 1-1 1 4 1-1 1 3 1-2 1-1 1-2 1 0 1 2 1 3 1-6 1 1 1 2 1-1 1 2 1-1 1 2 1-3 1 1 1 0 1 1 1-3 1 1 1-1 1 6 1-4 1 2 1-1 1-2 1 1 1-1 1-1 1-2 1 3 1-3 1 0 1-1 1-3 1-3 1-6 1-2 1-6 1-11 1-9 1-2 1 1 1 7 1 11 1 8 1 10 1-2 1 7 1 0 1 4 1-1 1 1 1-2 1 1 1-3 1 2 1 1 1-1 1-4 1-3 1-5 1-5 1-2 1-2 1 5 1 8 1 4 1 3 1 4 1 0 1 3 1 0 1 4 1-2 1 2 1-2 1 5 1 1 1 1 1-2 1 0 1 0 1-3 1 5 1 1 1-3 1 3 1-2 1-1 1 1 1 1 1 1 1-3 1-3 1 2 1 0 1-2 1 1 1 0 1 0 1 7 1-3 1 0 1 3 1 1 1-3 1 3 1 0 1 0 1 1 1 0 1 2 1 0 1 1 1-2 1-1 1 2 1 0 1 1 1-4 1 4 1-3 1 0 1 3 1-1 1 1 1 1 1-2 1 0 1 3 1-4 1 0 1 1 1-1 1 1 1-2 1 1 1-3 1 4 1 6 1-3 1-3 1 5 1-2 1-2 1 1 1 2 1-3 1 3 1-4 1 3 1-1 1 0 1 0 1-3 1-2 1 6 1-3 1-5 1-1 1 5 1 3 1 1 1 1 1 1 1 0 1 1 1 1 1 2 1-1 1-1 1 4 1-3 1 2 1 1 1-2 1 2 1 0 1-1 1 2 1-1 1-1 1 0 1 0 1 0 1 0 1 0 1 0 1 1 1-2 1 1 1 0 1 1 1-4 1 2 1-1 1 0 1-3 1-1 1 1 1-5 1 1 1-5 1-1 1-6 1-5 1-2 1 2 1 6 1-2 1 7 1 2 1 6 1 4 1 3 1 0 1 2 1 1 1 2 1-2 1 0 1 3 1-3 1 5 1 1 1-1 1-3 1 3 1 1 1 1 1-2 1 0 1 0 1 2 1-1 1 1 1 3 1-5 1 2 1 0 1 2 1-1 1 1 1-2 1 3 1-2 1 2 1-3 1 4 1-4 1 1 1-1 1-1 1-1 1-1 1-1 1-1 1 2 1-1 1 0 1 4 1 0 1-1 1 5 1 1 1-3 1 2 1 2 1 1 1-4 1 3 1 2 1-2 1 3 1 2 1-4 1 1 1 3 1 0 1-3 1 1 1-3 1 4 1-1 1 1 1-1 1-1 1 4 1-4 1 2 1 1 1-2 1 4 1-4 1 0 1 0 1 2 1 2 1-1 1 0 1-1 1 2 1-1 1 1 1-1 1 1 1-2 1-2 1 4 1 0 1 0 1-1 1 0 1 4 1 0 1-2 1 3 1 0 1-4 1 3 1 0 1-3 1 2 1-1 1 1 1 4 1-6 1 1 1 0 1-3 1-1 1 1 1-4 1-1 1-3 1-5 1 2 1-3 1 3 1 1 1 2 1 0 1 5 1 3 1-3 1 4 1 2 1 2 1 3 1-3 1 0 1-2 1 4 1 2 1 1 1-3 1 1 1 0 1 0 1 2 1 3 1-3 1 0 1-1 1 6 1-4 1 3 1-5 1 3 1 0 1 0 1-2 1 3 1-1 1 1 1-1 1 0 1 1 1-1 1-1 1 0 1 2 1-2 1 2 1 3 1-4 1 0 1 3 1-2 1 1 1 0 1 1 1-1 1-3 1 3 1 1 1 5 1-1 1-4 1-1 1-1 1 2 1-2 1 5 1-1 1-2 1 0 1 4 1-4 1 2 1-1 1-1 1 0 1 1 1-1 1-1 1 1 1 1 1 1 1 0 1-2 1 2 1-2 1 3 1-2 1 0 1 1 1 1 1-1 1 2 1-4 1 2 1 0 1 1 1-4 1 4 1 0 1 2 1-5 1 1 1 0 1 3 1-3 1-2 1 1 1 2 1 0 1 2 1-2 1 1 1 1 1 4 1-7 1 2 1 0 1-2 1 4 1 0 1-1 1 0 1 1 1-1 1 1 1-1 1 0 1 1 1-1 1-2 1-1 1 4 1-5 1 4 1-4 1 5 1 0 1 0 1 1 1-1 1-3 1 0 1 5 1-3 1 0 1 1 1 2 1-2 1-3 1 4 1-2 1 0 1 1 1 0 1 1 1-4 1 4 1 0 1 0 1-6 1 4 1 1 1-1 1 0 1-3 1 2 1 0 1 0 1 1 1-4 1 1 1-6 1 2 1 2 1-1 1 1 1 2 1-1 1 2 1 2 1 1 1-1 1-1 1-1 1 4 1-1 1 0 1 0 1 0 1-5 1 4 1 2 1-3 1 1 1 2 1 2 1 1 1-3 1 1 1 1 1-3 1 7 1-5 1 0 1 5 1-5 1 1 1-2 1 0 1 1 1 2 1-4 1 0 1 2 1-2 1 5 1-3 1-5 1 9 1-1 1-1 1 0 1-2 1 3 1-5 1 2 1 0 1 5 1-4 1 2 1-3 1 1 1 2 1-2 1 1 1-4 1 0 1-2 1 5 1 1 1 1 1-2 1 1 1-4 1 4 1-4 1-5 1 4 1 2 1-2 1 0 1 1 1-4 1 8 1-7 1 11 1-6 1 1 1 5 1-6 1 3 1 2 1 0 1-2 1 1 1-1 1 0 1-3 1 4 1-7 1 7 1 1 1-4 1 0 1 0 1 6 1-3 1 4 1-8 1 7 1-6 1 3 1-3 1 2 1-3 1 2 1 2 1 2 1-1 1 4 1-7 1 1 1-1 1-4 1 5 1-1 1-6 1 3 1 3 1-1 1-2 1 1 1 4 1 1 1-3 1-1 1-2 1 5 1-2 1 0 1 3 1-1 1-1 1 1 1-4 1 1 1 11 1-13 1 6 1-2 1-1 1 3 1-1 1 0 1 0 1 2 1 0 1-3 1 4 1-7 1 5 1-1 1-4 1 5 1 6 1 1 1-8 1 0 1 0 1-1 1-1 1 1 1 1 1-5 1 6 1-2 1 1 1 1 1 4 1-10 1 13 1-8 1 0 1 4 1-1 1-5 1 2 1 4 1-4 1 2 1-1 1 4 1-4 1-5 1 6 1-2 1 1 1 1 1-4 1 1 1 5 1 1 1-4 1-7 1 6 1-2 1 1 1 7 1-8 1 6 1-2 1-1 1 3 1 0 1-4 1-3 1 1 1 5 1-2 1 1 1-1 1-5 1 6 1 0 1-2 1 2 1 7 1-9 1 0 1-1 1 8 1-7 1-1 1 8 1-9 1-3 1 6 1-6 1 8 1 0 1-3 1-5 1 11 1-5 1 1 1 1 1-1 1-3 1 0 1 2 1-1 1 0 1-2 1 2 1 2 1-3 1-1 1 1 1-1 1-4 1 9 1-5 1 1 1 1 1-1 1-6 1 11 1-9 1 2 1 4 1 1 1-7 1 9 1-2 1 0 1 2 1-8 1 9 1-6 1 6 1-4 1-1 1 1 1-3 1 5 1 1 1-1 1-8 1 13 1-5 1-8 1 5 1 3 1-2 1-2 1 6 1 2 1-9 1 4 1 0 1-3 1-4 1 6 1 1 1-3 1 0 1 2 1 2 1-1 1 2 1-5 1 4 1 1 1-2 1 3 1 0 1-2 1-2 1 0 1 3 1-6 1-2 1 5 1-1 1 6 1-3 1 0 1-2 1 1 1 2 1-6 1-3 1 0 1 5 1-1 1 1 1 5 1-10 1 7 1-2 1-2 1 1 1 6 1 0 1-5 1 8 1-8 1 3 1-3 1-6 1 6 1 2 1 0 1 3 1-4 1 1 1-1 1-5 1 8 1-2 1 1 1 4 1-5 1-2 1 1 1 1 1-3 1 2 1 0 1 1 1-3 1 1 1 8 1-8 1 3 1 1 1-3 1-1 1-3 1 6 1-7 1 6 1-4 1 6 1-2 1 0 1-2 1-1 1 1 1 2 1-3 1 6 1-5 1 5 1-3 1 1 1-4 1-1 1-2 1 6 1 0 1-2 1 0 1 2 1-1 1-5 1 5 1-1 1 4 1-3 1 0 1 0 1 1 1 2 1-2 1 3 1-8 1 5 1 0 1 0 1-6 1 5 1 0 1 3 1-3 1 4 1-1 1-4 1 2 1-1 1 4 1-1 1 2 1-4 1-1 1 0 1 1 1-3 1 4 1-4 1 1 1 4 1-3 1 8 1-8 1 1 1-1 1 3 1 0 1-2 1 0 1-6 1 6 1 4 1-6 1-2 1 3 1-4 1 1 1 6 1-2 1 0 1 0 1 1 1-3 1 7 1-6 1-1 1 1 1 2 1-4 1 5 1-3 1 1 1-1 1 3 1 2 1-3 1-1 1-4 1 3 1 4 1 0 1 0V0"/><path transform="translate(166.19,601.94) scale(0.6692,1.0)" vector-effect="non-scaling-stroke" d="M0 0V-182l1 0 1 1 1-1 1 1 1-1 1 3 1 5 1-3 1 2 1-4 1 2 1 1 1-3 1 3 1 2 1 2 1-2 1 2 1 0 1 5 1-5 1 1 1-3 1 3 1 0 1 4 1-1 1 1 1 0 1 0 1 1 1 1 1 1 1 2 1-2 1 1 1 0 1 1 1 0 1-2 1 3 1 5 1-4 1 1 1-3 1 4 1-1 1 0 1 1 1-1 1 6 1-5 1 3 1-1 1 4 1-1 1-3 1 7 1-3 1-1 1-1 1 0 1 5 1-1 1-1 1 4 1-3 1 2 1-4 1 4 1 0 1 1 1-1 1 5 1-3 1 1 1-1 1 2 1-1 1-2 1 2 1 1 1-1 1 1 1 2 1-1 1-1 1 0 1 4 1-5 1 7 1-2 1 0 1-1 1 1 1 1 1-4 1 3 1-2 1 2 1 0 1-3 1 5 1 2 1 0 1-2 1-1 1 3 1-3 1 1 1 6 1-2 1-6 1 3 1 2 1-1 1 0 1 3 1-1 1 0 1-3 1 5 1 1 1-2 1 1 1-2 1 2 1-1 1 2 1-1 1 1 1-1 1 0 1 0 1 0 1-3 1 2 1 0 1 3 1 3 1-4 1-3 1 3 1 0 1-1 1 1 1 0 1-1 1 2 1-1 1 3 1-4 1 1 1 0 1-3 1 3 1 0 1 3 1-2 1-3 1 2 1 2 1-2 1 2 1 0 1 3 1-2 1 1 1-1 1-2 1 5 1 1 1 0 1-6 1 5 1-1 1 0 1 0 1-2 1-2 1 3 1 0 1 0 1 1 1 0 1-2 1 2 1 0 1 5 1-6 1 0 1 0 1-1 1 3 1-3 1 7 1-5 1-1 1 3 1 2 1-2 1-2 1 1 1 4 1-6 1 4 1-2 1 2 1 0 1 0 1 0 1 2 1-2 1 0 1 2 1-1 1-4 1 4 1 1 1-3 1 3 1 1 1-1 1 0 1-3 1 4 1-2 1 2 1 0 1 0 1 0 1 1 1 0 1-1 1-1 1 2 1 0 1 1 1-3 1-2 1 1 1-2 1-2 1-1 1-1 1-2 1-2 1-7 1 0 1-11 1-12 1-10 1-9 1 3 1 10 1 9 1 14 1 4 1 6 1 7 1-1 1 6 1 2 1 2 1 1 1-1 1 1 1 1 1 1 1 1 1 0 1-6 1 3 1-1 1 2 1-3 1 2 1 3 1 2 1 1 1-2 1 2 1 1 1 2 1-1 1 0 1 1 1-2 1 2 1-1 1 2 1 3 1-7 1 5 1 2 1-4 1 2 1 2 1-2 1 0 1 5 1-2 1-2 1 2 1-1 1 1 1-3 1 2 1-1 1-6 1 4 1 2 1 1 1 2 1 2 1-1 1-1 1 2 1-1 1 5 1-2 1 0 1-2 1-2 1 6 1-3 1 2 1 0 1 0 1 1 1-4 1 1 1-1 1 0 1 0 1 4 1-2 1-1 1 3 1 0 1-3 1 3 1-3 1 3 1 0 1 3 1-3 1 3 1-4 1 1 1 2 1 0 1-1 1 0 1 1 1 1 1 0 1 1 1-1 1 3 1-2 1 2 1-2 1 4 1-5 1 0 1-3 1 1 1-1 1 1 1-2 1 4 1-3 1 1 1 3 1 0 1 3 1-3 1 6 1-4 1 3 1-3 1 4 1 1 1-1 1-1 1 1 1 0 1 1 1 1 1-2 1 2 1 1 1 2 1-3 1 2 1-2 1 1 1 0 1 3 1 2 1 0 1-5 1-1 1 2 1-1 1-1 1 0 1 3 1-5 1-3 1 1 1 1 1-1 1-3 1 0 1-5 1-4 1-2 1 2 1 2 1 5 1 2 1 4 1 1 1 1 1 2 1 2 1 0 1 3 1-1 1 1 1 0 1 0 1 1 1 2 1-2 1 1 1 2 1 0 1-2 1 0 1 4 1-2 1 0 1-1 1 2 1-2 1 2 1 0 1-1 1 6 1-1 1 0 1-3 1 5 1 0 1-5 1 3 1-2 1-1 1-1 1 1 1 3 1-2 1-3 1 2 1 4 1-4 1 2 1-2 1 2 1 1 1 0 1 2 1-1 1-1 1 2 1-1 1 0 1 1 1 3 1-3 1 1 1 1 1-1 1-3 1 3 1-2 1 4 1 2 1-2 1 1 1 0 1 3 1-6 1 4 1 0 1 0 1 0 1-1 1 1 1 0 1-1 1 2 1-2 1 1 1-3 1 4 1 4 1-5 1-1 1-1 1 3 1 1 1 1 1-4 1 2 1-1 1 5 1-6 1 3 1-1 1 4 1-1 1 1 1 0 1-1 1-1 1 0 1 1 1 0 1 0 1-4 1 5 1 2 1-3 1 1 1-1 1 0 1-1 1 1 1 0 1 0 1 0 1-1 1-1 1 2 1-4 1 1 1-3 1 5 1 1 1 1 1 0 1 0 1 3 1-2 1 0 1-1 1 0 1 4 1-2 1 1 1-3 1 2 1 0 1-2 1 7 1-1 1 0 1-2 1-1 1-1 1 2 1 0 1 2 1-2 1 2 1 0 1 0 1 1 1 0 1-1 1 3 1 3 1-5 1 2 1-2 1 3 1-3 1 0 1 0 1 4 1-4 1 2 1-1 1-4 1 1 1 3 1 0 1 0 1-3 1 3 1 0 1 0 1 2 1-2 1 0 1-2 1 2 1-4 1 7 1-4 1 3 1-2 1 0 1 0 1-1 1 2 1 0 1-4 1 4 1-1 1 0 1-1 1 0 1 2 1 0 1 1 1 0 1-1 1 1 1 1 1 0 1-2 1 0 1 0 1 2 1 0 1-2 1 4 1-3 1-3 1 5 1 1 1-4 1 2 1-1 1 0 1 1 1 2 1-3 1 3 1-1 1 0 1 0 1-2 1 2 1-1 1 1 1 2 1 3 1-6 1 5 1-4 1 0 1-1 1 0 1 1 1-1 1 3 1 0 1 2 1-6 1 2 1-1 1 2 1-2 1 1 1-2 1 0 1 4 1-2 1-3 1 0 1 1 1 2 1-4 1 3 1 1 1 0 1-2 1 5 1 0 1-4 1 1 1 0 1-2 1 4 1-1 1 0 1 4 1-4 1 0 1 3 1-6 1 1 1 1 1 0 1-2 1 1 1-3 1 6 1-4 1 2 1-2 1 1 1-2 1-1 1 0 1 0 1 0 1 0 1-1 1 4 1 0 1-5 1 7 1-4 1-1 1 3 1-2 1 8 1-5 1-1 1 4 1-3 1 2 1 1 1-7 1 0 1 12 1-7 1 4 1-3 1 2 1-5 1 6 1-4 1 0 1-1 1 3 1-4 1 1 1 1 1-5 1 4 1 1 1-1 1-2 1 3 1-1 1 3 1 4 1-6 1-1 1-1 1 5 1 0 1-2 1 0 1 4 1-6 1 9 1-10 1 3 1 3 1-2 1-3 1 5 1-3 1-3 1 2 1 1 1 0 1 7 1-9 1-2 1 4 1-2 1 0 1 0 1-1 1 6 1-5 1 2 1-2 1 1 1-2 1 1 1 3 1-2 1 5 1-4 1 4 1 1 1-5 1 4 1-6 1 9 1-4 1 2 1-4 1-1 1-1 1-1 1 3 1-1 1 0 1 3 1-6 1 3 1-3 1-1 1 4 1-1 1-2 1 1 1 2 1 0 1 4 1-1 1-4 1 4 1-5 1 4 1 0 1 0 1-3 1 7 1-4 1 0 1-5 1 10 1-8 1 1 1 0 1 3 1-3 1 1 1 2 1-2 1-2 1 7 1-2 1-3 1-2 1 2 1 2 1 4 1-3 1 0 1-3 1 0 1 0 1 1 1 3 1-7 1 4 1-7 1 0 1 6 1-2 1 4 1-2 1 1 1 2 1-6 1 3 1 4 1-3 1 3 1-4 1 0 1 1 1-4 1 5 1-6 1 1 1 4 1 1 1-2 1 1 1-3 1 5 1-2 1 0 1-2 1 3 1-2 1 1 1-2 1 2 1-2 1 2 1 1 1 0 1 2 1-5 1 2 1 0 1 2 1 3 1-3 1 0 1-4 1 3 1 3 1-1 1-1 1-1 1-2 1 7 1-6 1 1 1 1 1-2 1 4 1-7 1 4 1-3 1 3 1-2 1 0 1-5 1 2 1 4 1 0 1 5 1 2 1-4 1 5 1-5 1-6 1 7 1-2 1 1 1-1 1-4 1 3 1-3 1 3 1-2 1-1 1 2 1 0 1-4 1 0 1 7 1-10 1 2 1 7 1-1 1 0 1-1 1 2 1-5 1 10 1-5 1-2 1-1 1 2 1-1 1 0 1 1 1-5 1 5 1-5 1-2 1 3 1 1 1 2 1 1 1 0 1-3 1 3 1 0 1 0 1-2 1 3 1-3 1 3 1 2 1 3 1-4 1 0 1-7 1-1 1 5 1-4 1 5 1 4 1-4 1-5 1 8 1-4 1 1 1 4 1-5 1 1 1 3 1-5 1 2 1 3 1-8 1 8 1 0 1-3 1 0 1 1 1-1 1 1 1-2 1 0 1-1 1-3 1 4 1 2 1 6 1-7 1-6 1 6 1 1 1 1 1-9 1 8 1-1 1-2 1-1 1 2 1 1 1 1 1-2 1-6 1 5 1-1 1 4 1-3 1 5 1 3 1-2 1-6 1 2 1-1 1-1 1-1 1 1 1 1 1 8 1-9 1 0 1-1 1 0 1 4 1-1 1-1 1 0 1 3 1-1 1-2 1 3 1-1 1 1 1-2 1-7 1 7 1-1 1 1 1 0 1 0 1-4 1 5 1 0 1-8 1 7 1-2 1 5 1-3 1-2 1-3 1 3 1 5 1-6 1 3 1-3 1 5 1-2 1-4 1 2 1-1 1 5 1-2 1-3 1 4 1 0 1 0 1 0 1-2 1-1 1 5 1-2 1 2 1 0 1-2 1 7 1-12 1 4 1-1 1-2 1 4 1-2 1-1 1-2 1-2 1 8 1 1 1 2 1-5 1 1 1-2 1 3 1-2 1-3 1 5 1-9 1 6 1 1 1-2 1 5 1 4 1-9 1-1 1 3 1 1 1-3 1 5 1-1 1-3 1 2 1-3 1 2 1-2 1 1 1 2 1 1 1-5 1 6 1-2 1 3 1-4 1-2 1-2 1 5 1-1 1-5 1 1 1 2 1 5 1 0 1-3 1 2 1-4 1-2 1 1 1 1 1 1 1 0 1 2 1-3 1 1 1 2 1 1 1-5 1 0 1 4 1-1 1 3 1-3 1-1 1 9 1-9 1 1 1-1 1 2 1-5 1 5 1-4 1 11 1-8 1 0 1-1 1-2 1 5V0"/><path transform="translate(161.07,607.87) scale(0.6692,1.0)" vector-effect="non-scaling-stroke" d="M0 0V-194l1 3 1-1 1-2 1 1 1-1 1 4 1-3 1 4 1 2 1-3 1 5 1-1 1 2 1 2 1-1 1-3 1 4 1-6 1 3 1 1 1 1 1-1 1 2 1 0 1 1 1 0 1 0 1-3 1 6 1-1 1 1 1 0 1-1 1 0 1 5 1-1 1 2 1-3 1 2 1 1 1-1 1 2 1-1 1 2 1 1 1 0 1-1 1 1 1 1 1 0 1 2 1-5 1 7 1 0 1-2 1 4 1-3 1 1 1 0 1 0 1 2 1-2 1 2 1 4 1-2 1 3 1-5 1 1 1 1 1 2 1 3 1 0 1-3 1 2 1 1 1-4 1 3 1 0 1-3 1 6 1-3 1 3 1-3 1 2 1 1 1-1 1-1 1 1 1 1 1 5 1-4 1 1 1 0 1 1 1 0 1 2 1 0 1-3 1 3 1-1 1 1 1 1 1 4 1-4 1 1 1-1 1 0 1 0 1 0 1 1 1 1 1 0 1 0 1-4 1 3 1-3 1 5 1 1 1-3 1 4 1-1 1-1 1-1 1 4 1-1 1-1 1 2 1-2 1 0 1 2 1-2 1 1 1 1 1 1 1-1 1 2 1-3 1 2 1-1 1 0 1 0 1 1 1-1 1-1 1 3 1 1 1-5 1 3 1-3 1 3 1 4 1-1 1-4 1 2 1-2 1 2 1-4 1 5 1 1 1-4 1 2 1 0 1-1 1 2 1 0 1 1 1-2 1 2 1 3 1-3 1 2 1 1 1 0 1-1 1-1 1-2 1 1 1 1 1 0 1-2 1 0 1 3 1 0 1-1 1 0 1 4 1-5 1 3 1-2 1 0 1 2 1-1 1 2 1-2 1 4 1-3 1 1 1 0 1-3 1 1 1 2 1 1 1-1 1 3 1-5 1 4 1-1 1 2 1 1 1-4 1 1 1 3 1-5 1 2 1 3 1 1 1-5 1 2 1 5 1-4 1-2 1 3 1 0 1 0 1-1 1 0 1-1 1 1 1 4 1-4 1 1 1 2 1-2 1-3 1 6 1-6 1 2 1 4 1-4 1-1 1-1 1-2 1 1 1 1 1-5 1 0 1-3 1-8 1-5 1-8 1-12 1-8 1-11 1 4 1 9 1 12 1 8 1 10 1 6 1 5 1-1 1 6 1 1 1 2 1 1 1 1 1 1 1 1 1 0 1 0 1 1 1-5 1 6 1-4 1-2 1 0 1 3 1 0 1 2 1 3 1 1 1 1 1 1 1 0 1 1 1 1 1-4 1 3 1 0 1 3 1-2 1-3 1 3 1 1 1 0 1 1 1 4 1-5 1 2 1 1 1-2 1 1 1-4 1 3 1 2 1-2 1-3 1-4 1 3 1-2 1 3 1-1 1 2 1 2 1 1 1 1 1 0 1 2 1-2 1 2 1 2 1-3 1 2 1 0 1 4 1-3 1 2 1 1 1 0 1-3 1 3 1 1 1 2 1-5 1 2 1 0 1-1 1-1 1 3 1-3 1 0 1-2 1 1 1 0 1-1 1 4 1-6 1 2 1 0 1 2 1-4 1 5 1 4 1-2 1-1 1 3 1 0 1 1 1 0 1-1 1 3 1 0 1-2 1-1 1 2 1-4 1 0 1-1 1-1 1-3 1 1 1 0 1 3 1 4 1 2 1-3 1 4 1 0 1 1 1 1 1 2 1-1 1 0 1 4 1-1 1 1 1-1 1-1 1 4 1 0 1-1 1-1 1-4 1 2 1-1 1 3 1-1 1-1 1 7 1-3 1-2 1 1 1-1 1 1 1 0 1 0 1-1 1 1 1-2 1-3 1 3 1-1 1 0 1-5 1 0 1-2 1-3 1-2 1-1 1 0 1 1 1 4 1 3 1 3 1 5 1-1 1 1 1 1 1 0 1 2 1 2 1-1 1 1 1 2 1 0 1-2 1 5 1-5 1 2 1 3 1 0 1 1 1-3 1-2 1 3 1 1 1-4 1 4 1 1 1 0 1-1 1 2 1-1 1 1 1 1 1-1 1 1 1 1 1 0 1-1 1 4 1-4 1 2 1-2 1 0 1-1 1-1 1 0 1 3 1-2 1 2 1-1 1 2 1-4 1 3 1 1 1 0 1 1 1 4 1-2 1 0 1 0 1-1 1 3 1-2 1 1 1-1 1 2 1 0 1-1 1 2 1-2 1 3 1 0 1 3 1-3 1 0 1-3 1 1 1 3 1 1 1-4 1 3 1 0 1-2 1 1 1 1 1 0 1 0 1 0 1 0 1 0 1 2 1-1 1 0 1 1 1 0 1 1 1-2 1-2 1 5 1 1 1-5 1 3 1 1 1-2 1 3 1 0 1 0 1 0 1-1 1 1 1-1 1 4 1-4 1-3 1 1 1 2 1-1 1 0 1 1 1-2 1-3 1 0 1-4 1-1 1-3 1-1 1-3 1 2 1 1 1 1 1 6 1-2 1 6 1 3 1 0 1-1 1 1 1 1 1-1 1 1 1 3 1 2 1-3 1 2 1-2 1 3 1 3 1-1 1-1 1 1 1 0 1-2 1 2 1 0 1 2 1 1 1-5 1 3 1 1 1-2 1 3 1-2 1 1 1 2 1 0 1-4 1-1 1 4 1-1 1 1 1-5 1 5 1 0 1 0 1-2 1-1 1 1 1 1 1 2 1 1 1-1 1-1 1 0 1 1 1-4 1 3 1 2 1-2 1-3 1 2 1 1 1 1 1 0 1-2 1 3 1 1 1-3 1 2 1-1 1 0 1 1 1-2 1 1 1 3 1-3 1-2 1 0 1 2 1-1 1 2 1 0 1 2 1 1 1-6 1 1 1 2 1 0 1 0 1 1 1-2 1 2 1 1 1 1 1-1 1-3 1 5 1-3 1-2 1 5 1-1 1 0 1 0 1-2 1 2 1 2 1-2 1-2 1-1 1 2 1 1 1 0 1 2 1-2 1 2 1-3 1 3 1-1 1-1 1 1 1 1 1 0 1-2 1 0 1 0 1-4 1 2 1 6 1-3 1 0 1-1 1-1 1 3 1 0 1-1 1 0 1 5 1-6 1 1 1 4 1-5 1 4 1-4 1-4 1 1 1 3 1 3 1-7 1 5 1-5 1 4 1 2 1-2 1-1 1-2 1 4 1-5 1 5 1 0 1-1 1 0 1-3 1 9 1-5 1-3 1 5 1-3 1-1 1-1 1-1 1-2 1-1 1 3 1-3 1 3 1 2 1 1 1-1 1-4 1 1 1 4 1 1 1-1 1 2 1 4 1-4 1-1 1-3 1 3 1 2 1-1 1 0 1-1 1 4 1-2 1 0 1-1 1 0 1 3 1 0 1 0 1-3 1-4 1 2 1 3 1 0 1-2 1 1 1 0 1 3 1-3 1 2 1 1 1-3 1 4 1 1 1-3 1 3 1-4 1 2 1 0 1-1 1 1 1-2 1 1 1 4 1-4 1-1 1 0 1 0 1 2 1 1 1-1 1 0 1 4 1-6 1 1 1-5 1 2 1 2 1-2 1 2 1 3 1-8 1 0 1-1 1 2 1 2 1 0 1-1 1 0 1 3 1-1 1 2 1 1 1-4 1 4 1 1 1-1 1-1 1 0 1-4 1 6 1-5 1 5 1-5 1 9 1-5 1 3 1-3 1-1 1-1 1 8 1-9 1 3 1-1 1 2 1 2 1-2 1-1 1 0 1-3 1 11 1-4 1-7 1 4 1-5 1 7 1-2 1 2 1-1 1 3 1-10 1 5 1-5 1 9 1-5 1 0 1 0 1 2 1-3 1-1 1 3 1 0 1 3 1 1 1-5 1-1 1 5 1 0 1 6 1-8 1 1 1 0 1 0 1 0 1-1 1-4 1 6 1-1 1 6 1-7 1-4 1 6 1-3 1 2 1-4 1 2 1 2 1-1 1 1 1 0 1-1 1 1 1 2 1 1 1-2 1 0 1-2 1 2 1-2 1 6 1-7 1 0 1 7 1 1 1-4 1-1 1 1 1 2 1-2 1-6 1 7 1 1 1 1 1-5 1 4 1-5 1 6 1-3 1 2 1 2 1-2 1-2 1 1 1-4 1 2 1 2 1-1 1 2 1 1 1-3 1 3 1-5 1 3 1 2 1-4 1 2 1-3 1 1 1-1 1 2 1-3 1 3 1-1 1 2 1-2 1-4 1 1 1 6 1-3 1-2 1 8 1-7 1-2 1 5 1 0 1-4 1 3 1 4 1-2 1 1 1-2 1-2 1 5 1 1 1-4 1-4 1 4 1 0 1-2 1 2 1 0 1-1 1 1 1-2 1-2 1-3 1 9 1 1 1 1 1 0 1-7 1-3 1 4 1-2 1 2 1-2 1 8 1-7 1-1 1 2 1 3 1-3 1 3 1-4 1 1 1 0 1-1 1 2 1 0 1 5 1-3 1-1 1 0 1-3 1 6 1-2 1-6 1 3 1 5 1-2 1-2 1 1 1 0 1-1 1-4 1 3 1 0 1-2 1 8 1-2 1-4 1 3 1-1 1 1 1 1 1 2 1-2 1 0 1-3 1-4 1 4 1 0 1 2 1-1 1-2 1 3 1-3 1 1 1 1 1 1 1-2 1-2 1 2 1 2 1-5 1 4 1 2 1-5 1 1 1-3 1 4 1-2 1 3 1-2 1 5 1-6 1-5 1 6 1 1 1-5 1 5 1 8 1-7 1 1 1-3 1 1 1-2 1 5 1-8 1 5 1 0 1 0 1 1 1-6 1 8 1-4 1 1 1-1 1 2 1-1 1 3 1-2 1 1 1 2 1-2 1-7 1 5 1 2 1-2 1-2 1 2 1 0 1 1 1-1 1-1 1 4 1 2 1-1 1-3 1 0 1 4 1-6 1 3 1 1 1 0 1-2 1 0 1 1 1-2 1 3 1-2 1-5 1 3 1 3 1-4 1 2 1 2 1-1 1 1 1 1 1 2 1-3 1 0 1-1 1-5 1 6 1 0 1-3 1 4 1-3 1 2 1-7 1 10 1 4 1-9 1 2 1-1 1 3 1-6 1 3 1 3 1 1 1-4 1-3 1-1 1 5 1-1 1-1 1-1 1 2 1 0 1-2 1-1 1 1 1 4 1 7 1-9 1 1 1-1 1 1 1 2 1-3 1 0 1 1 1 1 1 4 1-5 1-1 1 1 1 1 1-1 1 0 1-1 1-1 1 3 1-4 1 1 1-4 1 6 1-2 1 4 1-3 1 6 1-9 1 4 1 2 1-4 1 0 1 0 1 4 1-7 1 4 1 3 1 0 1-1 1-2 1-5 1 5 1 3 1-3 1 1 1 0 1 0 1 0 1-2 1 2 1-2 1 2 1-4 1 7 1-1V0"/><path transform="translate(155.94,613.79) scale(0.6692,1.0)" vector-effect="non-scaling-stroke" d="M0 0V-167l1 2 1-4 1 7 1-2 1 3 1-3 1 1 1 0 1 0 1 3 1-1 1-2 1 1 1 1 1 2 1-1 1 1 1-1 1 7 1-5 1 0 1-2 1 6 1-1 1 1 1 2 1-2 1 2 1-3 1 5 1-3 1 0 1 1 1 0 1 1 1 0 1 3 1-1 1-1 1 2 1 0 1 3 1-1 1 1 1 0 1-4 1 1 1 3 1 1 1-1 1 3 1-4 1 4 1 0 1 0 1 0 1 1 1 5 1-3 1 0 1 1 1-4 1 2 1 1 1 2 1 2 1 4 1-5 1 2 1 2 1-1 1 1 1-1 1 1 1 0 1 0 1 1 1 0 1-2 1-1 1 2 1-3 1 4 1 0 1 3 1-1 1-1 1 1 1 0 1-2 1 3 1 2 1-2 1 1 1 0 1 2 1-2 1-1 1-1 1 0 1 7 1-5 1-1 1 2 1 1 1 1 1-1 1 1 1 1 1-4 1 6 1-4 1 0 1 2 1 0 1 1 1 2 1-1 1-2 1 3 1 1 1-4 1 2 1 4 1-5 1 4 1-3 1-1 1 5 1-4 1 1 1-1 1 0 1 2 1 3 1-5 1 2 1 1 1-1 1 0 1 2 1-1 1-2 1 1 1 0 1 5 1-4 1 0 1-1 1 1 1 0 1 1 1-1 1 0 1 3 1-5 1 2 1 0 1-1 1 0 1 0 1 4 1 1 1-1 1-1 1 1 1 4 1-5 1 1 1-1 1 0 1 0 1-3 1 3 1 1 1-1 1-3 1 7 1-3 1 0 1 1 1-2 1 1 1 1 1 0 1 2 1-3 1 3 1 1 1-1 1 0 1-1 1-1 1 1 1 3 1-5 1 4 1 1 1 0 1 1 1-5 1 1 1 3 1-1 1 3 1-2 1 0 1-1 1 2 1-3 1 2 1-1 1 2 1-5 1 2 1-2 1 0 1 4 1 1 1 1 1-2 1-3 1 3 1 2 1 1 1 1 1-4 1 1 1-4 1 4 1 0 1 0 1-1 1-2 1 2 1 0 1 1 1 1 1 0 1 0 1-1 1 0 1-3 1-2 1 0 1 0 1-5 1-2 1-7 1-3 1-6 1-13 1-3 1 2 1 12 1 8 1 4 1 6 1 4 1 4 1 2 1 4 1-5 1 4 1 0 1 1 1-1 1-2 1-2 1 6 1-8 1-6 1 2 1-8 1-2 1 2 1 3 1 3 1 8 1 2 1 3 1 4 1 4 1-3 1 0 1-1 1 4 1 2 1-1 1 0 1-3 1 5 1 0 1 1 1-3 1-1 1 1 1 2 1-1 1 3 1-5 1 4 1 1 1-1 1 1 1 0 1-4 1 6 1-2 1-2 1 3 1 0 1-1 1 1 1 1 1-2 1 3 1 0 1 1 1 1 1-3 1-1 1 2 1 0 1 1 1-2 1 1 1 5 1-1 1-3 1 1 1 1 1-2 1 2 1-2 1 2 1 2 1-3 1 2 1 0 1 1 1 1 1 0 1 0 1-5 1 2 1 1 1-3 1 2 1 5 1-7 1 4 1 2 1-2 1-1 1 2 1 0 1-2 1 3 1-1 1 0 1 1 1 1 1-4 1 2 1-3 1-1 1 0 1 2 1-5 1 0 1 1 1 6 1-2 1 2 1 0 1 1 1 1 1 1 1 1 1 1 1 0 1 1 1-2 1 2 1 2 1-4 1 3 1-1 1-2 1 1 1 1 1 0 1-1 1 2 1-1 1-2 1 3 1 1 1-1 1 1 1-4 1 3 1-1 1 1 1-1 1-1 1 1 1-3 1 0 1 0 1-2 1-3 1-4 1-1 1-5 1-1 1-6 1 1 1-2 1 3 1 4 1 4 1 3 1 2 1 1 1 5 1 2 1 3 1 0 1 2 1 1 1-1 1 3 1-1 1 0 1 0 1 2 1 2 1-3 1 1 1-1 1 3 1-2 1 0 1 2 1 2 1-6 1 3 1 2 1-1 1 2 1-2 1 7 1-5 1 2 1-2 1 5 1-6 1 2 1-1 1 1 1 4 1-6 1 3 1-4 1 2 1-4 1 1 1-1 1 6 1-2 1 3 1 0 1 0 1 3 1-2 1-3 1 3 1 0 1-3 1 4 1-1 1-2 1 2 1 0 1 0 1 1 1 1 1 1 1-1 1 1 1 1 1 0 1-2 1 2 1-1 1 0 1 0 1 3 1 2 1-8 1 1 1 1 1 0 1 2 1 0 1-1 1 2 1-2 1 0 1 0 1 0 1 1 1 0 1 1 1 1 1 0 1 2 1-4 1 2 1 0 1 2 1 0 1-2 1 3 1-1 1-2 1 3 1-3 1 3 1-3 1 3 1 3 1-3 1-2 1-1 1-2 1 0 1 2 1 1 1-4 1 2 1-3 1-1 1-2 1-2 1 2 1-4 1 1 1-3 1-1 1 5 1 4 1 4 1-1 1 3 1 0 1 2 1-1 1 2 1-3 1 4 1-1 1 2 1-3 1 1 1 1 1 1 1-1 1 0 1 0 1 0 1 3 1 1 1-4 1 1 1 2 1 0 1-1 1-2 1 3 1-4 1 9 1 0 1-5 1-1 1 2 1-2 1 3 1-1 1-2 1 3 1-3 1-1 1 3 1-4 1 5 1 0 1 3 1-2 1 1 1-3 1 0 1 4 1-2 1 0 1-1 1-3 1 6 1-4 1 2 1 2 1-1 1-4 1 2 1-1 1 2 1 0 1-1 1 1 1 0 1 2 1-3 1 2 1-1 1 0 1-2 1 3 1 3 1-2 1-1 1 0 1-1 1 4 1-4 1 0 1-1 1-2 1 4 1-4 1 3 1 2 1 0 1 3 1-5 1 3 1-2 1 3 1-4 1 0 1 1 1 2 1-1 1-1 1 1 1 0 1-1 1 2 1-1 1-4 1 5 1-1 1 0 1 3 1 0 1-3 1 3 1-2 1-1 1 1 1-1 1 0 1-1 1 1 1 2 1-2 1 0 1 2 1-1 1-2 1 2 1 0 1 3 1-4 1 0 1 1 1-1 1 2 1 0 1-1 1 1 1-2 1 0 1 0 1 2 1-3 1 2 1-1 1 1 1 0 1 0 1 4 1-5 1-2 1 3 1-3 1 2 1-3 1 2 1 0 1 1 1-1 1 0 1 0 1-1 1-1 1 4 1 0 1-5 1 3 1-3 1-1 1 1 1 1 1 1 1 2 1-6 1 8 1-2 1 1 1 2 1-3 1-2 1 5 1-3 1 2 1 3 1-2 1-1 1 0 1 0 1 6 1-6 1-1 1 3 1-3 1-1 1 0 1 2 1 2 1 0 1-2 1-2 1 3 1-4 1 3 1 2 1-1 1 3 1-2 1 1 1-2 1 1 1-1 1 2 1-6 1 4 1 2 1-3 1 2 1-1 1 0 1 1 1 3 1-3 1-1 1 3 1-3 1 2 1-1 1 1 1 4 1-6 1-1 1 1 1-2 1-1 1 1 1-3 1 2 1 1 1 1 1-3 1 7 1-11 1 2 1 0 1 4 1-1 1 3 1-2 1 3 1-2 1 6 1-7 1 3 1 0 1 1 1-1 1-3 1 7 1-4 1 1 1 0 1 0 1-2 1 2 1-5 1 1 1 4 1 7 1-5 1-2 1 0 1 0 1-5 1 3 1 0 1 1 1-4 1 9 1-5 1 0 1 0 1 0 1 0 1 0 1 8 1-2 1-3 1-3 1 3 1-2 1 0 1-2 1 4 1-4 1-3 1 3 1-2 1 3 1 0 1 2 1-2 1-4 1 7 1 0 1-7 1 6 1 0 1 2 1-4 1 2 1 0 1 3 1-4 1-1 1 2 1-1 1-3 1 0 1 1 1 4 1 0 1 1 1-7 1 5 1 4 1-3 1 0 1 0 1 0 1-1 1 1 1 0 1 0 1-3 1 6 1-6 1 8 1-5 1-2 1 0 1-2 1 0 1 2 1 7 1-4 1-1 1 1 1-4 1-3 1 5 1 5 1-6 1 2 1-6 1 6 1 1 1-1 1-4 1 6 1-3 1 0 1 2 1-1 1-2 1 2 1 2 1-4 1-2 1 3 1 0 1 1 1 0 1 1 1-2 1 8 1-7 1-1 1 0 1-1 1-1 1 4 1 2 1-3 1 0 1-3 1 8 1-9 1 7 1 0 1-2 1 0 1-1 1 7 1-8 1 2 1-4 1 5 1-8 1 4 1 2 1 1 1 1 1-4 1 6 1-2 1 2 1-2 1-1 1-1 1-1 1 0 1 1 1 7 1-6 1-1 1-2 1 4 1 1 1 3 1-10 1 4 1 0 1 1 1-4 1-1 1 2 1-1 1 2 1-1 1 3 1 0 1-4 1 1 1 1 1 1 1-1 1 4 1-6 1-1 1 5 1-1 1-3 1-1 1 5 1 2 1 1 1-3 1 3 1-2 1-1 1 6 1-5 1-3 1 2 1 0 1-6 1 7 1-1 1 1 1-1 1 4 1-3 1-1 1 0 1 2 1-4 1 5 1-3 1-6 1 6 1 0 1-1 1 2 1-1 1-6 1 9 1-1 1-2 1-1 1 7 1 1 1-4 1 4 1-9 1 9 1-9 1 0 1 2 1-5 1 5 1 7 1-3 1-6 1 0 1 3 1-1 1-2 1-1 1 2 1-3 1 5 1-2 1-4 1-2 1 3 1 4 1 1 1 2 1-2 1 4 1-4 1-3 1 1 1 4 1-2 1 1 1-6 1 3 1 6 1-1 1-9 1 3 1 2 1 7 1-3 1-3 1 1 1-1 1 0 1 0 1 4 1-4 1 1 1-2 1 1 1 3 1-4 1-3 1 3 1 2 1-4 1 0 1 5 1-4 1 1 1 0 1-1 1 3 1-3 1 0 1 0 1-2 1 4 1-2 1 0 1 3 1-2 1-3 1 3 1-1 1 1 1 0 1-3 1 1 1 6 1-4 1-2 1 7 1-6 1-2 1 3 1 4 1-2 1 0 1 2 1-3 1 2 1-1 1-3 1 2 1-3 1-1 1 6 1-3 1-1 1 1 1-1 1-2 1 1 1 2 1 2 1 4 1-6 1 1 1-1 1 6 1-6 1 1 1 3 1-9 1 9 1 0 1-2 1 1 1-4 1 5 1-4 1 1 1-2 1 0 1 0 1 1 1 0 1 1 1 1 1 0 1-8 1 6 1 2 1-1 1-2 1 0 1-1 1 2 1 3 1 0 1-5 1 3 1-1 1 0 1 5 1-3 1 0 1-2 1-2 1 2 1 0 1-2 1 4 1 1 1-2 1 3 1 0 1 0 1-6 1 3 1-1 1-2 1 2 1 2V0"/><path transform="translate(150.82,619.72) scale(0.6692,1.0)" vector-effect="non-scaling-stroke" d="M0 0V-181l1 0 1 0 1-2 1 5 1-5 1 4 1 2 1-3 1 1 1 2 1-2 1 5 1-1 1 1 1-1 1 6 1-6 1 5 1-2 1 0 1-1 1 3 1-1 1 1 1-3 1 4 1 2 1-4 1 6 1 0 1 0 1 1 1 0 1-1 1 6 1-5 1 0 1 2 1 1 1-1 1 1 1-3 1 1 1 4 1-1 1 4 1-3 1 1 1-1 1 1 1 1 1 1 1 1 1 2 1-4 1 5 1-3 1 2 1 2 1 0 1 1 1-3 1-1 1 5 1-1 1-3 1 3 1 2 1 0 1 1 1-1 1 1 1 0 1 1 1-2 1 2 1 0 1 4 1-3 1 0 1 0 1 0 1 0 1 0 1 1 1 1 1-2 1 2 1 0 1 0 1 2 1 1 1 2 1-1 1-1 1-2 1 1 1-3 1 4 1-2 1 5 1-4 1 2 1 1 1 0 1-2 1 1 1 3 1-1 1 0 1 0 1 2 1 1 1-2 1 3 1-2 1 0 1 0 1 1 1-3 1 1 1 1 1-1 1 1 1 2 1 3 1-4 1-1 1 0 1 2 1-3 1 3 1-2 1 1 1 2 1-3 1 4 1-3 1 3 1 1 1-5 1 1 1-1 1 1 1 4 1-1 1 0 1 0 1-2 1 1 1-2 1 3 1 5 1-5 1 4 1-7 1 8 1-3 1-1 1 0 1 3 1-4 1 3 1-3 1 4 1-3 1 2 1 2 1-3 1 1 1-1 1 0 1 1 1 0 1 2 1-5 1 5 1 0 1 0 1-1 1 1 1-1 1 1 1-3 1 3 1-1 1 2 1-1 1-1 1 1 1 1 1 2 1 0 1 2 1-4 1-2 1 2 1 0 1 1 1 0 1-1 1 1 1-3 1 1 1 2 1 1 1-1 1 0 1 1 1 0 1 0 1 1 1 0 1-1 1 0 1 1 1 2 1-2 1 1 1 1 1-1 1 0 1 1 1-3 1 2 1 1 1-2 1-3 1 3 1 2 1-1 1-1 1 1 1 0 1 4 1-2 1 0 1-2 1 2 1-2 1 0 1-2 1 3 1-3 1 0 1-4 1-2 1-2 1-1 1-3 1-8 1-10 1 1 1 0 1 5 1 7 1 6 1 6 1 2 1 3 1-2 1 3 1 4 1-4 1 3 1-2 1 4 1-2 1-2 1 0 1-7 1 0 1-3 1-6 1 4 1-4 1 4 1 6 1 4 1 4 1 2 1 0 1 4 1-1 1 0 1 3 1-1 1 2 1 0 1-1 1 2 1 1 1-4 1 4 1-3 1 4 1 0 1-3 1 2 1 2 1-2 1 1 1 2 1-3 1 5 1-4 1-5 1 5 1-2 1 1 1 2 1-1 1 1 1 2 1-2 1 2 1-2 1 4 1-2 1 3 1-5 1 6 1 3 1-4 1 0 1 1 1 0 1-4 1 4 1 0 1 0 1-1 1 0 1-1 1 1 1 2 1 0 1 0 1-1 1 1 1-4 1 3 1 0 1-1 1 0 1-4 1 3 1-1 1-1 1 0 1 3 1 1 1 2 1 3 1 0 1-1 1 2 1-3 1 2 1 2 1 0 1-1 1 0 1 0 1-1 1-2 1 3 1-2 1-1 1 1 1-3 1 1 1 7 1-4 1 1 1 1 1-1 1 3 1-1 1 2 1 1 1 0 1-1 1 1 1 2 1-2 1 0 1 4 1-3 1 0 1 1 1 1 1 0 1-1 1 0 1-2 1 4 1-3 1 0 1 1 1 2 1-1 1 1 1-4 1 0 1 0 1 0 1 1 1-1 1-3 1 0 1 1 1-6 1-2 1-2 1-5 1-1 1-8 1-1 1 4 1 0 1 4 1 1 1 6 1 3 1 3 1 1 1 6 1 0 1 3 1 5 1-4 1-1 1 4 1-1 1 6 1-7 1 3 1 2 1 2 1-7 1 6 1-6 1 3 1 2 1 0 1 1 1-1 1 1 1-1 1 1 1 2 1-2 1 1 1-2 1 2 1 2 1 2 1-3 1 2 1 1 1-4 1 1 1-3 1 1 1-3 1 3 1-1 1 0 1-1 1 1 1 2 1-1 1 3 1 1 1 3 1-4 1 1 1 2 1 1 1 0 1 1 1 0 1 2 1-2 1-2 1 0 1 3 1 1 1-1 1-4 1 6 1 0 1-2 1 1 1 0 1-4 1 4 1 2 1-1 1 3 1-3 1 1 1-1 1-1 1 0 1-1 1 1 1 4 1-3 1 1 1 1 1 0 1 0 1-1 1-2 1 2 1 2 1-1 1-2 1 2 1 0 1 1 1-1 1 0 1 1 1 0 1 1 1 0 1-1 1 4 1-4 1 2 1 1 1-2 1-1 1 4 1-1 1 0 1 2 1-5 1 3 1-5 1 0 1 2 1-2 1-3 1 1 1 0 1 1 1-1 1 2 1 4 1-5 1 4 1-3 1 5 1 2 1-2 1 0 1 0 1 0 1 0 1 2 1 0 1 1 1 1 1-1 1 1 1-2 1 4 1-3 1 4 1-4 1 2 1-1 1 0 1 1 1 0 1 0 1 0 1-1 1 0 1 0 1 0 1 1 1 0 1 4 1-1 1 3 1-5 1 0 1 1 1 1 1 0 1-1 1-3 1 3 1 0 1-2 1 4 1-3 1 0 1 2 1-1 1 0 1 1 1 0 1 4 1-6 1 3 1-1 1-1 1 0 1 2 1-1 1-1 1 3 1-1 1-3 1 5 1 2 1-4 1 0 1-1 1 2 1-3 1 5 1-3 1-1 1 2 1-2 1 1 1 0 1 0 1-3 1 6 1-1 1-2 1 3 1-2 1 0 1 1 1 1 1 0 1 2 1-1 1-2 1-1 1 2 1 0 1-5 1 2 1 3 1 0 1-1 1 0 1 0 1 0 1 2 1 0 1-5 1 2 1 1 1-3 1 2 1 2 1-3 1 4 1-2 1-1 1 5 1-3 1 0 1-3 1 3 1 1 1 5 1-5 1 0 1 0 1-1 1 1 1 0 1 0 1-1 1 1 1-5 1 8 1-5 1 3 1-1 1 1 1-2 1 1 1 1 1 2 1-2 1-1 1 3 1-3 1 0 1 2 1-3 1 2 1-3 1 1 1 2 1 2 1-4 1 4 1-2 1-5 1 4 1-1 1-2 1-1 1 1 1 4 1-6 1 1 1-2 1 0 1 1 1 1 1 1 1-1 1 2 1-4 1 5 1 3 1-5 1 4 1-2 1 2 1-1 1 2 1-2 1-1 1 5 1-3 1-1 1 1 1 4 1-2 1-2 1-4 1 6 1-3 1 4 1 5 1-5 1-2 1 2 1-4 1-1 1 3 1 4 1 3 1 0 1-6 1-3 1 2 1 4 1-2 1-5 1 2 1 2 1-2 1-1 1 1 1 2 1 0 1 3 1-4 1 3 1-8 1 5 1 2 1 0 1-3 1 1 1-4 1 4 1 0 1 0 1-2 1 2 1 0 1 0 1-3 1-1 1 2 1-5 1 4 1-3 1 0 1 4 1 0 1 0 1-2 1 6 1-7 1 6 1 5 1-2 1-3 1 0 1 7 1-3 1-2 1 4 1-7 1-1 1-3 1 6 1-1 1 1 1 0 1-2 1 1 1 7 1-7 1-3 1 4 1-3 1 1 1 0 1-2 1 5 1-2 1 9 1-8 1 0 1-1 1 1 1 0 1 1 1-2 1 2 1-1 1 3 1-3 1 7 1-7 1-2 1 5 1-3 1 1 1 2 1-3 1-6 1 6 1 1 1-1 1 1 1 2 1-2 1 0 1-1 1 1 1-4 1 4 1 2 1 2 1-5 1-1 1 4 1 2 1-2 1-2 1 0 1 2 1-4 1 2 1-2 1 6 1-1 1-4 1 3 1 1 1 0 1-3 1 2 1 2 1 0 1-3 1 4 1-4 1 0 1-2 1 3 1-6 1 5 1 0 1 1 1 7 1-2 1-7 1 8 1-8 1 0 1 2 1-1 1-1 1-2 1 6 1-1 1-5 1 3 1 0 1-1 1-6 1 3 1-2 1 8 1 1 1-1 1-7 1 6 1 0 1 3 1-4 1 4 1-5 1 9 1-7 1-2 1 2 1-6 1 0 1 5 1-4 1 3 1-1 1 1 1 4 1-4 1-3 1 5 1 0 1 4 1 0 1-4 1-1 1 2 1-2 1-1 1 4 1-6 1 5 1 0 1 4 1-5 1 3 1-5 1 3 1-2 1 0 1 2 1 5 1-9 1 6 1-3 1 1 1-3 1 2 1-1 1 3 1 3 1-8 1 12 1-13 1 8 1-3 1-2 1 2 1-2 1 1 1 0 1 3 1-7 1 2 1 0 1-3 1 4 1-4 1 4 1-2 1 4 1-2 1-1 1 0 1 0 1 4 1-2 1 2 1 0 1-3 1 2 1 5 1-5 1 6 1-7 1-6 1 5 1 0 1 1 1 0 1 8 1-11 1 3 1-3 1 7 1-6 1 0 1 10 1-7 1-6 1 8 1-2 1 0 1-6 1 4 1 9 1-9 1 3 1-4 1 3 1-7 1 6 1-2 1-1 1 10 1-9 1 1 1-5 1 4 1 6 1-4 1-2 1-1 1 2 1 0 1 1 1-1 1 2 1-1 1-3 1 3 1-7 1 4 1 1 1-1 1-2 1 4 1-2 1-3 1 4 1 1 1-3 1-3 1 9 1-2 1 2 1 0 1 0 1 0 1 0 1-2 1 0 1 0 1 2 1-2 1 0 1-2 1 1 1 2 1-1 1-1 1 2 1 1 1-2 1 2 1-4 1-3 1 5 1 0 1-1 1 9 1-10 1 2 1 1 1 4 1-5 1 2 1 3 1-7 1 4 1-2 1 8 1-7 1-1 1-1 1 2 1-1 1 2 1-1 1-5 1 5 1-1 1 1 1 0 1-1 1-1 1-2 1 7 1-5 1 2 1-2 1 2 1-2 1 5 1-4 1 2 1-2 1 2 1-4 1 4 1 0 1 1 1-2 1 8 1-4 1-3 1 3 1-6 1 3 1-4 1-3 1 5 1 1 1 2 1-6 1 4 1 0 1 0 1 0 1-1 1 2 1-2 1 2 1-7 1 6 1 2 1 4 1-4 1 0 1-2 1-1 1 2 1 4 1-4 1 1 1-3 1 5 1-5 1-2 1 3 1 3 1-3 1 0 1-1 1 1 1-5 1 5 1-6 1 5 1 0 1 3 1-3 1 1 1-3 1 5 1-4 1 0 1 0 1-5 1 6 1 1 1 0 1 1 1 0 1-3 1 5 1-4 1-4 1 1 1 4 1-6 1 11 1-11 1 7 1-5V0"/><path transform="translate(145.69,625.64) scale(0.6692,1.0)" vector-effect="non-scaling-stroke" d="M0 0V-195l1 4 1-3 1 5 1-1 1 1 1-2 1 7 1-4 1 1 1 1 1-2 1 2 1 0 1 2 1-1 1 0 1 4 1-1 1 0 1-2 1 3 1 2 1-2 1 1 1 2 1-2 1 2 1 2 1-1 1 0 1 3 1-2 1-1 1 2 1 3 1 0 1 0 1 0 1 1 1 0 1 1 1 0 1 5 1-5 1 1 1 0 1 5 1-4 1 1 1 2 1 0 1 1 1-1 1-1 1 5 1-5 1 4 1 2 1-1 1 0 1-1 1 1 1 0 1 1 1 1 1 0 1 1 1-1 1 2 1 0 1 1 1 2 1 5 1-2 1-1 1 1 1 0 1 0 1 1 1-1 1-3 1 3 1 0 1 0 1 2 1-5 1 6 1-3 1 1 1 3 1-2 1 0 1 0 1 1 1 0 1 1 1 1 1-1 1 4 1-6 1 6 1 2 1-2 1-2 1 1 1-2 1 1 1-1 1 1 1 2 1-2 1 2 1 1 1 0 1 0 1 0 1-2 1 2 1 0 1 0 1 2 1 0 1 3 1-3 1-1 1 0 1 1 1 1 1 0 1 0 1 1 1-1 1 4 1-4 1 0 1 0 1 0 1 2 1-1 1 2 1-4 1 0 1 3 1 3 1-4 1-2 1 5 1-3 1 1 1 0 1-1 1 2 1-1 1 1 1 1 1-2 1 1 1-1 1 3 1-2 1-1 1 1 1-1 1 2 1-2 1 2 1 1 1-1 1-2 1 3 1 0 1 2 1 1 1-1 1 0 1-3 1 4 1 0 1-2 1 6 1-4 1-4 1 2 1 0 1 1 1 1 1-1 1 2 1 1 1-2 1 1 1-4 1 4 1 0 1 1 1-3 1 2 1 4 1-6 1 0 1 4 1-1 1 3 1-4 1 1 1 0 1 2 1-1 1-2 1 4 1-4 1 2 1 0 1 0 1-2 1 7 1-4 1-1 1 1 1 3 1-4 1 4 1 0 1-2 1 2 1-1 1-2 1 0 1 2 1-2 1 0 1 2 1 0 1-1 1 1 1-4 1 2 1 3 1-2 1-2 1-1 1 2 1-2 1 2 1-7 1 2 1-7 1 1 1-5 1-7 1-14 1-7 1-7 1 2 1 9 1 9 1 10 1 8 1 3 1 5 1 4 1 2 1 1 1-4 1 5 1 3 1-4 1 0 1 1 1-3 1 0 1-3 1-2 1-4 1-2 1 0 1 0 1 8 1 3 1 5 1 1 1 3 1 3 1-1 1 1 1 0 1-2 1 3 1 1 1 0 1 0 1 4 1-3 1 0 1-2 1 0 1 2 1 3 1-1 1 0 1 1 1 1 1-3 1 2 1 3 1-4 1 2 1 0 1-4 1 2 1 2 1 0 1-1 1 3 1-1 1-1 1 0 1 6 1-2 1 0 1 1 1-1 1 0 1-1 1 1 1 0 1 1 1 0 1 0 1 2 1-4 1 3 1-2 1 0 1 2 1 2 1-2 1-3 1 4 1 3 1-3 1 2 1 3 1-3 1-1 1 0 1-1 1-2 1 0 1-2 1 5 1-1 1 2 1 2 1-2 1-2 1 8 1-4 1 1 1 3 1-6 1 3 1-3 1-2 1 1 1 2 1-4 1 3 1-5 1-2 1 2 1 2 1 2 1 1 1 2 1 0 1 1 1 0 1 2 1 3 1-1 1 2 1-1 1 2 1-2 1 2 1-5 1 4 1-1 1 2 1 1 1-1 1-1 1 1 1-1 1 2 1-1 1 3 1-5 1 3 1 2 1-1 1 2 1-3 1-1 1-1 1 0 1-3 1 2 1 0 1-2 1-1 1 1 1-8 1 1 1 0 1-6 1-1 1-2 1 5 1-3 1 2 1 10 1-3 1 6 1 2 1 3 1 4 1-3 1 2 1-1 1 1 1 2 1 0 1 1 1 2 1 2 1-3 1-1 1 0 1-1 1 2 1 3 1 3 1-5 1 2 1-4 1 4 1 0 1 1 1-4 1 6 1 0 1-3 1-1 1 2 1 3 1-5 1 3 1-2 1 6 1-3 1-4 1 2 1 1 1-2 1 2 1-5 1 2 1-2 1 4 1 0 1 3 1 0 1-3 1 2 1 1 1-1 1 4 1-1 1 0 1 1 1-4 1 8 1-4 1-1 1 2 1-4 1 4 1 0 1 2 1-3 1 2 1-1 1 3 1-1 1 0 1-1 1-1 1 2 1 2 1-3 1 1 1 0 1 0 1 1 1 2 1-2 1 1 1-2 1 5 1-4 1 1 1 1 1-4 1 4 1 0 1 2 1 0 1-4 1 3 1 3 1-2 1 0 1 0 1 4 1-2 1-2 1 1 1-2 1 4 1-2 1-1 1 2 1 4 1-7 1 1 1 1 1 1 1-1 1-1 1-1 1 1 1 2 1-1 1-4 1 1 1-1 1-3 1-1 1 1 1 3 1 1 1-2 1 4 1-1 1 2 1 2 1 2 1-2 1 1 1 2 1-2 1 1 1 0 1-1 1-2 1 2 1 2 1 0 1 0 1 1 1 0 1 1 1 1 1-2 1-1 1 0 1 2 1-2 1 3 1 2 1-3 1-1 1 1 1 1 1 2 1-1 1 0 1 0 1 3 1-3 1 2 1-4 1 4 1-1 1 2 1-2 1 3 1-3 1-2 1 0 1 4 1 0 1-3 1 1 1-2 1 4 1 0 1 1 1-5 1 0 1 3 1 1 1-1 1 1 1 0 1-1 1 0 1 3 1-4 1-1 1 6 1-3 1 1 1-1 1-1 1-1 1-1 1 1 1 3 1-1 1 3 1 0 1-3 1 0 1 0 1-1 1 3 1 0 1 0 1 1 1-1 1-1 1 0 1 1 1 2 1-1 1-1 1 0 1-2 1 4 1-2 1 1 1 0 1-1 1 1 1 0 1-1 1 2 1 2 1-3 1 1 1-2 1 0 1 0 1 1 1 0 1-2 1 1 1 0 1-2 1 2 1-1 1 2 1 2 1 1 1-6 1 5 1-2 1 1 1 0 1 1 1-1 1 0 1-1 1 0 1 1 1-1 1 0 1-3 1 2 1 4 1-2 1 1 1-4 1 0 1 4 1-1 1-1 1-2 1 3 1 0 1 1 1 2 1-3 1 0 1 1 1-2 1 2 1-2 1 3 1-5 1 5 1-4 1 2 1-2 1 1 1-1 1 1 1 1 1-2 1-2 1 1 1 3 1-2 1 2 1 0 1 0 1 0 1-2 1 2 1 2 1-1 1-2 1 5 1 3 1-3 1-5 1 1 1 1 1 4 1-8 1 6 1 0 1-1 1 0 1 0 1-5 1 6 1-4 1 6 1-4 1-1 1 0 1 1 1-1 1 1 1 1 1 2 1-1 1 2 1-6 1 6 1-3 1-1 1-1 1 5 1-6 1 7 1-5 1 0 1 3 1-3 1-4 1 8 1-4 1 9 1-13 1 5 1 5 1-5 1 1 1 4 1 2 1-7 1-1 1-2 1 0 1 6 1-4 1 4 1-7 1-7 1 4 1 1 1-2 1 0 1 2 1 6 1-4 1 2 1 5 1-2 1 0 1 2 1-2 1-2 1 6 1-1 1-4 1 4 1-2 1 0 1 0 1 2 1 0 1 0 1-3 1-1 1 3 1 2 1-3 1 1 1-2 1 0 1-1 1 5 1-4 1 2 1-6 1 2 1 5 1-1 1 2 1-3 1 5 1 4 1-7 1-2 1-3 1 3 1-2 1 2 1 4 1-3 1-1 1 1 1-1 1-4 1 4 1-4 1 7 1-1 1-1 1-1 1-1 1 2 1 2 1 5 1-4 1-2 1 0 1 4 1 4 1-10 1 8 1-2 1-1 1-1 1 3 1-4 1-1 1-5 1 1 1 3 1-1 1 5 1-3 1 3 1 0 1-2 1 1 1 2 1-2 1-1 1 0 1 2 1-2 1-4 1 3 1 1 1 0 1 3 1-1 1-1 1-1 1-2 1 4 1 0 1 1 1 2 1 3 1-8 1-1 1 1 1 0 1-2 1 2 1-2 1 3 1 3 1 3 1-7 1-3 1 2 1-2 1 7 1-5 1-1 1 7 1-4 1-2 1 1 1 1 1-1 1 0 1 2 1 6 1-12 1 6 1-4 1 0 1-1 1 0 1 5 1-2 1-1 1 2 1 5 1-5 1 0 1-2 1 2 1 4 1-4 1 7 1-8 1 4 1-4 1 0 1-3 1 6 1-4 1 7 1-4 1-1 1 4 1-3 1 0 1-3 1 3 1 0 1-2 1 0 1 8 1-9 1 2 1-5 1 6 1-5 1 3 1-2 1-1 1 3 1 0 1-1 1 3 1-3 1 0 1-1 1-2 1 2 1 5 1-3 1-4 1 1 1-1 1 5 1 3 1 1 1-4 1-1 1 2 1-1 1 7 1-6 1-3 1 4 1-1 1-5 1 4 1 0 1-2 1 2 1 1 1 0 1 0 1 1 1-2 1 0 1 0 1-1 1 4 1-2 1-1 1 0 1 1 1 2 1 1 1-1 1-2 1-7 1 5 1-1 1-1 1 5 1-4 1 4 1-3 1-4 1 7 1-9 1 6 1 2 1 4 1-11 1 5 1 0 1 8 1-6 1-3 1-5 1 8 1 0 1 0 1-2 1-4 1 4 1 2 1-9 1 10 1-7 1 4 1-5 1 2 1 9 1-5 1 0 1 3 1-10 1 7 1 0 1-1 1 1 1-4 1 1 1 4 1 0 1 3 1 5 1-8 1-1 1 1 1 6 1-7 1 3 1-4 1 2 1 0 1 8 1-6 1-3 1 3 1-2 1 3 1-4 1-2 1 0 1 4 1-2 1-3 1 6 1-6 1 3 1 0 1 1 1-6 1 8 1-3 1-1 1 5 1-1 1-1 1-1 1-1 1 1 1 5 1-11 1 7 1-3 1 0 1 1 1 1 1-2 1 3 1-7 1 6 1-1 1 1 1-2 1 6 1-1 1-2 1 1 1-3 1 1 1 0 1 2 1 4 1-7 1-3 1 9 1-7 1 2 1-2 1 1 1 5 1-8 1 4 1-3 1 2 1-3 1 1 1 6 1-3 1-4 1 5 1 0 1 1 1-3 1 3 1 3 1 1 1-7 1 5 1-2 1-3 1-1 1 2 1-1 1 2 1-3 1 4 1-4 1 3 1-4 1 3 1 3 1-2 1-1 1 6 1-5 1-1 1 0 1 0 1-1 1 1 1 0 1-4 1 7 1 1 1-8 1 5 1-1 1 0 1-3 1 0 1 0 1 6 1-6 1 5 1-6 1 3 1 2 1 3 1-3 1-1 1-6 1 8 1-2 1 0 1 0 1 3V0"/><path transform="translate(140.56,631.56) scale(0.6692,1.0)" vector-effect="non-scaling-stroke" d="M0 0V-151l1 0 1-2 1-2 1 3 1 0 1 2 1 0 1 1 1-2 1 0 1 5 1-3 1 0 1 2 1 1 1-1 1 1 1 0 1 1 1 0 1 0 1 0 1 4 1-2 1 3 1 1 1-4 1 0 1 6 1-5 1 2 1 1 1 1 1 0 1 1 1-2 1 1 1 2 1-2 1 1 1 0 1 0 1-3 1 1 1 4 1 0 1-4 1 4 1 0 1 2 1-2 1 5 1 0 1-4 1 4 1-2 1 2 1-1 1 2 1-1 1 0 1-2 1 5 1-1 1 2 1 1 1-2 1-1 1 1 1 1 1-1 1 3 1 1 1-1 1-1 1 2 1 4 1-4 1-1 1 1 1 4 1-3 1 0 1-1 1 1 1 0 1 1 1 1 1-3 1 3 1-2 1 3 1 0 1 0 1 1 1-1 1 0 1 0 1 2 1 2 1 0 1-1 1-3 1 0 1 5 1-2 1-2 1 2 1-1 1 2 1 0 1 2 1-2 1-1 1-1 1 3 1 1 1-2 1 0 1 5 1-3 1 0 1 0 1 4 1-4 1 0 1-1 1 0 1 2 1-3 1 3 1-2 1 0 1 2 1-1 1 0 1 0 1 0 1 0 1 2 1-1 1 5 1-4 1 2 1-1 1-2 1 1 1 0 1 2 1-3 1-2 1 3 1-2 1 1 1 1 1-1 1 0 1 1 1 3 1-2 1 1 1-1 1 1 1 5 1-4 1-2 1 2 1 0 1-4 1 0 1 1 1 1 1 1 1 1 1-1 1 1 1-2 1 1 1 5 1-5 1 2 1-3 1 1 1 5 1-3 1 4 1-5 1-1 1-1 1 2 1 1 1 0 1-1 1-2 1 3 1-1 1 0 1 1 1 1 1-3 1 6 1-3 1 2 1-3 1 1 1 1 1 1 1 1 1-2 1 0 1 2 1-1 1 2 1-3 1 0 1 6 1-1 1-6 1 3 1-1 1-3 1 5 1 0 1-3 1 0 1 1 1 1 1-2 1 6 1-5 1 0 1 1 1-2 1 2 1-1 1 0 1-2 1 0 1 0 1 2 1 0 1-2 1 3 1-5 1-1 1-3 1-1 1-5 1-3 1-6 1-12 1-7 1-3 1-1 1 7 1 11 1 9 1 4 1 6 1 3 1 3 1 1 1 1 1 1 1 1 1-4 1 1 1 2 1-1 1-1 1-4 1-2 1-4 1-5 1-4 1 2 1 2 1 6 1 5 1 6 1 2 1 1 1 1 1 1 1 4 1 2 1-3 1 1 1 0 1 1 1 1 1-1 1 1 1 5 1-4 1 1 1-1 1-3 1 6 1-4 1 1 1-3 1 1 1 2 1 1 1 2 1-7 1 0 1-1 1 0 1 1 1-1 1 0 1 10 1-4 1 1 1 2 1-1 1-3 1 5 1 2 1-2 1-2 1 2 1 0 1 1 1-2 1-2 1 6 1-5 1 2 1 2 1-1 1-1 1 3 1-1 1 1 1-2 1 1 1 0 1 1 1-4 1 4 1-2 1 1 1 3 1-7 1 6 1-2 1-2 1 3 1 0 1 1 1 1 1 0 1-1 1 1 1-1 1 4 1-6 1 1 1 1 1 4 1-6 1 5 1-3 1-1 1 1 1-6 1 1 1 2 1-1 1 2 1 2 1 0 1 2 1-1 1 1 1 1 1 0 1 2 1 0 1-3 1 2 1 0 1 1 1 3 1-2 1 1 1-3 1 2 1 3 1-1 1 0 1-1 1-1 1 2 1-2 1 1 1-3 1 5 1-2 1-2 1 6 1-4 1 2 1-2 1 2 1 1 1-4 1 1 1-7 1 3 1-5 1 0 1-4 1-2 1-4 1-4 1 4 1 3 1 4 1 2 1 1 1 4 1 0 1 3 1 0 1 2 1 2 1 0 1-1 1 4 1 3 1-4 1 2 1 0 1 0 1 1 1 0 1-3 1 7 1-7 1 4 1 0 1 1 1-2 1 4 1-1 1-1 1 2 1-2 1 0 1 2 1-3 1 3 1 1 1-1 1 2 1-3 1-1 1-3 1 6 1-2 1-6 1 3 1-2 1 2 1-1 1 5 1-4 1 5 1-3 1-1 1 2 1 1 1 3 1-2 1 3 1 0 1-4 1 0 1 2 1 1 1-3 1 3 1-1 1 2 1 2 1-2 1 2 1-1 1-3 1 2 1 2 1-2 1 2 1-1 1-1 1 0 1-3 1 4 1 0 1 2 1-2 1 0 1 2 1 2 1-5 1 2 1-2 1 4 1 2 1-2 1-1 1 1 1 4 1-5 1-1 1 3 1-2 1 2 1 1 1-1 1 0 1 0 1-2 1 6 1-5 1 1 1 1 1-1 1 0 1-2 1 4 1-2 1-3 1 2 1 3 1-1 1-4 1 0 1 1 1-1 1-1 1-5 1 1 1-3 1 0 1-3 1 2 1 0 1 4 1 1 1 3 1 4 1-1 1 1 1 1 1-1 1 3 1-2 1 3 1-5 1 4 1-2 1 3 1-3 1 2 1 1 1-1 1 2 1 1 1-1 1 0 1 2 1 0 1-2 1 1 1-4 1 1 1 4 1 0 1 0 1 0 1 2 1-1 1 0 1-1 1 0 1 2 1-2 1 2 1-4 1 1 1 2 1-1 1 2 1-2 1-3 1 3 1 2 1 0 1-1 1-1 1 1 1 5 1-2 1-1 1-3 1 2 1 0 1 1 1-2 1 0 1 1 1 1 1 0 1 1 1 1 1-5 1 4 1-1 1-1 1 1 1 0 1 0 1-1 1 2 1-2 1 2 1-1 1 0 1 0 1 0 1 2 1-4 1 1 1 2 1-1 1 1 1-2 1 1 1 0 1 2 1-1 1-1 1 5 1 1 1 0 1-4 1-2 1 4 1-1 1-2 1 3 1-2 1-1 1 1 1-1 1 0 1 3 1-2 1 1 1-3 1-1 1 3 1 1 1-4 1 1 1 3 1-1 1-1 1-1 1 0 1 1 1-2 1 6 1-1 1-1 1 0 1 3 1-5 1 2 1-2 1 4 1-3 1 1 1-2 1 1 1 2 1 0 1 0 1 0 1-3 1 2 1 0 1 0 1 1 1 0 1-1 1 0 1-1 1-4 1 9 1-8 1 4 1-1 1-3 1 4 1-2 1 2 1-1 1-1 1 5 1-8 1 5 1-2 1 7 1-7 1 1 1 0 1 0 1-3 1 5 1-2 1-2 1 2 1 0 1 7 1-6 1-1 1 7 1-6 1 2 1-4 1 4 1-1 1 2 1-3 1-1 1 1 1 3 1-4 1-2 1 3 1 2 1-1 1 0 1 4 1 3 1-4 1 4 1-6 1-1 1-5 1 7 1-3 1 2 1-4 1-2 1 6 1 1 1 0 1 2 1-6 1 2 1-1 1 1 1 1 1-2 1 3 1-4 1 3 1 4 1-3 1-2 1 0 1-3 1 2 1 2 1 4 1-3 1 6 1-10 1 0 1 8 1-5 1-2 1-1 1 1 1 0 1-2 1 3 1-4 1 3 1-1 1-3 1 3 1-1 1 2 1 1 1 2 1-3 1 2 1 4 1-4 1 0 1 1 1-2 1 2 1-3 1 4 1 7 1-8 1 0 1-2 1 2 1-3 1 0 1 2 1 5 1-2 1-4 1-3 1 3 1 2 1-5 1 2 1 9 1-5 1-3 1 1 1 0 1 0 1-1 1 4 1 0 1-2 1 1 1 4 1-6 1 6 1-4 1-4 1 2 1 1 1 1 1-8 1 2 1 5 1-2 1 1 1 3 1-1 1 1 1-3 1 5 1-4 1 1 1-2 1 4 1-4 1 4 1-5 1 3 1 1 1-2 1 4 1-4 1 0 1 2 1-2 1 2 1 8 1-13 1 3 1 4 1 1 1-3 1 2 1-1 1-7 1 8 1-3 1 2 1-2 1 5 1-4 1 1 1 0 1-1 1 0 1-1 1 0 1-1 1 3 1-1 1 0 1 0 1 4 1-6 1-3 1 7 1-1 1-3 1 2 1 0 1-2 1-1 1-3 1 6 1-2 1 5 1-4 1 0 1-1 1 6 1-4 1-1 1 0 1 1 1 1 1-2 1 9 1-5 1-3 1-2 1 3 1-2 1 3 1-2 1 2 1-2 1 0 1-1 1 1 1 1 1-3 1-3 1 7 1 0 1-3 1 1 1 2 1 2 1-2 1-1 1 0 1-2 1 2 1-3 1-3 1 12 1-7 1-2 1-2 1 5 1-2 1 9 1-9 1 2 1-1 1-1 1-1 1 2 1 2 1 0 1-4 1 4 1 1 1-3 1-2 1 1 1 9 1-9 1 5 1-10 1 6 1-2 1 1 1-3 1 3 1-1 1 0 1-1 1 5 1 3 1 2 1-10 1 6 1-3 1 0 1-7 1 0 1 4 1 4 1-1 1-2 1 1 1-1 1 1 1-4 1 7 1-1 1 1 1-1 1-2 1 1 1-3 1 2 1 4 1-9 1 8 1 5 1-9 1 5 1-5 1 4 1-2 1-2 1 2 1 6 1-5 1 5 1-5 1 1 1-1 1 3 1 1 1-3 1-2 1-1 1 4 1-2 1-1 1 1 1-1 1-2 1 2 1-1 1 3 1-1 1-5 1 9 1-5 1-1 1-2 1 0 1 3 1-1 1 1 1-1 1-3 1 2 1 1 1 1 1-1 1-2 1 3 1 3 1-8 1 3 1-2 1 3 1 3 1-2 1 2 1-3 1 2 1 0 1 2 1-2 1-3 1 6 1-5 1 0 1-1 1 1 1 0 1 4 1-3 1 1 1-3 1-1 1 0 1 6 1-3 1-6 1 2 1 3 1-6 1 13 1-4 1-4 1 4 1-5 1 3 1-1 1 6 1-4 1-3 1 0 1 4 1-7 1 4 1 2 1-3 1-2 1 4 1 1 1 2 1-9 1 9 1-3 1 0 1-1 1-1 1 6 1-2 1-4 1-1 1 3 1 2 1-4 1 1 1 4 1 0 1-3 1-4 1 2 1 2 1-3 1 2 1-4 1 6 1-3 1 2 1 1 1-1 1 0 1-1 1 1 1 0 1-5 1 4 1 1 1-5 1 3 1-1 1-2 1 2 1-2 1 5 1-1 1-1 1 4 1-8 1 6 1 0 1-3 1 3 1 6 1-9 1 9 1-4 1-3 1-1 1 1 1-1 1 0 1-1 1 6 1-2 1 4 1-6 1 4 1-2 1 1 1 0 1 6 1-7 1 0 1-2 1 1 1 1 1 1 1-2 1 4 1-6 1-3 1 7 1 2 1 4 1-7 1 0 1-7 1 8 1-2 1 0 1-6 1 1 1 4 1-4V0"/><path transform="translate(135.44,637.49) scale(0.6692,1.0)" vector-effect="non-scaling-stroke" d="M0 0V-181l1-2 1 0 1 6 1 1 1-1 1-1 1 0 1 2 1 0 1 2 1 1 1-2 1 0 1-1 1 4 1 0 1-1 1 2 1 0 1 0 1 2 1-1 1 3 1-1 1-4 1 1 1 4 1-1 1 0 1 0 1 2 1 1 1 1 1 0 1-2 1-1 1 1 1 5 1 0 1 3 1 0 1-4 1 6 1-3 1 0 1 0 1 1 1-1 1 3 1-2 1 2 1 0 1 0 1 0 1 1 1 1 1-2 1 5 1-2 1 0 1 0 1 1 1 0 1-2 1 5 1 2 1-1 1-2 1 3 1 0 1 0 1 2 1 3 1-3 1 1 1 1 1 0 1 1 1 0 1-1 1-1 1 1 1-2 1 5 1-4 1 2 1 0 1 3 1-2 1 0 1 0 1 1 1 0 1 0 1 1 1-3 1 6 1-4 1 2 1 0 1 2 1-2 1-3 1 4 1 2 1 0 1-1 1-3 1 4 1 0 1 0 1 1 1 0 1 4 1-7 1 3 1 3 1-3 1 4 1-6 1 4 1 2 1-1 1-1 1-1 1 0 1 1 1 3 1-4 1-1 1 2 1 0 1-2 1 1 1 5 1 0 1-4 1-3 1 7 1-1 1-3 1-2 1 1 1 1 1 0 1 2 1 3 1-4 1 7 1-6 1 1 1 0 1 2 1-2 1 2 1-1 1 2 1-1 1-1 1 0 1 0 1 2 1 0 1-1 1-1 1 3 1-3 1 2 1 0 1 1 1-1 1 0 1 0 1-1 1 1 1 0 1 0 1 1 1-1 1 6 1-3 1-3 1 1 1 3 1 0 1-3 1-1 1-1 1 4 1-2 1 0 1 0 1 0 1 4 1-2 1 1 1-1 1 0 1 0 1 1 1-1 1 3 1-3 1 5 1 1 1-4 1 0 1-3 1 3 1 1 1 0 1 0 1-2 1 2 1 0 1 0 1-4 1 4 1-3 1 2 1 2 1-1 1-1 1 3 1 2 1-1 1-1 1-3 1 5 1-2 1-2 1 4 1-1 1 2 1-3 1-1 1 0 1 0 1 1 1-2 1 1 1 0 1-4 1 7 1-9 1 4 1-2 1-4 1-4 1-3 1-5 1-5 1-4 1 1 1 5 1 6 1 4 1 2 1 7 1 1 1 4 1 1 1-2 1 3 1 4 1-2 1 0 1 4 1-5 1 0 1-1 1 1 1 3 1-8 1 3 1-3 1 4 1 1 1-1 1 5 1 0 1 6 1-5 1 1 1-3 1 5 1 2 1-5 1 2 1 0 1 3 1-2 1-2 1 3 1 2 1-4 1 2 1 1 1 1 1 2 1-3 1 3 1-5 1 3 1-3 1 3 1 0 1 0 1-1 1 1 1 1 1 3 1-1 1-1 1 1 1-1 1 1 1-1 1 4 1-1 1-1 1 4 1-2 1-1 1 0 1 5 1-5 1 0 1 1 1 1 1-2 1 4 1-6 1 4 1-2 1 4 1-1 1-1 1-1 1 3 1-4 1 1 1 1 1 0 1-2 1-1 1 1 1-1 1 4 1-1 1 0 1 1 1 1 1 1 1-2 1 0 1 3 1-3 1 2 1 0 1 1 1 0 1-2 1 3 1-4 1 1 1-1 1 2 1-3 1 0 1-1 1 2 1 0 1 1 1-2 1 0 1 5 1-1 1 2 1 1 1 0 1 3 1-1 1 1 1-1 1-1 1-2 1 4 1 2 1-2 1 0 1 2 1-1 1 0 1 0 1 0 1-4 1 1 1 3 1 3 1-4 1 0 1 1 1 1 1-5 1 2 1 0 1 0 1-2 1 1 1-1 1-2 1 2 1-2 1-2 1-1 1-3 1 1 1-4 1-1 1 5 1-4 1 7 1-2 1 6 1 0 1 2 1 2 1 0 1 2 1 0 1 2 1-1 1 0 1-1 1 2 1 0 1 1 1-1 1 1 1-2 1 2 1-1 1 2 1 1 1 1 1 0 1 4 1-2 1-1 1 3 1-4 1-1 1 0 1 0 1 1 1 1 1 0 1 0 1 1 1 1 1-3 1 0 1 1 1-2 1 1 1-4 1 1 1 0 1 2 1 2 1-3 1 4 1 0 1-2 1 4 1-1 1 1 1 2 1-2 1-1 1 0 1 3 1-4 1 0 1 5 1-2 1 1 1-1 1-1 1 4 1-2 1 1 1 1 1-1 1 1 1 0 1 0 1-2 1 3 1-1 1-1 1 1 1 1 1 0 1-1 1 0 1 1 1-1 1 0 1 1 1 1 1 1 1-2 1 1 1-4 1 3 1 2 1-2 1 3 1-1 1 1 1-1 1 0 1 0 1 1 1 0 1 3 1-6 1 4 1-2 1 4 1-4 1 4 1-7 1 2 1 1 1 3 1-4 1-3 1-1 1 1 1 2 1-4 1-3 1-2 1-5 1-1 1-1 1-2 1 1 1 5 1 2 1 1 1 3 1 7 1-1 1 1 1 2 1-1 1 2 1 0 1 0 1 1 1 1 1 0 1 1 1-3 1 2 1-2 1 4 1 5 1-6 1-2 1 5 1-3 1 2 1 1 1 0 1 1 1-2 1-1 1 3 1-3 1 4 1-3 1 4 1-2 1-3 1 3 1 3 1-3 1 1 1-3 1 4 1-1 1 0 1 2 1 0 1-2 1 3 1-2 1-1 1 1 1 0 1 4 1-3 1-1 1 1 1-1 1-2 1 2 1 1 1 1 1-1 1 0 1 2 1-2 1 5 1-6 1 2 1 0 1-1 1 2 1 3 1-2 1-2 1 5 1-7 1 4 1-1 1-1 1-3 1 3 1 4 1-5 1 0 1 0 1 0 1 2 1 0 1 1 1-3 1 1 1 1 1-1 1 6 1-3 1 0 1-1 1 0 1 2 1-1 1 1 1-1 1 2 1-2 1-3 1 4 1-2 1 2 1-3 1 1 1 0 1 1 1 0 1-1 1 1 1 0 1 0 1 2 1-3 1 2 1-4 1 4 1 2 1-1 1-3 1 1 1-2 1 0 1-2 1 4 1 0 1 0 1-2 1 0 1-2 1 1 1 4 1 0 1-1 1 2 1 0 1 0 1-1 1 3 1-1 1-1 1 1 1 0 1 4 1-10 1 4 1 0 1-4 1 5 1-3 1 2 1 2 1-1 1-1 1-4 1 4 1 4 1-4 1-4 1 2 1 4 1 0 1 0 1-3 1 2 1 0 1-2 1 0 1 0 1 4 1-2 1 1 1-4 1 5 1-2 1-1 1 2 1-2 1 0 1 1 1 2 1-2 1 3 1-8 1 6 1-3 1 0 1 8 1-4 1-3 1 3 1 0 1-3 1 1 1 3 1-6 1 4 1-1 1 3 1-4 1 1 1 2 1-2 1 2 1-2 1-3 1 6 1 3 1-4 1 1 1 0 1-3 1 3 1-1 1 1 1-6 1 7 1 3 1 2 1 1 1-10 1 7 1-8 1 2 1 0 1-4 1-1 1 9 1-8 1 1 1 4 1-3 1 2 1 0 1-4 1 2 1-2 1-4 1 0 1 3 1 5 1-10 1 11 1-4 1 1 1 10 1-7 1 6 1-5 1-6 1 5 1-2 1 5 1-1 1 3 1-1 1 4 1-5 1-1 1 4 1-3 1-4 1 1 1-1 1 2 1 4 1-1 1-1 1-6 1 6 1 5 1-5 1 6 1-9 1 3 1-1 1 2 1-2 1 8 1-5 1-6 1 3 1-1 1-1 1 7 1-2 1-1 1 0 1-1 1 1 1-5 1 2 1 0 1-2 1 3 1 0 1 2 1 0 1 4 1-6 1 0 1 5 1-5 1 3 1-2 1 1 1-1 1-1 1 9 1-3 1-6 1 4 1 1 1-2 1 8 1 0 1-6 1-1 1 3 1-1 1-2 1-5 1 6 1-3 1-1 1 2 1 8 1-8 1 1 1-1 1 2 1 2 1-7 1 5 1-2 1 1 1-1 1-2 1 2 1-4 1 2 1 3 1-1 1 0 1 2 1-1 1-1 1 1 1-2 1 0 1 1 1 0 1 2 1 0 1 3 1-7 1 10 1-8 1 1 1 2 1-7 1-2 1 12 1-6 1-4 1 6 1-2 1 8 1-8 1 1 1-2 1 2 1 3 1-1 1-3 1 2 1-2 1-1 1 1 1 3 1-2 1-2 1 3 1 3 1-1 1-3 1-2 1-3 1 6 1-3 1 5 1 5 1-5 1-2 1-6 1 9 1-6 1 5 1-3 1 0 1 2 1-5 1 1 1 5 1-3 1 0 1 0 1 4 1-3 1-2 1-1 1 2 1-2 1-4 1 6 1-2 1-2 1 5 1-1 1-2 1 0 1-2 1-2 1 9 1-9 1 6 1 6 1-5 1-1 1 1 1-1 1-1 1 2 1 0 1-4 1 3 1-5 1 3 1 3 1 2 1-3 1 0 1 2 1-2 1 3 1-1 1-2 1 1 1 4 1-5 1 0 1-6 1 9 1 1 1-2 1-7 1 0 1 4 1 4 1-2 1 1 1-5 1 12 1-10 1 2 1 2 1-1 1 1 1-3 1-1 1-1 1 4 1-7 1 8 1-3 1 2 1 1 1 0 1 1 1-10 1 3 1 2 1 1 1-2 1 1 1 0 1-3 1 2 1 0 1-3 1 0 1-1 1 2 1 7 1-7 1-3 1 7 1 0 1-2 1 0 1 5 1-2 1-1 1 3 1-2 1 7 1-4 1-6 1 3 1 0 1 1 1-1 1-6 1 9 1-2 1-1 1 1 1-1 1 7 1-1 1-7 1 2 1-1 1 0 1 6 1-6 1 1 1 0 1-2 1 0 1 1 1-7 1 7 1-2 1 3 1-1 1-4 1 8 1-9 1 7 1-6 1 5 1-4 1 5 1-5 1 2 1-4 1 5 1 4 1-4 1 6 1-3 1-3 1 4 1-9 1 5 1-1 1 1 1 0 1-1 1 2 1 0 1-3 1-2 1 7 1-8 1 0 1 6 1-1 1 0 1 0 1 3 1-1 1 3 1-5 1 0 1 4 1-3 1 1 1-7 1 7 1 0 1 4 1-5 1 0 1-4 1 1 1-2 1 5 1 5 1-3 1 1 1 2 1-2 1-4 1 7 1-8 1 1 1-2 1 8 1-3 1 0 1-5 1 4 1-1 1-2 1 3 1-3 1 0 1-2 1 6 1-2 1 4 1-4 1 8 1-6 1-2 1 0 1 3 1-1 1 1 1-1 1 0 1-3 1-1 1 2 1 1 1 1 1 5 1-1 1-7 1 0 1 2 1 2 1-3 1 1 1-3 1 7 1-5 1 0 1 0 1 0 1-1 1 1 1-1 1 5V0"/><path transform="translate(130.31,643.41) scale(0.6692,1.0)" vector-effect="non-scaling-stroke" d="M0 0V-197l1-1 1 1 1 1 1 0 1 0 1 4 1-3 1 2 1 1 1 1 1 0 1 1 1 0 1 3 1-2 1 0 1 1 1 2 1 4 1-7 1 6 1-1 1-2 1 4 1 2 1-6 1 3 1 0 1 0 1 1 1 0 1 2 1 1 1 1 1 1 1-3 1 4 1 0 1 0 1-3 1 3 1 0 1 1 1 1 1-1 1 0 1 1 1 1 1-1 1 2 1 5 1-4 1 1 1 1 1-2 1 2 1 1 1 0 1 0 1 1 1 5 1-2 1-4 1 4 1 1 1-2 1 1 1 1 1 1 1-1 1-1 1 4 1 1 1 1 1-2 1-1 1 4 1-3 1 1 1 1 1 0 1 0 1 1 1 0 1 0 1-1 1 0 1 2 1 0 1 1 1-1 1 1 1 1 1 0 1-1 1 1 1 0 1 2 1-1 1 1 1 2 1-1 1 1 1-1 1-3 1 1 1 3 1-1 1-2 1 2 1 0 1-3 1 3 1 1 1 4 1-5 1 1 1 4 1-1 1-2 1 2 1 0 1 0 1 0 1-3 1 3 1 0 1-1 1-1 1 4 1-2 1 1 1 1 1-2 1 1 1 3 1-6 1 3 1 1 1 0 1 1 1 0 1 1 1-1 1 0 1-2 1 2 1 1 1 1 1-1 1-1 1 0 1 4 1-2 1 0 1-2 1 3 1 1 1-3 1 1 1 0 1-1 1 1 1 2 1 0 1-5 1 4 1-1 1-1 1 3 1 2 1-3 1 0 1 1 1-1 1-3 1 2 1 2 1-3 1 0 1 4 1-1 1 1 1 3 1-3 1 1 1 0 1 0 1-1 1 2 1 0 1-1 1 0 1-1 1 6 1-2 1-2 1-2 1 0 1 4 1-1 1 0 1 0 1 1 1 0 1-1 1 0 1 0 1 1 1-2 1 3 1 0 1-1 1 0 1 2 1 2 1-3 1 2 1-1 1 2 1 0 1-1 1 0 1-2 1 2 1 0 1 0 1 1 1-3 1 3 1 2 1-4 1 1 1 2 1 2 1-5 1 1 1 0 1-1 1 2 1-1 1-1 1 0 1-4 1 1 1 2 1-5 1-5 1-4 1-7 1-7 1-11 1-3 1 3 1 6 1 6 1 11 1 5 1 6 1 3 1 0 1 2 1 3 1 0 1 2 1-1 1-2 1 3 1-1 1-1 1 2 1-3 1-4 1-6 1 3 1-1 1 4 1 2 1 4 1 2 1 0 1 3 1-2 1 3 1 2 1 0 1 2 1-1 1 1 1-1 1 2 1-1 1 6 1-4 1 0 1-1 1 5 1-6 1 3 1 1 1-2 1-2 1 3 1 0 1-1 1-1 1 0 1-2 1 0 1 2 1 0 1-1 1 3 1 4 1-2 1 0 1 1 1 0 1 1 1 0 1 1 1-2 1 2 1-2 1 4 1 0 1 0 1 1 1-3 1 3 1-1 1 1 1 0 1-1 1 1 1 0 1 1 1-5 1 2 1 2 1-1 1 1 1 0 1-4 1 1 1 4 1-6 1 6 1-3 1 6 1-3 1 1 1 1 1-3 1 3 1 3 1-2 1 2 1-2 1-3 1 4 1 0 1 0 1 0 1-1 1-1 1-1 1-1 1-1 1 3 1 0 1-3 1 6 1 2 1-1 1 1 1 2 1 0 1 1 1 3 1-3 1 6 1-9 1 6 1-3 1 2 1 4 1-4 1 1 1-1 1-1 1 3 1 1 1-3 1 1 1 2 1-3 1 2 1 0 1 0 1 0 1 1 1-3 1 2 1-2 1 0 1 5 1-4 1-1 1-2 1 2 1-4 1-4 1 3 1-7 1-4 1-3 1-4 1-2 1 1 1 1 1 4 1 4 1 7 1 2 1 6 1-1 1 2 1 0 1 0 1 5 1-2 1 3 1 2 1-1 1 1 1-2 1 4 1-1 1 1 1 1 1-1 1 6 1-8 1 4 1 0 1 2 1-2 1 0 1 1 1 4 1-5 1 1 1 1 1-1 1-2 1 3 1-1 1 1 1 0 1 1 1 1 1-1 1-1 1-2 1 3 1-2 1 1 1-3 1 2 1 6 1-3 1 0 1-2 1 5 1-2 1 4 1 1 1 1 1-6 1 4 1 1 1 0 1-2 1 0 1 3 1-1 1 0 1-3 1 3 1 1 1 0 1 1 1-1 1 1 1 5 1-1 1-5 1 3 1 0 1-1 1 1 1 0 1 2 1-1 1-1 1 2 1-4 1 5 1 0 1-4 1 4 1-2 1 0 1 1 1 1 1 0 1 0 1 0 1 0 1-3 1 3 1 4 1-2 1 0 1 0 1-1 1 1 1-1 1-1 1 2 1 1 1-1 1 0 1 0 1-2 1 5 1-3 1 1 1 2 1-4 1 1 1-3 1-1 1-3 1-1 1-3 1-2 1-3 1-2 1 4 1 3 1 2 1 3 1 3 1 6 1-4 1 1 1 3 1 0 1-2 1 5 1-2 1 0 1 4 1-2 1 4 1-7 1 5 1 0 1-2 1 1 1-1 1 3 1-1 1 0 1 0 1 1 1-1 1 1 1-2 1 1 1 2 1-4 1 6 1-1 1-1 1 1 1 2 1-1 1 1 1-6 1 3 1 1 1-1 1 4 1-4 1 2 1-1 1 1 1-1 1 1 1-1 1 5 1-3 1-1 1 2 1-3 1-2 1 4 1-1 1-2 1 2 1 3 1-2 1 0 1 0 1 1 1 0 1 0 1 0 1-1 1 1 1-2 1 1 1-2 1 3 1 1 1-2 1 6 1-6 1 2 1-4 1 5 1 3 1-7 1 3 1-1 1 5 1-4 1 3 1-4 1 2 1-1 1 2 1-2 1 3 1-2 1-1 1 0 1-2 1 7 1-8 1 3 1 0 1 1 1-1 1 1 1 2 1-2 1 3 1-3 1 0 1 1 1-4 1 7 1-2 1 4 1-3 1-5 1 6 1-4 1 0 1 2 1 0 1 0 1-1 1-1 1 1 1 0 1 1 1-2 1 1 1-2 1 0 1 4 1 0 1-2 1 2 1-5 1 5 1 2 1-7 1 2 1 0 1 1 1-1 1 1 1 1 1 1 1-3 1 3 1 2 1-1 1-2 1-2 1 1 1-2 1 2 1 0 1 0 1 4 1-3 1-3 1 2 1-2 1 1 1 0 1-2 1 0 1-2 1-1 1 1 1-2 1 0 1 2 1 0 1 3 1 0 1 4 1-2 1-2 1 1 1 3 1 1 1-5 1 5 1-2 1 1 1-4 1 3 1 2 1-3 1-2 1 2 1 4 1-1 1-1 1 2 1-5 1 4 1-2 1 5 1-5 1 5 1-2 1-3 1 2 1-1 1 4 1-2 1 0 1 6 1-8 1 1 1 2 1 3 1-6 1-2 1 5 1-1 1 0 1 3 1 2 1-6 1-4 1 7 1-2 1 0 1 0 1 2 1-7 1 8 1 6 1-7 1 1 1-4 1 8 1-1 1-12 1 7 1-1 1-4 1 4 1-7 1 0 1-1 1 8 1-6 1 3 1 0 1-5 1 12 1-9 1 7 1-1 1 4 1-3 1-3 1 6 1-2 1 0 1 1 1 0 1-3 1 3 1-1 1 5 1-7 1 1 1-4 1 4 1 3 1-5 1 1 1 6 1-4 1-8 1 8 1-7 1 6 1-2 1 3 1 3 1 0 1-3 1 1 1-1 1 9 1-7 1 1 1-2 1 8 1-9 1-1 1 9 1-7 1-2 1 1 1-4 1 3 1 4 1-4 1 2 1 4 1-3 1-1 1 1 1-1 1 6 1-5 1 4 1 0 1-2 1-3 1 5 1-2 1-2 1 0 1 0 1 0 1-4 1 8 1-4 1 0 1 3 1-6 1 4 1 7 1-5 1 2 1 0 1-3 1-1 1-1 1 1 1 0 1-5 1 2 1 1 1 0 1 0 1-1 1-4 1 7 1 1 1-2 1 3 1-1 1-4 1 8 1-6 1 2 1-1 1 0 1 3 1-5 1 2 1-3 1 0 1 7 1-3 1 5 1-3 1-8 1 5 1 0 1-2 1 3 1 2 1-5 1 3 1 1 1 0 1-6 1 5 1-6 1 11 1-5 1-1 1 2 1-5 1 2 1-1 1 4 1-6 1 4 1 4 1-5 1-2 1 7 1-6 1-2 1 5 1-2 1-5 1 5 1 1 1 0 1-6 1 7 1-4 1 2 1-3 1 9 1-5 1 4 1-4 1 5 1-3 1-4 1 1 1 2 1-2 1 2 1-2 1 3 1 6 1-7 1-1 1-4 1 4 1 4 1-1 1-5 1 3 1 0 1 1 1-3 1 0 1-1 1-1 1 2 1 1 1-5 1 4 1 1 1 1 1 1 1-2 1-1 1-1 1 3 1 1 1-7 1 7 1 2 1-3 1 1 1 1 1 6 1-4 1-2 1-2 1 7 1-4 1-6 1-1 1 4 1 0 1-6 1 9 1-3 1-1 1-2 1 1 1 2 1 1 1 1 1-2 1-2 1-2 1 10 1-9 1 6 1-9 1 3 1 3 1 1 1-1 1 0 1-2 1-2 1 6 1-2 1 0 1 2 1 2 1-5 1 2 1-5 1 5 1-1 1-2 1 2 1 1 1-4 1-1 1 0 1 4 1-8 1 6 1-8 1 10 1-2 1 2 1-1 1 0 1 4 1-3 1 0 1 1 1-3 1-2 1 7 1-4 1 2 1-5 1 3 1-2 1-3 1 4 1-3 1 5 1 2 1-2 1 0 1 3 1 0 1-2 1 1 1-3 1-1 1 3 1 3 1-3 1-3 1 3 1-2 1 3 1-2 1-1 1 1 1-3 1 7 1-9 1 10 1 1 1-6 1 0 1-2 1 2 1 2 1-4 1 4 1-3 1-1 1 2 1-2 1 0 1 2 1 0 1 0 1 0 1 1 1-3 1 3 1-3 1-4 1 3 1 3 1-4 1 3 1 4 1-5 1 6 1 4 1-6 1-4 1 3 1-2 1 3 1 1 1-3 1 1 1-3 1 4 1 0 1 0 1 3 1-1 1-2 1-2 1 3 1-6 1-1 1 4 1 7 1-5 1-2 1 2 1-3 1 2 1 1 1-2 1 0 1-1 1 3 1-3 1 6 1-1 1-3 1 1 1-3 1 9 1-10 1 3 1 4 1-8 1 4 1 0 1-2 1 2 1 1 1-3 1 0 1-2 1 4 1-3 1 2 1 1 1-1 1 8 1-6 1-1 1 1 1 0 1 0 1 0 1 1 1-3 1 2 1-1 1 0 1-6 1 8 1-5 1 3 1 6 1-8 1 5 1-2 1-3 1-3V0"/><path transform="translate(125.19,649.34) scale(0.6692,1.0)" vector-effect="non-scaling-stroke" d="M0 0V-203l1 0 1 2 1 2 1-4 1 4 1 3 1-2 1 1 1 2 1-2 1 0 1 0 1-3 1 4 1-3 1 6 1-1 1 0 1 0 1-2 1 2 1 3 1-2 1 3 1 1 1-1 1 2 1-3 1 4 1 1 1 0 1 0 1 5 1-3 1 2 1 0 1-1 1 2 1 0 1 0 1 3 1-1 1-3 1-1 1 3 1 0 1 1 1 1 1 1 1-2 1 4 1-1 1 0 1 1 1 2 1-1 1 3 1-2 1 1 1 0 1 4 1-3 1 1 1-1 1 4 1 1 1-2 1 1 1-2 1 2 1 0 1 0 1 1 1 0 1 6 1-3 1-4 1 4 1 4 1-4 1 1 1 0 1 4 1-2 1-1 1 0 1 1 1 2 1-1 1-1 1 0 1 0 1 0 1 0 1 2 1 3 1-3 1-2 1 3 1-1 1 0 1 1 1 0 1 1 1-1 1 1 1 1 1 1 1-1 1 1 1 1 1 0 1 3 1-3 1 0 1 1 1-1 1 2 1-1 1 2 1-1 1 1 1 0 1-3 1 0 1 2 1 2 1-1 1 2 1 1 1-4 1 2 1 1 1-2 1 2 1-2 1 4 1-1 1-2 1 1 1 4 1-5 1 2 1 0 1 2 1-2 1 3 1-4 1 1 1 0 1 1 1 0 1-2 1 3 1 0 1-2 1 2 1-1 1-1 1 1 1 1 1 2 1 1 1-4 1-1 1 1 1 1 1 5 1-5 1 1 1 0 1 2 1 0 1-2 1-3 1 4 1 0 1 0 1 0 1 2 1-1 1 2 1-3 1-1 1-1 1 4 1 3 1-3 1 2 1-1 1-1 1-1 1-2 1 7 1-4 1 0 1 1 1 3 1-3 1 4 1-2 1-1 1 3 1-1 1 1 1 0 1-3 1 0 1 1 1 2 1-3 1 4 1-2 1-1 1 2 1 1 1-1 1 0 1-1 1 0 1-2 1 2 1 0 1 1 1-1 1 1 1 2 1-1 1 0 1 0 1-1 1 0 1 2 1-5 1 4 1-2 1 1 1-1 1 2 1 0 1 1 1-1 1-3 1-2 1 1 1-6 1 0 1-3 1-3 1-10 1-8 1-10 1-6 1 4 1 6 1 11 1 10 1 3 1 6 1 0 1 8 1-3 1 7 1-5 1 3 1-4 1 4 1 2 1-2 1-4 1 2 1-6 1-4 1-3 1-2 1 5 1 0 1 4 1 4 1 4 1 2 1 6 1-3 1 4 1 1 1-2 1 4 1-3 1 4 1-1 1 4 1-2 1-2 1 2 1-2 1-1 1 1 1 0 1 1 1 0 1 3 1-2 1 1 1-1 1 0 1-2 1-2 1-2 1 1 1-1 1 0 1 2 1 0 1 4 1-2 1 6 1-1 1 3 1-1 1 0 1 3 1-1 1 3 1-5 1 2 1-1 1 2 1-1 1 1 1 1 1 4 1-4 1 0 1-1 1 1 1 1 1-1 1-3 1 4 1-2 1 2 1-2 1-3 1 3 1 0 1 1 1-3 1 1 1 4 1-2 1-4 1 5 1 0 1 3 1-1 1 0 1 2 1 1 1 1 1-3 1 2 1 4 1-6 1 6 1-2 1 0 1 0 1-3 1 1 1 1 1-2 1 1 1 4 1-5 1 7 1 0 1-2 1 3 1-1 1 1 1-3 1 3 1-3 1 3 1 1 1 2 1-1 1-3 1 3 1-2 1 3 1 1 1-1 1-1 1-1 1-1 1 4 1 0 1-2 1 0 1-1 1 0 1-2 1 2 1-1 1 3 1-5 1 6 1-8 1 4 1-4 1 0 1-6 1 0 1-4 1-2 1-9 1-3 1-2 1 2 1 4 1 5 1 3 1 5 1 4 1 3 1 5 1-1 1 3 1 2 1 1 1-1 1 0 1 2 1 1 1 4 1-1 1 3 1-1 1-2 1-1 1 1 1 3 1 0 1 0 1 0 1 3 1-1 1 0 1 2 1-5 1 3 1 2 1-1 1 1 1 2 1-5 1 5 1 1 1-7 1 6 1-3 1 1 1 1 1-2 1-4 1-1 1 0 1-2 1 7 1-4 1 2 1 2 1 3 1-2 1-2 1 4 1 2 1-1 1 0 1 1 1 0 1 0 1 4 1 0 1-2 1-2 1 1 1 2 1 1 1 1 1-1 1 2 1-2 1 0 1 6 1-2 1-4 1 1 1 2 1 0 1-1 1 2 1-1 1-1 1 3 1-4 1 3 1-5 1 5 1-1 1 3 1-4 1 7 1-4 1 0 1 0 1 1 1 1 1-2 1 2 1-1 1 0 1 0 1 6 1-3 1 0 1-1 1-1 1-1 1 3 1-2 1 2 1-1 1 0 1 3 1-3 1-1 1 2 1-1 1 1 1 2 1-4 1 3 1 0 1 3 1-6 1-1 1 0 1 0 1 1 1-1 1 3 1 1 1-2 1 6 1 0 1-2 1 2 1-2 1 0 1 1 1 0 1-2 1 3 1 1 1-2 1 1 1 0 1 0 1 1 1-4 1 4 1 3 1-3 1 0 1-1 1 3 1 0 1 1 1-1 1 0 1 1 1 0 1 0 1 1 1 0 1-3 1 3 1 1 1 0 1-1 1 0 1 0 1-1 1 1 1-1 1 0 1 2 1-1 1 1 1 0 1-2 1 2 1 0 1 0 1 1 1 0 1 0 1-3 1 3 1-1 1-1 1 3 1 0 1 0 1-3 1 1 1-1 1 4 1-3 1 2 1 0 1 4 1-3 1-1 1 1 1-2 1 1 1-3 1 3 1-1 1 2 1 0 1 1 1 3 1-4 1 3 1-3 1 2 1-3 1 0 1 2 1-3 1 2 1 0 1 2 1-2 1 2 1 0 1 0 1 2 1-2 1 2 1-3 1 1 1-1 1 3 1-2 1-2 1 1 1 0 1-1 1-1 1-1 1 3 1 1 1-1 1 0 1-4 1 4 1 0 1-2 1 5 1-2 1-4 1 2 1 2 1-2 1 1 1 1 1-1 1 1 1 1 1-1 1-2 1 1 1 3 1-2 1 0 1 4 1-2 1-3 1 1 1 1 1 2 1 1 1 2 1-5 1 0 1 0 1-1 1-4 1 1 1-2 1 3 1 3 1-2 1 3 1-3 1 0 1 0 1 0 1 0 1-1 1 4 1-7 1 2 1 0 1 0 1-2 1-3 1 0 1 2 1-2 1-3 1 4 1 0 1 5 1-1 1 0 1-1 1 10 1-5 1-1 1 0 1 5 1-7 1 5 1-2 1 1 1 1 1-5 1 7 1-2 1-5 1 8 1-2 1-1 1 1 1 4 1-5 1 0 1 3 1-3 1 1 1 4 1-5 1-4 1 8 1-4 1 0 1 1 1-1 1 0 1 0 1 1 1 1 1 1 1-7 1 5 1-2 1 3 1-1 1-2 1 1 1-1 1 4 1-3 1 1 1-4 1 4 1-1 1-2 1 4 1-1 1-4 1 6 1-2 1-1 1 0 1 1 1-4 1-7 1 2 1-3 1 7 1-1 1 2 1-1 1 0 1-3 1 7 1 0 1 10 1-8 1 2 1-5 1 2 1 0 1-3 1 3 1 5 1-7 1 1 1 3 1-6 1 7 1 1 1-2 1-1 1 2 1-2 1 4 1-5 1 0 1-6 1 6 1 2 1 0 1 2 1-4 1 2 1 1 1-4 1 5 1-2 1 0 1-1 1 2 1 1 1 3 1-3 1 2 1-3 1 1 1 0 1-3 1 4 1-1 1 1 1-2 1-2 1 3 1-2 1 0 1 3 1-4 1 5 1-7 1 7 1 5 1-6 1-7 1 7 1 1 1-3 1 2 1 1 1 1 1-6 1 3 1-4 1 4 1 0 1-1 1 1 1 7 1-6 1-2 1 9 1-6 1-5 1 3 1 7 1-9 1 0 1 1 1 0 1 4 1-10 1 3 1 11 1-6 1 5 1-7 1-1 1 1 1 3 1-6 1 9 1 0 1-5 1-2 1 1 1 2 1-4 1 8 1-5 1-6 1 8 1-1 1-7 1 0 1 3 1-3 1 3 1 7 1-3 1 1 1-1 1-2 1 3 1-4 1 4 1-1 1 1 1-1 1 0 1 3 1-1 1-3 1 4 1-4 1 2 1-1 1-1 1-3 1 4 1 1 1-2 1 3 1 0 1 0 1-1 1-1 1 0 1 0 1 1 1-6 1 1 1-1 1 5 1 0 1 1 1 1 1-3 1 0 1 0 1-5 1 3 1 1 1 3 1-2 1-1 1 1 1 1 1-2 1-1 1 3 1-2 1 3 1-4 1-5 1 10 1-3 1-2 1-1 1 0 1-3 1 0 1-3 1 5 1 2 1 4 1-4 1 4 1 0 1-1 1-1 1 2 1-8 1 4 1 0 1 5 1-3 1 3 1-1 1-2 1 2 1 0 1-1 1-1 1 4 1-4 1 0 1-1 1 6 1-3 1-2 1 2 1-6 1 3 1 1 1 0 1 0 1 0 1-1 1 2 1 3 1 1 1 4 1-10 1 1 1 3 1-2 1 2 1 0 1-7 1 3 1 0 1 3 1 0 1 1 1-5 1 8 1-2 1-3 1 2 1-8 1 9 1-2 1-5 1 4 1-1 1 1 1 0 1-2 1-6 1 7 1-9 1 6 1-2 1 3 1 1 1 1 1-2 1 10 1-10 1 2 1 3 1-8 1 5 1 0 1 1 1-5 1 6 1-3 1 6 1-1 1 0 1-5 1-3 1 6 1 0 1 2 1-3 1 4 1-6 1-4 1 5 1 0 1-1 1-1 1 2 1 0 1 2 1 1 1-4 1 5 1-9 1 4 1 3 1-3 1 3 1 1 1-3 1 1 1 7 1-5 1-3 1 3 1-1 1 0 1-4 1 4 1 2 1 4 1-5 1-1 1-4 1 8 1-5 1-2 1 5 1-4 1-2 1 3 1 2 1-2 1-1 1-1 1 2 1 0 1 4 1-5 1-5 1 10 1-6 1-2 1 5 1-1 1 0 1 3 1-5 1 3 1 3 1-3 1 3 1-5 1 2 1-3 1-3 1 10 1-4 1-1 1 3 1-7 1 2 1 2 1 0 1 1 1 7 1-5 1-3 1 0 1 0 1 1 1 6 1-5 1 1 1-8 1 6 1 0 1 4 1-4 1 0 1-4 1 6 1-2 1 0 1-1 1 1 1 5 1-4 1-4 1 8 1-5 1 4 1-1 1-5 1 5 1 1 1-4 1 6 1-12 1 4 1 1 1-3 1 4 1-2 1 1 1 4 1-3 1 1 1-2 1-1 1-3 1 4 1 0 1 0 1-2 1 3 1-2V0"/><path transform="translate(120.06,655.26) scale(0.6692,1.0)" vector-effect="non-scaling-stroke" d="M0 0V-224l1 2 1-4 1 5 1-1 1 2 1 1 1-2 1 2 1 0 1 3 1-2 1 3 1-2 1 1 1 0 1-1 1 4 1-1 1 2 1 0 1 1 1-3 1 4 1 2 1 0 1 0 1 3 1 0 1-1 1 1 1 1 1 3 1-2 1 2 1-1 1 0 1 5 1-5 1 2 1 1 1 0 1 1 1 2 1-2 1 1 1 1 1 1 1 2 1 2 1 0 1 0 1 0 1-1 1 2 1 1 1 0 1 2 1-1 1-2 1 2 1 0 1 1 1 2 1 1 1-2 1 2 1 1 1-2 1 4 1 1 1 0 1 2 1-2 1 1 1-1 1 3 1-3 1 3 1 0 1 1 1-2 1 2 1 0 1 1 1 1 1 0 1 0 1 0 1 0 1 2 1-4 1 2 1 3 1-2 1 2 1 2 1-1 1 1 1-2 1 2 1-1 1 2 1 1 1-1 1-1 1 0 1 2 1 0 1-1 1 2 1 4 1-4 1 1 1 1 1-3 1 2 1 2 1 0 1 5 1-5 1 1 1 2 1-3 1 1 1 0 1 3 1-1 1-4 1 5 1-2 1 4 1-4 1-1 1 1 1-3 1 0 1 3 1 0 1 1 1-1 1 2 1-1 1-3 1 2 1 0 1 4 1 0 1 0 1-4 1 4 1-1 1 2 1-1 1 2 1 0 1 1 1-5 1 5 1-1 1-1 1 4 1-3 1 1 1 0 1 3 1-4 1 0 1 4 1-4 1-2 1 2 1-2 1 3 1-1 1 1 1 0 1-1 1 1 1 2 1-1 1 1 1-1 1 2 1 0 1-4 1 3 1 3 1-2 1 5 1 0 1-5 1 3 1-2 1 0 1 3 1-3 1 4 1-4 1 3 1-3 1 1 1 0 1 0 1 3 1-1 1 0 1-2 1 1 1 3 1-2 1 0 1-2 1 2 1 2 1-1 1-4 1 5 1 0 1 1 1 2 1-4 1 1 1 3 1-1 1-2 1 1 1 0 1 0 1 1 1-4 1 4 1-2 1 1 1-1 1 1 1 2 1-1 1 0 1-1 1 0 1-3 1 5 1-6 1-1 1-1 1 0 1 2 1-5 1-4 1-7 1-5 1-6 1 1 1-5 1 6 1 6 1 8 1 3 1 7 1 4 1 1 1 1 1 1 1 0 1 1 1 1 1-1 1 2 1-3 1 1 1-2 1-4 1-6 1-4 1-2 1-1 1 6 1 5 1 6 1-1 1 6 1 3 1 2 1 0 1 2 1 1 1 1 1-3 1 3 1 1 1 1 1-5 1 5 1-1 1 1 1 0 1 0 1-2 1 0 1 3 1 1 1 0 1 0 1 0 1 2 1 0 1-5 1 1 1 3 1-1 1 1 1 1 1-2 1 4 1 0 1 2 1-4 1 1 1 6 1-6 1 2 1 1 1 1 1 0 1 0 1 0 1 6 1-6 1 2 1 1 1 2 1-4 1 1 1 1 1 0 1 3 1-3 1-1 1-2 1 4 1-3 1 1 1 4 1-1 1 0 1-3 1-1 1 2 1 0 1-1 1 3 1 2 1-3 1 2 1 1 1 0 1 0 1 0 1 1 1 2 1-3 1 0 1 0 1 1 1 0 1 0 1-3 1-2 1-3 1 1 1-2 1 3 1 1 1 3 1-1 1 5 1 3 1 0 1 1 1 0 1 0 1 1 1 1 1 0 1 0 1 2 1 0 1 1 1-1 1-2 1-1 1 6 1 0 1 1 1-2 1-2 1 3 1 3 1-6 1 4 1 0 1-2 1 3 1-2 1 0 1 0 1-1 1-1 1 3 1-4 1-3 1 0 1 2 1-2 1-7 1 1 1-5 1-2 1-1 1 0 1 5 1 2 1 5 1 1 1 0 1 6 1 1 1 4 1 3 1-3 1 1 1 0 1 3 1-2 1 1 1 3 1-2 1 3 1-1 1-1 1 0 1-1 1 3 1 0 1 0 1 2 1 0 1 0 1-1 1 3 1-2 1 0 1 1 1 1 1-3 1 2 1 1 1-2 1 0 1 0 1 1 1 0 1 0 1 0 1-1 1-2 1 5 1-5 1-2 1 2 1 6 1-1 1 3 1-1 1 1 1-1 1-2 1 4 1 1 1 2 1-1 1 2 1-4 1 3 1-1 1 0 1-1 1-1 1 2 1 3 1-2 1 0 1-2 1 1 1-1 1 1 1 4 1 1 1-2 1 0 1 1 1 0 1 1 1-2 1 2 1 1 1 2 1-5 1 2 1-2 1 4 1-3 1 1 1 3 1 1 1 1 1-3 1-1 1 2 1-1 1 1 1 1 1-1 1 1 1 1 1 0 1 3 1-1 1-1 1 2 1-1 1 1 1-2 1 1 1 4 1-2 1-2 1 1 1-1 1 1 1-1 1 1 1-2 1 2 1-5 1 2 1-3 1-2 1 0 1 0 1-1 1 5 1 2 1-4 1 7 1-5 1 3 1 2 1-1 1 7 1-4 1-3 1-1 1 0 1 5 1 1 1-1 1-1 1 3 1 0 1 0 1-1 1 2 1 0 1 0 1-2 1 2 1 2 1-2 1 0 1 3 1-1 1 0 1 0 1-2 1 3 1 1 1-5 1 4 1 1 1-3 1 4 1-2 1 0 1 2 1-3 1 4 1-2 1 0 1-4 1 0 1 5 1 0 1-1 1 2 1-2 1 1 1 0 1-2 1 0 1 1 1-2 1 3 1 1 1-1 1 2 1-5 1 3 1 3 1 0 1-5 1 0 1 2 1-1 1-1 1 1 1 1 1 2 1-3 1 1 1 0 1 0 1 1 1 0 1 0 1 1 1 0 1-1 1 1 1 4 1-5 1-1 1 1 1-1 1 4 1-1 1 0 1 0 1 2 1-2 1 3 1-5 1-1 1 2 1 1 1-1 1 1 1-3 1 6 1-2 1 1 1-3 1 0 1 2 1 1 1-3 1 2 1 5 1-4 1-2 1 2 1 3 1-7 1 4 1-4 1 1 1 3 1-4 1 0 1 4 1-3 1 0 1 1 1 0 1-2 1 3 1 0 1-2 1 1 1 0 1 3 1 4 1-5 1 0 1 3 1-7 1 2 1 1 1 0 1 1 1-1 1 6 1-6 1 0 1-1 1 1 1 2 1-2 1 1 1-2 1 5 1-5 1 3 1-2 1-2 1 0 1 2 1 1 1-4 1-4 1 3 1 3 1-6 1 4 1-3 1 3 1 1 1-2 1 3 1-2 1 5 1 3 1-4 1 1 1-1 1-2 1-1 1 6 1-3 1 3 1-2 1-4 1 2 1 2 1-1 1 1 1 1 1-4 1 4 1-1 1 1 1 1 1-3 1 2 1 0 1-1 1 1 1-3 1 3 1 6 1-3 1-3 1 1 1 2 1-4 1 8 1-6 1 1 1-2 1 2 1 1 1 0 1-3 1 3 1-2 1 0 1 2 1-5 1 3 1-1 1 4 1-4 1 9 1-8 1 1 1-2 1 0 1 3 1 0 1-8 1-2 1 12 1-9 1 1 1-3 1-2 1 7 1-6 1 2 1 2 1 0 1 6 1-6 1 4 1-2 1 5 1-2 1 5 1-4 1-1 1-6 1 3 1-2 1 7 1 1 1-4 1 1 1 0 1-5 1 3 1 2 1-2 1 1 1 3 1-8 1 6 1 4 1-5 1 2 1-7 1 6 1 9 1-4 1-4 1 0 1 5 1-4 1-1 1 9 1-10 1 0 1-5 1 4 1 4 1 0 1 1 1-2 1-1 1-3 1 1 1 3 1-5 1 5 1 0 1 1 1-2 1 5 1-10 1 8 1-4 1 3 1 0 1-1 1 1 1-2 1 4 1 0 1-1 1 3 1-2 1 0 1-1 1-1 1 1 1-1 1 1 1-1 1-4 1 5 1-1 1-2 1 0 1 2 1 0 1 0 1 3 1-4 1 4 1-7 1 8 1-4 1 2 1-1 1-3 1 2 1 3 1 2 1-3 1 0 1 0 1-2 1-3 1 3 1 7 1-4 1-2 1-1 1 8 1-9 1 0 1 3 1-1 1-5 1 3 1 2 1-1 1 7 1-12 1 8 1-2 1 0 1 0 1 3 1 0 1 1 1-3 1 2 1-1 1-4 1 6 1-2 1-4 1 4 1-3 1 0 1 0 1 4 1-4 1 4 1 0 1-5 1 5 1-1 1 0 1-2 1 2 1-4 1 4 1-1 1 1 1 5 1-12 1 7 1-5 1 7 1-4 1-2 1 2 1 2 1 1 1 3 1-9 1 3 1 2 1 5 1-8 1 10 1-11 1 2 1-2 1 3 1-4 1 8 1-5 1-1 1 4 1-8 1 8 1-2 1 0 1-3 1-2 1 5 1 0 1 2 1-3 1-1 1-6 1 7 1 2 1 0 1-3 1 0 1-2 1 0 1-1 1 8 1-3 1 0 1-1 1 0 1-3 1 2 1 0 1 0 1-1 1 7 1-6 1 8 1-5 1 1 1-1 1-6 1 6 1-1 1-1 1 0 1 3 1 2 1-5 1 2 1-2 1 2 1 3 1-3 1 0 1 6 1-6 1 2 1-2 1-3 1 4 1-3 1 0 1 0 1 1 1 0 1-1 1 1 1 6 1-9 1 6 1-1 1 1 1-4 1 5 1 0 1-5 1 1 1 0 1-4 1 2 1 1 1-4 1 3 1-2 1 2 1-3 1 11 1-5 1-1 1-3 1 0 1 4 1-2 1 1 1-1 1 2 1 3 1-3 1-2 1 2 1-2 1 2 1 2 1-2 1 0 1 0 1-5 1 4 1-1 1-1 1-3 1 4 1 1 1 1 1 0 1-1 1-6 1 5 1 1 1-2 1 1 1 0 1 7 1-11 1 6 1-1 1 6 1-5 1 2 1 0 1-1 1-1 1-1 1-5 1 6 1 0 1 0 1 3 1-2 1-4 1 4 1-3 1-1 1 3 1 0 1-2 1-2 1-3 1 6 1 1 1 0 1-1 1 0 1-1 1 3 1-2 1 0 1 4 1-5 1 0 1-2 1 7 1-5 1 0 1 3 1 0 1 0 1 2 1-3 1 2 1-4 1-1 1 1 1 1 1 1 1-4 1 6 1-2 1 1 1-7 1 2 1 3 1 0 1 8 1-5 1-3 1 0 1 4 1-2 1 1 1-2 1-7 1 1 1 6 1 3 1 4 1-6 1-2 1-1 1 0 1 2 1 2 1-1 1-4 1 2 1 1 1 1 1-2 1-2 1 4 1-3 1 5 1-4 1-1 1 6 1-9 1-2 1 1 1 7 1-5 1 4 1 1 1 6 1-5 1-6 1 0 1 4 1-6 1 5 1 0 1 1 1 7V0"/><path transform="translate(114.93,661.18) scale(0.6692,1.0)" vector-effect="non-scaling-stroke" d="M0 0V-188l1 3 1 0 1 0 1-1 1 5 1 0 1-1 1 3 1-1 1 0 1 1 1-2 1 0 1 3 1 1 1-1 1-1 1 3 1-1 1 1 1 2 1-1 1 3 1 1 1-1 1 5 1 0 1-4 1 1 1 1 1-1 1 1 1 0 1 0 1 2 1 1 1-1 1 1 1 0 1 2 1-2 1 1 1 2 1 0 1-4 1 9 1-6 1 2 1 0 1 1 1-2 1 3 1 1 1 3 1-2 1 1 1 1 1 0 1 0 1 1 1 1 1 2 1-2 1-3 1 6 1-2 1 0 1 1 1 0 1 5 1-6 1 8 1-3 1-4 1 4 1 3 1-2 1-1 1 1 1 3 1-1 1-1 1 1 1-1 1 1 1 0 1-2 1 4 1-1 1-4 1 3 1-1 1 7 1-4 1 3 1-3 1 0 1 2 1 1 1-1 1-1 1 0 1 0 1 1 1 1 1 4 1-3 1 2 1-1 1-2 1 0 1-2 1 5 1-2 1 2 1 2 1-3 1 0 1 0 1 1 1 0 1 0 1-1 1 1 1 0 1 4 1-1 1-3 1 1 1 2 1-2 1 1 1 0 1 4 1-3 1-1 1 6 1-4 1 4 1-4 1-3 1 4 1-1 1 1 1 0 1-1 1 2 1 3 1-2 1-1 1-2 1 2 1-1 1-2 1 1 1 4 1-2 1-1 1-1 1 1 1 0 1 1 1 0 1 0 1 1 1 1 1-1 1 0 1 3 1-2 1-2 1 2 1-2 1 2 1-1 1 3 1 0 1-1 1 0 1 1 1 1 1 1 1-1 1 0 1-1 1 0 1 0 1 4 1-5 1 2 1 1 1-1 1 1 1-1 1 4 1-4 1 1 1-2 1 2 1 1 1 1 1-2 1 1 1-1 1 0 1 0 1 0 1 2 1-2 1 2 1-1 1 1 1 1 1-5 1 3 1 0 1 1 1-4 1 1 1 2 1-2 1 0 1 0 1 3 1-1 1 3 1-2 1-1 1 0 1 2 1 2 1-1 1-5 1 3 1 1 1-2 1 0 1 0 1 1 1-1 1-2 1 0 1-1 1 3 1-5 1-3 1-3 1-5 1-5 1-12 1-6 1-12 1-10 1 2 1 10 1 9 1 12 1 14 1 2 1 7 1 1 1 4 1 2 1 1 1-3 1 3 1 3 1 0 1-2 1 0 1 1 1-1 1-4 1 1 1 4 1-4 1 3 1 2 1 2 1 0 1 2 1 3 1-2 1 2 1-1 1 1 1 0 1 2 1-1 1 1 1 0 1 1 1-1 1 2 1-2 1 3 1-1 1 1 1-1 1-2 1 1 1 0 1 0 1 1 1-4 1 1 1 0 1 1 1-2 1 2 1 2 1-1 1 1 1-1 1 3 1 0 1 4 1-2 1-3 1 6 1-4 1 7 1-3 1-5 1 3 1 2 1-3 1 1 1 1 1 0 1 2 1-2 1 4 1-2 1 0 1 0 1 0 1 0 1 3 1 0 1-1 1-2 1 2 1 1 1-2 1-2 1 3 1 1 1 3 1-6 1-1 1 4 1-1 1 1 1 0 1 2 1-1 1-1 1-1 1 3 1-1 1 1 1-3 1 1 1 0 1-1 1 2 1-2 1-1 1-1 1 1 1 0 1 2 1-2 1 9 1-3 1 0 1 1 1-1 1 1 1 0 1-2 1 4 1 0 1-2 1 1 1 0 1 1 1-2 1 1 1 0 1 2 1-2 1 1 1 1 1-1 1 2 1 0 1 3 1-7 1 2 1 1 1 5 1-5 1-1 1 3 1-5 1 1 1 1 1-2 1-3 1 0 1 0 1-1 1-6 1 0 1-7 1-4 1-3 1 3 1 2 1 6 1 2 1 5 1 0 1 4 1 5 1-1 1 2 1 2 1 1 1 2 1-1 1 1 1 0 1 0 1 1 1 1 1-2 1 2 1 1 1 1 1-2 1 2 1 0 1-1 1-1 1 1 1 0 1 0 1-2 1 2 1 0 1 0 1 6 1-5 1-1 1 1 1 0 1 1 1 3 1 1 1-6 1 3 1-1 1-2 1-1 1-1 1 1 1 2 1-1 1 1 1 3 1 1 1-5 1 3 1 1 1-3 1 5 1-2 1 3 1 0 1 5 1-5 1 1 1 0 1 1 1-3 1 2 1-2 1 3 1-2 1 1 1 3 1-3 1 1 1-1 1 2 1-1 1 1 1-2 1 3 1 1 1-2 1 0 1 2 1 0 1-2 1 0 1 4 1-4 1 2 1 2 1 1 1 1 1-7 1 4 1 3 1-5 1 0 1 1 1 1 1 1 1 0 1 1 1-2 1-1 1 8 1-7 1 3 1 1 1-2 1-3 1 5 1-4 1 1 1 0 1 3 1 0 1 2 1-5 1 3 1-2 1-1 1-4 1 2 1-2 1 0 1-2 1 1 1 2 1-5 1 5 1 3 1 1 1 1 1-1 1 3 1-1 1 0 1 1 1 1 1-2 1 2 1 0 1 0 1-2 1 2 1 0 1 0 1 2 1-2 1 3 1-4 1 3 1 0 1 1 1-3 1 1 1 2 1 3 1-1 1-1 1 0 1 1 1-2 1 3 1-5 1 1 1-2 1 3 1 1 1 0 1-2 1 2 1 1 1 1 1-5 1 3 1 2 1-1 1 1 1 2 1-7 1 1 1 1 1 4 1-1 1-1 1 2 1-1 1-1 1 1 1-1 1 3 1-2 1 0 1-1 1-2 1 1 1 1 1 2 1 2 1-3 1 4 1-1 1-2 1 1 1 0 1 0 1-4 1 4 1 1 1-2 1 1 1-1 1 2 1 0 1 0 1 1 1-1 1 0 1-1 1 2 1 0 1-1 1 0 1-1 1 1 1-1 1-1 1 3 1-2 1 3 1-3 1 0 1 0 1 1 1 4 1-4 1 0 1 0 1 1 1-1 1 1 1-2 1 4 1-2 1-1 1 1 1 3 1-5 1 2 1 0 1-2 1-1 1 3 1-1 1 0 1 2 1-1 1 2 1-6 1 3 1 3 1-5 1 3 1 1 1 1 1-1 1 0 1 2 1-1 1 0 1 1 1-2 1 0 1-2 1 2 1-1 1-2 1 1 1 2 1 3 1-3 1 2 1-2 1 1 1-1 1-1 1 1 1-1 1 1 1 0 1-1 1 1 1 0 1-3 1 1 1-6 1 4 1-1 1 3 1-5 1 1 1 0 1 0 1 2 1 7 1 0 1-5 1 4 1-1 1 2 1-4 1-4 1 5 1 0 1-1 1 1 1 1 1-1 1 5 1-2 1 5 1-7 1 4 1 0 1-9 1 1 1 4 1 2 1 1 1 4 1-9 1 1 1 1 1-2 1 0 1 3 1-1 1 0 1 0 1-2 1 3 1 0 1 5 1-4 1 1 1-4 1 5 1-2 1 0 1 1 1 2 1-6 1 4 1 2 1-1 1-2 1 2 1-3 1-5 1 6 1 2 1-5 1 4 1-1 1-3 1 0 1 4 1-3 1-2 1 1 1-3 1-2 1 2 1 1 1 1 1 1 1 8 1-7 1-3 1 3 1 4 1-1 1 0 1-2 1 3 1-1 1-1 1 2 1-1 1 3 1-3 1 0 1 1 1-1 1 0 1 2 1-3 1-5 1 9 1-2 1 4 1-6 1 1 1-2 1 1 1 0 1-1 1 1 1 10 1-7 1-1 1-1 1 1 1 0 1 0 1 0 1 0 1-1 1 1 1 2 1 1 1-3 1-3 1 5 1-6 1 0 1 5 1 3 1-6 1 1 1 2 1 2 1-5 1 1 1 2 1 3 1-3 1-2 1 6 1-7 1 5 1-4 1 1 1 1 1 3 1-5 1 5 1-4 1 1 1 0 1 0 1 2 1-1 1-1 1 0 1 2 1-2 1-1 1 3 1-1 1-1 1 1 1 0 1 0 1 1 1-1 1 0 1-3 1 2 1 0 1 1 1 2 1-3 1 1 1-3 1 1 1 1 1 3 1-7 1 0 1 7 1-4 1 2 1 2 1-2 1 2 1-3 1 2 1-6 1 6 1 0 1-3 1 3 1 0 1 0 1 0 1-1 1 1 1-1 1 3 1 0 1 1 1-9 1 7 1-3 1 2 1-3 1 2 1 1 1-2 1 3 1-7 1 8 1-2 1 3 1-3 1 1 1-1 1 3 1-2 1-2 1 2 1-1 1 1 1-1 1-2 1 1 1 4 1-3 1-1 1-2 1 3 1-4 1 6 1-2 1-4 1 2 1 6 1 2 1-7 1-1 1 1 1-4 1 3 1 1 1 5 1 1 1-4 1-3 1 1 1 7 1-8 1 0 1-2 1-1 1 0 1 2 1 1 1 3 1-8 1 8 1-1 1-1 1 0 1-1 1 2 1-1 1 0 1 4 1-3 1 1 1-2 1 8 1-10 1 3 1-1 1 4 1-1 1-7 1 7 1-3 1 3 1-2 1-3 1 1 1 0 1-5 1 10 1-4 1 1 1-4 1 4 1 4 1-2 1-4 1-5 1 5 1 0 1-5 1 5 1 0 1 7 1-3 1-5 1-2 1 6 1 3 1-5 1-2 1 1 1-4 1 4 1 1 1 2 1-3 1 1 1-2 1 1 1 2 1-2 1-2 1-2 1 5 1 3 1-5 1 0 1-1 1-1 1-3 1 6 1 0 1-4 1 7 1-3 1 3 1-4 1-4 1 7 1-3 1 2 1-6 1 9 1-9 1 1 1 3 1 3 1 3 1-5 1 9 1-7 1 2 1 4 1-5 1-4 1 3 1-4 1 0 1 3 1 0 1 0 1 4 1-7 1 10 1-6 1 2 1-3 1-3 1 2 1 1 1 0 1 4 1-3 1-1 1 1 1-2 1 4 1-3 1-2 1 2 1 3 1-4 1 1 1-3 1 3 1 2 1 0 1-5 1 4 1-2 1 2 1-1 1 2 1-2 1 5 1 0 1-3 1 1 1 0 1-1 1-6 1 5 1 2 1-4 1 2 1 3 1-9 1 9 1-2 1-1 1 5 1-5 1 1 1 1 1-5 1 4 1-1 1-1 1-4 1 1 1 5 1-5 1 5 1-1 1 2 1-2 1-3 1 3 1-1 1 3 1 1 1-2 1-5 1 5 1-7 1 7 1 0 1 0 1-1 1 0 1 0 1-1 1 4 1-5 1 2 1 5 1-3 1-2 1-5 1 5 1 0 1-5 1 12 1-8 1 2 1-1 1 1 1 6 1-8 1 0 1 5 1-7 1 4 1 1 1-5 1 4 1 0 1-1 1 2 1-4 1 0 1-4 1 5 1 0 1 2 1 3 1-4 1-3 1-3 1 6 1-2V0"/><path transform="translate(109.81,667.11) scale(0.6692,1.0)" vector-effect="non-scaling-stroke" d="M0 0V-197l1 2 1-2 1 0 1 2 1-1 1 4 1-3 1 3 1-2 1 0 1 0 1 5 1-1 1 0 1-1 1 0 1 3 1 3 1-2 1-1 1-1 1 8 1-3 1 1 1-2 1 3 1 2 1-3 1 1 1 1 1 4 1-2 1 1 1 1 1 1 1 0 1 3 1-3 1 0 1 0 1 1 1 1 1 0 1 1 1 1 1 0 1 1 1-2 1 1 1 3 1-2 1 3 1-1 1 2 1 0 1-2 1 2 1 4 1-3 1 2 1 2 1 2 1-4 1 1 1 2 1-1 1 1 1 0 1 3 1-2 1-1 1 2 1 0 1 5 1-5 1 1 1 2 1 0 1 2 1-2 1 1 1-3 1 7 1 0 1 0 1-2 1-2 1 3 1-1 1 3 1-3 1 3 1-2 1 0 1 2 1-4 1 3 1 0 1-3 1 4 1 0 1 1 1 3 1-3 1 1 1-4 1 2 1 5 1-2 1 0 1 1 1 0 1-1 1-1 1 2 1-1 1 5 1-2 1 0 1-3 1 3 1 0 1 0 1 1 1 3 1-5 1 3 1 1 1-1 1 3 1-3 1-2 1-1 1 1 1 0 1 4 1-4 1 7 1-5 1 3 1-3 1 2 1 0 1-2 1 6 1-1 1-7 1 5 1-1 1 1 1 0 1-1 1 3 1-3 1-1 1 3 1 0 1-4 1 4 1 0 1-3 1 8 1-3 1 0 1 0 1-2 1 1 1 1 1-4 1 2 1 2 1-2 1 2 1-1 1 0 1 0 1 5 1-4 1 2 1-2 1 0 1 1 1 3 1-3 1 0 1 1 1 0 1 2 1 0 1-2 1-2 1 2 1 1 1 3 1-4 1 2 1-2 1 1 1 0 1-1 1 2 1 0 1-2 1 2 1 1 1 1 1-1 1 3 1-1 1-2 1-1 1 4 1-3 1 1 1 5 1-4 1-4 1 2 1 0 1 3 1-4 1 2 1 2 1-1 1 0 1 0 1 1 1-2 1-1 1 1 1 0 1 2 1-1 1 1 1-2 1 0 1-1 1 2 1-4 1 3 1 0 1-2 1 0 1 0 1 0 1-2 1-3 1-4 1-3 1-7 1-9 1-9 1-9 1 1 1 7 1 15 1 7 1 7 1 4 1 2 1 4 1 0 1 3 1 1 1 0 1 1 1 2 1-2 1 1 1-1 1-1 1-2 1-4 1-2 1 0 1 3 1 0 1 5 1 1 1-1 1 4 1 6 1-1 1-1 1 3 1-1 1-2 1 2 1-3 1 5 1-4 1 4 1-2 1 3 1 0 1 2 1-2 1 1 1 0 1 1 1 1 1 0 1-2 1 0 1 1 1-2 1 0 1-1 1 0 1-4 1 4 1 2 1 1 1 3 1-3 1 2 1 1 1 2 1 3 1-3 1 0 1 0 1-1 1 2 1-4 1 3 1 3 1-2 1 2 1-2 1 1 1 1 1 1 1-1 1-2 1 0 1-1 1 3 1 1 1 0 1-1 1 3 1-4 1 1 1 0 1 0 1-3 1 2 1-2 1-1 1 4 1-1 1 5 1-2 1 1 1 0 1 1 1 0 1 1 1-2 1 0 1 1 1 3 1-6 1 2 1 2 1-5 1-1 1-1 1 2 1-3 1 2 1 3 1 1 1 1 1 0 1 0 1 2 1 1 1-1 1 3 1 0 1 0 1 0 1 1 1 0 1 1 1-1 1 2 1-1 1-1 1-1 1 5 1-1 1-1 1 0 1 0 1-1 1 2 1 0 1 0 1 1 1-1 1 2 1-5 1 3 1-1 1 1 1 0 1-3 1 1 1-1 1 1 1-2 1-3 1 1 1-4 1-2 1-1 1 1 1 2 1-2 1 4 1 3 1 3 1 0 1 6 1-3 1 0 1 1 1-2 1 0 1 4 1 1 1 1 1-3 1-1 1 2 1 3 1-3 1 3 1 5 1-5 1 0 1 2 1 0 1 0 1 0 1-2 1 7 1-8 1 4 1 0 1 0 1 0 1 0 1 3 1-2 1-2 1 0 1-2 1 2 1-2 1 3 1-1 1-4 1 1 1-1 1-4 1 3 1 3 1 2 1 0 1 4 1-2 1 2 1-2 1-2 1 4 1 2 1 3 1-4 1 2 1 4 1-6 1 5 1-3 1 0 1 2 1-4 1 5 1 3 1-4 1 1 1-3 1 3 1-2 1 2 1-1 1 2 1-5 1 4 1 0 1-1 1 1 1 0 1-1 1 1 1 1 1 2 1-3 1 2 1-1 1 2 1-1 1 2 1-2 1 1 1-1 1 3 1-2 1 0 1 3 1-2 1 0 1 0 1-3 1 4 1-3 1 3 1-3 1 4 1-1 1 0 1 4 1-5 1 1 1-1 1-2 1 1 1 4 1-2 1-7 1 2 1-2 1 1 1-7 1 4 1-4 1 4 1-4 1 3 1 2 1 7 1-4 1 3 1-1 1 2 1-2 1 4 1 1 1 0 1 1 1 1 1-3 1 5 1-2 1 6 1-5 1 0 1-2 1 3 1 0 1 3 1-6 1 4 1 1 1-1 1 2 1-1 1 0 1 0 1-3 1 6 1-4 1 0 1-1 1 5 1-1 1 1 1-5 1-1 1 3 1 4 1-6 1 4 1 0 1-4 1 5 1-1 1 0 1 1 1-1 1 0 1 0 1 3 1-5 1 2 1-1 1 2 1 0 1-1 1 2 1-1 1 1 1-1 1 1 1 2 1-2 1 0 1 0 1 0 1-1 1 1 1 2 1-1 1 1 1 2 1-5 1 1 1 2 1 0 1-1 1 0 1 2 1 1 1-1 1-1 1 1 1 0 1 1 1-3 1 3 1-3 1 0 1 3 1 0 1-3 1 5 1-3 1 1 1 2 1-4 1 0 1 3 1-3 1 1 1 1 1 0 1 1 1-4 1 4 1-3 1 4 1 0 1-2 1-2 1 0 1 3 1 0 1-4 1 2 1-2 1 3 1-1 1 0 1 1 1-2 1 3 1 0 1 2 1 0 1-4 1 1 1-1 1 3 1 1 1-2 1 0 1 2 1-3 1-3 1 5 1 1 1-1 1-4 1-1 1 3 1 1 1 0 1 2 1-3 1 4 1-2 1 3 1-8 1 7 1-1 1-4 1 1 1 0 1 0 1 1 1-1 1 2 1 3 1-4 1-5 1 3 1-2 1 1 1-5 1 0 1-1 1 2 1-1 1 1 1 3 1 2 1 0 1 0 1 3 1-2 1 2 1 2 1-1 1-2 1 4 1-4 1 1 1 2 1 0 1-1 1 1 1-2 1 1 1 1 1-1 1 2 1 0 1 0 1-5 1 7 1-5 1 3 1 5 1-7 1 1 1 0 1-4 1 5 1 1 1 4 1-5 1 0 1 1 1 3 1 0 1-10 1 7 1 0 1-1 1-1 1 3 1-2 1 1 1-6 1 1 1 0 1 3 1-5 1 8 1-1 1-4 1 3 1 1 1-5 1-1 1 6 1-2 1-6 1 3 1 2 1-1 1 1 1-3 1 0 1-2 1 5 1-5 1 3 1 4 1-2 1-4 1 2 1 5 1-3 1 2 1 3 1 5 1-2 1-4 1 1 1-1 1 2 1-4 1-1 1 4 1 2 1-3 1 2 1-3 1-2 1-5 1 6 1-1 1 0 1 0 1-1 1 6 1-8 1 5 1 2 1-4 1 8 1-5 1 3 1 1 1-7 1 7 1-4 1 9 1 0 1-13 1 7 1 0 1-1 1 3 1-5 1 0 1-2 1 2 1-2 1 4 1-1 1 0 1 1 1-3 1 1 1-2 1 3 1-1 1-1 1 7 1-6 1 1 1 0 1-1 1 5 1-2 1 2 1 0 1-3 1 0 1 1 1-1 1 0 1-4 1 2 1 2 1 3 1-1 1 5 1-4 1-3 1 1 1-1 1-4 1-2 1 6 1 1 1 1 1-3 1-3 1 2 1 4 1-2 1 1 1 1 1-7 1 5 1 7 1-7 1 2 1-2 1 1 1-3 1 6 1-9 1 7 1-2 1 4 1-4 1 1 1 0 1-4 1 4 1 0 1-2 1 5 1-4 1 8 1-7 1 0 1 2 1-2 1 1 1-6 1 6 1 1 1 0 1 4 1-8 1 4 1-1 1 1 1-1 1-1 1 4 1-4 1 0 1-1 1 5 1-3 1 3 1-1 1 0 1-1 1 1 1 0 1 5 1-9 1 0 1 2 1-1 1 2 1-2 1 3 1-2 1-2 1 1 1-2 1 5 1-1 1 0 1-1 1-2 1 0 1-5 1 11 1-2 1-1 1-3 1 1 1-3 1 3 1 1 1-1 1 0 1-1 1 2 1-8 1 6 1-5 1 5 1 0 1 2 1 0 1 6 1-3 1-5 1 2 1 2 1-1 1-3 1-1 1 4 1-2 1 1 1 1 1 0 1-5 1 5 1-3 1 0 1 3 1-2 1 0 1 7 1 1 1-8 1 4 1 5 1-9 1 0 1 5 1-3 1 3 1-5 1 2 1 1 1-2 1 0 1 2 1 3 1-6 1 3 1-1 1-4 1 6 1-3 1-1 1 0 1 1 1 1 1 0 1 0 1 0 1-5 1 5 1 1 1-4 1 1 1 3 1-1 1-8 1 2 1 4 1-2 1-1 1-4 1-2 1 5 1-2 1-1 1 5 1-5 1 4 1 9 1-6 1 8 1-5 1-9 1 6 1 1 1-1 1-1 1-4 1 5 1 1 1-2 1-2 1 1 1 5 1 0 1 0 1 2 1 0 1-6 1 2 1 0 1 2 1-3 1 2 1 0 1-2 1-1 1-2 1 1 1 7 1-8 1 5 1 0 1 0 1-3 1 2 1 2 1-2 1 6 1-2 1-10 1 6 1 2 1-5 1 2 1-1 1-1 1 3 1-1 1 4 1-4 1-1 1 3 1 3 1-2 1-4 1 2 1 0 1 1 1 4 1-3 1-5 1 7 1-3 1 0 1-1 1 0 1 2 1-7 1 10 1-7 1 3 1-1 1 7 1-9 1 3 1-1 1 1 1-2 1-2 1 6 1-5 1 5 1-3 1-1 1 2 1 0 1 0 1 1 1-3 1 0 1-3 1 4 1 0 1 1 1 1 1 0 1-2 1 8 1-8 1-1 1 2 1-2 1 1 1 1 1-2 1 5 1-3 1 2 1-2 1-1 1 3 1 3 1-8 1-2 1-1 1 3 1 5 1-3 1 2 1 2 1-3 1 4 1-1 1-3 1-2 1 0 1 1 1-1 1 2 1-6 1 5 1-1 1 6 1-4 1 1 1 0 1-1 1 1 1 0 1-3 1-1 1 1 1 2V0"/><path transform="translate(104.68,673.03) scale(0.6692,1.0)" vector-effect="non-scaling-stroke" d="M0 0V-154l1 0 1 1 1 1 1 2 1-2 1 2 1-1 1 4 1-1 1 1 1 4 1-3 1 3 1-2 1 0 1-1 1 0 1-2 1 3 1 0 1 1 1 1 1 1 1-1 1 2 1 0 1 0 1-1 1 5 1 0 1-4 1 1 1 2 1 1 1-3 1 1 1 2 1 3 1-3 1-1 1 3 1 0 1 2 1-3 1 3 1-2 1 1 1-1 1 5 1-2 1-2 1 5 1-1 1 0 1-2 1 2 1-1 1 0 1 3 1 0 1 0 1 2 1-3 1 3 1-2 1 1 1 0 1 4 1-1 1-3 1 5 1 0 1 2 1-3 1 0 1 1 1 2 1-1 1-2 1-2 1 6 1-5 1 2 1 2 1 1 1-1 1 0 1-3 1 3 1 2 1-4 1 5 1-2 1-1 1 0 1 4 1-3 1-2 1 1 1 2 1-1 1 1 1-1 1 0 1 1 1-2 1 2 1-1 1 4 1 0 1 0 1 1 1-2 1 0 1 4 1 1 1-4 1 1 1 0 1 0 1-1 1 0 1 1 1 2 1-3 1 4 1-3 1-1 1 2 1 0 1 1 1 0 1-1 1 4 1-2 1 0 1 0 1-4 1 1 1 3 1-4 1 3 1 1 1-2 1 1 1 2 1-2 1 0 1 2 1 0 1 3 1-3 1 0 1-1 1-3 1 2 1-2 1 1 1 1 1 3 1-1 1 0 1 3 1 1 1-4 1 2 1 1 1-3 1-2 1 4 1-1 1 1 1 0 1 0 1-1 1-2 1 2 1 3 1-3 1 1 1 3 1-3 1 3 1-1 1-1 1 0 1-4 1 7 1-5 1 3 1 0 1 1 1 1 1 3 1-3 1-1 1-2 1 2 1 1 1 1 1-2 1 0 1 0 1-1 1 1 1 3 1-5 1 0 1 0 1 3 1 1 1-1 1 1 1-4 1 4 1 2 1-2 1 0 1-3 1 6 1-1 1-6 1 1 1 3 1-2 1 3 1-1 1 3 1-3 1 0 1-4 1 3 1 1 1 0 1 1 1-2 1 1 1-1 1 0 1-1 1 3 1 0 1-6 1 3 1-4 1 0 1-1 1-2 1-2 1-8 1-3 1-9 1-5 1 4 1 5 1 6 1 7 1 5 1 1 1 6 1 0 1 2 1 2 1-3 1 1 1 2 1-2 1 2 1-1 1 1 1-5 1-2 1-3 1-5 1 0 1 3 1 0 1 5 1 0 1 5 1 4 1 0 1 1 1 0 1 2 1-2 1 7 1-2 1 0 1 0 1 1 1-1 1-2 1 2 1 1 1 0 1-1 1 1 1 1 1-4 1 5 1-2 1 2 1-1 1-1 1-3 1-1 1 3 1 0 1-2 1 3 1-1 1-2 1 1 1 2 1 1 1 0 1 1 1 0 1 2 1-1 1 2 1 3 1 0 1-6 1 3 1 0 1 0 1 2 1 0 1-3 1 2 1 1 1-2 1 3 1 0 1 0 1-3 1 7 1-4 1 0 1-1 1-2 1 0 1 0 1-1 1-3 1 1 1 1 1-1 1 1 1 2 1-1 1 4 1-3 1 3 1 1 1-1 1 0 1-1 1 2 1 0 1 2 1-1 1-2 1 1 1-1 1-1 1-1 1-1 1 2 1 1 1-2 1 2 1 0 1 2 1 1 1 2 1 0 1 0 1-2 1 0 1 2 1 2 1-2 1-1 1 2 1-4 1 4 1 5 1-3 1 0 1-3 1-2 1 4 1-2 1 2 1 2 1-4 1 1 1 0 1-4 1 3 1 3 1-1 1-3 1 0 1 3 1-5 1 2 1-2 1 0 1 0 1-3 1-4 1 1 1-8 1 0 1 1 1-1 1 7 1-2 1 2 1 5 1 0 1 6 1-4 1 4 1 0 1 1 1 0 1 0 1 4 1-1 1-1 1 6 1-4 1-1 1 1 1 0 1 0 1-2 1 2 1-1 1 3 1-2 1 1 1 1 1 1 1-2 1 0 1 1 1 2 1-5 1 3 1-3 1 2 1 0 1 1 1-3 1 2 1-2 1 1 1-1 1 2 1-4 1 1 1-1 1 2 1 0 1-2 1-1 1 9 1-3 1 1 1-4 1 2 1 1 1 1 1 2 1-1 1 0 1-3 1 4 1-3 1 7 1-3 1-1 1 2 1 1 1 3 1-3 1-3 1 2 1 1 1 2 1-2 1-1 1 2 1-3 1 2 1-1 1 4 1-3 1 0 1-1 1 1 1-2 1 2 1 0 1 2 1-1 1 1 1 3 1-3 1-3 1 2 1 1 1-1 1 2 1-1 1 5 1-7 1 5 1-2 1 1 1-1 1-1 1 1 1 0 1-1 1 2 1 1 1-2 1 1 1-4 1 3 1 0 1 1 1 3 1-7 1 1 1-1 1-5 1 3 1-4 1-2 1-3 1 1 1-5 1 2 1 1 1 3 1 2 1 4 1 3 1-1 1 1 1 1 1 2 1 3 1-2 1 2 1 1 1 0 1 1 1 2 1-1 1-2 1 1 1 0 1-1 1 1 1 1 1-3 1 0 1 4 1-5 1 2 1 3 1-1 1 2 1-3 1 5 1-3 1-1 1 0 1 1 1-1 1 2 1-2 1-2 1 4 1 1 1-1 1-1 1 0 1 0 1 2 1 0 1 0 1-1 1-2 1 4 1 1 1-2 1-1 1 2 1-1 1 0 1 3 1-3 1 3 1-1 1-1 1 0 1 1 1 0 1-1 1 0 1 2 1 1 1-3 1 2 1-3 1 2 1 2 1-2 1 1 1 0 1-1 1 0 1 1 1-1 1 2 1-2 1 2 1 0 1 0 1-4 1 3 1 1 1-2 1 1 1 3 1-2 1 3 1-2 1 4 1-4 1 0 1-3 1 3 1 0 1-1 1 2 1-2 1 1 1-1 1 1 1 0 1 0 1 1 1 1 1-2 1-3 1 3 1 2 1-4 1 0 1 2 1 3 1-3 1-2 1 1 1 2 1-1 1-2 1 1 1 1 1 2 1-2 1 1 1-1 1 1 1 2 1-3 1-1 1 2 1-2 1-2 1 3 1-3 1 5 1-3 1 2 1-2 1 3 1-1 1-4 1 3 1 1 1 0 1 1 1 0 1-1 1-1 1 1 1-1 1 0 1 0 1 7 1-7 1-1 1 3 1-1 1 2 1-4 1 1 1 0 1 2 1-2 1 0 1-2 1 6 1-7 1 8 1-3 1 2 1-2 1-1 1 1 1-5 1 5 1 4 1-6 1 1 1 1 1 1 1-2 1 1 1-1 1 1 1 0 1 2 1 3 1-8 1 4 1-1 1 0 1 0 1 2 1-2 1 5 1-9 1 5 1 3 1-2 1-1 1 1 1 6 1-3 1 2 1-2 1-3 1 1 1-1 1-1 1 2 1 3 1-3 1-2 1 8 1-7 1-1 1 5 1-4 1 1 1 0 1-2 1 1 1 0 1 1 1-1 1-2 1 1 1-2 1 1 1 2 1 0 1 0 1-1 1-4 1 0 1-3 1 1 1-1 1 0 1 11 1-7 1 6 1-5 1 1 1 2 1-5 1 4 1 5 1 1 1-5 1 1 1 3 1-3 1 1 1 2 1-1 1-3 1 0 1 4 1-1 1-2 1 0 1 6 1-5 1-1 1 1 1-2 1 2 1-1 1-4 1 4 1 2 1 3 1-3 1 1 1-4 1 5 1 1 1 0 1 0 1-4 1 0 1 0 1 4 1-2 1-5 1 1 1 3 1 1 1-3 1-2 1 5 1-3 1 1 1-1 1-1 1 6 1-3 1-5 1 12 1-8 1 4 1-1 1 4 1-3 1 1 1 4 1-6 1-4 1-1 1 1 1 4 1 4 1-5 1-4 1 2 1 4 1-3 1-2 1 5 1-8 1 6 1 3 1-1 1-3 1 2 1-6 1 5 1-2 1 1 1 4 1-6 1 2 1-3 1 9 1-5 1 2 1-6 1 5 1 1 1-2 1-4 1 1 1 7 1-5 1 2 1-1 1-1 1 1 1 3 1-3 1 3 1-7 1 5 1 3 1-3 1 2 1-2 1 0 1 1 1 1 1-2 1 0 1-2 1 4 1-3 1 3 1 1 1-2 1-1 1 2 1-1 1 2 1 6 1-4 1-10 1 6 1 0 1-4 1 1 1 5 1-5 1 2 1 0 1 6 1-4 1-6 1 2 1 4 1 1 1-1 1-7 1 6 1 0 1-5 1 3 1 2 1-3 1 2 1 0 1 1 1-2 1-1 1 5 1-5 1 4 1-2 1 2 1-1 1-1 1 1 1-1 1 0 1-5 1 4 1-1 1 3 1-4 1 3 1-2 1-6 1 6 1-6 1 5 1 5 1-1 1-4 1 6 1-4 1 0 1 0 1 4 1-1 1-7 1 7 1-1 1-7 1 8 1 1 1-2 1 0 1-2 1 6 1-5 1 0 1-1 1 2 1 1 1-2 1 3 1-2 1-1 1-1 1 4 1 2 1-3 1 1 1-2 1 0 1 0 1 1 1-2 1-3 1 9 1-5 1-4 1 11 1-3 1-4 1 3 1-2 1 1 1-1 1 3 1-3 1-1 1-1 1 2 1-1 1 0 1-1 1 1 1 5 1 2 1-9 1 2 1 0 1-3 1-3 1 2 1-1 1-2 1 1 1 0 1 0 1 1 1 0 1 0 1 3 1 5 1-4 1-3 1 7 1-5 1-1 1 4 1 1 1-1 1 2 1-6 1 2 1 0 1 1 1 0 1 2 1 3 1-5 1-4 1 2 1 0 1 4 1-1 1 0 1-1 1 3 1 0 1-1 1-7 1 6 1 2 1-5 1 7 1-7 1 3 1-1 1 0 1 0 1 1 1 1 1 0 1-7 1 5 1 2 1-7 1 7 1-7 1 8 1 0 1 0 1-2 1 2 1 0 1-3 1 0 1 2 1-2 1 4 1-3 1-6 1 4 1 1 1 3 1 6 1-5 1-5 1 3 1 0 1-4 1 3 1 3 1-2 1-1 1 1 1-8 1 8 1 3 1-2 1-4 1 2 1-1 1-5 1 7 1-5 1 1 1 1 1 7 1-8 1 5 1-4 1 2 1-3 1 4 1-7 1 1 1 4 1 2 1-2 1 2 1-1 1 7 1-8 1 2 1-1 1-1 1 2 1-2 1 1 1 1 1-4 1 0 1 3 1 1 1-1 1-1 1 0 1 7 1-2 1-1 1 1 1-3 1-3 1 7 1-2 1-1 1-1 1-1 1-1 1-5 1 7 1-1 1 0 1 0 1-5 1 5 1-4 1 4 1 0 1 2 1-5 1 3 1 0 1-1 1 2 1-4 1-3V0"/><path transform="translate(99.56,678.96) scale(0.6692,1.0)" vector-effect="non-scaling-stroke" d="M0 0V-138l1 3 1-2 1 0 1 0 1 3 1-4 1 5 1-2 1 0 1-2 1 4 1 1 1-1 1 1 1 2 1-3 1-1 1 1 1 3 1-3 1 1 1 2 1 2 1-5 1 4 1 1 1 0 1-1 1 2 1-1 1 0 1 0 1 1 1-1 1-1 1 4 1 2 1-2 1-1 1 0 1 1 1-1 1 0 1 4 1-2 1-2 1 4 1 0 1-1 1 2 1 1 1-1 1 3 1-3 1 4 1-3 1-1 1 3 1 0 1-1 1 1 1 1 1 4 1-5 1 4 1-3 1 2 1-1 1 1 1 0 1 1 1-1 1 0 1 0 1 1 1 0 1-2 1 3 1-3 1 3 1 2 1 1 1-1 1-1 1 0 1 0 1 0 1 1 1 0 1 0 1 3 1-2 1 1 1-4 1 4 1-2 1 3 1-1 1 0 1 4 1-4 1-1 1 2 1-3 1 3 1 0 1-2 1 3 1 1 1-1 1-1 1 1 1-2 1 7 1-3 1-2 1 0 1 2 1 2 1 0 1-3 1 1 1-3 1 3 1 0 1 4 1-3 1-1 1 0 1 0 1 0 1 3 1 0 1-2 1 0 1 0 1 0 1-1 1 1 1-2 1 5 1-3 1 0 1-1 1 0 1-1 1 1 1 1 1 0 1 0 1 4 1-2 1-2 1 2 1-2 1 3 1-1 1 0 1 0 1-1 1 3 1-1 1 1 1-1 1-1 1-1 1 1 1 1 1-1 1 1 1 0 1 0 1 1 1-2 1 0 1 2 1 0 1 3 1-3 1 0 1-3 1 4 1-2 1 1 1 1 1-2 1 1 1 0 1 2 1-1 1-2 1-2 1 4 1 3 1 1 1-4 1 0 1 2 1 0 1 2 1-4 1-3 1 5 1-1 1 1 1 2 1-4 1 2 1-2 1 1 1-3 1 2 1 2 1 1 1-1 1 0 1 2 1 1 1-1 1 1 1-1 1-1 1 3 1-4 1 2 1 0 1 0 1 1 1-1 1 0 1-1 1 1 1 0 1-1 1 0 1-2 1 1 1 2 1-1 1 0 1-2 1 4 1-2 1-1 1-1 1-1 1-2 1-2 1-2 1-7 1-4 1-5 1-3 1 1 1 5 1 5 1 4 1 4 1 2 1 4 1 0 1 1 1 2 1 0 1 0 1 1 1-4 1 5 1 0 1-2 1-4 1 0 1-2 1-5 1-1 1-1 1 1 1 3 1 7 1 2 1 2 1 1 1-1 1 2 1 2 1 1 1 1 1-1 1 3 1-2 1 1 1-3 1 3 1 3 1 1 1-4 1-2 1 2 1-1 1 2 1 3 1-1 1 0 1-3 1 0 1-2 1-1 1 1 1-3 1 2 1-1 1-1 1 5 1 0 1 0 1 4 1-3 1 1 1 4 1 0 1 2 1-4 1 3 1-3 1 2 1 3 1-5 1 2 1-3 1-1 1 3 1 1 1-1 1 0 1 1 1-1 1-1 1 0 1 3 1-2 1 4 1-2 1 1 1-1 1-3 1 2 1-2 1 0 1 3 1-4 1 3 1 1 1-2 1-2 1 5 1 0 1-3 1 7 1-7 1 3 1 0 1 1 1 0 1 1 1-2 1-1 1-2 1 1 1 1 1-4 1 2 1 2 1-1 1 4 1 1 1 0 1-1 1 0 1 3 1-3 1 6 1-4 1 0 1 0 1-2 1 1 1 1 1 0 1 2 1-2 1-2 1 3 1-2 1-1 1 2 1 5 1-5 1 2 1-1 1 1 1 1 1-3 1 3 1-3 1 0 1 3 1-3 1 0 1 0 1-3 1 1 1 2 1-3 1-3 1 3 1-1 1-3 1-2 1-1 1 2 1 2 1 0 1-1 1 3 1 5 1-3 1 7 1-5 1 2 1-2 1 2 1 1 1 1 1-1 1 2 1-1 1 0 1 2 1-1 1-4 1 9 1-4 1 2 1-4 1 3 1-1 1 1 1-1 1-3 1 5 1-1 1-1 1 2 1-4 1 2 1 0 1 2 1 0 1-4 1 1 1 3 1-2 1 1 1 1 1-1 1-2 1 1 1 0 1 0 1 1 1 0 1-1 1 2 1 1 1 0 1-1 1 2 1 0 1 4 1-3 1-3 1 3 1 0 1 2 1-1 1 0 1 3 1-3 1-1 1 0 1 0 1 1 1 0 1 3 1-3 1 0 1-1 1 0 1 0 1 2 1 2 1-1 1 0 1 1 1-2 1 1 1-1 1 1 1 0 1 0 1-2 1 2 1 0 1-1 1 1 1 2 1-1 1 2 1-2 1-1 1 1 1-2 1 1 1 1 1 1 1 0 1-5 1 5 1-1 1 3 1-1 1 0 1 0 1 0 1-2 1 0 1 1 1-1 1 0 1 0 1-3 1 1 1 0 1-2 1 1 1-6 1-1 1-5 1-4 1 2 1 0 1 2 1 6 1 0 1 1 1 4 1 4 1-2 1 2 1 1 1-3 1 3 1 3 1 0 1-2 1 2 1 2 1-5 1 0 1 6 1-6 1 3 1 0 1 2 1 0 1-2 1 0 1 2 1-3 1 2 1 1 1-2 1 1 1 1 1 0 1-2 1 3 1 0 1 3 1-1 1 0 1-5 1 3 1 2 1-2 1 2 1-2 1 0 1-2 1 2 1-1 1 2 1 0 1 4 1-1 1 0 1-2 1 0 1 0 1 1 1-1 1 3 1-3 1 2 1-2 1-1 1 2 1 2 1-1 1-3 1 2 1-1 1 1 1 0 1 2 1-2 1 0 1 0 1 1 1 2 1 0 1-2 1-1 1 1 1 0 1 2 1-3 1 2 1-5 1 1 1 3 1 0 1-2 1 0 1 3 1 3 1-2 1-5 1 4 1-2 1 3 1 1 1-1 1 0 1 0 1-1 1-1 1 1 1 1 1 2 1-6 1 4 1 0 1 0 1 0 1 1 1-3 1 2 1 2 1-2 1 1 1-1 1 1 1 2 1 0 1-4 1-2 1 1 1 2 1 3 1 1 1-3 1 1 1 0 1 0 1-1 1 1 1-1 1 2 1-1 1-1 1 2 1-3 1 2 1-5 1 3 1 4 1-5 1 1 1 0 1 3 1-3 1 2 1-5 1 5 1-1 1 2 1-2 1-1 1 1 1 1 1-2 1 3 1-3 1 0 1 0 1-4 1 4 1-4 1 8 1-7 1-2 1 2 1 1 1-2 1 0 1 3 1 1 1-1 1 0 1 2 1-5 1 3 1-3 1 6 1 1 1-2 1 4 1-5 1 3 1 0 1 0 1-1 1 2 1 0 1-1 1-2 1 3 1 1 1 0 1-1 1-3 1 4 1 1 1-4 1 3 1-3 1 0 1 4 1-3 1 7 1-6 1 1 1-7 1 2 1 3 1 0 1 2 1-1 1-5 1 4 1 2 1 0 1-3 1 2 1-1 1 1 1-3 1 5 1-1 1 4 1-5 1-1 1 0 1-6 1 7 1-2 1-1 1 1 1 1 1-1 1 1 1-2 1-8 1 5 1-7 1 6 1-3 1 4 1 0 1 6 1 0 1-8 1 4 1 3 1 0 1 2 1 0 1-1 1 2 1 1 1-2 1 1 1 0 1 0 1-6 1 3 1-4 1 5 1 0 1 0 1 1 1 0 1 1 1 0 1-2 1 0 1 1 1-1 1 0 1 2 1 1 1 7 1-8 1 1 1-3 1 6 1 2 1-6 1 0 1 1 1-6 1 2 1 5 1-7 1 6 1-7 1 3 1 6 1-7 1 2 1 3 1 0 1 1 1-2 1 2 1 0 1-1 1 0 1 2 1-1 1-2 1 2 1 2 1-1 1-1 1-3 1 0 1 3 1 1 1-5 1 2 1 2 1 1 1-2 1 1 1-1 1-5 1 9 1-5 1-1 1 5 1-3 1 1 1-4 1 2 1 1 1 1 1-1 1 6 1-4 1-5 1 6 1 0 1-3 1-2 1-3 1 6 1-6 1 6 1-6 1 6 1 1 1 6 1-8 1-1 1 2 1 1 1-5 1 7 1-3 1 0 1-4 1 3 1 7 1-5 1-3 1 2 1 1 1 0 1-3 1 2 1-3 1 7 1-7 1 2 1 2 1-2 1 0 1 3 1-2 1-3 1 3 1-3 1-1 1 5 1 0 1-2 1-4 1 9 1-2 1-3 1 5 1-4 1 0 1 0 1 0 1 5 1-7 1 4 1-2 1-4 1 5 1 2 1-4 1 3 1 1 1 4 1-5 1-2 1 2 1-2 1 3 1 3 1-3 1-6 1-2 1 6 1 1 1-2 1 1 1-2 1 2 1 0 1-3 1 0 1-4 1 5 1 0 1-1 1 1 1-1 1 0 1 2 1-1 1 1 1 1 1-2 1 5 1-4 1-1 1 2 1 3 1-4 1 1 1-2 1 2 1-2 1 4 1-6 1 9 1-2 1-7 1 5 1-1 1-3 1 3 1-2 1 2 1-3 1 2 1-1 1-5 1 9 1-1 1 6 1-7 1 0 1-3 1 5 1 0 1-4 1 2 1 0 1-2 1 2 1-5 1 3 1 7 1-6 1-1 1 1 1 3 1-3 1 1 1-3 1 1 1 3 1-5 1 0 1 3 1 0 1-1 1 5 1-4 1 0 1-1 1 0 1 1 1 1 1-4 1 6 1-5 1 1 1 1 1-1 1-1 1 4 1-2 1-1 1-1 1 3 1 0 1 0 1-2 1 2 1-3 1 6 1-6 1-4 1 6 1 0 1-2 1 1 1 1 1 3 1-6 1 0 1 8 1-5 1-2 1 1 1 0 1 2 1-2 1 1 1-1 1 2 1 1 1 1 1-4 1-5 1 6 1 0 1 0 1 0 1-1 1 0 1-2 1 6 1-7 1 1 1 3 1 0 1-2 1 5 1 2 1-5 1 6 1-6 1 2 1-2 1-2 1 7 1-5 1 0 1 1 1 2 1-2 1 4 1-4 1-1 1 4 1-3 1 1 1-1 1-7 1 7 1 0 1-1 1 0 1-4 1-1 1 1 1 5 1 0 1-1 1 4 1-3 1-4 1 6 1-3 1 1 1 1 1-2 1-1 1 0 1 1 1 3 1-4 1 1 1 1 1 2 1-3 1-2 1 5 1-4 1 0 1-5 1 7 1 1 1-2 1 2 1-3 1-1 1 10 1-10 1 5 1-3 1 0 1-1 1 1 1-2 1 5 1-3 1 3 1-2 1-4 1 4 1 1 1 0 1-2 1-1 1 3 1-1 1 1 1-7 1 6 1 0 1-4 1 3 1 2 1-2 1 2 1-2 1-3 1 5 1 0 1-1 1-6 1 6 1-4 1 2 1 1V0"/><path transform="translate(94.43,684.88) scale(0.6692,1.0)" vector-effect="non-scaling-stroke" d="M0 0V-117l1 3 1 3 1-1 1 0 1 2 1-2 1 1 1-2 1 2 1 2 1 2 1-3 1 1 1 2 1 0 1-1 1-2 1-1 1 5 1-1 1 1 1 2 1-3 1-3 1 3 1 0 1 1 1 2 1-3 1-2 1 4 1 2 1 0 1 0 1-1 1 2 1 2 1-4 1-1 1 2 1-4 1 5 1-5 1 4 1-1 1 3 1 1 1-3 1 2 1 0 1-2 1 5 1-2 1 0 1 0 1 3 1-2 1-3 1 7 1-4 1 0 1-2 1 1 1 2 1-3 1 4 1-4 1 7 1-5 1 3 1 1 1-1 1 2 1 0 1 0 1 2 1 1 1-6 1 2 1 2 1-3 1 2 1 2 1-1 1 0 1-1 1-2 1 2 1 4 1-2 1 0 1 1 1 1 1-2 1-2 1 3 1-3 1 0 1 2 1 1 1-1 1-1 1-2 1 5 1-1 1-2 1 0 1-1 1 3 1 1 1 0 1 1 1-2 1 1 1-4 1 5 1-1 1-2 1 2 1 0 1 0 1 2 1 0 1-4 1 1 1 2 1 1 1 1 1-1 1 1 1-1 1 1 1-1 1-2 1 4 1 0 1-2 1 1 1-4 1 4 1-2 1 2 1-3 1 3 1 0 1 1 1-1 1 3 1-1 1 3 1-5 1 3 1-3 1 2 1-2 1 0 1 5 1-6 1 0 1-1 1 3 1-5 1 2 1 0 1 3 1-1 1 1 1-1 1-2 1 2 1-3 1 8 1-6 1 1 1 2 1-1 1-2 1 4 1-2 1-1 1 2 1-1 1-1 1 1 1 0 1 0 1 0 1 0 1 1 1 0 1 1 1-3 1 1 1-3 1 2 1 3 1 0 1 0 1-1 1-1 1 1 1-1 1 2 1 5 1-6 1 1 1-1 1 4 1-4 1 2 1-1 1 0 1 0 1 0 1 1 1 4 1-5 1 2 1-1 1 0 1 0 1 1 1 1 1-3 1 5 1-3 1 0 1-2 1 2 1-1 1 0 1 0 1 0 1 4 1-6 1 2 1-1 1 2 1-5 1 1 1 1 1-1 1 2 1-4 1 0 1-2 1 0 1-3 1-5 1-6 1-7 1-8 1-2 1 0 1 6 1 7 1 5 1 8 1 7 1-3 1 2 1 2 1 2 1 1 1-5 1 4 1 1 1-1 1-2 1 1 1 0 1-3 1-5 1-3 1-1 1 1 1 2 1 8 1 3 1 3 1-4 1 8 1-4 1 1 1 0 1 3 1-1 1 1 1 1 1-3 1 2 1 1 1-2 1 2 1 1 1-1 1 1 1 0 1 1 1-5 1 5 1-3 1 0 1 0 1 0 1 2 1-1 1-3 1 5 1 0 1-3 1 2 1-2 1 3 1 1 1 4 1-1 1-4 1 1 1-1 1 2 1-1 1-1 1-2 1 5 1-2 1 2 1-2 1 2 1-1 1-4 1 6 1-1 1-2 1-1 1 4 1 0 1-6 1 5 1-2 1 0 1-4 1 3 1-2 1 0 1 2 1-3 1 1 1 2 1-2 1 2 1 2 1 2 1-6 1 2 1 4 1 0 1 3 1-6 1 1 1 0 1-1 1 3 1-2 1-1 1 0 1 1 1-2 1-3 1-1 1 4 1-2 1-2 1 3 1 2 1 2 1-2 1 1 1 4 1-1 1-3 1 3 1 2 1-2 1 0 1-1 1 1 1 1 1-1 1 1 1 3 1-3 1 0 1-4 1 5 1 3 1-2 1 1 1-3 1 2 1 0 1-1 1 2 1-1 1-2 1 1 1 2 1-3 1-2 1-1 1 0 1 0 1-1 1 1 1-2 1-2 1-4 1 2 1-2 1-1 1 2 1 2 1 1 1 3 1 2 1-3 1 4 1 2 1 0 1-1 1 2 1-1 1 0 1 0 1 6 1-5 1-1 1 2 1 0 1-1 1 3 1-3 1 1 1 1 1 1 1-2 1 2 1-1 1 1 1 0 1 0 1 1 1-1 1 0 1 0 1 1 1-3 1 2 1-1 1 5 1-5 1 1 1 1 1-3 1-2 1 1 1-3 1 3 1-2 1 3 1 1 1-5 1 6 1 1 1 1 1 0 1-3 1 1 1 1 1 2 1 0 1 0 1-2 1 0 1 2 1-4 1 5 1-1 1 0 1-1 1 1 1 1 1 2 1-3 1-4 1 4 1 1 1-1 1 0 1-2 1 2 1 2 1 1 1-2 1 3 1-3 1 1 1 1 1 0 1-1 1 1 1-4 1 3 1-1 1 2 1-2 1 2 1-1 1 0 1-2 1 3 1 0 1 0 1 0 1 0 1-2 1 5 1-1 1-2 1 1 1-1 1 1 1 3 1-6 1 2 1 0 1 0 1-3 1 4 1-1 1 0 1-1 1-2 1-2 1 0 1 0 1-2 1-5 1 2 1-4 1 6 1-1 1-2 1 6 1-2 1 6 1 4 1-2 1-1 1-1 1 3 1 0 1 3 1-3 1 1 1 0 1-1 1 0 1 1 1-1 1-2 1 4 1-3 1 0 1 0 1 2 1 0 1-1 1 2 1 0 1-2 1 2 1 2 1-3 1 2 1-1 1 2 1 0 1-3 1 3 1-2 1 1 1-2 1 0 1 4 1 1 1-4 1 1 1-1 1 2 1-3 1 3 1 0 1 1 1 1 1-1 1 0 1 1 1 0 1-3 1 2 1 4 1-4 1 0 1-3 1 3 1 2 1-5 1 5 1-3 1 1 1 0 1 0 1 0 1-4 1 5 1-1 1-3 1 3 1-1 1 1 1 1 1-2 1 2 1-1 1 1 1 2 1-2 1 1 1-1 1 3 1-2 1 3 1-4 1 0 1 1 1-3 1 4 1-1 1 1 1 1 1-1 1-1 1 1 1-2 1 3 1-1 1 0 1-1 1-1 1 0 1 2 1-2 1 3 1 0 1-1 1-3 1 4 1-1 1-1 1-1 1 2 1-3 1-1 1 3 1 1 1-2 1 2 1-2 1 2 1-1 1 3 1 0 1-2 1 0 1-1 1-2 1 0 1 5 1 2 1-4 1 0 1-2 1 1 1 2 1-1 1 1 1-1 1 0 1 2 1-1 1 1 1 2 1-4 1 1 1 5 1-8 1 4 1 4 1-4 1-4 1 0 1-2 1 4 1 4 1-1 1-4 1 1 1-3 1 0 1 1 1-3 1-2 1 3 1-2 1 3 1 0 1 1 1 0 1 3 1-2 1-2 1 3 1 3 1-1 1 0 1-2 1 1 1 2 1-5 1 4 1 1 1-1 1-2 1 3 1 0 1-2 1 2 1-3 1 5 1-2 1 2 1-2 1-1 1 2 1 2 1-3 1 4 1-7 1 3 1 1 1-1 1 2 1 2 1-1 1 0 1-1 1 1 1-6 1 11 1-9 1 2 1 1 1-3 1-4 1 5 1 3 1-3 1 2 1-1 1 0 1 2 1-4 1 4 1 1 1-5 1 5 1 0 1-5 1 4 1-6 1-1 1 0 1-1 1 2 1-5 1 0 1-4 1 8 1 4 1-1 1 0 1-5 1 13 1-8 1 2 1-2 1 2 1 1 1-1 1 0 1 3 1-6 1 4 1 1 1-1 1-5 1 1 1-2 1 2 1 0 1 4 1-3 1 1 1 0 1 1 1-6 1 7 1 1 1 2 1-6 1 3 1 0 1 1 1 2 1 1 1-1 1-3 1-4 1 3 1 4 1-2 1-1 1 0 1 1 1 0 1 2 1-2 1 1 1 1 1-5 1 4 1-2 1 2 1 1 1-2 1 2 1 4 1-9 1 7 1-1 1-3 1 0 1 1 1-4 1 11 1-5 1 1 1 4 1-5 1-2 1-4 1 5 1 1 1-7 1 4 1 9 1-12 1 3 1 2 1-4 1-2 1 5 1-1 1 0 1 4 1-5 1 5 1-5 1 2 1 1 1 1 1 3 1-3 1-6 1 7 1 3 1-4 1-1 1-7 1 6 1 3 1 0 1 2 1 3 1-7 1-1 1 4 1-3 1 0 1 1 1-3 1 3 1 0 1-5 1 12 1-7 1 0 1-2 1 2 1-1 1 7 1-7 1 0 1-1 1 2 1-2 1-2 1 1 1 2 1-3 1 4 1-7 1 7 1-1 1 0 1 3 1 3 1-6 1 2 1-1 1 4 1-6 1 2 1-1 1-2 1 9 1-6 1-2 1 6 1-4 1-6 1 7 1-5 1 4 1-2 1 0 1 4 1-4 1 1 1 3 1-9 1 5 1-2 1 1 1 2 1-2 1 4 1 5 1-3 1-2 1 0 1-3 1-1 1 2 1 4 1-8 1 4 1 7 1-10 1 3 1-1 1 1 1 1 1-4 1 3 1 0 1-1 1 1 1-1 1 2 1 0 1 2 1 0 1-2 1-2 1 0 1-2 1 4 1-7 1 5 1 0 1 2 1 0 1-2 1 1 1-1 1 1 1 2 1-3 1-2 1 2 1 5 1 2 1-7 1 1 1-3 1 5 1-1 1 2 1-3 1 0 1 2 1-5 1 2 1-2 1 4 1-1 1-5 1 5 1 0 1-1 1 2 1 1 1-2 1-1 1 1 1-3 1 6 1-5 1 0 1 0 1-1 1 3 1-1 1-4 1 4 1-6 1 2 1-3 1 0 1 0 1 8 1-4 1 0 1 1 1 2 1-3 1-1 1 5 1 6 1-4 1-8 1 10 1-5 1-1 1 0 1 3 1-7 1 7 1-2 1 0 1 2 1 1 1 1 1-3 1-5 1 5 1-4 1 3 1 3 1-1 1 3 1-4 1 2 1-4 1 5 1-1 1-4 1 6 1-4 1 0 1-4 1 3 1 10 1-8 1 5 1-2 1-3 1 3 1-1 1 2 1-2 1 0 1-3 1 4 1-4 1 4 1-1 1 3 1-5 1-7 1 4 1 3 1-1 1 3 1-3 1-1 1 8 1-7 1-2 1 9 1-6 1 2 1-3 1 1 1-5 1 1 1 6 1-2 1 2 1-2 1 0 1 1 1 2 1-3 1-4 1 4 1 3 1-3 1-5 1 4 1 0 1-1 1 0 1 2 1 6 1-7 1 0 1 1 1-4 1 1 1 5 1 1 1-3 1 3 1 2 1-5 1 0 1 2 1-8 1 9 1-3 1-5 1 6 1 4 1-4 1-2 1 3 1-4 1 3 1-6 1 5 1 4 1-4 1 3 1-3 1-2 1 0 1 0 1 3 1-7 1 5 1 4 1-7 1-2 1 0 1 6 1 5 1-6 1-4 1-1 1 11 1-5 1-1 1-1 1 3 1-1 1 1 1 3 1-4 1 0 1-4 1 8V0"/><path transform="translate(89.30,690.80) scale(0.6692,1.0)" vector-effect="non-scaling-stroke" d="M0 0V-124l1-1 1 3 1 1 1-3 1 0 1 1 1 1 1 0 1 0 1 1 1-1 1 4 1-4 1-1 1 4 1-2 1 1 1 0 1 3 1-1 1-2 1 2 1-1 1 0 1 3 1 0 1-3 1 2 1 0 1-1 1 1 1 1 1 0 1 2 1-2 1 2 1-3 1 4 1 3 1-3 1 1 1-4 1 4 1 1 1-3 1 3 1 1 1 3 1-4 1 4 1-2 1 0 1-1 1 2 1 1 1-1 1-1 1 0 1 1 1 1 1 0 1-4 1 1 1-1 1 2 1 3 1-3 1-1 1 1 1 3 1 1 1-1 1 1 1 2 1-1 1 0 1 3 1 0 1 2 1-3 1 1 1-1 1 0 1 1 1 0 1-2 1 2 1 0 1 0 1 2 1-1 1-1 1 0 1 1 1-2 1 0 1 7 1-2 1-3 1 1 1 0 1-3 1 2 1 2 1 0 1-1 1 0 1 0 1-1 1 2 1 1 1 0 1 2 1-4 1 2 1 0 1 0 1 3 1-1 1 3 1-3 1-3 1 0 1 0 1 3 1 0 1 0 1 3 1-3 1 0 1 1 1-3 1 2 1 4 1-4 1-1 1 1 1-1 1 4 1-4 1 2 1-3 1 3 1 2 1-3 1 2 1 0 1 2 1-5 1 4 1-1 1-1 1-2 1 3 1 0 1-3 1 6 1-3 1 1 1 2 1-2 1 0 1 1 1-2 1 1 1 0 1-1 1-1 1 5 1-4 1 0 1-2 1 2 1 2 1-2 1 2 1-1 1 3 1-5 1 5 1-1 1 2 1-3 1-1 1 1 1 2 1 3 1-8 1 4 1 1 1-1 1 1 1-2 1 1 1-1 1 5 1-2 1-3 1 2 1 4 1-4 1-1 1 3 1-1 1-1 1 0 1-2 1 1 1 2 1-2 1 4 1 0 1-5 1 2 1 0 1-1 1-2 1 5 1-1 1 0 1 0 1-1 1 2 1-4 1 4 1-2 1 2 1-1 1 2 1-1 1 0 1 0 1 0 1-2 1 2 1 3 1-5 1 1 1 1 1 1 1-3 1 1 1 0 1-2 1-1 1 1 1-1 1-4 1-3 1-5 1-7 1-9 1-1 1-1 1 8 1 8 1 1 1 5 1 7 1 1 1 1 1 1 1 3 1 0 1 0 1 0 1 1 1 1 1 4 1-6 1 2 1 0 1-2 1 1 1-2 1 0 1 2 1 2 1 0 1 0 1 1 1 0 1 0 1 0 1 2 1 0 1-2 1-1 1 4 1 1 1-1 1 1 1 3 1-3 1 0 1 2 1 0 1-2 1-3 1 6 1-4 1 1 1 1 1-1 1-4 1 3 1-1 1-4 1 5 1-4 1 2 1 2 1 1 1 5 1-3 1 2 1 0 1-2 1-1 1 2 1 1 1-1 1 0 1 0 1 1 1 0 1 1 1 1 1 4 1-5 1 2 1-4 1 2 1 0 1 0 1 0 1 1 1 0 1-1 1 1 1-3 1 4 1 0 1 1 1-4 1 4 1-3 1 0 1-1 1-1 1-1 1 1 1 1 1 2 1-1 1-2 1 1 1-3 1 4 1 3 1-3 1 0 1 2 1-3 1 0 1-2 1-1 1-2 1 0 1 0 1-2 1-2 1 2 1 1 1 4 1 2 1-1 1 1 1 2 1 2 1-4 1 1 1 0 1-2 1 2 1 0 1 0 1-2 1 4 1 1 1-1 1 1 1-1 1 0 1 0 1 0 1 3 1-3 1-1 1 0 1 0 1 3 1 0 1 0 1-2 1-1 1 1 1 4 1-6 1 4 1-3 1-1 1 0 1 1 1-3 1-5 1 4 1-3 1 0 1 0 1-1 1 4 1 1 1-1 1 2 1 3 1 1 1 0 1-1 1 0 1 1 1-1 1 6 1-3 1 4 1-4 1 1 1-1 1 1 1 0 1-2 1 0 1 0 1 3 1 2 1-4 1 2 1 1 1-4 1 2 1 1 1-3 1 0 1 5 1-1 1 0 1-1 1-6 1 2 1 0 1 2 1 0 1 0 1-2 1 1 1-1 1-1 1 0 1 2 1-1 1-3 1 5 1-2 1 1 1 2 1-2 1 0 1 6 1-5 1 1 1 1 1-4 1 4 1 0 1-1 1 2 1-2 1 1 1 0 1-2 1 2 1 2 1 2 1-3 1 1 1 0 1-4 1 4 1 1 1 0 1 0 1-3 1 2 1-1 1 0 1 1 1-1 1 1 1-1 1 0 1 0 1 2 1 2 1-3 1 0 1-1 1 1 1-1 1 1 1 2 1 0 1-1 1-1 1 1 1-1 1 0 1 1 1 0 1-1 1 2 1-1 1 1 1-1 1-1 1-2 1 4 1 0 1 0 1 0 1-1 1 0 1-1 1-3 1 2 1-2 1 0 1 0 1-2 1 1 1-1 1-2 1 0 1 4 1 4 1-2 1 6 1-4 1 5 1-3 1-3 1 5 1-3 1 1 1-1 1 1 1 1 1-1 1-1 1 2 1 2 1 1 1-5 1 3 1-3 1 2 1-1 1 0 1 2 1 2 1-3 1 2 1 0 1-2 1 1 1 0 1 1 1-1 1 0 1-2 1 2 1 1 1 4 1-5 1 1 1-1 1 1 1 1 1-1 1 0 1 1 1-1 1 1 1 0 1-1 1 0 1 0 1 2 1-3 1 1 1 1 1-4 1 4 1 0 1 0 1 1 1 0 1 0 1 3 1-4 1 2 1 4 1-3 1-3 1 5 1-2 1 3 1-1 1-1 1 1 1-2 1-2 1 1 1 0 1 0 1 0 1 1 1-1 1 2 1-2 1 4 1-3 1 1 1 4 1-3 1 2 1-3 1-1 1 2 1-1 1 3 1-3 1 2 1 1 1-4 1 1 1 0 1 4 1-7 1 5 1-1 1 1 1-2 1 0 1 4 1-7 1 3 1 1 1-1 1 3 1-2 1-1 1 2 1-2 1 3 1 3 1-3 1 3 1-5 1 1 1 3 1-1 1-1 1-4 1 2 1 2 1-1 1 2 1-3 1 1 1 1 1 1 1-2 1 2 1 2 1-2 1 5 1-6 1 2 1-1 1 1 1-1 1-2 1 0 1 2 1 5 1-4 1-3 1 1 1-4 1 3 1 3 1 0 1-4 1 3 1 0 1-2 1 0 1-1 1 1 1-3 1 6 1-4 1-6 1 1 1 3 1-3 1 6 1 2 1-1 1-1 1-1 1 2 1 2 1 0 1-2 1 2 1-4 1 3 1 1 1-3 1 3 1 0 1 1 1 0 1-2 1-1 1 0 1 0 1 2 1 3 1-4 1 1 1-3 1 10 1-5 1 1 1 0 1-3 1 2 1-4 1 4 1 2 1-6 1 4 1-3 1-1 1 4 1-2 1-1 1 3 1 0 1 2 1-1 1 4 1-6 1 6 1-6 1-4 1 8 1 3 1-8 1 3 1 0 1-6 1 7 1-4 1 3 1-3 1 4 1-9 1 9 1-2 1-4 1 1 1-4 1-6 1 2 1 8 1-3 1 0 1 6 1-4 1 4 1-3 1 3 1-1 1 0 1 8 1-5 1-3 1-1 1 4 1-2 1 0 1 2 1 4 1-1 1-4 1-1 1 1 1 1 1-3 1 3 1 3 1-3 1 2 1-4 1-4 1 4 1 4 1 3 1 0 1-2 1-5 1 3 1 0 1-4 1-2 1 5 1 0 1 1 1-2 1 2 1 5 1 1 1-1 1-4 1-7 1 5 1 1 1-1 1-1 1-1 1 7 1-4 1 2 1-7 1 1 1 4 1 0 1 0 1-1 1 3 1-1 1 4 1-5 1 7 1-7 1 3 1-2 1-1 1 1 1 3 1 0 1 3 1-1 1-6 1 3 1-1 1 3 1-3 1-1 1 5 1-4 1-2 1 2 1 0 1 5 1-3 1-1 1 3 1-3 1 7 1-8 1-1 1 2 1 3 1-3 1-2 1 1 1-1 1 2 1-2 1 2 1-1 1 2 1-3 1 10 1-11 1 3 1 2 1-3 1 1 1 0 1 1 1-3 1 3 1-1 1 0 1 4 1-4 1-2 1 3 1 0 1 0 1 0 1-4 1 3 1-1 1 3 1-2 1 5 1-2 1 2 1-3 1 1 1-4 1-3 1 5 1-1 1 0 1-5 1 4 1-3 1-1 1 6 1-6 1 4 1-2 1 3 1 0 1-1 1 0 1 2 1-2 1 2 1-2 1 6 1-2 1 3 1-5 1-3 1 1 1 2 1 0 1-2 1 2 1 1 1 2 1-8 1 2 1 3 1-1 1-3 1-2 1 8 1-5 1 1 1-6 1 4 1 2 1-1 1-1 1 3 1-1 1 0 1-4 1 7 1-2 1 0 1 5 1-4 1 2 1-2 1 2 1-2 1-1 1-1 1-2 1 5 1 1 1-2 1 8 1-9 1 2 1-1 1 1 1 1 1 1 1-9 1 11 1-5 1-1 1-2 1 1 1-3 1-2 1 6 1 0 1 1 1-7 1 5 1 0 1 1 1 3 1-2 1-4 1 4 1 3 1-3 1 1 1-2 1 6 1-4 1 2 1-1 1-2 1-1 1 5 1-3 1-2 1 5 1-9 1 11 1-8 1 0 1 1 1-4 1 0 1 0 1-5 1 5 1 2 1-3 1 4 1 2 1 0 1-5 1 3 1 0 1-1 1-4 1 0 1 9 1-4 1-1 1 3 1 1 1 1 1-4 1-4 1 7 1-2 1 1 1 7 1-7 1 8 1-7 1-5 1 12 1-9 1 0 1-1 1 10 1-8 1-1 1 3 1-4 1-2 1 4 1 3 1-2 1 1 1 0 1 0 1 1 1-5 1 0 1 5 1-5 1 3 1-7 1 5 1-1 1 7 1-4 1 0 1 0 1-4 1 3 1 1 1 4 1-4 1 1 1 0 1-2 1 2 1-7 1 3 1 5 1 3 1-3 1-5 1 1 1 2 1 3 1-3 1-3 1 3 1 6 1-2 1-5 1 0 1 0 1 0 1-5 1 10 1-6 1 2 1 1 1 0 1-1 1 3 1-4 1 1 1-1 1 1 1-3 1 5 1-3 1-1 1 0 1 1 1 1 1-3 1 6 1 0 1-4 1 6 1-4 1 1 1 0 1 1 1-4 1 2 1 1 1-4 1-3 1 3 1 6 1-1 1 1 1-6 1 1 1 1 1 7 1-7 1 1 1 1 1-2 1 4 1-6 1 3 1 2 1 0 1-2 1-3 1-1 1 1 1-4 1 7 1-2 1 1 1-1 1 2 1-2 1-1 1 2 1 6 1-10 1 8 1-5 1 1 1-3V0"/><path transform="translate(84.18,696.73) scale(0.6692,1.0)" vector-effect="non-scaling-stroke" d="M0 0V-141l1-1 1 2 1 2 1 2 1-3 1-2 1 2 1 1 1-4 1 5 1 1 1 0 1 0 1 5 1-7 1 3 1 3 1-3 1 3 1-1 1 3 1-1 1-2 1 1 1 0 1 3 1-2 1 0 1-3 1 2 1-1 1 1 1 1 1 0 1 5 1 0 1-1 1-1 1-2 1 3 1 0 1-1 1 1 1 1 1-1 1 0 1-3 1 1 1 3 1 0 1 0 1-2 1 1 1 3 1-2 1 5 1 3 1-6 1 3 1-1 1 3 1-3 1 3 1-1 1 2 1-1 1-1 1 1 1 5 1-4 1 0 1 0 1 1 1 1 1 0 1-3 1 7 1 0 1-3 1 0 1 0 1 1 1 0 1 2 1-3 1-1 1 0 1 0 1 4 1 3 1-3 1-2 1 0 1 1 1-2 1 4 1-1 1-1 1 1 1 0 1 0 1 3 1-4 1 4 1-2 1-2 1 1 1 0 1 3 1-2 1 1 1 1 1-1 1 0 1 2 1-3 1 2 1-1 1 0 1 0 1-2 1 2 1-3 1 4 1-4 1 4 1 1 1-2 1 1 1 0 1-1 1 2 1 1 1-1 1-1 1 3 1 0 1-1 1-4 1 4 1 0 1 3 1-3 1 1 1 1 1-4 1 1 1 2 1 0 1-3 1 5 1-2 1 0 1 2 1 0 1-2 1-2 1 2 1 0 1 2 1-2 1 2 1-1 1-3 1 2 1-2 1 0 1 4 1-2 1 3 1-2 1-3 1 3 1 1 1 0 1-2 1 3 1-1 1 0 1-1 1 1 1 2 1-1 1 0 1 0 1 0 1 1 1-2 1 6 1-4 1-1 1 0 1 1 1-3 1-1 1 4 1 1 1-1 1 4 1-1 1-4 1 3 1 0 1-3 1 1 1 2 1 2 1-3 1-4 1 2 1 5 1-6 1 3 1-1 1 2 1-1 1-3 1 3 1 0 1 4 1-3 1 2 1-5 1 3 1 5 1-2 1-4 1 2 1-2 1 0 1-1 1 6 1-4 1 0 1 2 1-2 1 0 1 0 1-1 1 2 1-1 1 0 1-3 1 4 1-4 1 2 1-6 1-2 1-3 1-5 1-6 1-4 1-7 1 1 1 6 1 6 1 6 1 4 1 4 1 2 1 4 1-1 1 3 1 1 1-2 1 1 1 1 1 1 1-3 1-1 1 4 1 3 1-3 1-2 1-4 1 2 1 1 1 2 1-1 1 5 1-3 1 5 1-1 1 0 1-3 1 4 1 0 1 0 1-1 1-2 1 2 1 2 1-2 1 5 1-1 1-2 1 1 1 0 1 1 1-3 1 2 1-3 1 3 1-1 1-1 1-1 1-1 1-1 1 1 1-1 1 2 1 3 1-2 1 3 1 2 1-5 1 3 1 1 1 3 1-2 1-3 1 4 1 2 1-3 1 2 1 0 1 3 1-4 1-1 1 0 1 2 1-1 1-2 1 4 1-5 1 4 1 1 1-1 1 0 1-4 1 4 1 1 1 2 1-4 1-3 1 4 1-1 1-4 1 5 1-1 1 1 1 1 1-2 1 2 1 0 1 3 1 1 1-3 1 2 1-1 1 1 1 1 1-2 1 0 1 0 1-1 1 5 1-7 1 2 1 2 1-3 1 0 1 1 1 1 1-1 1 5 1-4 1 1 1 1 1 0 1-2 1 4 1-1 1 0 1 0 1 1 1-1 1 0 1 3 1-2 1 0 1 1 1-4 1 3 1-1 1 2 1 1 1-2 1 1 1-3 1 2 1 1 1-1 1 1 1-1 1-4 1 4 1-1 1 1 1-1 1-1 1-2 1-1 1-2 1-1 1-4 1-2 1-1 1 0 1-4 1 5 1 1 1 3 1 4 1-1 1 5 1-2 1 5 1 1 1 0 1 0 1 3 1-5 1 2 1 2 1 0 1 1 1 1 1 2 1-2 1 0 1-1 1 2 1 1 1-1 1 1 1-1 1 1 1 1 1-3 1 4 1-2 1 4 1-7 1 2 1 0 1 3 1 2 1-3 1-5 1 2 1 2 1-3 1 2 1-2 1 3 1-1 1-1 1 0 1 2 1-1 1 0 1-1 1 3 1 0 1 0 1 0 1-2 1 3 1 0 1 1 1 0 1 1 1 0 1 2 1-2 1 0 1-1 1 1 1 4 1-6 1 3 1 3 1 0 1-7 1 4 1 1 1-1 1 3 1-2 1 0 1-2 1 3 1-3 1 4 1-3 1 4 1-3 1 0 1 2 1 0 1 1 1-1 1-1 1 2 1-2 1 2 1-1 1-1 1-3 1 4 1-1 1 0 1 1 1 1 1 0 1 5 1-6 1 4 1 0 1 0 1-5 1 2 1 2 1-3 1 1 1 0 1 3 1-3 1 0 1 0 1 0 1 0 1 0 1-4 1 4 1-4 1-1 1-3 1 0 1 1 1-1 1 9 1-5 1 3 1-2 1 3 1 0 1 3 1-2 1 0 1 3 1-1 1-1 1 0 1 2 1-1 1 0 1 0 1 1 1 1 1 2 1-3 1 2 1-4 1 3 1 0 1 0 1-1 1-1 1 0 1 4 1 1 1-3 1 1 1 0 1 1 1 0 1-2 1-1 1 3 1 0 1 1 1-3 1 4 1-1 1-2 1 2 1-4 1 3 1 0 1-1 1 1 1 0 1-1 1 2 1-2 1 2 1 0 1-1 1 1 1 3 1-3 1 2 1 0 1-1 1-1 1 1 1 4 1-3 1 1 1 0 1-2 1 0 1 0 1-3 1 3 1 0 1 1 1-1 1 1 1-1 1 0 1 2 1 0 1-3 1 3 1 0 1 0 1-1 1 3 1-2 1 1 1 0 1-1 1 1 1-4 1 4 1 2 1-1 1-1 1-2 1 2 1 2 1-2 1 1 1 0 1 0 1 2 1-3 1 0 1 0 1 3 1-1 1 1 1-2 1-2 1-1 1 4 1-1 1 2 1-1 1-5 1 7 1-2 1 2 1-2 1 0 1-1 1 1 1-1 1 0 1 0 1 1 1-1 1 0 1-2 1 3 1 0 1-1 1-1 1-1 1 0 1 3 1 1 1-3 1 2 1-4 1 7 1-6 1 0 1 3 1 1 1 0 1 0 1 0 1-3 1 4 1-2 1 3 1-4 1 1 1-1 1 0 1-3 1 3 1-1 1 4 1-3 1 0 1 6 1-7 1 2 1 1 1-2 1 2 1-2 1 7 1-4 1-1 1 0 1-5 1 7 1-7 1 5 1 1 1 3 1-4 1 0 1-1 1 0 1 6 1-4 1-2 1 2 1 0 1 0 1 0 1-1 1 0 1 2 1-1 1 1 1 0 1 0 1 0 1 0 1-3 1 3 1 2 1-4 1 3 1-2 1 6 1-5 1-1 1-1 1 0 1-1 1 0 1 5 1-1 1 0 1-1 1 0 1-1 1 2 1-4 1 5 1-8 1 6 1-1 1 0 1-1 1 2 1-1 1-4 1 6 1-1 1-2 1 1 1 1 1-6 1 3 1-3 1-2 1 7 1-4 1 2 1-4 1 5 1 3 1 4 1-4 1 3 1 2 1-3 1-7 1 6 1 0 1-1 1 2 1-1 1 0 1-1 1 2 1 2 1-4 1 0 1 2 1 2 1 1 1-5 1-5 1 5 1-1 1 0 1 2 1 0 1-1 1-2 1 6 1-1 1-7 1 5 1 1 1 0 1-2 1-4 1 7 1 3 1-3 1 1 1-2 1 1 1-3 1 1 1 1 1-7 1 6 1 3 1-4 1 2 1 1 1 2 1-4 1 1 1 4 1-3 1 0 1 4 1-5 1 6 1-7 1 3 1 0 1 5 1-5 1 2 1 1 1 0 1-4 1 1 1-1 1-5 1 5 1 2 1 1 1 3 1-2 1-3 1 2 1-1 1-3 1 2 1-7 1 8 1-5 1-3 1 5 1 0 1 0 1 5 1-7 1 1 1 0 1 0 1 5 1-3 1 2 1 5 1-2 1 2 1-8 1 5 1-2 1 0 1 1 1-6 1 4 1 8 1-6 1 1 1 4 1-5 1-2 1 5 1-8 1 6 1-2 1-1 1-1 1 2 1-2 1 3 1 1 1-2 1 0 1-2 1-1 1 2 1-1 1 3 1-2 1-1 1 0 1-1 1 4 1-5 1 5 1 0 1-2 1-3 1-1 1 4 1-2 1 3 1 2 1-3 1 1 1-1 1-1 1 0 1-4 1 4 1 0 1 2 1 5 1-7 1-2 1 3 1 4 1-4 1 0 1 4 1-2 1-2 1-4 1-2 1 4 1-4 1 6 1-4 1 3 1 0 1-2 1-1 1 1 1 0 1 2 1 0 1 1 1-3 1 3 1-7 1 5 1 1 1-1 1-4 1 6 1 2 1-8 1 0 1 5 1 0 1 2 1-3 1 5 1-2 1 1 1-4 1 3 1-5 1 1 1-3 1 5 1 2 1-3 1-3 1 5 1 2 1-1 1-1 1 7 1-6 1-2 1-1 1-1 1 4 1 5 1-2 1-6 1 0 1 4 1-4 1-2 1 4 1 4 1-1 1-2 1-3 1 6 1-2 1 0 1 0 1-1 1-3 1 4 1-3 1-2 1 4 1-8 1 8 1 0 1-9 1 8 1-3 1-2 1 4 1-3 1 2 1-2 1-1 1 0 1 0 1 3 1 2 1-1 1 2 1-3 1-3 1 5 1-1 1-1 1 6 1 3 1-8 1 1 1-4 1-2 1 9 1-6 1 6 1-2 1 0 1 0 1-3 1-1 1 6 1-5 1 1 1-4 1 8 1 0 1-3 1 2 1-2 1 7 1-5 1-3 1 2 1-1 1-1 1 2 1 0 1 3 1-4 1 3 1-5 1 3 1-3 1 3 1 0 1-2 1 4 1-3 1 3 1-1 1-3 1 2 1 6 1-9 1 11 1-4 1-5 1-1 1-3 1 10 1 2 1-6 1 0 1-1 1-1 1 0 1-5 1 6 1 6 1-5 1-2 1 3 1 1 1-2 1-4 1 6 1-5 1 0 1 1 1-2 1 1 1 2 1-2 1 3 1-2 1 4 1-2 1 0 1-3 1 0 1 5 1-7 1 6 1-2 1-2 1 1 1 1 1-6 1 7 1-1 1 3 1-3 1 1 1-1 1-2 1 5 1-4 1 4 1-3 1-2 1 1 1 2 1 0 1 4 1-4 1-3 1 4 1-1 1 1 1 1 1 0 1-3 1-4 1 4 1-1 1 0 1 4 1-2 1-3 1-5 1 7 1-4 1 3 1 1 1-1 1 1 1 1 1-2 1-4 1 5 1 0 1-2 1-2 1 7 1-6 1 3V0"/><path transform="translate(79.05,702.65) scale(0.6692,1.0)" vector-effect="non-scaling-stroke" d="M0 0V-162l1 3 1 0 1 0 1-1 1 1 1 4 1-4 1 1 1 0 1 0 1 1 1 3 1 1 1-6 1 3 1 2 1-1 1 1 1 2 1-2 1 1 1 0 1 1 1 0 1 2 1-2 1-1 1 1 1 2 1 0 1 0 1 0 1 1 1 0 1 0 1 2 1 5 1-5 1 2 1-1 1 1 1-2 1 1 1 3 1 4 1-4 1 4 1-4 1 2 1 1 1-4 1 4 1 0 1 1 1-3 1 5 1 0 1 1 1 0 1-1 1-1 1 3 1-2 1 2 1 2 1-4 1 0 1-1 1 4 1-1 1 1 1 0 1 4 1-6 1 4 1-1 1 1 1 0 1-2 1 1 1 0 1 2 1-3 1 2 1 1 1 0 1 0 1 1 1 1 1-1 1-3 1 2 1 1 1 2 1 0 1-2 1 1 1 2 1-2 1 1 1-2 1 1 1 1 1 5 1-4 1 1 1-3 1 2 1-2 1 4 1 0 1 1 1-3 1-2 1 4 1 0 1 0 1 2 1-1 1 0 1-1 1-1 1 1 1 0 1 3 1-3 1 2 1 1 1-3 1 3 1-2 1 2 1 1 1-1 1-1 1 0 1 2 1 4 1-3 1 1 1-2 1-3 1 3 1 1 1 0 1-1 1 1 1 0 1-1 1-1 1 3 1-1 1-1 1 4 1-3 1 1 1-1 1 1 1 0 1-1 1 1 1-1 1 1 1 0 1 0 1-1 1 0 1 2 1 4 1-4 1 1 1 0 1-1 1 1 1 2 1-3 1 0 1 1 1 2 1-3 1 4 1-3 1 0 1 5 1-5 1 1 1-1 1 1 1 1 1 0 1 1 1 0 1-2 1-2 1 4 1-2 1-1 1 3 1 0 1-1 1-2 1 1 1-2 1 3 1-1 1 1 1-2 1 0 1 3 1-2 1-2 1 4 1 3 1-3 1 2 1-1 1-1 1 1 1 0 1 3 1-4 1 0 1 1 1 5 1-3 1-2 1 0 1 0 1 2 1-2 1 1 1 0 1 2 1-4 1 3 1-2 1 2 1 3 1-4 1 1 1-1 1-1 1 3 1-5 1 1 1-6 1 1 1-1 1 1 1-10 1-4 1-6 1-1 1 0 1 6 1 3 1 5 1 2 1 7 1 3 1 0 1 2 1 0 1 6 1-6 1 5 1-7 1 5 1-2 1 2 1-4 1-1 1-3 1-1 1-4 1 2 1 2 1 4 1 2 1 3 1 1 1 1 1-3 1 1 1 5 1 1 1 0 1 5 1-4 1-2 1 4 1 0 1-1 1 0 1 0 1-1 1 2 1-1 1-2 1 1 1 1 1-2 1 0 1 2 1-1 1-1 1 1 1 1 1-7 1 3 1-1 1 4 1 0 1 1 1-1 1 0 1 4 1 0 1 4 1-3 1 4 1-3 1-1 1 6 1-5 1 3 1-3 1 1 1-2 1 1 1-1 1 5 1-4 1 2 1-2 1 1 1 0 1-1 1 1 1-1 1 2 1-1 1-4 1 3 1 0 1-2 1-4 1 1 1 1 1 2 1 0 1 0 1 2 1 0 1 1 1 1 1 2 1-2 1 3 1-1 1-1 1 0 1-4 1 4 1-3 1-2 1 1 1 0 1-1 1-1 1 0 1 0 1 2 1 3 1 3 1-3 1-1 1 4 1 2 1 0 1 0 1 1 1 0 1 3 1-3 1 1 1 3 1-3 1 1 1 0 1-2 1 2 1 1 1-4 1 4 1-2 1 2 1 0 1-2 1-2 1 4 1-4 1 1 1 1 1 0 1 1 1 0 1-2 1 0 1 0 1 0 1-1 1-2 1-2 1-4 1-6 1 1 1-1 1-4 1 3 1-2 1 4 1 4 1 6 1-3 1 2 1 7 1 1 1 0 1 2 1 4 1-5 1 1 1 3 1-1 1 0 1 0 1 1 1-2 1 1 1 0 1 4 1-2 1 0 1 0 1 1 1 0 1 1 1-3 1 1 1 1 1-1 1 1 1 2 1-2 1 2 1-5 1 4 1-1 1-3 1 4 1-5 1 3 1 0 1 0 1-3 1-3 1 3 1 1 1-4 1 5 1 3 1 0 1-2 1 2 1 1 1 5 1-3 1 1 1-2 1 2 1-3 1 0 1 8 1-5 1 2 1-2 1 4 1-1 1 1 1-4 1 5 1-2 1 0 1 0 1-1 1 3 1-2 1 1 1 1 1-1 1 2 1 0 1-2 1-1 1 1 1 0 1 0 1 1 1 4 1-5 1 1 1 1 1-1 1 2 1-2 1 1 1 2 1-1 1 1 1-3 1 7 1-7 1 0 1 2 1-3 1 4 1 0 1-1 1 0 1 2 1-3 1 1 1 2 1-2 1 0 1 3 1-4 1 1 1 4 1-8 1 2 1-1 1 0 1-2 1-1 1-3 1-6 1 2 1 1 1 2 1 4 1-2 1 2 1 2 1-1 1 6 1 0 1 3 1-3 1 2 1 0 1 2 1-1 1 1 1 3 1-1 1-3 1 2 1-1 1 0 1 2 1 2 1 0 1-5 1 3 1-3 1 2 1 7 1-5 1 0 1 0 1 1 1 1 1-1 1-2 1 3 1-2 1 1 1 0 1 0 1 4 1-2 1-1 1-2 1 3 1-1 1 2 1-6 1 3 1 4 1-1 1-2 1 1 1 1 1 0 1-1 1 0 1 2 1-3 1 1 1 0 1-1 1 1 1 2 1-1 1-1 1 0 1 2 1 0 1-2 1 1 1 5 1-3 1-3 1 0 1 5 1 1 1-4 1-3 1 3 1-1 1 1 1 2 1-1 1-1 1-3 1 6 1 0 1-4 1 2 1-1 1-3 1 0 1 4 1-1 1 1 1 1 1 0 1-2 1 0 1 3 1 1 1-3 1 3 1-1 1-1 1 0 1 0 1 1 1 1 1-2 1-1 1 6 1-5 1-1 1-2 1 5 1 0 1 4 1-2 1-5 1 3 1-1 1 0 1-4 1 6 1-1 1 1 1 1 1-2 1-1 1-2 1 3 1-4 1 3 1 2 1-4 1 2 1 1 1-1 1 3 1-6 1 2 1 0 1-2 1 6 1-5 1 4 1-3 1 3 1-2 1 4 1-4 1 0 1-1 1 1 1 2 1-5 1 4 1-1 1 0 1-3 1 3 1-1 1 1 1-3 1 0 1 1 1-1 1-4 1-1 1-3 1 4 1-3 1 8 1-2 1 0 1 0 1 6 1-3 1 0 1 2 1 2 1-2 1 0 1 0 1 1 1 5 1-4 1-1 1-2 1 1 1 0 1 1 1-1 1 5 1-6 1 4 1 0 1-2 1 1 1 2 1 2 1-5 1 1 1-4 1 3 1 1 1 2 1 0 1 3 1-5 1 2 1 1 1 2 1-4 1 0 1 0 1-1 1-1 1-2 1 5 1-2 1 4 1-2 1 5 1-5 1-4 1 4 1-1 1 0 1 4 1-5 1 8 1-8 1-1 1 1 1 2 1 0 1 7 1-10 1 1 1-2 1 1 1 0 1 4 1-3 1-1 1 2 1-2 1 0 1-1 1 3 1-1 1 5 1-6 1 5 1 0 1 1 1 2 1-6 1-1 1 3 1 1 1-2 1-1 1 4 1-3 1 3 1-8 1 9 1-4 1 0 1 0 1 2 1-4 1 9 1-8 1 6 1-2 1-1 1 1 1-1 1 1 1-1 1 4 1-5 1-3 1-1 1 9 1-4 1 1 1 4 1-6 1 4 1-3 1-2 1 2 1-2 1-4 1-1 1 8 1 0 1 0 1 8 1-10 1 8 1-4 1-3 1 2 1-7 1 7 1-1 1 3 1 0 1-4 1 1 1 1 1 1 1-2 1 3 1-3 1 0 1 0 1 3 1-3 1-4 1 3 1-3 1 4 1-3 1 9 1-4 1-7 1 6 1 1 1 0 1 0 1-1 1 0 1 0 1 1 1-3 1 4 1 0 1-2 1 2 1-1 1-1 1 4 1-3 1-2 1-2 1 3 1 5 1-9 1 4 1 0 1 1 1-3 1 8 1-8 1 1 1 6 1-6 1 2 1 1 1-1 1-2 1 0 1 1 1-1 1 0 1 3 1-1 1 6 1-5 1 1 1-4 1 0 1 1 1-1 1 0 1 3 1 1 1-2 1-1 1 3 1-1 1-1 1-5 1 8 1-2 1 0 1 0 1-1 1 5 1-8 1 7 1 1 1-6 1 1 1-1 1 0 1 6 1-4 1 1 1-5 1 1 1 2 1 0 1 4 1-5 1 0 1 0 1 1 1 6 1-5 1-2 1 3 1 1 1-2 1 0 1-2 1 3 1-3 1-5 1 6 1-1 1 0 1-5 1 5 1-1 1 1 1 2 1-2 1 0 1-5 1 5 1 4 1-7 1 3 1 2 1-4 1 3 1-1 1 0 1 1 1-3 1 4 1-4 1-1 1 4 1 0 1 1 1 2 1 2 1-4 1-3 1 1 1 2 1-1 1 8 1-10 1 1 1-5 1 2 1 5 1 0 1 2 1-3 1-2 1 1 1 1 1 6 1-6 1 0 1 0 1 1 1 3 1-3 1-2 1-5 1 6 1 6 1-7 1-5 1 5 1-1 1 9 1-1 1-9 1 2 1 0 1-1 1 0 1-2 1 2 1-2 1-7 1 5 1-1 1 1 1 6 1-2 1-2 1 1 1-5 1 2 1 4 1-3 1 2 1 2 1 0 1 4 1 2 1-9 1 0 1 3 1 0 1-2 1 1 1 2 1 0 1 4 1-5 1 2 1-1 1 2 1-3 1 4 1-2 1 2 1 3 1 0 1-5 1 1 1 2 1-6 1 4 1-3 1-2 1 8 1-6 1 2 1 4 1-2 1-3 1-1 1 9 1-6 1 1 1-2 1 0 1 8 1-8 1-5 1 8 1-3 1-1 1 2 1 0 1-3 1 3 1-5 1 4 1-2 1 1 1-1 1 1 1 1 1 1 1 4 1-4 1-2 1-2 1 2 1 1 1 0 1-3 1 2 1 1 1-2 1 2 1-1 1-1 1 3 1-3 1-2 1-1 1 3 1 1 1 1 1-5 1 6 1-1 1 1 1-2 1 1 1 0 1-3 1 4 1 3 1-3 1-1 1 1 1-3 1 7 1-5 1 1 1 1 1-2 1 0 1 1 1-2 1 0 1 2 1-6 1 4 1-1 1 2 1 0 1-2 1 4 1 0 1-2 1 0 1 2 1 1 1 1 1-10 1 7 1-2 1 0 1 0 1 2 1-7 1 6 1-2 1 3 1 2 1-3 1 8 1-8 1 3 1-3 1-2 1 1 1 2 1-4 1 5 1-1 1-2V0"/><path transform="translate(73.93,708.58) scale(0.6692,1.0)" vector-effect="non-scaling-stroke" d="M0 0V-129l1-2 1 3 1 1 1 2 1-1 1-3 1 7 1-4 1 0 1-2 1 0 1 0 1 2 1 0 1 2 1 2 1-1 1-1 1-1 1 2 1-1 1 1 1 2 1 0 1-1 1 2 1-2 1 3 1-1 1 1 1-2 1 0 1 2 1 1 1 2 1-2 1 1 1 1 1-1 1-2 1-1 1 7 1-2 1 2 1-4 1 2 1 2 1-4 1 2 1 2 1-2 1 2 1 0 1 2 1-1 1-3 1 2 1 5 1-4 1-3 1 4 1-2 1 1 1 1 1 2 1-1 1 0 1 1 1 1 1-1 1 1 1 4 1-3 1 0 1-1 1 1 1 0 1-1 1 0 1 0 1 1 1 1 1 1 1-3 1 2 1-1 1-1 1 3 1 1 1-3 1 2 1 0 1-2 1 3 1-1 1 5 1-4 1-2 1 4 1-1 1 1 1-2 1 1 1-2 1 1 1 1 1-1 1 0 1-1 1 3 1-1 1 0 1-2 1 6 1-2 1 1 1 2 1-1 1-4 1 3 1 0 1 0 1 1 1-2 1-2 1-2 1 0 1 2 1 2 1-1 1 0 1-1 1 5 1-6 1 3 1 3 1-2 1 2 1-4 1 2 1 4 1-5 1 2 1 0 1 1 1 0 1-1 1 3 1-2 1 0 1 0 1-2 1-2 1 6 1 0 1-3 1 6 1-5 1 3 1 2 1-3 1-1 1-1 1-3 1 4 1 3 1-2 1-4 1 4 1-2 1-2 1 7 1-4 1 1 1 1 1-1 1-1 1-1 1 3 1-1 1 0 1 5 1-5 1 0 1 2 1-2 1-4 1 4 1 4 1-6 1 2 1 2 1 0 1-1 1 0 1-1 1 1 1 0 1 2 1-1 1 0 1-1 1 1 1 2 1-2 1 1 1-1 1 1 1-1 1 1 1-2 1 2 1-1 1 2 1-2 1-1 1 0 1 2 1 0 1-1 1 1 1 1 1-3 1 3 1-1 1 0 1 0 1 0 1 1 1 1 1 0 1-1 1-5 1 2 1-2 1 3 1-1 1 3 1-5 1 3 1-1 1 1 1-3 1 3 1-3 1-2 1 2 1-5 1-8 1-2 1-3 1-8 1-5 1 0 1 8 1 5 1 7 1 7 1 5 1-4 1 5 1-2 1 1 1 6 1-3 1 1 1 1 1-1 1 1 1-1 1-1 1-3 1-1 1-1 1-4 1 1 1 4 1 1 1 1 1 5 1 0 1 4 1-2 1-1 1 6 1-4 1 0 1-1 1 1 1 1 1 0 1 2 1-1 1 0 1 1 1-1 1 1 1-1 1 0 1 0 1 3 1 0 1-3 1 1 1-3 1 2 1 0 1 0 1 4 1-4 1 0 1 1 1-2 1 3 1 0 1 1 1 0 1 3 1 1 1-2 1 1 1-5 1 5 1-1 1 2 1-2 1 0 1 4 1-3 1 0 1 1 1-1 1-1 1-2 1 2 1-1 1 2 1 3 1-1 1-3 1 1 1 0 1-3 1 2 1 1 1 3 1-1 1-3 1 1 1-1 1-2 1 4 1 3 1-7 1 4 1-2 1-1 1 3 1 0 1-2 1 2 1-3 1-2 1 3 1 4 1-4 1-2 1 0 1 2 1-4 1 0 1 6 1-2 1 0 1-1 1 3 1-1 1 2 1-3 1 7 1-6 1 3 1-1 1 0 1 1 1 0 1 0 1 0 1 1 1-2 1 1 1 0 1 4 1-3 1-1 1 0 1-1 1 3 1-1 1 0 1-4 1 5 1-1 1-1 1 1 1 0 1-1 1-2 1 2 1-1 1-1 1-1 1-2 1 2 1-6 1-4 1 1 1 1 1-6 1 3 1 1 1 0 1 3 1 2 1 3 1 3 1-3 1 4 1 0 1 2 1 0 1 4 1-2 1-2 1-1 1 3 1 0 1 1 1 1 1 0 1 1 1-2 1 4 1-3 1 0 1-3 1 3 1 1 1 1 1-4 1 3 1 0 1 0 1 0 1 0 1 1 1-1 1-1 1 0 1 0 1 0 1 1 1 0 1 1 1-1 1 1 1 0 1 0 1-2 1 6 1-4 1 0 1 1 1 0 1 0 1-3 1 2 1 3 1-1 1 0 1 1 1-1 1 0 1 0 1 1 1 1 1 1 1-2 1 2 1-2 1 0 1 1 1-2 1 1 1-1 1 1 1 0 1 1 1 0 1 1 1-1 1-4 1 5 1-1 1 1 1-1 1 1 1 3 1-3 1-4 1 6 1-4 1 2 1 4 1-6 1 4 1-1 1-3 1 0 1 1 1 1 1 0 1 3 1-3 1 1 1-4 1 6 1-2 1-2 1 3 1 0 1 0 1 0 1 1 1-1 1 0 1-2 1 1 1 0 1 1 1-2 1 0 1 1 1-1 1-3 1 3 1-5 1-4 1-1 1-1 1 2 1 1 1 1 1 3 1 2 1 2 1 0 1 1 1 4 1-2 1 3 1-4 1 3 1 0 1 0 1 0 1 0 1-2 1 2 1-1 1 1 1 0 1-2 1 3 1 1 1-1 1 0 1-4 1 2 1 3 1-1 1 2 1-3 1 1 1 1 1 0 1 0 1 0 1-2 1 3 1-2 1 2 1-2 1 2 1 0 1 1 1 1 1-3 1 1 1 3 1-1 1-1 1 0 1 0 1 0 1 2 1 0 1 0 1-4 1 2 1 1 1 0 1-1 1 4 1-6 1 3 1 0 1-1 1 0 1 0 1 2 1 0 1 1 1-1 1 2 1-2 1-3 1 3 1 3 1-1 1-1 1 1 1 0 1 0 1-1 1 1 1-2 1 0 1-2 1 5 1 2 1-1 1-2 1-1 1-1 1 5 1-5 1 1 1 2 1-1 1-1 1 1 1 2 1-2 1 1 1 2 1-3 1 0 1 2 1-2 1 2 1 0 1-1 1 1 1-2 1 1 1 2 1-1 1 4 1-3 1 0 1-1 1 3 1-3 1 4 1-2 1 1 1-2 1-2 1 1 1 1 1-2 1 2 1 0 1-1 1-1 1-1 1 3 1 4 1-4 1 4 1-3 1 0 1-2 1 0 1 1 1-4 1 3 1 2 1-1 1-1 1 0 1 1 1-2 1 5 1-5 1-2 1 1 1 4 1-4 1 3 1-2 1 5 1-5 1 1 1 1 1-2 1-1 1-2 1 1 1 3 1-8 1 6 1-6 1 5 1 1 1-1 1 2 1-1 1-3 1 5 1 0 1 0 1 2 1 0 1 2 1-3 1 1 1 1 1 0 1 0 1-3 1-1 1 6 1-2 1 1 1-1 1-2 1 2 1-2 1 1 1-2 1 2 1 1 1 1 1-1 1 0 1-1 1-1 1 4 1-3 1 9 1-7 1 1 1 0 1-2 1-3 1 2 1 3 1-1 1 0 1 0 1 2 1-1 1 1 1-2 1-5 1 2 1 3 1 0 1 2 1-1 1-5 1 6 1-2 1 1 1-3 1 4 1-1 1-1 1-5 1 3 1-9 1 5 1-2 1-2 1 2 1 1 1-1 1 6 1-8 1 9 1 3 1-4 1 5 1-4 1-2 1 7 1 3 1-5 1-1 1 2 1-4 1-3 1 6 1 3 1-5 1 0 1 5 1-4 1-3 1 2 1-1 1 2 1-2 1 3 1-2 1-2 1 3 1 3 1-3 1 0 1 2 1 0 1-1 1 2 1-1 1 6 1-8 1 8 1-5 1-2 1 1 1-1 1-1 1-4 1 9 1-1 1-3 1 1 1-4 1 2 1 5 1-4 1 3 1 3 1-4 1 0 1 1 1-4 1 3 1 1 1-1 1-1 1 0 1 7 1-5 1-1 1 5 1-4 1 2 1-4 1 6 1-5 1 2 1-1 1 1 1 3 1-5 1 2 1-2 1-2 1 7 1 0 1-7 1 6 1-2 1-1 1-2 1 1 1 2 1 5 1-9 1-3 1 5 1 2 1 0 1 7 1-7 1 2 1-4 1 0 1 3 1 4 1-6 1 0 1-1 1-1 1 4 1-6 1 2 1 3 1 1 1-1 1-4 1 6 1-5 1 3 1 0 1-2 1-2 1 0 1 1 1 1 1 0 1 3 1 0 1 0 1-3 1-1 1 2 1-1 1 4 1-5 1 3 1-4 1 5 1 5 1-7 1 1 1 1 1 0 1-3 1-2 1 4 1 2 1-6 1 6 1-6 1 5 1-5 1 6 1 0 1-3 1 1 1-4 1 2 1 1 1 1 1-1 1 7 1-7 1-6 1 8 1-5 1-3 1 8 1-4 1 2 1 1 1 0 1 4 1-3 1-6 1 2 1 4 1 0 1-1 1-1 1 2 1 1 1-9 1 7 1-4 1 3 1 2 1-1 1 0 1-1 1 2 1 3 1-4 1-1 1 1 1 1 1 1 1-2 1-1 1-4 1 6 1 2 1-3 1-2 1 1 1 0 1-1 1 6 1-7 1 4 1-2 1-1 1 2 1-1 1 0 1 3 1-3 1 1 1-1 1-4 1 5 1-1 1 0 1-1 1-1 1 3 1 8 1-2 1-6 1-4 1 6 1 1 1-5 1 2 1 2 1-3 1 4 1-1 1-3 1 1 1-1 1 2 1-8 1 6 1-1 1-2 1 5 1-5 1 2 1 0 1-4 1 5 1-4 1-2 1 2 1-6 1 1 1 7 1-1 1-3 1 6 1-3 1 2 1-2 1 1 1-1 1 3 1-2 1 1 1 4 1-2 1-2 1 3 1-1 1-6 1 6 1-2 1 3 1 2 1-4 1 2 1 2 1 0 1-5 1 1 1-3 1 3 1 0 1-2 1 6 1-2 1 1 1 0 1-7 1 5 1 3 1-4 1 10 1-12 1 6 1-1 1 2 1-8 1 4 1-5 1 5 1-1 1 1 1-1 1 2 1 1 1-2 1 2 1 0 1-3 1 1 1 5 1-4 1-2 1-2 1 2 1 3 1-1 1-4 1 3 1-1 1 2 1-2 1 2 1 4 1-5 1 1 1 2 1-2 1-1 1-1 1 10 1-9 1-1 1 4 1-3 1-1 1 5 1 4 1-5 1-3 1 2 1-2 1-1 1 0 1 2 1-1 1-5 1 1 1 3 1-2 1 2 1 1 1-1 1-1 1 3 1 4 1-6 1 2 1-5 1 7 1 0 1-3 1-4 1 5 1 4 1-6 1 2 1-2 1 4 1 4 1-2 1-6 1-1 1 5 1 3 1-4 1-2 1 1 1-4 1 0 1 5 1-3 1 3 1-4 1 4 1-3 1 8 1-5 1 0 1-2 1 2 1-2 1-2 1 4 1-2 1-4 1 4 1 1 1 4V0"/><path transform="translate(68.80,714.50) scale(0.6692,1.0)" vector-effect="non-scaling-stroke" d="M0 0V-147l1-2 1 0 1 2 1 1 1 0 1 0 1 0 1 0 1-2 1 5 1-1 1-2 1 3 1-1 1 3 1 4 1-3 1-1 1 1 1 0 1 2 1-1 1-1 1 3 1-4 1 3 1 1 1 0 1 1 1-1 1 2 1-1 1 0 1 1 1 2 1-3 1 1 1 1 1 3 1-3 1 1 1 0 1 2 1 0 1-1 1 0 1 2 1 0 1 2 1 0 1-2 1 4 1-2 1 1 1 1 1-2 1 2 1 1 1-2 1 1 1-1 1 2 1 1 1 3 1 1 1-5 1 1 1 4 1 1 1-5 1 5 1-4 1 3 1-1 1 1 1 0 1 4 1-3 1 0 1 2 1-4 1 5 1-3 1-2 1 4 1-1 1 1 1 0 1-1 1 0 1-1 1 4 1-2 1 1 1 2 1-1 1 1 1-2 1 0 1 7 1-4 1-2 1 1 1 1 1-1 1 4 1-1 1-2 1-2 1-1 1 3 1 1 1 0 1 0 1-1 1 2 1-1 1 0 1 3 1-2 1 1 1-1 1 1 1 0 1-1 1-2 1 5 1-1 1 1 1 1 1 0 1-1 1-2 1 5 1-3 1 2 1-2 1-2 1 3 1 0 1-2 1 6 1-5 1-1 1-1 1 0 1 6 1-8 1 4 1-1 1 3 1-1 1 0 1 3 1-1 1-3 1 5 1-4 1 0 1 1 1 0 1 1 1-1 1 3 1 0 1-5 1 7 1-4 1-2 1 3 1-1 1-4 1 6 1-2 1 1 1-4 1 4 1 1 1 0 1 1 1 0 1 0 1-3 1 3 1 1 1-1 1-1 1 1 1 0 1-2 1 2 1-1 1 1 1-2 1 3 1-2 1-1 1 2 1 1 1-2 1-1 1 6 1-3 1 1 1-1 1-3 1 0 1 3 1 2 1-1 1-1 1-1 1 2 1 2 1 0 1-2 1 0 1-2 1 1 1-1 1 2 1 2 1-1 1-2 1 2 1-2 1 1 1 0 1 0 1 2 1 1 1-2 1-1 1 0 1 1 1-1 1-1 1 2 1 3 1-4 1 3 1 1 1-2 1 0 1-2 1-1 1-1 1-3 1-4 1-1 1-8 1-6 1-1 1 3 1-1 1 5 1 8 1 5 1 3 1 0 1 3 1 2 1 2 1 0 1 0 1 0 1-1 1-3 1 3 1 0 1 3 1-4 1-1 1-1 1-1 1-1 1 1 1 2 1 0 1 3 1 1 1 2 1 3 1 0 1-1 1 1 1-1 1 2 1 0 1-1 1 2 1-2 1-2 1 7 1-5 1 0 1 1 1-1 1 2 1 3 1-5 1 2 1 0 1 1 1-2 1 0 1 1 1-5 1 3 1-1 1-1 1 2 1-1 1 4 1-4 1 1 1 4 1 0 1 3 1-2 1 0 1 5 1-5 1 1 1 0 1-3 1 0 1 6 1-1 1-2 1 0 1 1 1 0 1-1 1 1 1 4 1-4 1-2 1 2 1 3 1-5 1 5 1-3 1 0 1-1 1-1 1 3 1 0 1-2 1 2 1-2 1 3 1-2 1 0 1-1 1 1 1 1 1-4 1 2 1 3 1-2 1-2 1 2 1 1 1-2 1 2 1-3 1-1 1-3 1 0 1 1 1 1 1 2 1-3 1 1 1 3 1 3 1-2 1 2 1 1 1 0 1 0 1 1 1-2 1 1 1 1 1-1 1 1 1 2 1-1 1-3 1-1 1 3 1 1 1-1 1 0 1 1 1 0 1-2 1-2 1 1 1 0 1 1 1 0 1 1 1-1 1 1 1-2 1 1 1-1 1-1 1-5 1 1 1 0 1-1 1-4 1-2 1-2 1-2 1 4 1 0 1 2 1 2 1 3 1 4 1-1 1 2 1 5 1-3 1 0 1 0 1 4 1-3 1 4 1-6 1 3 1 6 1-4 1-4 1 2 1 1 1 2 1 4 1-8 1 3 1 4 1-1 1-2 1 1 1 0 1-1 1 0 1 0 1-1 1 3 1-1 1 0 1-1 1 0 1 3 1-1 1 1 1 0 1-2 1-1 1 0 1 2 1-3 1-2 1 3 1 0 1 2 1-1 1-1 1 2 1-1 1 1 1 1 1 1 1 1 1 1 1 0 1-4 1 3 1-2 1 1 1-3 1 4 1 2 1-1 1 0 1-5 1 3 1 2 1-2 1 1 1 0 1 1 1-1 1-1 1 0 1 2 1 1 1-1 1-2 1 2 1 1 1 0 1 1 1-4 1 4 1-1 1 0 1 2 1 0 1-2 1 1 1-1 1 2 1-1 1 0 1-1 1 0 1 0 1 2 1 1 1 1 1-3 1 1 1-1 1-1 1 2 1-3 1 1 1-3 1 4 1-2 1-3 1 5 1-3 1 2 1 1 1-4 1 1 1-4 1 0 1-3 1-2 1-3 1-3 1 5 1 2 1 2 1 5 1-3 1 5 1 0 1 0 1 3 1 2 1-1 1-1 1 1 1-1 1-1 1 4 1-2 1 2 1-1 1 4 1-4 1 1 1 4 1-2 1 4 1-4 1-1 1 0 1-4 1 5 1-1 1 0 1 0 1-1 1 0 1 3 1-2 1 0 1 2 1 1 1-1 1 0 1 2 1 0 1-2 1-4 1 5 1 1 1-3 1 2 1-1 1 0 1 2 1 0 1-1 1 2 1-3 1 0 1 3 1-1 1-2 1 6 1-1 1-4 1-2 1 2 1 2 1-1 1 0 1-1 1 2 1-2 1 3 1 0 1-1 1-1 1-2 1 2 1 3 1 1 1-3 1 2 1 0 1 0 1-2 1 2 1-3 1 3 1-1 1-1 1 3 1 1 1-2 1 0 1-2 1 3 1 0 1 1 1-2 1 0 1 1 1-3 1 4 1-2 1-3 1 2 1 0 1 2 1-3 1 1 1 2 1 0 1 1 1-1 1 5 1-2 1-3 1 0 1 2 1-3 1-1 1 1 1 2 1-4 1 3 1 1 1-1 1-4 1 5 1 0 1 0 1-2 1 0 1-1 1 2 1 0 1 1 1 2 1-1 1-4 1 2 1 0 1 0 1 0 1 0 1 2 1-4 1 2 1-1 1 3 1-4 1 2 1 0 1-2 1 0 1 4 1 1 1-3 1 1 1 1 1-1 1 0 1-4 1 3 1 1 1-2 1 1 1-3 1 0 1-2 1 1 1-1 1 1 1-6 1 5 1 5 1-1 1 0 1-5 1 5 1 1 1 1 1 1 1 0 1 0 1 0 1-2 1 2 1 6 1-4 1-3 1 1 1 0 1 4 1-2 1 0 1 1 1-5 1 5 1 3 1-3 1-3 1-1 1 2 1 1 1 2 1-4 1 2 1 2 1-4 1 3 1-4 1 1 1 3 1-1 1 0 1 5 1-5 1 4 1-4 1 1 1 0 1-3 1 8 1-5 1-1 1 3 1 0 1 2 1-1 1-2 1 0 1-1 1 5 1-6 1-1 1 1 1 4 1-4 1 1 1-1 1-2 1-1 1 7 1-9 1 4 1-5 1 0 1 7 1-1 1-7 1 7 1 2 1-7 1 5 1 2 1-2 1-3 1 5 1-5 1 8 1 1 1-2 1 4 1 1 1-1 1-4 1 1 1-1 1-1 1 0 1 0 1 3 1-4 1 0 1-3 1 3 1-6 1 5 1 2 1-2 1 1 1 1 1 6 1-3 1-3 1 1 1 1 1-2 1 2 1-3 1-1 1 4 1-1 1-1 1 4 1-4 1-1 1-3 1 1 1 0 1 6 1-2 1-3 1 4 1 2 1-2 1 1 1-1 1-1 1 2 1-1 1 4 1-3 1-1 1 2 1 5 1-10 1 3 1-1 1 2 1 1 1 2 1-9 1 15 1-4 1-8 1 3 1-2 1-2 1 4 1 0 1 4 1-3 1-2 1 0 1 1 1 4 1-6 1 3 1-3 1 2 1-4 1 12 1-6 1-1 1 2 1 5 1-5 1-6 1 5 1 0 1-2 1-1 1 1 1 2 1-2 1 2 1 0 1 0 1 0 1-1 1-5 1 1 1 4 1-1 1-3 1 1 1 3 1-1 1 2 1 0 1 1 1 1 1-1 1-2 1 0 1 0 1-1 1 1 1 1 1 1 1-7 1 3 1 3 1 1 1-5 1 5 1-2 1-1 1 2 1 3 1-2 1 1 1-9 1 7 1 3 1-3 1 2 1-4 1 3 1-2 1 3 1 0 1-4 1 5 1 2 1-2 1-7 1 5 1 3 1-4 1-2 1-4 1 3 1-2 1 6 1-2 1 1 1 2 1-2 1-5 1 4 1-3 1 5 1-2 1-1 1-2 1 2 1-8 1 7 1-3 1 4 1-6 1 6 1 3 1-5 1 3 1 1 1-4 1 2 1 3 1-3 1 9 1 0 1-8 1-2 1 1 1 0 1 3 1-2 1-1 1 2 1 0 1-6 1 0 1 3 1 2 1 5 1-4 1 0 1 0 1-3 1 3 1 0 1-2 1 2 1-2 1 3 1 0 1-3 1 6 1-3 1 1 1-2 1 3 1-3 1 0 1-2 1 5 1 0 1-1 1-2 1-1 1 0 1 0 1 0 1-5 1 4 1-5 1 4 1 3 1-2 1 0 1 7 1-5 1 0 1-1 1 0 1-2 1 0 1 0 1-1 1-1 1 2 1 5 1-4 1 1 1-4 1 0 1 2 1 1 1 1 1 1 1 1 1-1 1-1 1-1 1 4 1-3 1 6 1-8 1 4 1-6 1 5 1 0 1-2 1 2 1 0 1 1 1-3 1 3 1-4 1-2 1 10 1-12 1 8 1 1 1 2 1-5 1 4 1-2 1 1 1-2 1 3 1-8 1 6 1-4 1 3 1 2 1-5 1 3 1 1 1-1 1 3 1-5 1 1 1 0 1 3 1 0 1-2 1 5 1-4 1 1 1-2 1 1 1 1 1 0 1 5 1-6 1-1 1 1 1-1 1-2 1 3 1-1 1-2 1 2 1 0 1 3 1-5 1 2 1 0 1 4 1-3 1-1 1 2 1-2 1-2 1 4 1-2 1-4 1-1 1 4 1 1 1 0 1-1 1 3 1 4 1-6 1 3 1-1 1 2 1-2 1-1 1 4 1-7 1 5 1-4 1 2 1-2 1 1 1 2 1 2 1-2 1-1 1 2 1-9 1 9 1-5 1 2 1-5 1 4 1 5 1-8 1 6 1 1 1-3 1 2 1-3 1 5 1-1 1-4 1-3 1 0 1 4 1 0 1-3 1-2 1 5 1-3 1 2 1 0 1 1 1 1 1-3 1 1 1-4 1 2 1 0 1 3 1 1 1 0 1-2V0"/></g><line x1="68.8" y1="714.5" x2="68.8" y2="567.4" stroke="#ff1414" stroke-width="4.2"/>
<line x1="66.5" y1="714.6" x2="875" y2="714.6" stroke="#1a1a1a" stroke-width="2.8"/><line x1="874.5" y1="714.6" x2="1130.8" y2="418" stroke="#1a1a1a" stroke-width="2.4"/><line x1="68.8" y1="714" x2="68.8" y2="705" stroke="#555" stroke-width="2.2"/><line x1="104.5" y1="714" x2="104.5" y2="710" stroke="#222" stroke-width="2"/><line x1="140.2" y1="714" x2="140.2" y2="710" stroke="#222" stroke-width="2"/><line x1="175.9" y1="714" x2="175.9" y2="710" stroke="#222" stroke-width="2"/><line x1="211.6" y1="714" x2="211.6" y2="710" stroke="#222" stroke-width="2"/><line x1="247.2" y1="714" x2="247.2" y2="705" stroke="#555" stroke-width="2.2"/><line x1="282.9" y1="714" x2="282.9" y2="710" stroke="#222" stroke-width="2"/><line x1="318.6" y1="714" x2="318.6" y2="710" stroke="#222" stroke-width="2"/><line x1="354.3" y1="714" x2="354.3" y2="710" stroke="#222" stroke-width="2"/><line x1="390.0" y1="714" x2="390.0" y2="710" stroke="#222" stroke-width="2"/><line x1="425.7" y1="714" x2="425.7" y2="705" stroke="#555" stroke-width="2.2"/><line x1="461.4" y1="714" x2="461.4" y2="710" stroke="#222" stroke-width="2"/><line x1="497.1" y1="714" x2="497.1" y2="710" stroke="#222" stroke-width="2"/><line x1="532.7" y1="714" x2="532.7" y2="710" stroke="#222" stroke-width="2"/><line x1="568.4" y1="714" x2="568.4" y2="710" stroke="#222" stroke-width="2"/><line x1="604.1" y1="714" x2="604.1" y2="705" stroke="#555" stroke-width="2.2"/><line x1="639.8" y1="714" x2="639.8" y2="710" stroke="#222" stroke-width="2"/><line x1="675.5" y1="714" x2="675.5" y2="710" stroke="#222" stroke-width="2"/><line x1="711.2" y1="714" x2="711.2" y2="710" stroke="#222" stroke-width="2"/><line x1="746.9" y1="714" x2="746.9" y2="710" stroke="#222" stroke-width="2"/><line x1="782.6" y1="714" x2="782.6" y2="705" stroke="#555" stroke-width="2.2"/><line x1="818.2" y1="714" x2="818.2" y2="710" stroke="#222" stroke-width="2"/><line x1="853.9" y1="714" x2="853.9" y2="710" stroke="#222" stroke-width="2"/><text x="67.6" y="751" text-anchor="middle" font-size="34.8">2000</text><text x="246.0" y="751" text-anchor="middle" font-size="34.8">1600</text><text x="424.5" y="751" text-anchor="middle" font-size="34.8">1200</text><text x="602.9" y="751" text-anchor="middle" font-size="34.8">800</text><text x="781.4" y="751" text-anchor="middle" font-size="34.8">400</text><line x1="1130.8" y1="418.4" x2="1124.8" y2="418.4" stroke="#111" stroke-width="2"/><line x1="1079.5" y1="477.6" x2="1073.5" y2="477.6" stroke="#111" stroke-width="2"/><line x1="1028.3" y1="536.9" x2="1022.3" y2="536.9" stroke="#111" stroke-width="2"/><line x1="977.0" y1="596.1" x2="971.0" y2="596.1" stroke="#111" stroke-width="2"/><line x1="925.8" y1="655.4" x2="919.8" y2="655.4" stroke="#111" stroke-width="2"/><line x1="874.5" y1="714.6" x2="868.5" y2="714.6" stroke="#111" stroke-width="2"/><line x1="1130" y1="411.3" x2="1125" y2="411.3" stroke="#222" stroke-width="2"/><line x1="1130" y1="398.1" x2="1125" y2="398.1" stroke="#222" stroke-width="2"/><line x1="1130" y1="384.9" x2="1125" y2="384.9" stroke="#222" stroke-width="2"/><line x1="1130" y1="371.8" x2="1121" y2="371.8" stroke="#222" stroke-width="2"/><line x1="1130" y1="358.6" x2="1125" y2="358.6" stroke="#222" stroke-width="2"/><line x1="1130" y1="345.4" x2="1125" y2="345.4" stroke="#222" stroke-width="2"/><line x1="1130" y1="332.2" x2="1125" y2="332.2" stroke="#222" stroke-width="2"/><line x1="1130" y1="319.0" x2="1125" y2="319.0" stroke="#222" stroke-width="2"/><line x1="1130" y1="305.9" x2="1121" y2="305.9" stroke="#222" stroke-width="2"/><line x1="1130" y1="292.7" x2="1125" y2="292.7" stroke="#222" stroke-width="2"/><line x1="1130" y1="279.5" x2="1125" y2="279.5" stroke="#222" stroke-width="2"/><line x1="1130" y1="266.3" x2="1125" y2="266.3" stroke="#222" stroke-width="2"/><line x1="1130" y1="253.1" x2="1125" y2="253.1" stroke="#222" stroke-width="2"/><line x1="1130" y1="240.0" x2="1121" y2="240.0" stroke="#222" stroke-width="2"/><line x1="1130" y1="226.8" x2="1125" y2="226.8" stroke="#222" stroke-width="2"/><line x1="1130" y1="213.6" x2="1125" y2="213.6" stroke="#222" stroke-width="2"/><line x1="1130" y1="200.4" x2="1125" y2="200.4" stroke="#222" stroke-width="2"/><line x1="1130" y1="187.2" x2="1125" y2="187.2" stroke="#222" stroke-width="2"/><line x1="1130" y1="174.1" x2="1121" y2="174.1" stroke="#222" stroke-width="2"/><line x1="1130" y1="160.9" x2="1125" y2="160.9" stroke="#222" stroke-width="2"/><line x1="1130" y1="147.7" x2="1125" y2="147.7" stroke="#222" stroke-width="2"/><line x1="1130" y1="134.5" x2="1125" y2="134.5" stroke="#222" stroke-width="2"/><line x1="1130" y1="121.3" x2="1125" y2="121.3" stroke="#222" stroke-width="2"/><line x1="1130" y1="108.2" x2="1121" y2="108.2" stroke="#222" stroke-width="2"/><line x1="1130" y1="95.0" x2="1125" y2="95.0" stroke="#222" stroke-width="2"/><text x="0" y="0" transform="translate(209.9,815.2)" font-size="66.1" dx="-5.3">Raman shift (cm</text><text x="684" y="779" font-size="38">-1</text><text x="722" y="815.2" font-size="65.8">)</text><text x="0" y="0" transform="translate(1201.9,384.9) rotate(-90)" font-size="46.6" dx="-4.37">Intensity (a.u.)</text><text x="0" y="0" transform="translate(1121.5,490) scale(1.0,0.9) skewX(-38)" text-anchor="middle" font-size="32" style="stroke:#fff;stroke-width:0.6">10</text><text x="0" y="0" transform="translate(1065.5,550) scale(1.0,0.9) skewX(-38)" text-anchor="middle" font-size="32" style="stroke:#fff;stroke-width:0.6">20</text><text x="0" y="0" transform="translate(1013,608) scale(1.0,0.9) skewX(-38)" text-anchor="middle" font-size="32" style="stroke:#fff;stroke-width:0.6">30</text><text x="0" y="0" transform="translate(961.5,668) scale(1.0,0.9) skewX(-38)" text-anchor="middle" font-size="32" style="stroke:#fff;stroke-width:0.6">40</text><text x="0" y="0" transform="translate(910.5,726) scale(1.0,0.9) skewX(-38)" text-anchor="middle" font-size="32" style="stroke:#fff;stroke-width:0.6">50</text><text x="0" y="0" transform="translate(1008.5,743.5) rotate(-53.3)" font-size="49.8">Different spots</text><text x="0" y="0" transform="translate(84.8,156.3) scale(0.655,1)" font-size="129.6" style="font-family:Liberation Serif,serif;fill:#d9660f;stroke:#fff;stroke-width:1.6">A</text>
<defs><linearGradient id="bg" x1="0" y1="0" x2="0" y2="1"><stop offset="0.00" stop-color="rgb(255,0,0)"/><stop offset="0.10" stop-color="rgb(252,0,0)"/><stop offset="0.20" stop-color="rgb(245,0,0)"/><stop offset="0.30" stop-color="rgb(232,0,0)"/><stop offset="0.40" stop-color="rgb(214,0,0)"/><stop offset="0.50" stop-color="rgb(191,0,0)"/><stop offset="0.60" stop-color="rgb(163,0,0)"/><stop offset="0.70" stop-color="rgb(130,0,0)"/><stop offset="0.80" stop-color="rgb(92,0,0)"/><stop offset="0.90" stop-color="rgb(48,0,0)"/><stop offset="1.00" stop-color="rgb(0,0,0)"/></linearGradient><clipPath id="cb"><rect x="1486" y="40" width="960" height="712"/></clipPath></defs><g clip-path="url(#cb)"><rect x="1485.25" y="232.25" width="16.30" height="518.75" fill="url(#bg)" stroke="#000" stroke-width="1.7"/><rect x="1507.45" y="280.25" width="13.30" height="470.75" fill="url(#bg)" stroke="#000" stroke-width="1.7"/><rect x="1526.65" y="168.05" width="13.30" height="582.95" fill="url(#bg)" stroke="#000" stroke-width="1.7"/><rect x="1545.85" y="242.65" width="13.30" height="508.35" fill="url(#bg)" stroke="#000" stroke-width="1.7"/><rect x="1565.05" y="285.85" width="13.30" height="465.15" fill="url(#bg)" stroke="#000" stroke-width="1.7"/><rect x="1584.25" y="299.15" width="13.30" height="451.85" fill="url(#bg)" stroke="#000" stroke-width="1.7"/><rect x="1603.45" y="274.35" width="13.30" height="476.65" fill="url(#bg)" stroke="#000" stroke-width="1.7"/><rect x="1622.65" y="241.55" width="13.30" height="509.45" fill="url(#bg)" stroke="#000" stroke-width="1.7"/><rect x="1641.85" y="280.25" width="13.30" height="470.75" fill="url(#bg)" stroke="#000" stroke-width="1.7"/><rect x="1661.05" y="277.45" width="13.30" height="473.55" fill="url(#bg)" stroke="#000" stroke-width="1.7"/><rect x="1680.25" y="247.05" width="13.30" height="503.95" fill="url(#bg)" stroke="#000" stroke-width="1.7"/><rect x="1699.45" y="311.95" width="13.30" height="439.05" fill="url(#bg)" stroke="#000" stroke-width="1.7"/><rect x="1718.65" y="279.95" width="13.30" height="471.05" fill="url(#bg)" stroke="#000" stroke-width="1.7"/><rect x="1737.85" y="280.25" width="13.30" height="470.75" fill="url(#bg)" stroke="#000" stroke-width="1.7"/><rect x="1757.05" y="274.35" width="13.30" height="476.65" fill="url(#bg)" stroke="#000" stroke-width="1.7"/><rect x="1776.25" y="213.25" width="13.30" height="537.75" fill="url(#bg)" stroke="#000" stroke-width="1.7"/><rect x="1795.45" y="260.35" width="13.30" height="490.65" fill="url(#bg)" stroke="#000" stroke-width="1.7"/><rect x="1814.65" y="281.35" width="13.30" height="469.65" fill="url(#bg)" stroke="#000" stroke-width="1.7"/><rect x="1833.85" y="274.35" width="13.30" height="476.65" fill="url(#bg)" stroke="#000" stroke-width="1.7"/><rect x="1853.05" y="278.75" width="13.30" height="472.25" fill="url(#bg)" stroke="#000" stroke-width="1.7"/><rect x="1872.25" y="292.05" width="13.30" height="458.95" fill="url(#bg)" stroke="#000" stroke-width="1.7"/><rect x="1891.45" y="278.75" width="13.30" height="472.25" fill="url(#bg)" stroke="#000" stroke-width="1.7"/><rect x="1910.65" y="242.65" width="13.30" height="508.35" fill="url(#bg)" stroke="#000" stroke-width="1.7"/><rect x="1929.85" y="234.45" width="13.30" height="516.55" fill="url(#bg)" stroke="#000" stroke-width="1.7"/><rect x="1949.05" y="239.95" width="13.30" height="511.05" fill="url(#bg)" stroke="#000" stroke-width="1.7"/><rect x="1968.25" y="259.25" width="13.30" height="491.75" fill="url(#bg)" stroke="#000" stroke-width="1.7"/><rect x="1987.45" y="237.05" width="13.30" height="513.95" fill="url(#bg)" stroke="#000" stroke-width="1.7"/><rect x="2006.65" y="275.85" width="13.30" height="475.15" fill="url(#bg)" stroke="#000" stroke-width="1.7"/><rect x="2025.85" y="270.95" width="13.30" height="480.05" fill="url(#bg)" stroke="#000" stroke-width="1.7"/><rect x="2045.05" y="159.55" width="13.30" height="591.45" fill="url(#bg)" stroke="#000" stroke-width="1.7"/><rect x="2064.25" y="186.15" width="13.30" height="564.85" fill="url(#bg)" stroke="#000" stroke-width="1.7"/><rect x="2083.45" y="162.95" width="13.30" height="588.05" fill="url(#bg)" stroke="#000" stroke-width="1.7"/><rect x="2102.65" y="251.05" width="13.30" height="499.95" fill="url(#bg)" stroke="#000" stroke-width="1.7"/><rect x="2121.85" y="247.45" width="13.30" height="503.55" fill="url(#bg)" stroke="#000" stroke-width="1.7"/><rect x="2141.05" y="166.25" width="13.30" height="584.75" fill="url(#bg)" stroke="#000" stroke-width="1.7"/><rect x="2160.25" y="185.45" width="13.30" height="565.55" fill="url(#bg)" stroke="#000" stroke-width="1.7"/><rect x="2179.45" y="229.35" width="13.30" height="521.65" fill="url(#bg)" stroke="#000" stroke-width="1.7"/><rect x="2198.65" y="229.35" width="13.30" height="521.65" fill="url(#bg)" stroke="#000" stroke-width="1.7"/><rect x="2217.85" y="229.35" width="13.30" height="521.65" fill="url(#bg)" stroke="#000" stroke-width="1.7"/><rect x="2237.05" y="150.05" width="13.30" height="600.95" fill="url(#bg)" stroke="#000" stroke-width="1.7"/><rect x="2256.25" y="204.55" width="13.30" height="546.45" fill="url(#bg)" stroke="#000" stroke-width="1.7"/><rect x="2275.45" y="142.55" width="13.30" height="608.45" fill="url(#bg)" stroke="#000" stroke-width="1.7"/><rect x="2294.65" y="226.65" width="13.30" height="524.35" fill="url(#bg)" stroke="#000" stroke-width="1.7"/><rect x="2313.85" y="216.05" width="13.30" height="534.95" fill="url(#bg)" stroke="#000" stroke-width="1.7"/><rect x="2333.05" y="234.85" width="13.30" height="516.15" fill="url(#bg)" stroke="#000" stroke-width="1.7"/><rect x="2352.25" y="216.05" width="13.30" height="534.95" fill="url(#bg)" stroke="#000" stroke-width="1.7"/><rect x="2371.45" y="198.75" width="13.30" height="552.25" fill="url(#bg)" stroke="#000" stroke-width="1.7"/><rect x="2390.65" y="187.75" width="13.30" height="563.25" fill="url(#bg)" stroke="#000" stroke-width="1.7"/><rect x="2409.85" y="226.05" width="13.30" height="524.95" fill="url(#bg)" stroke="#000" stroke-width="1.7"/><rect x="2429.05" y="200.15" width="13.30" height="550.85" fill="url(#bg)" stroke="#000" stroke-width="1.7"/></g><text x="0" y="0" transform="translate(1306.7,155) scale(0.756,1)" font-size="129.2" style="font-family:Liberation Serif,serif;fill:#d9620f;stroke:#fff;stroke-width:1.6">B</text><line x1="1486" y1="43" x2="2447" y2="43" stroke="#b0b0b0" stroke-width="3"/><line x1="2446.6" y1="41.5" x2="2446.6" y2="752" stroke="#333" stroke-width="2.6"/><line x1="1485.9" y1="41.5" x2="1485.9" y2="752" stroke="#000" stroke-width="2.4"/><line x1="1484.7" y1="750.6" x2="2447.5" y2="750.6" stroke="#000" stroke-width="2.6"/><line x1="1486" y1="750.2" x2="1501" y2="750.2" stroke="#000" stroke-width="2.4"/><line x1="1486" y1="667.0" x2="1496" y2="667.0" stroke="#000" stroke-width="2.4"/><line x1="1486" y1="583.8" x2="1501" y2="583.8" stroke="#000" stroke-width="2.4"/><line x1="1486" y1="501.8" x2="1496" y2="501.8" stroke="#000" stroke-width="2.4"/><line x1="1486" y1="419.9" x2="1501" y2="419.9" stroke="#000" stroke-width="2.4"/><line x1="1486" y1="337.0" x2="1496" y2="337.0" stroke="#000" stroke-width="2.4"/><line x1="1486" y1="254.1" x2="1501" y2="254.1" stroke="#000" stroke-width="2.4"/><line x1="1486" y1="170.8" x2="1496" y2="170.8" stroke="#000" stroke-width="2.4"/><line x1="1486" y1="87.6" x2="1501" y2="87.6" stroke="#000" stroke-width="2.4"/><text x="0" y="0" transform="translate(1483.8,100.9) scale(0.945,1)" text-anchor="end" font-size="46.5">16000</text><text x="0" y="0" transform="translate(1483.8,265.6) scale(0.945,1)" text-anchor="end" font-size="46.5">12000</text><text x="0" y="0" transform="translate(1483.8,430.6) scale(0.945,1)" text-anchor="end" font-size="46.5">8000</text><text x="0" y="0" transform="translate(1483.8,596.4) scale(0.945,1)" text-anchor="end" font-size="46.5">4000</text><text x="0" y="0" transform="translate(1483.8,762.0) scale(0.945,1)" text-anchor="end" font-size="46.5">0</text><text x="0" y="0" transform="translate(1667.7,797.6) scale(0.96,1)" text-anchor="middle" font-size="42">10</text><text x="0" y="0" transform="translate(1859.7,797.6) scale(0.96,1)" text-anchor="middle" font-size="42">20</text><text x="0" y="0" transform="translate(2051.7,797.6) scale(0.96,1)" text-anchor="middle" font-size="42">30</text><text x="0" y="0" transform="translate(2243.7,797.6) scale(0.96,1)" text-anchor="middle" font-size="42">40</text><text x="0" y="0" transform="translate(2435.7,797.6) scale(0.96,1)" text-anchor="middle" font-size="42">50</text><defs><clipPath id="cds"><rect x="1700" y="780" width="600" height="94"/></clipPath></defs><g clip-path="url(#cds)"><text x="0" y="0" transform="translate(1744,865.2) scale(0.954,1)" font-size="80.3" dx="-6">Different Spots</text></g><text x="0" y="0" transform="translate(1347.6,706.3) rotate(-90)" font-size="76.6" dx="-7">Intensity (a.u.)</text><text x="0" y="0" transform="translate(1535.7,105.8) scale(0.955,1)" font-size="59.6" dx="-7">RSD</text><text x="0" y="0" transform="translate(1706,105.5) scale(0.955,1)" font-size="59.6">7.7%</text><text x="0" y="0" transform="translate(1648,102) scale(0.97,0.8)" font-size="60" style="font-family:Noto Serif CJK SC,Noto Sans CJK SC,serif">＜</text><text x="0" y="0" transform="translate(2148.1,109.6) scale(0.955,1)" font-size="59.3" dx="-8">1620 cm</text><text x="0" y="0" transform="translate(2357,80.3) scale(0.955,1)" font-size="34.5">-1</text>
</svg></body></html>
